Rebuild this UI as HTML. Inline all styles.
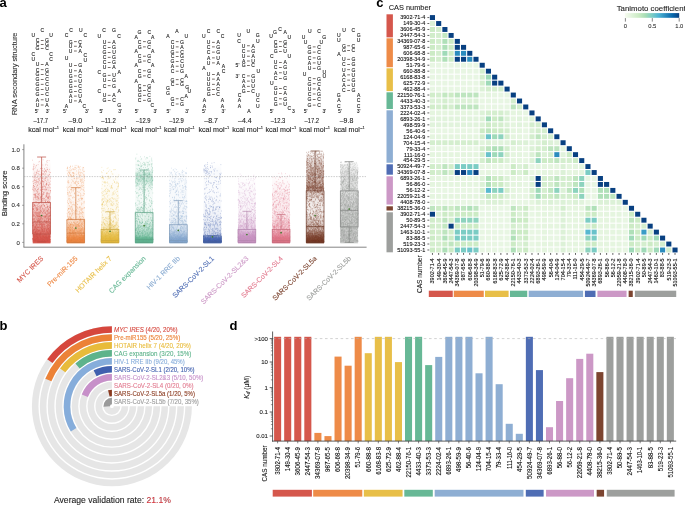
<!DOCTYPE html>
<html><head><meta charset="utf-8"><style>
html,body{margin:0;padding:0;background:#fff;overflow:hidden}
svg{display:block;font-family:"Liberation Sans", sans-serif;will-change:transform}
</style></head><body>
<svg width="685" height="505" viewBox="0 0 685 505">
<defs><linearGradient id="g0" x1="0" y1="0" x2="0" y2="1"><stop offset="0.006" stop-color="#d5574c" stop-opacity="0.000"/><stop offset="0.026" stop-color="#d5574c" stop-opacity="0.001"/><stop offset="0.045" stop-color="#d5574c" stop-opacity="0.004"/><stop offset="0.065" stop-color="#d5574c" stop-opacity="0.011"/><stop offset="0.085" stop-color="#d5574c" stop-opacity="0.023"/><stop offset="0.105" stop-color="#d5574c" stop-opacity="0.034"/><stop offset="0.124" stop-color="#d5574c" stop-opacity="0.043"/><stop offset="0.144" stop-color="#d5574c" stop-opacity="0.053"/><stop offset="0.164" stop-color="#d5574c" stop-opacity="0.063"/><stop offset="0.184" stop-color="#d5574c" stop-opacity="0.074"/><stop offset="0.203" stop-color="#d5574c" stop-opacity="0.083"/><stop offset="0.223" stop-color="#d5574c" stop-opacity="0.093"/><stop offset="0.243" stop-color="#d5574c" stop-opacity="0.102"/><stop offset="0.263" stop-color="#d5574c" stop-opacity="0.111"/><stop offset="0.282" stop-color="#d5574c" stop-opacity="0.120"/><stop offset="0.302" stop-color="#d5574c" stop-opacity="0.128"/><stop offset="0.322" stop-color="#d5574c" stop-opacity="0.135"/><stop offset="0.342" stop-color="#d5574c" stop-opacity="0.142"/><stop offset="0.361" stop-color="#d5574c" stop-opacity="0.149"/><stop offset="0.381" stop-color="#d5574c" stop-opacity="0.154"/><stop offset="0.401" stop-color="#d5574c" stop-opacity="0.159"/><stop offset="0.421" stop-color="#d5574c" stop-opacity="0.163"/><stop offset="0.440" stop-color="#d5574c" stop-opacity="0.167"/><stop offset="0.460" stop-color="#d5574c" stop-opacity="0.170"/><stop offset="0.480" stop-color="#d5574c" stop-opacity="0.172"/><stop offset="0.500" stop-color="#d5574c" stop-opacity="0.174"/><stop offset="0.519" stop-color="#d5574c" stop-opacity="0.174"/><stop offset="0.539" stop-color="#d5574c" stop-opacity="0.191"/><stop offset="0.559" stop-color="#d5574c" stop-opacity="0.225"/><stop offset="0.579" stop-color="#d5574c" stop-opacity="0.257"/><stop offset="0.598" stop-color="#d5574c" stop-opacity="0.288"/><stop offset="0.618" stop-color="#d5574c" stop-opacity="0.317"/><stop offset="0.638" stop-color="#d5574c" stop-opacity="0.345"/><stop offset="0.658" stop-color="#d5574c" stop-opacity="0.371"/><stop offset="0.677" stop-color="#d5574c" stop-opacity="0.395"/><stop offset="0.697" stop-color="#d5574c" stop-opacity="0.417"/><stop offset="0.717" stop-color="#d5574c" stop-opacity="0.437"/><stop offset="0.737" stop-color="#d5574c" stop-opacity="0.456"/><stop offset="0.756" stop-color="#d5574c" stop-opacity="0.477"/><stop offset="0.776" stop-color="#d5574c" stop-opacity="0.525"/><stop offset="0.796" stop-color="#d5574c" stop-opacity="0.572"/><stop offset="0.816" stop-color="#d5574c" stop-opacity="0.620"/><stop offset="0.835" stop-color="#d5574c" stop-opacity="0.665"/><stop offset="0.855" stop-color="#d5574c" stop-opacity="0.710"/><stop offset="0.875" stop-color="#d5574c" stop-opacity="0.751"/><stop offset="0.895" stop-color="#d5574c" stop-opacity="0.797"/><stop offset="0.914" stop-color="#d5574c" stop-opacity="0.870"/><stop offset="0.934" stop-color="#d5574c" stop-opacity="0.913"/><stop offset="0.954" stop-color="#d5574c" stop-opacity="0.938"/><stop offset="0.974" stop-color="#d5574c" stop-opacity="0.952"/><stop offset="1" stop-color="#d5574c" stop-opacity="0.930"/></linearGradient><linearGradient id="g1" x1="0" y1="0" x2="0" y2="1"><stop offset="0.006" stop-color="#ee8b48" stop-opacity="0.000"/><stop offset="0.026" stop-color="#ee8b48" stop-opacity="0.013"/><stop offset="0.046" stop-color="#ee8b48" stop-opacity="0.026"/><stop offset="0.066" stop-color="#ee8b48" stop-opacity="0.040"/><stop offset="0.085" stop-color="#ee8b48" stop-opacity="0.055"/><stop offset="0.105" stop-color="#ee8b48" stop-opacity="0.068"/><stop offset="0.125" stop-color="#ee8b48" stop-opacity="0.069"/><stop offset="0.144" stop-color="#ee8b48" stop-opacity="0.071"/><stop offset="0.164" stop-color="#ee8b48" stop-opacity="0.073"/><stop offset="0.184" stop-color="#ee8b48" stop-opacity="0.074"/><stop offset="0.204" stop-color="#ee8b48" stop-opacity="0.076"/><stop offset="0.223" stop-color="#ee8b48" stop-opacity="0.077"/><stop offset="0.243" stop-color="#ee8b48" stop-opacity="0.079"/><stop offset="0.263" stop-color="#ee8b48" stop-opacity="0.081"/><stop offset="0.282" stop-color="#ee8b48" stop-opacity="0.082"/><stop offset="0.302" stop-color="#ee8b48" stop-opacity="0.080"/><stop offset="0.322" stop-color="#ee8b48" stop-opacity="0.076"/><stop offset="0.342" stop-color="#ee8b48" stop-opacity="0.073"/><stop offset="0.361" stop-color="#ee8b48" stop-opacity="0.072"/><stop offset="0.381" stop-color="#ee8b48" stop-opacity="0.071"/><stop offset="0.401" stop-color="#ee8b48" stop-opacity="0.070"/><stop offset="0.420" stop-color="#ee8b48" stop-opacity="0.071"/><stop offset="0.440" stop-color="#ee8b48" stop-opacity="0.073"/><stop offset="0.460" stop-color="#ee8b48" stop-opacity="0.076"/><stop offset="0.480" stop-color="#ee8b48" stop-opacity="0.080"/><stop offset="0.499" stop-color="#ee8b48" stop-opacity="0.084"/><stop offset="0.519" stop-color="#ee8b48" stop-opacity="0.090"/><stop offset="0.539" stop-color="#ee8b48" stop-opacity="0.097"/><stop offset="0.558" stop-color="#ee8b48" stop-opacity="0.105"/><stop offset="0.578" stop-color="#ee8b48" stop-opacity="0.114"/><stop offset="0.598" stop-color="#ee8b48" stop-opacity="0.125"/><stop offset="0.618" stop-color="#ee8b48" stop-opacity="0.137"/><stop offset="0.637" stop-color="#ee8b48" stop-opacity="0.150"/><stop offset="0.657" stop-color="#ee8b48" stop-opacity="0.165"/><stop offset="0.677" stop-color="#ee8b48" stop-opacity="0.181"/><stop offset="0.696" stop-color="#ee8b48" stop-opacity="0.199"/><stop offset="0.716" stop-color="#ee8b48" stop-opacity="0.254"/><stop offset="0.736" stop-color="#ee8b48" stop-opacity="0.311"/><stop offset="0.756" stop-color="#ee8b48" stop-opacity="0.368"/><stop offset="0.775" stop-color="#ee8b48" stop-opacity="0.423"/><stop offset="0.795" stop-color="#ee8b48" stop-opacity="0.476"/><stop offset="0.815" stop-color="#ee8b48" stop-opacity="0.526"/><stop offset="0.834" stop-color="#ee8b48" stop-opacity="0.572"/><stop offset="0.854" stop-color="#ee8b48" stop-opacity="0.615"/><stop offset="0.874" stop-color="#ee8b48" stop-opacity="0.654"/><stop offset="0.894" stop-color="#ee8b48" stop-opacity="0.728"/><stop offset="0.913" stop-color="#ee8b48" stop-opacity="0.839"/><stop offset="0.933" stop-color="#ee8b48" stop-opacity="0.934"/><stop offset="0.953" stop-color="#ee8b48" stop-opacity="0.983"/><stop offset="0.972" stop-color="#ee8b48" stop-opacity="1.000"/><stop offset="1" stop-color="#ee8b48" stop-opacity="1.000"/></linearGradient><linearGradient id="g2" x1="0" y1="0" x2="0" y2="1"><stop offset="0.006" stop-color="#e8bf48" stop-opacity="0.000"/><stop offset="0.026" stop-color="#e8bf48" stop-opacity="0.001"/><stop offset="0.046" stop-color="#e8bf48" stop-opacity="0.003"/><stop offset="0.066" stop-color="#e8bf48" stop-opacity="0.006"/><stop offset="0.085" stop-color="#e8bf48" stop-opacity="0.011"/><stop offset="0.105" stop-color="#e8bf48" stop-opacity="0.017"/><stop offset="0.125" stop-color="#e8bf48" stop-opacity="0.021"/><stop offset="0.144" stop-color="#e8bf48" stop-opacity="0.025"/><stop offset="0.164" stop-color="#e8bf48" stop-opacity="0.029"/><stop offset="0.184" stop-color="#e8bf48" stop-opacity="0.034"/><stop offset="0.204" stop-color="#e8bf48" stop-opacity="0.038"/><stop offset="0.223" stop-color="#e8bf48" stop-opacity="0.042"/><stop offset="0.243" stop-color="#e8bf48" stop-opacity="0.046"/><stop offset="0.263" stop-color="#e8bf48" stop-opacity="0.050"/><stop offset="0.282" stop-color="#e8bf48" stop-opacity="0.054"/><stop offset="0.302" stop-color="#e8bf48" stop-opacity="0.058"/><stop offset="0.322" stop-color="#e8bf48" stop-opacity="0.061"/><stop offset="0.342" stop-color="#e8bf48" stop-opacity="0.065"/><stop offset="0.361" stop-color="#e8bf48" stop-opacity="0.068"/><stop offset="0.381" stop-color="#e8bf48" stop-opacity="0.071"/><stop offset="0.401" stop-color="#e8bf48" stop-opacity="0.074"/><stop offset="0.420" stop-color="#e8bf48" stop-opacity="0.077"/><stop offset="0.440" stop-color="#e8bf48" stop-opacity="0.079"/><stop offset="0.460" stop-color="#e8bf48" stop-opacity="0.081"/><stop offset="0.480" stop-color="#e8bf48" stop-opacity="0.083"/><stop offset="0.499" stop-color="#e8bf48" stop-opacity="0.084"/><stop offset="0.519" stop-color="#e8bf48" stop-opacity="0.086"/><stop offset="0.539" stop-color="#e8bf48" stop-opacity="0.087"/><stop offset="0.558" stop-color="#e8bf48" stop-opacity="0.088"/><stop offset="0.578" stop-color="#e8bf48" stop-opacity="0.088"/><stop offset="0.598" stop-color="#e8bf48" stop-opacity="0.089"/><stop offset="0.618" stop-color="#e8bf48" stop-opacity="0.092"/><stop offset="0.637" stop-color="#e8bf48" stop-opacity="0.099"/><stop offset="0.657" stop-color="#e8bf48" stop-opacity="0.109"/><stop offset="0.677" stop-color="#e8bf48" stop-opacity="0.122"/><stop offset="0.696" stop-color="#e8bf48" stop-opacity="0.139"/><stop offset="0.716" stop-color="#e8bf48" stop-opacity="0.160"/><stop offset="0.736" stop-color="#e8bf48" stop-opacity="0.185"/><stop offset="0.755" stop-color="#e8bf48" stop-opacity="0.215"/><stop offset="0.775" stop-color="#e8bf48" stop-opacity="0.249"/><stop offset="0.795" stop-color="#e8bf48" stop-opacity="0.287"/><stop offset="0.815" stop-color="#e8bf48" stop-opacity="0.330"/><stop offset="0.834" stop-color="#e8bf48" stop-opacity="0.485"/><stop offset="0.854" stop-color="#e8bf48" stop-opacity="0.647"/><stop offset="0.874" stop-color="#e8bf48" stop-opacity="0.767"/><stop offset="0.893" stop-color="#e8bf48" stop-opacity="0.850"/><stop offset="0.913" stop-color="#e8bf48" stop-opacity="0.904"/><stop offset="0.933" stop-color="#e8bf48" stop-opacity="0.987"/><stop offset="0.953" stop-color="#e8bf48" stop-opacity="0.999"/><stop offset="0.972" stop-color="#e8bf48" stop-opacity="1.000"/><stop offset="1" stop-color="#e8bf48" stop-opacity="1.000"/></linearGradient><linearGradient id="g3" x1="0" y1="0" x2="0" y2="1"><stop offset="0.006" stop-color="#67b896" stop-opacity="0.000"/><stop offset="0.025" stop-color="#67b896" stop-opacity="0.001"/><stop offset="0.045" stop-color="#67b896" stop-opacity="0.007"/><stop offset="0.065" stop-color="#67b896" stop-opacity="0.019"/><stop offset="0.085" stop-color="#67b896" stop-opacity="0.036"/><stop offset="0.104" stop-color="#67b896" stop-opacity="0.048"/><stop offset="0.124" stop-color="#67b896" stop-opacity="0.058"/><stop offset="0.144" stop-color="#67b896" stop-opacity="0.065"/><stop offset="0.164" stop-color="#67b896" stop-opacity="0.071"/><stop offset="0.183" stop-color="#67b896" stop-opacity="0.075"/><stop offset="0.203" stop-color="#67b896" stop-opacity="0.133"/><stop offset="0.223" stop-color="#67b896" stop-opacity="0.210"/><stop offset="0.243" stop-color="#67b896" stop-opacity="0.268"/><stop offset="0.262" stop-color="#67b896" stop-opacity="0.301"/><stop offset="0.282" stop-color="#67b896" stop-opacity="0.309"/><stop offset="0.302" stop-color="#67b896" stop-opacity="0.293"/><stop offset="0.322" stop-color="#67b896" stop-opacity="0.252"/><stop offset="0.342" stop-color="#67b896" stop-opacity="0.188"/><stop offset="0.361" stop-color="#67b896" stop-opacity="0.130"/><stop offset="0.381" stop-color="#67b896" stop-opacity="0.110"/><stop offset="0.401" stop-color="#67b896" stop-opacity="0.094"/><stop offset="0.421" stop-color="#67b896" stop-opacity="0.082"/><stop offset="0.440" stop-color="#67b896" stop-opacity="0.072"/><stop offset="0.460" stop-color="#67b896" stop-opacity="0.065"/><stop offset="0.480" stop-color="#67b896" stop-opacity="0.061"/><stop offset="0.500" stop-color="#67b896" stop-opacity="0.060"/><stop offset="0.519" stop-color="#67b896" stop-opacity="0.060"/><stop offset="0.539" stop-color="#67b896" stop-opacity="0.063"/><stop offset="0.559" stop-color="#67b896" stop-opacity="0.069"/><stop offset="0.579" stop-color="#67b896" stop-opacity="0.077"/><stop offset="0.599" stop-color="#67b896" stop-opacity="0.088"/><stop offset="0.618" stop-color="#67b896" stop-opacity="0.103"/><stop offset="0.638" stop-color="#67b896" stop-opacity="0.121"/><stop offset="0.658" stop-color="#67b896" stop-opacity="0.143"/><stop offset="0.678" stop-color="#67b896" stop-opacity="0.146"/><stop offset="0.697" stop-color="#67b896" stop-opacity="0.152"/><stop offset="0.717" stop-color="#67b896" stop-opacity="0.163"/><stop offset="0.737" stop-color="#67b896" stop-opacity="0.180"/><stop offset="0.757" stop-color="#67b896" stop-opacity="0.203"/><stop offset="0.776" stop-color="#67b896" stop-opacity="0.233"/><stop offset="0.796" stop-color="#67b896" stop-opacity="0.270"/><stop offset="0.816" stop-color="#67b896" stop-opacity="0.314"/><stop offset="0.836" stop-color="#67b896" stop-opacity="0.364"/><stop offset="0.856" stop-color="#67b896" stop-opacity="0.419"/><stop offset="0.875" stop-color="#67b896" stop-opacity="0.479"/><stop offset="0.895" stop-color="#67b896" stop-opacity="0.542"/><stop offset="0.915" stop-color="#67b896" stop-opacity="0.605"/><stop offset="0.935" stop-color="#67b896" stop-opacity="0.883"/><stop offset="0.954" stop-color="#67b896" stop-opacity="0.991"/><stop offset="0.974" stop-color="#67b896" stop-opacity="1.000"/><stop offset="1" stop-color="#67b896" stop-opacity="1.000"/></linearGradient><linearGradient id="g4" x1="0" y1="0" x2="0" y2="1"><stop offset="0.007" stop-color="#8eaed3" stop-opacity="0.000"/><stop offset="0.026" stop-color="#8eaed3" stop-opacity="0.005"/><stop offset="0.046" stop-color="#8eaed3" stop-opacity="0.011"/><stop offset="0.066" stop-color="#8eaed3" stop-opacity="0.018"/><stop offset="0.085" stop-color="#8eaed3" stop-opacity="0.027"/><stop offset="0.105" stop-color="#8eaed3" stop-opacity="0.037"/><stop offset="0.125" stop-color="#8eaed3" stop-opacity="0.040"/><stop offset="0.145" stop-color="#8eaed3" stop-opacity="0.044"/><stop offset="0.164" stop-color="#8eaed3" stop-opacity="0.047"/><stop offset="0.184" stop-color="#8eaed3" stop-opacity="0.050"/><stop offset="0.204" stop-color="#8eaed3" stop-opacity="0.053"/><stop offset="0.223" stop-color="#8eaed3" stop-opacity="0.056"/><stop offset="0.243" stop-color="#8eaed3" stop-opacity="0.059"/><stop offset="0.263" stop-color="#8eaed3" stop-opacity="0.062"/><stop offset="0.282" stop-color="#8eaed3" stop-opacity="0.064"/><stop offset="0.302" stop-color="#8eaed3" stop-opacity="0.067"/><stop offset="0.322" stop-color="#8eaed3" stop-opacity="0.069"/><stop offset="0.342" stop-color="#8eaed3" stop-opacity="0.071"/><stop offset="0.361" stop-color="#8eaed3" stop-opacity="0.073"/><stop offset="0.381" stop-color="#8eaed3" stop-opacity="0.075"/><stop offset="0.401" stop-color="#8eaed3" stop-opacity="0.077"/><stop offset="0.420" stop-color="#8eaed3" stop-opacity="0.078"/><stop offset="0.440" stop-color="#8eaed3" stop-opacity="0.079"/><stop offset="0.460" stop-color="#8eaed3" stop-opacity="0.080"/><stop offset="0.479" stop-color="#8eaed3" stop-opacity="0.082"/><stop offset="0.499" stop-color="#8eaed3" stop-opacity="0.085"/><stop offset="0.519" stop-color="#8eaed3" stop-opacity="0.089"/><stop offset="0.539" stop-color="#8eaed3" stop-opacity="0.094"/><stop offset="0.558" stop-color="#8eaed3" stop-opacity="0.101"/><stop offset="0.578" stop-color="#8eaed3" stop-opacity="0.108"/><stop offset="0.598" stop-color="#8eaed3" stop-opacity="0.117"/><stop offset="0.617" stop-color="#8eaed3" stop-opacity="0.128"/><stop offset="0.637" stop-color="#8eaed3" stop-opacity="0.140"/><stop offset="0.657" stop-color="#8eaed3" stop-opacity="0.153"/><stop offset="0.676" stop-color="#8eaed3" stop-opacity="0.168"/><stop offset="0.696" stop-color="#8eaed3" stop-opacity="0.184"/><stop offset="0.716" stop-color="#8eaed3" stop-opacity="0.203"/><stop offset="0.736" stop-color="#8eaed3" stop-opacity="0.222"/><stop offset="0.755" stop-color="#8eaed3" stop-opacity="0.244"/><stop offset="0.775" stop-color="#8eaed3" stop-opacity="0.275"/><stop offset="0.795" stop-color="#8eaed3" stop-opacity="0.323"/><stop offset="0.814" stop-color="#8eaed3" stop-opacity="0.386"/><stop offset="0.834" stop-color="#8eaed3" stop-opacity="0.463"/><stop offset="0.854" stop-color="#8eaed3" stop-opacity="0.550"/><stop offset="0.874" stop-color="#8eaed3" stop-opacity="0.641"/><stop offset="0.893" stop-color="#8eaed3" stop-opacity="0.729"/><stop offset="0.913" stop-color="#8eaed3" stop-opacity="0.809"/><stop offset="0.933" stop-color="#8eaed3" stop-opacity="0.991"/><stop offset="0.952" stop-color="#8eaed3" stop-opacity="1.000"/><stop offset="0.972" stop-color="#8eaed3" stop-opacity="1.000"/><stop offset="1" stop-color="#8eaed3" stop-opacity="1.000"/></linearGradient><linearGradient id="g5" x1="0" y1="0" x2="0" y2="1"><stop offset="0.006" stop-color="#4f6db4" stop-opacity="0.000"/><stop offset="0.026" stop-color="#4f6db4" stop-opacity="0.005"/><stop offset="0.046" stop-color="#4f6db4" stop-opacity="0.011"/><stop offset="0.065" stop-color="#4f6db4" stop-opacity="0.018"/><stop offset="0.085" stop-color="#4f6db4" stop-opacity="0.027"/><stop offset="0.105" stop-color="#4f6db4" stop-opacity="0.034"/><stop offset="0.125" stop-color="#4f6db4" stop-opacity="0.038"/><stop offset="0.144" stop-color="#4f6db4" stop-opacity="0.037"/><stop offset="0.164" stop-color="#4f6db4" stop-opacity="0.034"/><stop offset="0.184" stop-color="#4f6db4" stop-opacity="0.032"/><stop offset="0.203" stop-color="#4f6db4" stop-opacity="0.030"/><stop offset="0.223" stop-color="#4f6db4" stop-opacity="0.029"/><stop offset="0.243" stop-color="#4f6db4" stop-opacity="0.028"/><stop offset="0.263" stop-color="#4f6db4" stop-opacity="0.027"/><stop offset="0.282" stop-color="#4f6db4" stop-opacity="0.026"/><stop offset="0.302" stop-color="#4f6db4" stop-opacity="0.026"/><stop offset="0.322" stop-color="#4f6db4" stop-opacity="0.026"/><stop offset="0.342" stop-color="#4f6db4" stop-opacity="0.027"/><stop offset="0.361" stop-color="#4f6db4" stop-opacity="0.027"/><stop offset="0.381" stop-color="#4f6db4" stop-opacity="0.028"/><stop offset="0.401" stop-color="#4f6db4" stop-opacity="0.030"/><stop offset="0.420" stop-color="#4f6db4" stop-opacity="0.032"/><stop offset="0.440" stop-color="#4f6db4" stop-opacity="0.034"/><stop offset="0.460" stop-color="#4f6db4" stop-opacity="0.036"/><stop offset="0.480" stop-color="#4f6db4" stop-opacity="0.039"/><stop offset="0.499" stop-color="#4f6db4" stop-opacity="0.043"/><stop offset="0.519" stop-color="#4f6db4" stop-opacity="0.047"/><stop offset="0.539" stop-color="#4f6db4" stop-opacity="0.051"/><stop offset="0.559" stop-color="#4f6db4" stop-opacity="0.056"/><stop offset="0.578" stop-color="#4f6db4" stop-opacity="0.062"/><stop offset="0.598" stop-color="#4f6db4" stop-opacity="0.068"/><stop offset="0.618" stop-color="#4f6db4" stop-opacity="0.075"/><stop offset="0.637" stop-color="#4f6db4" stop-opacity="0.082"/><stop offset="0.657" stop-color="#4f6db4" stop-opacity="0.091"/><stop offset="0.677" stop-color="#4f6db4" stop-opacity="0.099"/><stop offset="0.697" stop-color="#4f6db4" stop-opacity="0.109"/><stop offset="0.716" stop-color="#4f6db4" stop-opacity="0.119"/><stop offset="0.736" stop-color="#4f6db4" stop-opacity="0.130"/><stop offset="0.756" stop-color="#4f6db4" stop-opacity="0.142"/><stop offset="0.776" stop-color="#4f6db4" stop-opacity="0.155"/><stop offset="0.795" stop-color="#4f6db4" stop-opacity="0.168"/><stop offset="0.815" stop-color="#4f6db4" stop-opacity="0.183"/><stop offset="0.835" stop-color="#4f6db4" stop-opacity="0.198"/><stop offset="0.855" stop-color="#4f6db4" stop-opacity="0.214"/><stop offset="0.874" stop-color="#4f6db4" stop-opacity="0.230"/><stop offset="0.894" stop-color="#4f6db4" stop-opacity="0.248"/><stop offset="0.914" stop-color="#4f6db4" stop-opacity="0.526"/><stop offset="0.933" stop-color="#4f6db4" stop-opacity="0.945"/><stop offset="0.953" stop-color="#4f6db4" stop-opacity="0.996"/><stop offset="0.973" stop-color="#4f6db4" stop-opacity="1.000"/><stop offset="1" stop-color="#4f6db4" stop-opacity="1.000"/></linearGradient><linearGradient id="g6" x1="0" y1="0" x2="0" y2="1"><stop offset="0.007" stop-color="#cc98c6" stop-opacity="0.000"/><stop offset="0.027" stop-color="#cc98c6" stop-opacity="0.000"/><stop offset="0.046" stop-color="#cc98c6" stop-opacity="0.002"/><stop offset="0.066" stop-color="#cc98c6" stop-opacity="0.005"/><stop offset="0.086" stop-color="#cc98c6" stop-opacity="0.010"/><stop offset="0.105" stop-color="#cc98c6" stop-opacity="0.017"/><stop offset="0.125" stop-color="#cc98c6" stop-opacity="0.023"/><stop offset="0.145" stop-color="#cc98c6" stop-opacity="0.029"/><stop offset="0.164" stop-color="#cc98c6" stop-opacity="0.034"/><stop offset="0.184" stop-color="#cc98c6" stop-opacity="0.040"/><stop offset="0.204" stop-color="#cc98c6" stop-opacity="0.046"/><stop offset="0.223" stop-color="#cc98c6" stop-opacity="0.052"/><stop offset="0.243" stop-color="#cc98c6" stop-opacity="0.057"/><stop offset="0.263" stop-color="#cc98c6" stop-opacity="0.063"/><stop offset="0.283" stop-color="#cc98c6" stop-opacity="0.068"/><stop offset="0.302" stop-color="#cc98c6" stop-opacity="0.073"/><stop offset="0.322" stop-color="#cc98c6" stop-opacity="0.078"/><stop offset="0.342" stop-color="#cc98c6" stop-opacity="0.083"/><stop offset="0.361" stop-color="#cc98c6" stop-opacity="0.088"/><stop offset="0.381" stop-color="#cc98c6" stop-opacity="0.092"/><stop offset="0.401" stop-color="#cc98c6" stop-opacity="0.096"/><stop offset="0.420" stop-color="#cc98c6" stop-opacity="0.099"/><stop offset="0.440" stop-color="#cc98c6" stop-opacity="0.102"/><stop offset="0.460" stop-color="#cc98c6" stop-opacity="0.105"/><stop offset="0.479" stop-color="#cc98c6" stop-opacity="0.108"/><stop offset="0.499" stop-color="#cc98c6" stop-opacity="0.110"/><stop offset="0.519" stop-color="#cc98c6" stop-opacity="0.112"/><stop offset="0.538" stop-color="#cc98c6" stop-opacity="0.113"/><stop offset="0.558" stop-color="#cc98c6" stop-opacity="0.123"/><stop offset="0.578" stop-color="#cc98c6" stop-opacity="0.143"/><stop offset="0.597" stop-color="#cc98c6" stop-opacity="0.164"/><stop offset="0.617" stop-color="#cc98c6" stop-opacity="0.187"/><stop offset="0.637" stop-color="#cc98c6" stop-opacity="0.211"/><stop offset="0.656" stop-color="#cc98c6" stop-opacity="0.237"/><stop offset="0.676" stop-color="#cc98c6" stop-opacity="0.263"/><stop offset="0.696" stop-color="#cc98c6" stop-opacity="0.290"/><stop offset="0.715" stop-color="#cc98c6" stop-opacity="0.319"/><stop offset="0.735" stop-color="#cc98c6" stop-opacity="0.348"/><stop offset="0.755" stop-color="#cc98c6" stop-opacity="0.377"/><stop offset="0.774" stop-color="#cc98c6" stop-opacity="0.407"/><stop offset="0.794" stop-color="#cc98c6" stop-opacity="0.438"/><stop offset="0.814" stop-color="#cc98c6" stop-opacity="0.491"/><stop offset="0.833" stop-color="#cc98c6" stop-opacity="0.583"/><stop offset="0.853" stop-color="#cc98c6" stop-opacity="0.688"/><stop offset="0.873" stop-color="#cc98c6" stop-opacity="0.793"/><stop offset="0.892" stop-color="#cc98c6" stop-opacity="0.880"/><stop offset="0.912" stop-color="#cc98c6" stop-opacity="0.979"/><stop offset="0.932" stop-color="#cc98c6" stop-opacity="0.999"/><stop offset="0.952" stop-color="#cc98c6" stop-opacity="1.000"/><stop offset="0.971" stop-color="#cc98c6" stop-opacity="1.000"/><stop offset="1" stop-color="#cc98c6" stop-opacity="1.000"/></linearGradient><linearGradient id="g7" x1="0" y1="0" x2="0" y2="1"><stop offset="0.007" stop-color="#e27a8f" stop-opacity="0.000"/><stop offset="0.026" stop-color="#e27a8f" stop-opacity="0.000"/><stop offset="0.046" stop-color="#e27a8f" stop-opacity="0.002"/><stop offset="0.066" stop-color="#e27a8f" stop-opacity="0.006"/><stop offset="0.086" stop-color="#e27a8f" stop-opacity="0.013"/><stop offset="0.105" stop-color="#e27a8f" stop-opacity="0.023"/><stop offset="0.125" stop-color="#e27a8f" stop-opacity="0.030"/><stop offset="0.145" stop-color="#e27a8f" stop-opacity="0.037"/><stop offset="0.164" stop-color="#e27a8f" stop-opacity="0.045"/><stop offset="0.184" stop-color="#e27a8f" stop-opacity="0.052"/><stop offset="0.204" stop-color="#e27a8f" stop-opacity="0.060"/><stop offset="0.223" stop-color="#e27a8f" stop-opacity="0.067"/><stop offset="0.243" stop-color="#e27a8f" stop-opacity="0.075"/><stop offset="0.263" stop-color="#e27a8f" stop-opacity="0.082"/><stop offset="0.282" stop-color="#e27a8f" stop-opacity="0.089"/><stop offset="0.302" stop-color="#e27a8f" stop-opacity="0.096"/><stop offset="0.322" stop-color="#e27a8f" stop-opacity="0.102"/><stop offset="0.342" stop-color="#e27a8f" stop-opacity="0.109"/><stop offset="0.361" stop-color="#e27a8f" stop-opacity="0.115"/><stop offset="0.381" stop-color="#e27a8f" stop-opacity="0.120"/><stop offset="0.401" stop-color="#e27a8f" stop-opacity="0.125"/><stop offset="0.420" stop-color="#e27a8f" stop-opacity="0.130"/><stop offset="0.440" stop-color="#e27a8f" stop-opacity="0.135"/><stop offset="0.460" stop-color="#e27a8f" stop-opacity="0.139"/><stop offset="0.479" stop-color="#e27a8f" stop-opacity="0.143"/><stop offset="0.499" stop-color="#e27a8f" stop-opacity="0.146"/><stop offset="0.519" stop-color="#e27a8f" stop-opacity="0.149"/><stop offset="0.538" stop-color="#e27a8f" stop-opacity="0.151"/><stop offset="0.558" stop-color="#e27a8f" stop-opacity="0.153"/><stop offset="0.578" stop-color="#e27a8f" stop-opacity="0.155"/><stop offset="0.598" stop-color="#e27a8f" stop-opacity="0.156"/><stop offset="0.617" stop-color="#e27a8f" stop-opacity="0.166"/><stop offset="0.637" stop-color="#e27a8f" stop-opacity="0.194"/><stop offset="0.657" stop-color="#e27a8f" stop-opacity="0.223"/><stop offset="0.676" stop-color="#e27a8f" stop-opacity="0.252"/><stop offset="0.696" stop-color="#e27a8f" stop-opacity="0.282"/><stop offset="0.716" stop-color="#e27a8f" stop-opacity="0.312"/><stop offset="0.735" stop-color="#e27a8f" stop-opacity="0.342"/><stop offset="0.755" stop-color="#e27a8f" stop-opacity="0.372"/><stop offset="0.775" stop-color="#e27a8f" stop-opacity="0.402"/><stop offset="0.794" stop-color="#e27a8f" stop-opacity="0.432"/><stop offset="0.814" stop-color="#e27a8f" stop-opacity="0.462"/><stop offset="0.834" stop-color="#e27a8f" stop-opacity="0.512"/><stop offset="0.854" stop-color="#e27a8f" stop-opacity="0.596"/><stop offset="0.873" stop-color="#e27a8f" stop-opacity="0.699"/><stop offset="0.893" stop-color="#e27a8f" stop-opacity="0.804"/><stop offset="0.913" stop-color="#e27a8f" stop-opacity="0.913"/><stop offset="0.932" stop-color="#e27a8f" stop-opacity="0.996"/><stop offset="0.952" stop-color="#e27a8f" stop-opacity="0.999"/><stop offset="0.972" stop-color="#e27a8f" stop-opacity="1.000"/><stop offset="1" stop-color="#e27a8f" stop-opacity="1.000"/></linearGradient><linearGradient id="g8" x1="0" y1="0" x2="0" y2="1"><stop offset="0.005" stop-color="#7c4430" stop-opacity="0.000"/><stop offset="0.025" stop-color="#7c4430" stop-opacity="0.019"/><stop offset="0.045" stop-color="#7c4430" stop-opacity="0.050"/><stop offset="0.065" stop-color="#7c4430" stop-opacity="0.093"/><stop offset="0.084" stop-color="#7c4430" stop-opacity="0.148"/><stop offset="0.104" stop-color="#7c4430" stop-opacity="0.173"/><stop offset="0.124" stop-color="#7c4430" stop-opacity="0.196"/><stop offset="0.144" stop-color="#7c4430" stop-opacity="0.218"/><stop offset="0.164" stop-color="#7c4430" stop-opacity="0.239"/><stop offset="0.183" stop-color="#7c4430" stop-opacity="0.258"/><stop offset="0.203" stop-color="#7c4430" stop-opacity="0.276"/><stop offset="0.223" stop-color="#7c4430" stop-opacity="0.293"/><stop offset="0.243" stop-color="#7c4430" stop-opacity="0.307"/><stop offset="0.262" stop-color="#7c4430" stop-opacity="0.320"/><stop offset="0.282" stop-color="#7c4430" stop-opacity="0.332"/><stop offset="0.302" stop-color="#7c4430" stop-opacity="0.341"/><stop offset="0.322" stop-color="#7c4430" stop-opacity="0.350"/><stop offset="0.342" stop-color="#7c4430" stop-opacity="0.356"/><stop offset="0.361" stop-color="#7c4430" stop-opacity="0.361"/><stop offset="0.381" stop-color="#7c4430" stop-opacity="0.458"/><stop offset="0.401" stop-color="#7c4430" stop-opacity="0.559"/><stop offset="0.421" stop-color="#7c4430" stop-opacity="0.498"/><stop offset="0.440" stop-color="#7c4430" stop-opacity="0.294"/><stop offset="0.460" stop-color="#7c4430" stop-opacity="0.251"/><stop offset="0.480" stop-color="#7c4430" stop-opacity="0.214"/><stop offset="0.500" stop-color="#7c4430" stop-opacity="0.182"/><stop offset="0.520" stop-color="#7c4430" stop-opacity="0.155"/><stop offset="0.539" stop-color="#7c4430" stop-opacity="0.135"/><stop offset="0.559" stop-color="#7c4430" stop-opacity="0.119"/><stop offset="0.579" stop-color="#7c4430" stop-opacity="0.107"/><stop offset="0.599" stop-color="#7c4430" stop-opacity="0.101"/><stop offset="0.618" stop-color="#7c4430" stop-opacity="0.098"/><stop offset="0.638" stop-color="#7c4430" stop-opacity="0.099"/><stop offset="0.658" stop-color="#7c4430" stop-opacity="0.105"/><stop offset="0.678" stop-color="#7c4430" stop-opacity="0.115"/><stop offset="0.698" stop-color="#7c4430" stop-opacity="0.129"/><stop offset="0.717" stop-color="#7c4430" stop-opacity="0.148"/><stop offset="0.737" stop-color="#7c4430" stop-opacity="0.173"/><stop offset="0.757" stop-color="#7c4430" stop-opacity="0.203"/><stop offset="0.777" stop-color="#7c4430" stop-opacity="0.239"/><stop offset="0.796" stop-color="#7c4430" stop-opacity="0.280"/><stop offset="0.816" stop-color="#7c4430" stop-opacity="0.327"/><stop offset="0.836" stop-color="#7c4430" stop-opacity="0.349"/><stop offset="0.856" stop-color="#7c4430" stop-opacity="0.405"/><stop offset="0.876" stop-color="#7c4430" stop-opacity="0.503"/><stop offset="0.895" stop-color="#7c4430" stop-opacity="0.631"/><stop offset="0.915" stop-color="#7c4430" stop-opacity="0.763"/><stop offset="0.935" stop-color="#7c4430" stop-opacity="0.874"/><stop offset="0.955" stop-color="#7c4430" stop-opacity="0.947"/><stop offset="0.974" stop-color="#7c4430" stop-opacity="1.000"/><stop offset="1" stop-color="#7c4430" stop-opacity="1.000"/></linearGradient><linearGradient id="g9" x1="0" y1="0" x2="0" y2="1"><stop offset="0.006" stop-color="#9d9f9d" stop-opacity="0.000"/><stop offset="0.026" stop-color="#9d9f9d" stop-opacity="0.034"/><stop offset="0.046" stop-color="#9d9f9d" stop-opacity="0.073"/><stop offset="0.065" stop-color="#9d9f9d" stop-opacity="0.117"/><stop offset="0.085" stop-color="#9d9f9d" stop-opacity="0.166"/><stop offset="0.105" stop-color="#9d9f9d" stop-opacity="0.202"/><stop offset="0.124" stop-color="#9d9f9d" stop-opacity="0.213"/><stop offset="0.144" stop-color="#9d9f9d" stop-opacity="0.223"/><stop offset="0.164" stop-color="#9d9f9d" stop-opacity="0.233"/><stop offset="0.184" stop-color="#9d9f9d" stop-opacity="0.243"/><stop offset="0.203" stop-color="#9d9f9d" stop-opacity="0.252"/><stop offset="0.223" stop-color="#9d9f9d" stop-opacity="0.261"/><stop offset="0.243" stop-color="#9d9f9d" stop-opacity="0.269"/><stop offset="0.263" stop-color="#9d9f9d" stop-opacity="0.277"/><stop offset="0.282" stop-color="#9d9f9d" stop-opacity="0.284"/><stop offset="0.302" stop-color="#9d9f9d" stop-opacity="0.291"/><stop offset="0.322" stop-color="#9d9f9d" stop-opacity="0.297"/><stop offset="0.342" stop-color="#9d9f9d" stop-opacity="0.303"/><stop offset="0.361" stop-color="#9d9f9d" stop-opacity="0.308"/><stop offset="0.381" stop-color="#9d9f9d" stop-opacity="0.331"/><stop offset="0.401" stop-color="#9d9f9d" stop-opacity="0.353"/><stop offset="0.420" stop-color="#9d9f9d" stop-opacity="0.372"/><stop offset="0.440" stop-color="#9d9f9d" stop-opacity="0.389"/><stop offset="0.460" stop-color="#9d9f9d" stop-opacity="0.403"/><stop offset="0.480" stop-color="#9d9f9d" stop-opacity="0.415"/><stop offset="0.499" stop-color="#9d9f9d" stop-opacity="0.426"/><stop offset="0.519" stop-color="#9d9f9d" stop-opacity="0.433"/><stop offset="0.539" stop-color="#9d9f9d" stop-opacity="0.439"/><stop offset="0.559" stop-color="#9d9f9d" stop-opacity="0.443"/><stop offset="0.578" stop-color="#9d9f9d" stop-opacity="0.445"/><stop offset="0.598" stop-color="#9d9f9d" stop-opacity="0.444"/><stop offset="0.618" stop-color="#9d9f9d" stop-opacity="0.457"/><stop offset="0.638" stop-color="#9d9f9d" stop-opacity="0.469"/><stop offset="0.657" stop-color="#9d9f9d" stop-opacity="0.479"/><stop offset="0.677" stop-color="#9d9f9d" stop-opacity="0.488"/><stop offset="0.697" stop-color="#9d9f9d" stop-opacity="0.495"/><stop offset="0.716" stop-color="#9d9f9d" stop-opacity="0.500"/><stop offset="0.736" stop-color="#9d9f9d" stop-opacity="0.504"/><stop offset="0.756" stop-color="#9d9f9d" stop-opacity="0.507"/><stop offset="0.776" stop-color="#9d9f9d" stop-opacity="0.508"/><stop offset="0.795" stop-color="#9d9f9d" stop-opacity="0.507"/><stop offset="0.815" stop-color="#9d9f9d" stop-opacity="0.510"/><stop offset="0.835" stop-color="#9d9f9d" stop-opacity="0.514"/><stop offset="0.855" stop-color="#9d9f9d" stop-opacity="0.518"/><stop offset="0.874" stop-color="#9d9f9d" stop-opacity="0.521"/><stop offset="0.894" stop-color="#9d9f9d" stop-opacity="0.525"/><stop offset="0.914" stop-color="#9d9f9d" stop-opacity="0.529"/><stop offset="0.934" stop-color="#9d9f9d" stop-opacity="0.532"/><stop offset="0.953" stop-color="#9d9f9d" stop-opacity="0.536"/><stop offset="0.973" stop-color="#9d9f9d" stop-opacity="0.539"/><stop offset="1" stop-color="#9d9f9d" stop-opacity="0.451"/></linearGradient><linearGradient id="gnbu" x1="0" y1="0" x2="1" y2="0"><stop offset="0.000" stop-color="rgb(247, 252, 240)"/><stop offset="0.125" stop-color="rgb(224, 243, 219)"/><stop offset="0.250" stop-color="rgb(204, 235, 197)"/><stop offset="0.375" stop-color="rgb(168, 221, 181)"/><stop offset="0.500" stop-color="rgb(123, 204, 196)"/><stop offset="0.625" stop-color="rgb(78, 179, 211)"/><stop offset="0.750" stop-color="rgb(43, 140, 190)"/><stop offset="0.875" stop-color="rgb(8, 104, 172)"/><stop offset="1.000" stop-color="rgb(8, 64, 129)"/></linearGradient></defs>
<rect width="685" height="505" fill="#fff"/>
<text x="-0.5" y="7.2" font-size="13" font-weight="bold" fill="#000">a</text>
<text transform="translate(17.3,115.1) rotate(-90)" font-size="6.7" fill="#333" textLength="82.6" lengthAdjust="spacingAndGlyphs" stroke="#333" stroke-width="0.1">RNA secondary structure</text>
<text transform="matrix(0.9 0 0 1 42.20 32.05)" font-size="5.6" fill="#1a1a1a" stroke="#1a1a1a" stroke-width="0.12" text-anchor="middle">C</text>
<text transform="matrix(0.9 0 0 1 33.30 37.25)" font-size="5.6" fill="#1a1a1a" stroke="#1a1a1a" stroke-width="0.12" text-anchor="middle">U</text>
<text transform="matrix(0.9 0 0 1 51.00 37.25)" font-size="5.6" fill="#1a1a1a" stroke="#1a1a1a" stroke-width="0.12" text-anchor="middle">U</text>
<text transform="matrix(0.9 0 0 1 37.45 42.45)" font-size="5.6" fill="#1a1a1a" stroke="#1a1a1a" stroke-width="0.12" text-anchor="middle">C</text>
<text transform="matrix(0.9 0 0 1 46.95 42.45)" font-size="5.6" fill="#1a1a1a" stroke="#1a1a1a" stroke-width="0.12" text-anchor="middle">G</text>
<rect x="40.80" y="40.20" width="2.8" height="0.8" fill="#5a4e48"/>
<text transform="matrix(0.9 0 0 1 37.45 46.25)" font-size="5.6" fill="#1a1a1a" stroke="#1a1a1a" stroke-width="0.12" text-anchor="middle">C</text>
<text transform="matrix(0.9 0 0 1 46.95 46.25)" font-size="5.6" fill="#1a1a1a" stroke="#1a1a1a" stroke-width="0.12" text-anchor="middle">G</text>
<rect x="40.80" y="44.00" width="2.8" height="0.8" fill="#5a4e48"/>
<text transform="matrix(0.9 0 0 1 37.45 50.35)" font-size="5.6" fill="#1a1a1a" stroke="#1a1a1a" stroke-width="0.12" text-anchor="middle">G</text>
<text transform="matrix(0.9 0 0 1 46.95 50.35)" font-size="5.6" fill="#1a1a1a" stroke="#1a1a1a" stroke-width="0.12" text-anchor="middle">C</text>
<rect x="40.80" y="48.10" width="2.8" height="0.8" fill="#5a4e48"/>
<text transform="matrix(0.9 0 0 1 33.30 55.95)" font-size="5.6" fill="#1a1a1a" stroke="#1a1a1a" stroke-width="0.12" text-anchor="middle">C</text>
<text transform="matrix(0.9 0 0 1 51.00 55.95)" font-size="5.6" fill="#1a1a1a" stroke="#1a1a1a" stroke-width="0.12" text-anchor="middle">C</text>
<text transform="matrix(0.9 0 0 1 33.30 61.15)" font-size="5.6" fill="#1a1a1a" stroke="#1a1a1a" stroke-width="0.12" text-anchor="middle">U</text>
<text transform="matrix(0.9 0 0 1 51.00 61.15)" font-size="5.6" fill="#1a1a1a" stroke="#1a1a1a" stroke-width="0.12" text-anchor="middle">C</text>
<text transform="matrix(0.9 0 0 1 37.45 66.35)" font-size="5.6" fill="#1a1a1a" stroke="#1a1a1a" stroke-width="0.12" text-anchor="middle">U</text>
<text transform="matrix(0.9 0 0 1 46.95 66.35)" font-size="5.6" fill="#1a1a1a" stroke="#1a1a1a" stroke-width="0.12" text-anchor="middle">A</text>
<rect x="40.80" y="64.10" width="2.8" height="0.8" fill="#5a4e48"/>
<text transform="matrix(0.9 0 0 1 37.45 71.55)" font-size="5.6" fill="#1a1a1a" stroke="#1a1a1a" stroke-width="0.12" text-anchor="middle">C</text>
<text transform="matrix(0.9 0 0 1 46.95 71.55)" font-size="5.6" fill="#1a1a1a" stroke="#1a1a1a" stroke-width="0.12" text-anchor="middle">G</text>
<rect x="40.80" y="69.30" width="2.8" height="0.8" fill="#5a4e48"/>
<text transform="matrix(0.9 0 0 1 37.45 76.35)" font-size="5.6" fill="#1a1a1a" stroke="#1a1a1a" stroke-width="0.12" text-anchor="middle">G</text>
<text transform="matrix(0.9 0 0 1 46.95 76.35)" font-size="5.6" fill="#1a1a1a" stroke="#1a1a1a" stroke-width="0.12" text-anchor="middle">C</text>
<rect x="40.80" y="74.10" width="2.8" height="0.8" fill="#5a4e48"/>
<text transform="matrix(0.9 0 0 1 37.45 81.35)" font-size="5.6" fill="#1a1a1a" stroke="#1a1a1a" stroke-width="0.12" text-anchor="middle">G</text>
<text transform="matrix(0.9 0 0 1 46.95 81.35)" font-size="5.6" fill="#1a1a1a" stroke="#1a1a1a" stroke-width="0.12" text-anchor="middle">C</text>
<rect x="40.80" y="79.10" width="2.8" height="0.8" fill="#5a4e48"/>
<text transform="matrix(0.9 0 0 1 37.45 86.15)" font-size="5.6" fill="#1a1a1a" stroke="#1a1a1a" stroke-width="0.12" text-anchor="middle">G</text>
<text transform="matrix(0.9 0 0 1 46.95 86.15)" font-size="5.6" fill="#1a1a1a" stroke="#1a1a1a" stroke-width="0.12" text-anchor="middle">C</text>
<rect x="40.80" y="83.90" width="2.8" height="0.8" fill="#5a4e48"/>
<text transform="matrix(0.9 0 0 1 37.45 91.25)" font-size="5.6" fill="#1a1a1a" stroke="#1a1a1a" stroke-width="0.12" text-anchor="middle">G</text>
<text transform="matrix(0.9 0 0 1 46.95 91.25)" font-size="5.6" fill="#1a1a1a" stroke="#1a1a1a" stroke-width="0.12" text-anchor="middle">U</text>
<rect x="40.80" y="89.00" width="2.8" height="0.8" fill="#5a4e48"/>
<text transform="matrix(0.9 0 0 1 37.45 96.45)" font-size="5.6" fill="#1a1a1a" stroke="#1a1a1a" stroke-width="0.12" text-anchor="middle">G</text>
<text transform="matrix(0.9 0 0 1 46.95 96.45)" font-size="5.6" fill="#1a1a1a" stroke="#1a1a1a" stroke-width="0.12" text-anchor="middle">C</text>
<rect x="40.80" y="94.20" width="2.8" height="0.8" fill="#5a4e48"/>
<text transform="matrix(0.9 0 0 1 37.45 101.65)" font-size="5.6" fill="#1a1a1a" stroke="#1a1a1a" stroke-width="0.12" text-anchor="middle">A</text>
<text transform="matrix(0.9 0 0 1 46.95 101.65)" font-size="5.6" fill="#1a1a1a" stroke="#1a1a1a" stroke-width="0.12" text-anchor="middle">U</text>
<rect x="40.80" y="99.40" width="2.8" height="0.8" fill="#5a4e48"/>
<text transform="matrix(0.9 0 0 1 37.45 106.85)" font-size="5.6" fill="#1a1a1a" stroke="#1a1a1a" stroke-width="0.12" text-anchor="middle">U</text>
<text transform="matrix(0.9 0 0 1 46.95 106.85)" font-size="5.6" fill="#1a1a1a" stroke="#1a1a1a" stroke-width="0.12" text-anchor="middle">A</text>
<rect x="40.80" y="104.60" width="2.8" height="0.8" fill="#5a4e48"/>
<text transform="matrix(0.9 0 0 1 36.70 113.15)" font-size="5.6" fill="#1a1a1a" stroke="#1a1a1a" stroke-width="0.12" text-anchor="middle">5'</text>
<text transform="matrix(0.9 0 0 1 47.70 113.15)" font-size="5.6" fill="#1a1a1a" stroke="#1a1a1a" stroke-width="0.12" text-anchor="middle">3'</text>
<text transform="matrix(0.9 0 0 1 71.10 32.05)" font-size="5.6" fill="#1a1a1a" stroke="#1a1a1a" stroke-width="0.12" text-anchor="middle">C</text>
<text transform="matrix(0.9 0 0 1 80.70 32.05)" font-size="5.6" fill="#1a1a1a" stroke="#1a1a1a" stroke-width="0.12" text-anchor="middle">U</text>
<text transform="matrix(0.9 0 0 1 66.50 37.25)" font-size="5.6" fill="#1a1a1a" stroke="#1a1a1a" stroke-width="0.12" text-anchor="middle">C</text>
<text transform="matrix(0.9 0 0 1 85.20 37.25)" font-size="5.6" fill="#1a1a1a" stroke="#1a1a1a" stroke-width="0.12" text-anchor="middle">C</text>
<text transform="matrix(0.9 0 0 1 70.65 43.55)" font-size="5.6" fill="#1a1a1a" stroke="#1a1a1a" stroke-width="0.12" text-anchor="middle">G</text>
<text transform="matrix(0.9 0 0 1 80.15 43.55)" font-size="5.6" fill="#1a1a1a" stroke="#1a1a1a" stroke-width="0.12" text-anchor="middle">C</text>
<rect x="74.00" y="41.30" width="2.8" height="0.8" fill="#5a4e48"/>
<text transform="matrix(0.9 0 0 1 70.65 48.05)" font-size="5.6" fill="#1a1a1a" stroke="#1a1a1a" stroke-width="0.12" text-anchor="middle">U</text>
<text transform="matrix(0.9 0 0 1 80.15 48.05)" font-size="5.6" fill="#1a1a1a" stroke="#1a1a1a" stroke-width="0.12" text-anchor="middle">A</text>
<rect x="74.00" y="45.80" width="2.8" height="0.8" fill="#5a4e48"/>
<text transform="matrix(0.9 0 0 1 70.65 52.85)" font-size="5.6" fill="#1a1a1a" stroke="#1a1a1a" stroke-width="0.12" text-anchor="middle">U</text>
<text transform="matrix(0.9 0 0 1 80.15 52.85)" font-size="5.6" fill="#1a1a1a" stroke="#1a1a1a" stroke-width="0.12" text-anchor="middle">A</text>
<rect x="74.00" y="50.60" width="2.8" height="0.8" fill="#5a4e48"/>
<text transform="matrix(0.9 0 0 1 85.20 57.05)" font-size="5.6" fill="#1a1a1a" stroke="#1a1a1a" stroke-width="0.12" text-anchor="middle">C</text>
<text transform="matrix(0.9 0 0 1 66.50 60.15)" font-size="5.6" fill="#1a1a1a" stroke="#1a1a1a" stroke-width="0.12" text-anchor="middle">U</text>
<text transform="matrix(0.9 0 0 1 85.20 62.25)" font-size="5.6" fill="#1a1a1a" stroke="#1a1a1a" stroke-width="0.12" text-anchor="middle">U</text>
<text transform="matrix(0.9 0 0 1 70.65 67.45)" font-size="5.6" fill="#1a1a1a" stroke="#1a1a1a" stroke-width="0.12" text-anchor="middle">U</text>
<text transform="matrix(0.9 0 0 1 80.15 67.45)" font-size="5.6" fill="#1a1a1a" stroke="#1a1a1a" stroke-width="0.12" text-anchor="middle">G</text>
<rect x="74.00" y="65.20" width="2.8" height="0.8" fill="#5a4e48"/>
<text transform="matrix(0.9 0 0 1 70.65 72.65)" font-size="5.6" fill="#1a1a1a" stroke="#1a1a1a" stroke-width="0.12" text-anchor="middle">U</text>
<text transform="matrix(0.9 0 0 1 80.15 72.65)" font-size="5.6" fill="#1a1a1a" stroke="#1a1a1a" stroke-width="0.12" text-anchor="middle">A</text>
<rect x="74.00" y="70.40" width="2.8" height="0.8" fill="#5a4e48"/>
<text transform="matrix(0.9 0 0 1 70.65 77.75)" font-size="5.6" fill="#1a1a1a" stroke="#1a1a1a" stroke-width="0.12" text-anchor="middle">G</text>
<text transform="matrix(0.9 0 0 1 80.15 77.75)" font-size="5.6" fill="#1a1a1a" stroke="#1a1a1a" stroke-width="0.12" text-anchor="middle">C</text>
<rect x="74.00" y="75.50" width="2.8" height="0.8" fill="#5a4e48"/>
<text transform="matrix(0.9 0 0 1 70.65 82.95)" font-size="5.6" fill="#1a1a1a" stroke="#1a1a1a" stroke-width="0.12" text-anchor="middle">G</text>
<text transform="matrix(0.9 0 0 1 80.15 82.95)" font-size="5.6" fill="#1a1a1a" stroke="#1a1a1a" stroke-width="0.12" text-anchor="middle">U</text>
<rect x="74.00" y="80.70" width="2.8" height="0.8" fill="#5a4e48"/>
<text transform="matrix(0.9 0 0 1 70.65 88.15)" font-size="5.6" fill="#1a1a1a" stroke="#1a1a1a" stroke-width="0.12" text-anchor="middle">G</text>
<text transform="matrix(0.9 0 0 1 80.15 88.15)" font-size="5.6" fill="#1a1a1a" stroke="#1a1a1a" stroke-width="0.12" text-anchor="middle">C</text>
<rect x="74.00" y="85.90" width="2.8" height="0.8" fill="#5a4e48"/>
<text transform="matrix(0.9 0 0 1 70.65 93.35)" font-size="5.6" fill="#1a1a1a" stroke="#1a1a1a" stroke-width="0.12" text-anchor="middle">G</text>
<text transform="matrix(0.9 0 0 1 80.15 93.35)" font-size="5.6" fill="#1a1a1a" stroke="#1a1a1a" stroke-width="0.12" text-anchor="middle">C</text>
<rect x="74.00" y="91.10" width="2.8" height="0.8" fill="#5a4e48"/>
<text transform="matrix(0.9 0 0 1 70.65 97.95)" font-size="5.6" fill="#1a1a1a" stroke="#1a1a1a" stroke-width="0.12" text-anchor="middle">A</text>
<text transform="matrix(0.9 0 0 1 80.15 97.95)" font-size="5.6" fill="#1a1a1a" stroke="#1a1a1a" stroke-width="0.12" text-anchor="middle">U</text>
<rect x="74.00" y="95.70" width="2.8" height="0.8" fill="#5a4e48"/>
<text transform="matrix(0.9 0 0 1 70.65 102.75)" font-size="5.6" fill="#1a1a1a" stroke="#1a1a1a" stroke-width="0.12" text-anchor="middle">U</text>
<text transform="matrix(0.9 0 0 1 80.15 102.75)" font-size="5.6" fill="#1a1a1a" stroke="#1a1a1a" stroke-width="0.12" text-anchor="middle">A</text>
<rect x="74.00" y="100.50" width="2.8" height="0.8" fill="#5a4e48"/>
<text transform="matrix(0.9 0 0 1 66.50 107.95)" font-size="5.6" fill="#1a1a1a" stroke="#1a1a1a" stroke-width="0.12" text-anchor="middle">A</text>
<text transform="matrix(0.9 0 0 1 84.20 107.95)" font-size="5.6" fill="#1a1a1a" stroke="#1a1a1a" stroke-width="0.12" text-anchor="middle">C</text>
<text transform="matrix(0.9 0 0 1 64.90 113.15)" font-size="5.6" fill="#1a1a1a" stroke="#1a1a1a" stroke-width="0.12" text-anchor="middle">5'</text>
<text transform="matrix(0.9 0 0 1 86.90 113.15)" font-size="5.6" fill="#1a1a1a" stroke="#1a1a1a" stroke-width="0.12" text-anchor="middle">3'</text>
<text transform="matrix(0.9 0 0 1 99.30 37.75)" font-size="5.6" fill="#1a1a1a" stroke="#1a1a1a" stroke-width="0.12" text-anchor="middle">U</text>
<text transform="matrix(0.9 0 0 1 104.10 32.05)" font-size="5.6" fill="#1a1a1a" stroke="#1a1a1a" stroke-width="0.12" text-anchor="middle">C</text>
<text transform="matrix(0.9 0 0 1 113.90 32.05)" font-size="5.6" fill="#1a1a1a" stroke="#1a1a1a" stroke-width="0.12" text-anchor="middle">G</text>
<text transform="matrix(0.9 0 0 1 119.10 37.75)" font-size="5.6" fill="#1a1a1a" stroke="#1a1a1a" stroke-width="0.12" text-anchor="middle">C</text>
<text transform="matrix(0.9 0 0 1 104.45 44.15)" font-size="5.6" fill="#1a1a1a" stroke="#1a1a1a" stroke-width="0.12" text-anchor="middle">U</text>
<text transform="matrix(0.9 0 0 1 113.95 44.15)" font-size="5.6" fill="#1a1a1a" stroke="#1a1a1a" stroke-width="0.12" text-anchor="middle">A</text>
<rect x="107.80" y="41.90" width="2.8" height="0.8" fill="#5a4e48"/>
<text transform="matrix(0.9 0 0 1 104.45 49.35)" font-size="5.6" fill="#1a1a1a" stroke="#1a1a1a" stroke-width="0.12" text-anchor="middle">C</text>
<text transform="matrix(0.9 0 0 1 113.95 49.35)" font-size="5.6" fill="#1a1a1a" stroke="#1a1a1a" stroke-width="0.12" text-anchor="middle">G</text>
<rect x="107.80" y="47.10" width="2.8" height="0.8" fill="#5a4e48"/>
<text transform="matrix(0.9 0 0 1 104.45 54.35)" font-size="5.6" fill="#1a1a1a" stroke="#1a1a1a" stroke-width="0.12" text-anchor="middle">G</text>
<text transform="matrix(0.9 0 0 1 113.95 54.35)" font-size="5.6" fill="#1a1a1a" stroke="#1a1a1a" stroke-width="0.12" text-anchor="middle">U</text>
<rect x="107.80" y="52.10" width="2.8" height="0.8" fill="#5a4e48"/>
<text transform="matrix(0.9 0 0 1 104.45 59.15)" font-size="5.6" fill="#1a1a1a" stroke="#1a1a1a" stroke-width="0.12" text-anchor="middle">C</text>
<text transform="matrix(0.9 0 0 1 113.95 59.15)" font-size="5.6" fill="#1a1a1a" stroke="#1a1a1a" stroke-width="0.12" text-anchor="middle">G</text>
<rect x="107.80" y="56.90" width="2.8" height="0.8" fill="#5a4e48"/>
<text transform="matrix(0.9 0 0 1 104.45 64.25)" font-size="5.6" fill="#1a1a1a" stroke="#1a1a1a" stroke-width="0.12" text-anchor="middle">C</text>
<text transform="matrix(0.9 0 0 1 113.95 64.25)" font-size="5.6" fill="#1a1a1a" stroke="#1a1a1a" stroke-width="0.12" text-anchor="middle">G</text>
<rect x="107.80" y="62.00" width="2.8" height="0.8" fill="#5a4e48"/>
<text transform="matrix(0.9 0 0 1 104.45 69.45)" font-size="5.6" fill="#1a1a1a" stroke="#1a1a1a" stroke-width="0.12" text-anchor="middle">U</text>
<text transform="matrix(0.9 0 0 1 113.95 69.45)" font-size="5.6" fill="#1a1a1a" stroke="#1a1a1a" stroke-width="0.12" text-anchor="middle">A</text>
<rect x="107.80" y="67.20" width="2.8" height="0.8" fill="#5a4e48"/>
<text transform="matrix(0.9 0 0 1 99.30 73.65)" font-size="5.6" fill="#1a1a1a" stroke="#1a1a1a" stroke-width="0.12" text-anchor="middle">C</text>
<text transform="matrix(0.9 0 0 1 119.10 73.65)" font-size="5.6" fill="#1a1a1a" stroke="#1a1a1a" stroke-width="0.12" text-anchor="middle">A</text>
<text transform="matrix(0.9 0 0 1 104.45 77.15)" font-size="5.6" fill="#1a1a1a" stroke="#1a1a1a" stroke-width="0.12" text-anchor="middle">G</text>
<text transform="matrix(0.9 0 0 1 113.95 77.15)" font-size="5.6" fill="#1a1a1a" stroke="#1a1a1a" stroke-width="0.12" text-anchor="middle">U</text>
<rect x="107.80" y="74.90" width="2.8" height="0.8" fill="#5a4e48"/>
<text transform="matrix(0.9 0 0 1 104.45 82.35)" font-size="5.6" fill="#1a1a1a" stroke="#1a1a1a" stroke-width="0.12" text-anchor="middle">U</text>
<text transform="matrix(0.9 0 0 1 113.95 82.35)" font-size="5.6" fill="#1a1a1a" stroke="#1a1a1a" stroke-width="0.12" text-anchor="middle">G</text>
<rect x="107.80" y="80.10" width="2.8" height="0.8" fill="#5a4e48"/>
<text transform="matrix(0.9 0 0 1 104.45 87.55)" font-size="5.6" fill="#1a1a1a" stroke="#1a1a1a" stroke-width="0.12" text-anchor="middle">C</text>
<text transform="matrix(0.9 0 0 1 113.95 87.55)" font-size="5.6" fill="#1a1a1a" stroke="#1a1a1a" stroke-width="0.12" text-anchor="middle">G</text>
<rect x="107.80" y="85.30" width="2.8" height="0.8" fill="#5a4e48"/>
<text transform="matrix(0.9 0 0 1 99.30 92.95)" font-size="5.6" fill="#1a1a1a" stroke="#1a1a1a" stroke-width="0.12" text-anchor="middle">C</text>
<text transform="matrix(0.9 0 0 1 119.10 93.35)" font-size="5.6" fill="#1a1a1a" stroke="#1a1a1a" stroke-width="0.12" text-anchor="middle">A</text>
<text transform="matrix(0.9 0 0 1 104.45 97.15)" font-size="5.6" fill="#1a1a1a" stroke="#1a1a1a" stroke-width="0.12" text-anchor="middle">U</text>
<text transform="matrix(0.9 0 0 1 113.95 97.15)" font-size="5.6" fill="#1a1a1a" stroke="#1a1a1a" stroke-width="0.12" text-anchor="middle">A</text>
<rect x="107.80" y="94.90" width="2.8" height="0.8" fill="#5a4e48"/>
<text transform="matrix(0.9 0 0 1 104.45 102.35)" font-size="5.6" fill="#1a1a1a" stroke="#1a1a1a" stroke-width="0.12" text-anchor="middle">G</text>
<text transform="matrix(0.9 0 0 1 113.95 102.35)" font-size="5.6" fill="#1a1a1a" stroke="#1a1a1a" stroke-width="0.12" text-anchor="middle">C</text>
<rect x="107.80" y="100.10" width="2.8" height="0.8" fill="#5a4e48"/>
<text transform="matrix(0.9 0 0 1 119.10 106.85)" font-size="5.6" fill="#1a1a1a" stroke="#1a1a1a" stroke-width="0.12" text-anchor="middle">G</text>
<text transform="matrix(0.9 0 0 1 101.40 113.15)" font-size="5.6" fill="#1a1a1a" stroke="#1a1a1a" stroke-width="0.12" text-anchor="middle">5'</text>
<text transform="matrix(0.9 0 0 1 120.10 113.15)" font-size="5.6" fill="#1a1a1a" stroke="#1a1a1a" stroke-width="0.12" text-anchor="middle">3'</text>
<text transform="matrix(0.9 0 0 1 139.40 33.55)" font-size="5.6" fill="#1a1a1a" stroke="#1a1a1a" stroke-width="0.12" text-anchor="middle">G</text>
<text transform="matrix(0.9 0 0 1 149.20 33.55)" font-size="5.6" fill="#1a1a1a" stroke="#1a1a1a" stroke-width="0.12" text-anchor="middle">C</text>
<text transform="matrix(0.9 0 0 1 136.10 39.35)" font-size="5.6" fill="#1a1a1a" stroke="#1a1a1a" stroke-width="0.12" text-anchor="middle">A</text>
<text transform="matrix(0.9 0 0 1 152.70 39.35)" font-size="5.6" fill="#1a1a1a" stroke="#1a1a1a" stroke-width="0.12" text-anchor="middle">A</text>
<text transform="matrix(0.9 0 0 1 139.65 43.55)" font-size="5.6" fill="#1a1a1a" stroke="#1a1a1a" stroke-width="0.12" text-anchor="middle">C</text>
<text transform="matrix(0.9 0 0 1 149.15 43.55)" font-size="5.6" fill="#1a1a1a" stroke="#1a1a1a" stroke-width="0.12" text-anchor="middle">G</text>
<rect x="143.00" y="41.30" width="2.8" height="0.8" fill="#5a4e48"/>
<text transform="matrix(0.9 0 0 1 139.65 48.75)" font-size="5.6" fill="#1a1a1a" stroke="#1a1a1a" stroke-width="0.12" text-anchor="middle">G</text>
<text transform="matrix(0.9 0 0 1 149.15 48.75)" font-size="5.6" fill="#1a1a1a" stroke="#1a1a1a" stroke-width="0.12" text-anchor="middle">C</text>
<rect x="143.00" y="46.50" width="2.8" height="0.8" fill="#5a4e48"/>
<text transform="matrix(0.9 0 0 1 136.10 53.45)" font-size="5.6" fill="#1a1a1a" stroke="#1a1a1a" stroke-width="0.12" text-anchor="middle">A</text>
<text transform="matrix(0.9 0 0 1 152.70 53.45)" font-size="5.6" fill="#1a1a1a" stroke="#1a1a1a" stroke-width="0.12" text-anchor="middle">A</text>
<text transform="matrix(0.9 0 0 1 139.65 58.05)" font-size="5.6" fill="#1a1a1a" stroke="#1a1a1a" stroke-width="0.12" text-anchor="middle">C</text>
<text transform="matrix(0.9 0 0 1 149.15 58.05)" font-size="5.6" fill="#1a1a1a" stroke="#1a1a1a" stroke-width="0.12" text-anchor="middle">G</text>
<rect x="143.00" y="55.80" width="2.8" height="0.8" fill="#5a4e48"/>
<text transform="matrix(0.9 0 0 1 139.65 62.85)" font-size="5.6" fill="#1a1a1a" stroke="#1a1a1a" stroke-width="0.12" text-anchor="middle">G</text>
<text transform="matrix(0.9 0 0 1 149.15 62.85)" font-size="5.6" fill="#1a1a1a" stroke="#1a1a1a" stroke-width="0.12" text-anchor="middle">C</text>
<rect x="143.00" y="60.60" width="2.8" height="0.8" fill="#5a4e48"/>
<text transform="matrix(0.9 0 0 1 136.10 67.45)" font-size="5.6" fill="#1a1a1a" stroke="#1a1a1a" stroke-width="0.12" text-anchor="middle">A</text>
<text transform="matrix(0.9 0 0 1 152.70 67.45)" font-size="5.6" fill="#1a1a1a" stroke="#1a1a1a" stroke-width="0.12" text-anchor="middle">A</text>
<text transform="matrix(0.9 0 0 1 139.65 72.65)" font-size="5.6" fill="#1a1a1a" stroke="#1a1a1a" stroke-width="0.12" text-anchor="middle">C</text>
<text transform="matrix(0.9 0 0 1 149.15 72.65)" font-size="5.6" fill="#1a1a1a" stroke="#1a1a1a" stroke-width="0.12" text-anchor="middle">G</text>
<rect x="143.00" y="70.40" width="2.8" height="0.8" fill="#5a4e48"/>
<text transform="matrix(0.9 0 0 1 139.65 77.75)" font-size="5.6" fill="#1a1a1a" stroke="#1a1a1a" stroke-width="0.12" text-anchor="middle">G</text>
<text transform="matrix(0.9 0 0 1 149.15 77.75)" font-size="5.6" fill="#1a1a1a" stroke="#1a1a1a" stroke-width="0.12" text-anchor="middle">C</text>
<rect x="143.00" y="75.50" width="2.8" height="0.8" fill="#5a4e48"/>
<text transform="matrix(0.9 0 0 1 136.10 82.55)" font-size="5.6" fill="#1a1a1a" stroke="#1a1a1a" stroke-width="0.12" text-anchor="middle">A</text>
<text transform="matrix(0.9 0 0 1 152.70 82.55)" font-size="5.6" fill="#1a1a1a" stroke="#1a1a1a" stroke-width="0.12" text-anchor="middle">A</text>
<text transform="matrix(0.9 0 0 1 139.65 87.55)" font-size="5.6" fill="#1a1a1a" stroke="#1a1a1a" stroke-width="0.12" text-anchor="middle">C</text>
<text transform="matrix(0.9 0 0 1 149.15 87.55)" font-size="5.6" fill="#1a1a1a" stroke="#1a1a1a" stroke-width="0.12" text-anchor="middle">G</text>
<rect x="143.00" y="85.30" width="2.8" height="0.8" fill="#5a4e48"/>
<text transform="matrix(0.9 0 0 1 139.65 92.35)" font-size="5.6" fill="#1a1a1a" stroke="#1a1a1a" stroke-width="0.12" text-anchor="middle">G</text>
<text transform="matrix(0.9 0 0 1 149.15 92.35)" font-size="5.6" fill="#1a1a1a" stroke="#1a1a1a" stroke-width="0.12" text-anchor="middle">C</text>
<rect x="143.00" y="90.10" width="2.8" height="0.8" fill="#5a4e48"/>
<text transform="matrix(0.9 0 0 1 139.65 97.15)" font-size="5.6" fill="#1a1a1a" stroke="#1a1a1a" stroke-width="0.12" text-anchor="middle">G</text>
<text transform="matrix(0.9 0 0 1 149.15 97.15)" font-size="5.6" fill="#1a1a1a" stroke="#1a1a1a" stroke-width="0.12" text-anchor="middle">C</text>
<rect x="143.00" y="94.90" width="2.8" height="0.8" fill="#5a4e48"/>
<text transform="matrix(0.9 0 0 1 139.65 102.15)" font-size="5.6" fill="#1a1a1a" stroke="#1a1a1a" stroke-width="0.12" text-anchor="middle">C</text>
<text transform="matrix(0.9 0 0 1 149.15 102.15)" font-size="5.6" fill="#1a1a1a" stroke="#1a1a1a" stroke-width="0.12" text-anchor="middle">G</text>
<rect x="143.00" y="99.90" width="2.8" height="0.8" fill="#5a4e48"/>
<text transform="matrix(0.9 0 0 1 152.30 106.85)" font-size="5.6" fill="#1a1a1a" stroke="#1a1a1a" stroke-width="0.12" text-anchor="middle">C</text>
<text transform="matrix(0.9 0 0 1 136.70 113.15)" font-size="5.6" fill="#1a1a1a" stroke="#1a1a1a" stroke-width="0.12" text-anchor="middle">5'</text>
<text transform="matrix(0.9 0 0 1 155.40 113.15)" font-size="5.6" fill="#1a1a1a" stroke="#1a1a1a" stroke-width="0.12" text-anchor="middle">3'</text>
<text transform="matrix(0.9 0 0 1 176.80 32.75)" font-size="5.6" fill="#1a1a1a" stroke="#1a1a1a" stroke-width="0.12" text-anchor="middle">A</text>
<text transform="matrix(0.9 0 0 1 167.90 38.35)" font-size="5.6" fill="#1a1a1a" stroke="#1a1a1a" stroke-width="0.12" text-anchor="middle">A</text>
<text transform="matrix(0.9 0 0 1 186.20 38.35)" font-size="5.6" fill="#1a1a1a" stroke="#1a1a1a" stroke-width="0.12" text-anchor="middle">U</text>
<text transform="matrix(0.9 0 0 1 172.45 43.55)" font-size="5.6" fill="#1a1a1a" stroke="#1a1a1a" stroke-width="0.12" text-anchor="middle">C</text>
<text transform="matrix(0.9 0 0 1 181.95 43.55)" font-size="5.6" fill="#1a1a1a" stroke="#1a1a1a" stroke-width="0.12" text-anchor="middle">G</text>
<rect x="175.80" y="41.30" width="2.8" height="0.8" fill="#5a4e48"/>
<text transform="matrix(0.9 0 0 1 172.45 48.75)" font-size="5.6" fill="#1a1a1a" stroke="#1a1a1a" stroke-width="0.12" text-anchor="middle">U</text>
<text transform="matrix(0.9 0 0 1 181.95 48.75)" font-size="5.6" fill="#1a1a1a" stroke="#1a1a1a" stroke-width="0.12" text-anchor="middle">A</text>
<rect x="175.80" y="46.50" width="2.8" height="0.8" fill="#5a4e48"/>
<text transform="matrix(0.9 0 0 1 172.45 53.95)" font-size="5.6" fill="#1a1a1a" stroke="#1a1a1a" stroke-width="0.12" text-anchor="middle">G</text>
<text transform="matrix(0.9 0 0 1 181.95 53.95)" font-size="5.6" fill="#1a1a1a" stroke="#1a1a1a" stroke-width="0.12" text-anchor="middle">C</text>
<rect x="175.80" y="51.70" width="2.8" height="0.8" fill="#5a4e48"/>
<text transform="matrix(0.9 0 0 1 172.45 58.45)" font-size="5.6" fill="#1a1a1a" stroke="#1a1a1a" stroke-width="0.12" text-anchor="middle">C</text>
<text transform="matrix(0.9 0 0 1 181.95 58.45)" font-size="5.6" fill="#1a1a1a" stroke="#1a1a1a" stroke-width="0.12" text-anchor="middle">G</text>
<rect x="175.80" y="56.20" width="2.8" height="0.8" fill="#5a4e48"/>
<text transform="matrix(0.9 0 0 1 172.45 63.25)" font-size="5.6" fill="#1a1a1a" stroke="#1a1a1a" stroke-width="0.12" text-anchor="middle">G</text>
<text transform="matrix(0.9 0 0 1 181.95 63.25)" font-size="5.6" fill="#1a1a1a" stroke="#1a1a1a" stroke-width="0.12" text-anchor="middle">C</text>
<rect x="175.80" y="61.00" width="2.8" height="0.8" fill="#5a4e48"/>
<text transform="matrix(0.9 0 0 1 172.45 68.05)" font-size="5.6" fill="#1a1a1a" stroke="#1a1a1a" stroke-width="0.12" text-anchor="middle">A</text>
<text transform="matrix(0.9 0 0 1 181.95 68.05)" font-size="5.6" fill="#1a1a1a" stroke="#1a1a1a" stroke-width="0.12" text-anchor="middle">U</text>
<rect x="175.80" y="65.80" width="2.8" height="0.8" fill="#5a4e48"/>
<text transform="matrix(0.9 0 0 1 172.45 73.05)" font-size="5.6" fill="#1a1a1a" stroke="#1a1a1a" stroke-width="0.12" text-anchor="middle">C</text>
<text transform="matrix(0.9 0 0 1 181.95 73.05)" font-size="5.6" fill="#1a1a1a" stroke="#1a1a1a" stroke-width="0.12" text-anchor="middle">G</text>
<rect x="175.80" y="70.80" width="2.8" height="0.8" fill="#5a4e48"/>
<text transform="matrix(0.9 0 0 1 186.20 77.75)" font-size="5.6" fill="#1a1a1a" stroke="#1a1a1a" stroke-width="0.12" text-anchor="middle">A</text>
<text transform="matrix(0.9 0 0 1 172.45 81.55)" font-size="5.6" fill="#1a1a1a" stroke="#1a1a1a" stroke-width="0.12" text-anchor="middle">G</text>
<text transform="matrix(0.9 0 0 1 181.95 81.55)" font-size="5.6" fill="#1a1a1a" stroke="#1a1a1a" stroke-width="0.12" text-anchor="middle">C</text>
<rect x="175.80" y="79.30" width="2.8" height="0.8" fill="#5a4e48"/>
<text transform="matrix(0.9 0 0 1 172.45 86.15)" font-size="5.6" fill="#1a1a1a" stroke="#1a1a1a" stroke-width="0.12" text-anchor="middle">C</text>
<text transform="matrix(0.9 0 0 1 181.95 86.15)" font-size="5.6" fill="#1a1a1a" stroke="#1a1a1a" stroke-width="0.12" text-anchor="middle">G</text>
<rect x="175.80" y="83.90" width="2.8" height="0.8" fill="#5a4e48"/>
<text transform="matrix(0.9 0 0 1 187.20 88.85)" font-size="5.6" fill="#1a1a1a" stroke="#1a1a1a" stroke-width="0.12" text-anchor="middle">G</text>
<text transform="matrix(0.9 0 0 1 167.90 90.25)" font-size="5.6" fill="#1a1a1a" stroke="#1a1a1a" stroke-width="0.12" text-anchor="middle">G</text>
<text transform="matrix(0.9 0 0 1 167.90 95.05)" font-size="5.6" fill="#1a1a1a" stroke="#1a1a1a" stroke-width="0.12" text-anchor="middle">G</text>
<text transform="matrix(0.9 0 0 1 189.30 93.35)" font-size="5.6" fill="#1a1a1a" stroke="#1a1a1a" stroke-width="0.12" text-anchor="middle">U</text>
<text transform="matrix(0.9 0 0 1 186.20 97.55)" font-size="5.6" fill="#1a1a1a" stroke="#1a1a1a" stroke-width="0.12" text-anchor="middle">A</text>
<text transform="matrix(0.9 0 0 1 172.45 100.65)" font-size="5.6" fill="#1a1a1a" stroke="#1a1a1a" stroke-width="0.12" text-anchor="middle">G</text>
<text transform="matrix(0.9 0 0 1 181.95 100.65)" font-size="5.6" fill="#1a1a1a" stroke="#1a1a1a" stroke-width="0.12" text-anchor="middle">C</text>
<rect x="175.80" y="98.40" width="2.8" height="0.8" fill="#5a4e48"/>
<text transform="matrix(0.9 0 0 1 172.45 105.85)" font-size="5.6" fill="#1a1a1a" stroke="#1a1a1a" stroke-width="0.12" text-anchor="middle">C</text>
<text transform="matrix(0.9 0 0 1 181.95 105.85)" font-size="5.6" fill="#1a1a1a" stroke="#1a1a1a" stroke-width="0.12" text-anchor="middle">G</text>
<rect x="175.80" y="103.60" width="2.8" height="0.8" fill="#5a4e48"/>
<text transform="matrix(0.9 0 0 1 168.50 113.15)" font-size="5.6" fill="#1a1a1a" stroke="#1a1a1a" stroke-width="0.12" text-anchor="middle">5'</text>
<text transform="matrix(0.9 0 0 1 187.20 113.15)" font-size="5.6" fill="#1a1a1a" stroke="#1a1a1a" stroke-width="0.12" text-anchor="middle">3'</text>
<text transform="matrix(0.9 0 0 1 208.60 32.75)" font-size="5.6" fill="#1a1a1a" stroke="#1a1a1a" stroke-width="0.12" text-anchor="middle">C</text>
<text transform="matrix(0.9 0 0 1 218.40 32.75)" font-size="5.6" fill="#1a1a1a" stroke="#1a1a1a" stroke-width="0.12" text-anchor="middle">C</text>
<text transform="matrix(0.9 0 0 1 203.80 38.35)" font-size="5.6" fill="#1a1a1a" stroke="#1a1a1a" stroke-width="0.12" text-anchor="middle">U</text>
<text transform="matrix(0.9 0 0 1 222.50 38.35)" font-size="5.6" fill="#1a1a1a" stroke="#1a1a1a" stroke-width="0.12" text-anchor="middle">C</text>
<text transform="matrix(0.9 0 0 1 208.65 44.15)" font-size="5.6" fill="#1a1a1a" stroke="#1a1a1a" stroke-width="0.12" text-anchor="middle">U</text>
<text transform="matrix(0.9 0 0 1 218.15 44.15)" font-size="5.6" fill="#1a1a1a" stroke="#1a1a1a" stroke-width="0.12" text-anchor="middle">A</text>
<rect x="212.00" y="41.90" width="2.8" height="0.8" fill="#5a4e48"/>
<text transform="matrix(0.9 0 0 1 208.65 48.75)" font-size="5.6" fill="#1a1a1a" stroke="#1a1a1a" stroke-width="0.12" text-anchor="middle">C</text>
<text transform="matrix(0.9 0 0 1 218.15 48.75)" font-size="5.6" fill="#1a1a1a" stroke="#1a1a1a" stroke-width="0.12" text-anchor="middle">G</text>
<rect x="212.00" y="46.50" width="2.8" height="0.8" fill="#5a4e48"/>
<text transform="matrix(0.9 0 0 1 208.65 53.95)" font-size="5.6" fill="#1a1a1a" stroke="#1a1a1a" stroke-width="0.12" text-anchor="middle">C</text>
<text transform="matrix(0.9 0 0 1 218.15 53.95)" font-size="5.6" fill="#1a1a1a" stroke="#1a1a1a" stroke-width="0.12" text-anchor="middle">G</text>
<rect x="212.00" y="51.70" width="2.8" height="0.8" fill="#5a4e48"/>
<text transform="matrix(0.9 0 0 1 208.65 59.75)" font-size="5.6" fill="#1a1a1a" stroke="#1a1a1a" stroke-width="0.12" text-anchor="middle">A</text>
<text transform="matrix(0.9 0 0 1 218.15 59.75)" font-size="5.6" fill="#1a1a1a" stroke="#1a1a1a" stroke-width="0.12" text-anchor="middle">U</text>
<rect x="212.00" y="57.50" width="2.8" height="0.8" fill="#5a4e48"/>
<text transform="matrix(0.9 0 0 1 208.65 64.75)" font-size="5.6" fill="#1a1a1a" stroke="#1a1a1a" stroke-width="0.12" text-anchor="middle">U</text>
<text transform="matrix(0.9 0 0 1 218.15 64.75)" font-size="5.6" fill="#1a1a1a" stroke="#1a1a1a" stroke-width="0.12" text-anchor="middle">A</text>
<rect x="212.00" y="62.50" width="2.8" height="0.8" fill="#5a4e48"/>
<text transform="matrix(0.9 0 0 1 203.80 70.15)" font-size="5.6" fill="#1a1a1a" stroke="#1a1a1a" stroke-width="0.12" text-anchor="middle">A</text>
<text transform="matrix(0.9 0 0 1 223.50 68.05)" font-size="5.6" fill="#1a1a1a" stroke="#1a1a1a" stroke-width="0.12" text-anchor="middle">A</text>
<text transform="matrix(0.9 0 0 1 223.50 72.65)" font-size="5.6" fill="#1a1a1a" stroke="#1a1a1a" stroke-width="0.12" text-anchor="middle">C</text>
<text transform="matrix(0.9 0 0 1 208.65 76.35)" font-size="5.6" fill="#1a1a1a" stroke="#1a1a1a" stroke-width="0.12" text-anchor="middle">U</text>
<text transform="matrix(0.9 0 0 1 218.15 76.35)" font-size="5.6" fill="#1a1a1a" stroke="#1a1a1a" stroke-width="0.12" text-anchor="middle">A</text>
<rect x="212.00" y="74.10" width="2.8" height="0.8" fill="#5a4e48"/>
<text transform="matrix(0.9 0 0 1 208.65 80.95)" font-size="5.6" fill="#1a1a1a" stroke="#1a1a1a" stroke-width="0.12" text-anchor="middle">U</text>
<text transform="matrix(0.9 0 0 1 218.15 80.95)" font-size="5.6" fill="#1a1a1a" stroke="#1a1a1a" stroke-width="0.12" text-anchor="middle">A</text>
<rect x="212.00" y="78.70" width="2.8" height="0.8" fill="#5a4e48"/>
<text transform="matrix(0.9 0 0 1 208.65 86.15)" font-size="5.6" fill="#1a1a1a" stroke="#1a1a1a" stroke-width="0.12" text-anchor="middle">U</text>
<text transform="matrix(0.9 0 0 1 218.15 86.15)" font-size="5.6" fill="#1a1a1a" stroke="#1a1a1a" stroke-width="0.12" text-anchor="middle">A</text>
<rect x="212.00" y="83.90" width="2.8" height="0.8" fill="#5a4e48"/>
<text transform="matrix(0.9 0 0 1 208.65 91.25)" font-size="5.6" fill="#1a1a1a" stroke="#1a1a1a" stroke-width="0.12" text-anchor="middle">G</text>
<text transform="matrix(0.9 0 0 1 218.15 91.25)" font-size="5.6" fill="#1a1a1a" stroke="#1a1a1a" stroke-width="0.12" text-anchor="middle">C</text>
<rect x="212.00" y="89.00" width="2.8" height="0.8" fill="#5a4e48"/>
<text transform="matrix(0.9 0 0 1 208.65 96.45)" font-size="5.6" fill="#1a1a1a" stroke="#1a1a1a" stroke-width="0.12" text-anchor="middle">G</text>
<text transform="matrix(0.9 0 0 1 218.15 96.45)" font-size="5.6" fill="#1a1a1a" stroke="#1a1a1a" stroke-width="0.12" text-anchor="middle">C</text>
<rect x="212.00" y="94.20" width="2.8" height="0.8" fill="#5a4e48"/>
<text transform="matrix(0.9 0 0 1 204.40 101.65)" font-size="5.6" fill="#1a1a1a" stroke="#1a1a1a" stroke-width="0.12" text-anchor="middle">A</text>
<text transform="matrix(0.9 0 0 1 204.40 107.55)" font-size="5.6" fill="#1a1a1a" stroke="#1a1a1a" stroke-width="0.12" text-anchor="middle">A</text>
<text transform="matrix(0.9 0 0 1 222.50 101.65)" font-size="5.6" fill="#1a1a1a" stroke="#1a1a1a" stroke-width="0.12" text-anchor="middle">A</text>
<text transform="matrix(0.9 0 0 1 222.50 107.55)" font-size="5.6" fill="#1a1a1a" stroke="#1a1a1a" stroke-width="0.12" text-anchor="middle">A</text>
<text transform="matrix(0.9 0 0 1 203.80 113.15)" font-size="5.6" fill="#1a1a1a" stroke="#1a1a1a" stroke-width="0.12" text-anchor="middle">5'</text>
<text transform="matrix(0.9 0 0 1 223.50 113.15)" font-size="5.6" fill="#1a1a1a" stroke="#1a1a1a" stroke-width="0.12" text-anchor="middle">3'</text>
<text transform="matrix(0.9 0 0 1 248.30 32.75)" font-size="5.6" fill="#1a1a1a" stroke="#1a1a1a" stroke-width="0.12" text-anchor="middle">U</text>
<text transform="matrix(0.9 0 0 1 239.10 36.85)" font-size="5.6" fill="#1a1a1a" stroke="#1a1a1a" stroke-width="0.12" text-anchor="middle">U</text>
<text transform="matrix(0.9 0 0 1 257.80 36.85)" font-size="5.6" fill="#1a1a1a" stroke="#1a1a1a" stroke-width="0.12" text-anchor="middle">G</text>
<text transform="matrix(0.9 0 0 1 239.10 43.15)" font-size="5.6" fill="#1a1a1a" stroke="#1a1a1a" stroke-width="0.12" text-anchor="middle">C</text>
<text transform="matrix(0.9 0 0 1 257.80 43.15)" font-size="5.6" fill="#1a1a1a" stroke="#1a1a1a" stroke-width="0.12" text-anchor="middle">U</text>
<text transform="matrix(0.9 0 0 1 243.65 47.65)" font-size="5.6" fill="#1a1a1a" stroke="#1a1a1a" stroke-width="0.12" text-anchor="middle">U</text>
<text transform="matrix(0.9 0 0 1 253.15 47.65)" font-size="5.6" fill="#1a1a1a" stroke="#1a1a1a" stroke-width="0.12" text-anchor="middle">A</text>
<rect x="247.00" y="45.40" width="2.8" height="0.8" fill="#5a4e48"/>
<text transform="matrix(0.9 0 0 1 243.65 52.85)" font-size="5.6" fill="#1a1a1a" stroke="#1a1a1a" stroke-width="0.12" text-anchor="middle">C</text>
<text transform="matrix(0.9 0 0 1 253.15 52.85)" font-size="5.6" fill="#1a1a1a" stroke="#1a1a1a" stroke-width="0.12" text-anchor="middle">G</text>
<rect x="247.00" y="50.60" width="2.8" height="0.8" fill="#5a4e48"/>
<text transform="matrix(0.9 0 0 1 243.65 58.05)" font-size="5.6" fill="#1a1a1a" stroke="#1a1a1a" stroke-width="0.12" text-anchor="middle">U</text>
<text transform="matrix(0.9 0 0 1 253.15 58.05)" font-size="5.6" fill="#1a1a1a" stroke="#1a1a1a" stroke-width="0.12" text-anchor="middle">A</text>
<rect x="247.00" y="55.80" width="2.8" height="0.8" fill="#5a4e48"/>
<text transform="matrix(0.9 0 0 1 243.65 62.85)" font-size="5.6" fill="#1a1a1a" stroke="#1a1a1a" stroke-width="0.12" text-anchor="middle">A</text>
<text transform="matrix(0.9 0 0 1 253.15 62.85)" font-size="5.6" fill="#1a1a1a" stroke="#1a1a1a" stroke-width="0.12" text-anchor="middle">U</text>
<rect x="247.00" y="60.60" width="2.8" height="0.8" fill="#5a4e48"/>
<text transform="matrix(0.9 0 0 1 237.50 67.45)" font-size="5.6" fill="#1a1a1a" stroke="#1a1a1a" stroke-width="0.12" text-anchor="middle">5'</text>
<text transform="matrix(0.9 0 0 1 243.65 67.45)" font-size="5.6" fill="#1a1a1a" stroke="#1a1a1a" stroke-width="0.12" text-anchor="middle">G</text>
<text transform="matrix(0.9 0 0 1 253.15 67.45)" font-size="5.6" fill="#1a1a1a" stroke="#1a1a1a" stroke-width="0.12" text-anchor="middle">C</text>
<rect x="247.00" y="65.20" width="2.8" height="0.8" fill="#5a4e48"/>
<text transform="matrix(0.9 0 0 1 258.20 72.65)" font-size="5.6" fill="#1a1a1a" stroke="#1a1a1a" stroke-width="0.12" text-anchor="middle">U</text>
<text transform="matrix(0.9 0 0 1 237.50 77.75)" font-size="5.6" fill="#1a1a1a" stroke="#1a1a1a" stroke-width="0.12" text-anchor="middle">3'</text>
<text transform="matrix(0.9 0 0 1 243.65 77.75)" font-size="5.6" fill="#1a1a1a" stroke="#1a1a1a" stroke-width="0.12" text-anchor="middle">C</text>
<text transform="matrix(0.9 0 0 1 253.15 77.75)" font-size="5.6" fill="#1a1a1a" stroke="#1a1a1a" stroke-width="0.12" text-anchor="middle">G</text>
<rect x="247.00" y="75.50" width="2.8" height="0.8" fill="#5a4e48"/>
<text transform="matrix(0.9 0 0 1 243.65 82.95)" font-size="5.6" fill="#1a1a1a" stroke="#1a1a1a" stroke-width="0.12" text-anchor="middle">A</text>
<text transform="matrix(0.9 0 0 1 253.15 82.95)" font-size="5.6" fill="#1a1a1a" stroke="#1a1a1a" stroke-width="0.12" text-anchor="middle">U</text>
<rect x="247.00" y="80.70" width="2.8" height="0.8" fill="#5a4e48"/>
<text transform="matrix(0.9 0 0 1 243.65 88.15)" font-size="5.6" fill="#1a1a1a" stroke="#1a1a1a" stroke-width="0.12" text-anchor="middle">A</text>
<text transform="matrix(0.9 0 0 1 253.15 88.15)" font-size="5.6" fill="#1a1a1a" stroke="#1a1a1a" stroke-width="0.12" text-anchor="middle">U</text>
<rect x="247.00" y="85.90" width="2.8" height="0.8" fill="#5a4e48"/>
<text transform="matrix(0.9 0 0 1 243.65 93.35)" font-size="5.6" fill="#1a1a1a" stroke="#1a1a1a" stroke-width="0.12" text-anchor="middle">G</text>
<text transform="matrix(0.9 0 0 1 253.15 93.35)" font-size="5.6" fill="#1a1a1a" stroke="#1a1a1a" stroke-width="0.12" text-anchor="middle">C</text>
<rect x="247.00" y="91.10" width="2.8" height="0.8" fill="#5a4e48"/>
<text transform="matrix(0.9 0 0 1 239.50 97.15)" font-size="5.6" fill="#1a1a1a" stroke="#1a1a1a" stroke-width="0.12" text-anchor="middle">C</text>
<text transform="matrix(0.9 0 0 1 239.50 102.15)" font-size="5.6" fill="#1a1a1a" stroke="#1a1a1a" stroke-width="0.12" text-anchor="middle">A</text>
<text transform="matrix(0.9 0 0 1 239.50 107.55)" font-size="5.6" fill="#1a1a1a" stroke="#1a1a1a" stroke-width="0.12" text-anchor="middle">A</text>
<text transform="matrix(0.9 0 0 1 257.80 97.15)" font-size="5.6" fill="#1a1a1a" stroke="#1a1a1a" stroke-width="0.12" text-anchor="middle">U</text>
<text transform="matrix(0.9 0 0 1 257.80 102.15)" font-size="5.6" fill="#1a1a1a" stroke="#1a1a1a" stroke-width="0.12" text-anchor="middle">C</text>
<text transform="matrix(0.9 0 0 1 257.80 107.55)" font-size="5.6" fill="#1a1a1a" stroke="#1a1a1a" stroke-width="0.12" text-anchor="middle">U</text>
<text transform="matrix(0.9 0 0 1 248.90 113.15)" font-size="5.6" fill="#1a1a1a" stroke="#1a1a1a" stroke-width="0.12" text-anchor="middle">A</text>
<text transform="matrix(0.9 0 0 1 280.00 30.65)" font-size="5.6" fill="#1a1a1a" stroke="#1a1a1a" stroke-width="0.12" text-anchor="middle">C</text>
<text transform="matrix(0.9 0 0 1 274.90 34.15)" font-size="5.6" fill="#1a1a1a" stroke="#1a1a1a" stroke-width="0.12" text-anchor="middle">G</text>
<text transform="matrix(0.9 0 0 1 285.20 34.15)" font-size="5.6" fill="#1a1a1a" stroke="#1a1a1a" stroke-width="0.12" text-anchor="middle">A</text>
<text transform="matrix(0.9 0 0 1 271.10 38.35)" font-size="5.6" fill="#1a1a1a" stroke="#1a1a1a" stroke-width="0.12" text-anchor="middle">U</text>
<text transform="matrix(0.9 0 0 1 289.40 38.95)" font-size="5.6" fill="#1a1a1a" stroke="#1a1a1a" stroke-width="0.12" text-anchor="middle">U</text>
<text transform="matrix(0.9 0 0 1 275.65 43.55)" font-size="5.6" fill="#1a1a1a" stroke="#1a1a1a" stroke-width="0.12" text-anchor="middle">C</text>
<text transform="matrix(0.9 0 0 1 285.15 43.55)" font-size="5.6" fill="#1a1a1a" stroke="#1a1a1a" stroke-width="0.12" text-anchor="middle">G</text>
<rect x="279.00" y="41.30" width="2.8" height="0.8" fill="#5a4e48"/>
<text transform="matrix(0.9 0 0 1 275.65 48.35)" font-size="5.6" fill="#1a1a1a" stroke="#1a1a1a" stroke-width="0.12" text-anchor="middle">G</text>
<text transform="matrix(0.9 0 0 1 285.15 48.35)" font-size="5.6" fill="#1a1a1a" stroke="#1a1a1a" stroke-width="0.12" text-anchor="middle">C</text>
<rect x="279.00" y="46.10" width="2.8" height="0.8" fill="#5a4e48"/>
<text transform="matrix(0.9 0 0 1 275.65 53.25)" font-size="5.6" fill="#1a1a1a" stroke="#1a1a1a" stroke-width="0.12" text-anchor="middle">G</text>
<text transform="matrix(0.9 0 0 1 285.15 53.25)" font-size="5.6" fill="#1a1a1a" stroke="#1a1a1a" stroke-width="0.12" text-anchor="middle">U</text>
<rect x="279.00" y="51.00" width="2.8" height="0.8" fill="#5a4e48"/>
<text transform="matrix(0.9 0 0 1 271.70 58.45)" font-size="5.6" fill="#1a1a1a" stroke="#1a1a1a" stroke-width="0.12" text-anchor="middle">C</text>
<text transform="matrix(0.9 0 0 1 289.40 58.45)" font-size="5.6" fill="#1a1a1a" stroke="#1a1a1a" stroke-width="0.12" text-anchor="middle">U</text>
<text transform="matrix(0.9 0 0 1 275.65 64.25)" font-size="5.6" fill="#1a1a1a" stroke="#1a1a1a" stroke-width="0.12" text-anchor="middle">U</text>
<text transform="matrix(0.9 0 0 1 285.15 64.25)" font-size="5.6" fill="#1a1a1a" stroke="#1a1a1a" stroke-width="0.12" text-anchor="middle">A</text>
<rect x="279.00" y="62.00" width="2.8" height="0.8" fill="#5a4e48"/>
<text transform="matrix(0.9 0 0 1 275.65 69.45)" font-size="5.6" fill="#1a1a1a" stroke="#1a1a1a" stroke-width="0.12" text-anchor="middle">C</text>
<text transform="matrix(0.9 0 0 1 285.15 69.45)" font-size="5.6" fill="#1a1a1a" stroke="#1a1a1a" stroke-width="0.12" text-anchor="middle">G</text>
<rect x="279.00" y="67.20" width="2.8" height="0.8" fill="#5a4e48"/>
<text transform="matrix(0.9 0 0 1 275.65 74.65)" font-size="5.6" fill="#1a1a1a" stroke="#1a1a1a" stroke-width="0.12" text-anchor="middle">A</text>
<text transform="matrix(0.9 0 0 1 285.15 74.65)" font-size="5.6" fill="#1a1a1a" stroke="#1a1a1a" stroke-width="0.12" text-anchor="middle">U</text>
<rect x="279.00" y="72.40" width="2.8" height="0.8" fill="#5a4e48"/>
<text transform="matrix(0.9 0 0 1 275.65 80.25)" font-size="5.6" fill="#1a1a1a" stroke="#1a1a1a" stroke-width="0.12" text-anchor="middle">C</text>
<text transform="matrix(0.9 0 0 1 285.15 80.25)" font-size="5.6" fill="#1a1a1a" stroke="#1a1a1a" stroke-width="0.12" text-anchor="middle">G</text>
<rect x="279.00" y="78.00" width="2.8" height="0.8" fill="#5a4e48"/>
<text transform="matrix(0.9 0 0 1 271.70 84.65)" font-size="5.6" fill="#1a1a1a" stroke="#1a1a1a" stroke-width="0.12" text-anchor="middle">U</text>
<text transform="matrix(0.9 0 0 1 275.65 90.25)" font-size="5.6" fill="#1a1a1a" stroke="#1a1a1a" stroke-width="0.12" text-anchor="middle">G</text>
<text transform="matrix(0.9 0 0 1 285.15 90.25)" font-size="5.6" fill="#1a1a1a" stroke="#1a1a1a" stroke-width="0.12" text-anchor="middle">C</text>
<rect x="279.00" y="88.00" width="2.8" height="0.8" fill="#5a4e48"/>
<text transform="matrix(0.9 0 0 1 275.65 95.45)" font-size="5.6" fill="#1a1a1a" stroke="#1a1a1a" stroke-width="0.12" text-anchor="middle">U</text>
<text transform="matrix(0.9 0 0 1 285.15 95.45)" font-size="5.6" fill="#1a1a1a" stroke="#1a1a1a" stroke-width="0.12" text-anchor="middle">A</text>
<rect x="279.00" y="93.20" width="2.8" height="0.8" fill="#5a4e48"/>
<text transform="matrix(0.9 0 0 1 275.65 100.65)" font-size="5.6" fill="#1a1a1a" stroke="#1a1a1a" stroke-width="0.12" text-anchor="middle">C</text>
<text transform="matrix(0.9 0 0 1 285.15 100.65)" font-size="5.6" fill="#1a1a1a" stroke="#1a1a1a" stroke-width="0.12" text-anchor="middle">G</text>
<rect x="279.00" y="98.40" width="2.8" height="0.8" fill="#5a4e48"/>
<text transform="matrix(0.9 0 0 1 275.65 105.85)" font-size="5.6" fill="#1a1a1a" stroke="#1a1a1a" stroke-width="0.12" text-anchor="middle">G</text>
<text transform="matrix(0.9 0 0 1 285.15 105.85)" font-size="5.6" fill="#1a1a1a" stroke="#1a1a1a" stroke-width="0.12" text-anchor="middle">U</text>
<rect x="279.00" y="103.60" width="2.8" height="0.8" fill="#5a4e48"/>
<text transform="matrix(0.9 0 0 1 289.40 109.55)" font-size="5.6" fill="#1a1a1a" stroke="#1a1a1a" stroke-width="0.12" text-anchor="middle">C</text>
<text transform="matrix(0.9 0 0 1 293.50 113.15)" font-size="5.6" fill="#1a1a1a" stroke="#1a1a1a" stroke-width="0.12" text-anchor="middle">3</text>
<text transform="matrix(0.9 0 0 1 271.70 113.15)" font-size="5.6" fill="#1a1a1a" stroke="#1a1a1a" stroke-width="0.12" text-anchor="middle">5'</text>
<text transform="matrix(0.9 0 0 1 309.70 33.15)" font-size="5.6" fill="#1a1a1a" stroke="#1a1a1a" stroke-width="0.12" text-anchor="middle">U</text>
<text transform="matrix(0.9 0 0 1 319.10 33.15)" font-size="5.6" fill="#1a1a1a" stroke="#1a1a1a" stroke-width="0.12" text-anchor="middle">C</text>
<text transform="matrix(0.9 0 0 1 303.50 38.95)" font-size="5.6" fill="#1a1a1a" stroke="#1a1a1a" stroke-width="0.12" text-anchor="middle">U</text>
<text transform="matrix(0.9 0 0 1 324.30 38.95)" font-size="5.6" fill="#1a1a1a" stroke="#1a1a1a" stroke-width="0.12" text-anchor="middle">G</text>
<text transform="matrix(0.9 0 0 1 305.60 43.95)" font-size="5.6" fill="#1a1a1a" stroke="#1a1a1a" stroke-width="0.12" text-anchor="middle">U</text>
<text transform="matrix(0.9 0 0 1 321.20 43.95)" font-size="5.6" fill="#1a1a1a" stroke="#1a1a1a" stroke-width="0.12" text-anchor="middle">U</text>
<text transform="matrix(0.9 0 0 1 309.45 48.75)" font-size="5.6" fill="#1a1a1a" stroke="#1a1a1a" stroke-width="0.12" text-anchor="middle">G</text>
<text transform="matrix(0.9 0 0 1 318.95 48.75)" font-size="5.6" fill="#1a1a1a" stroke="#1a1a1a" stroke-width="0.12" text-anchor="middle">C</text>
<rect x="312.80" y="46.50" width="2.8" height="0.8" fill="#5a4e48"/>
<text transform="matrix(0.9 0 0 1 309.45 53.95)" font-size="5.6" fill="#1a1a1a" stroke="#1a1a1a" stroke-width="0.12" text-anchor="middle">G</text>
<text transform="matrix(0.9 0 0 1 318.95 53.95)" font-size="5.6" fill="#1a1a1a" stroke="#1a1a1a" stroke-width="0.12" text-anchor="middle">C</text>
<rect x="312.80" y="51.70" width="2.8" height="0.8" fill="#5a4e48"/>
<text transform="matrix(0.9 0 0 1 309.45 59.75)" font-size="5.6" fill="#1a1a1a" stroke="#1a1a1a" stroke-width="0.12" text-anchor="middle">C</text>
<text transform="matrix(0.9 0 0 1 318.95 59.75)" font-size="5.6" fill="#1a1a1a" stroke="#1a1a1a" stroke-width="0.12" text-anchor="middle">G</text>
<rect x="312.80" y="57.50" width="2.8" height="0.8" fill="#5a4e48"/>
<text transform="matrix(0.9 0 0 1 309.45 64.75)" font-size="5.6" fill="#1a1a1a" stroke="#1a1a1a" stroke-width="0.12" text-anchor="middle">A</text>
<text transform="matrix(0.9 0 0 1 318.95 64.75)" font-size="5.6" fill="#1a1a1a" stroke="#1a1a1a" stroke-width="0.12" text-anchor="middle">U</text>
<rect x="312.80" y="62.50" width="2.8" height="0.8" fill="#5a4e48"/>
<text transform="matrix(0.9 0 0 1 309.45 70.15)" font-size="5.6" fill="#1a1a1a" stroke="#1a1a1a" stroke-width="0.12" text-anchor="middle">U</text>
<text transform="matrix(0.9 0 0 1 318.95 70.15)" font-size="5.6" fill="#1a1a1a" stroke="#1a1a1a" stroke-width="0.12" text-anchor="middle">G</text>
<rect x="312.80" y="67.90" width="2.8" height="0.8" fill="#5a4e48"/>
<text transform="matrix(0.9 0 0 1 304.50 75.75)" font-size="5.6" fill="#1a1a1a" stroke="#1a1a1a" stroke-width="0.12" text-anchor="middle">U</text>
<text transform="matrix(0.9 0 0 1 324.30 73.65)" font-size="5.6" fill="#1a1a1a" stroke="#1a1a1a" stroke-width="0.12" text-anchor="middle">U</text>
<text transform="matrix(0.9 0 0 1 324.30 78.45)" font-size="5.6" fill="#1a1a1a" stroke="#1a1a1a" stroke-width="0.12" text-anchor="middle">U</text>
<text transform="matrix(0.9 0 0 1 309.45 80.55)" font-size="5.6" fill="#1a1a1a" stroke="#1a1a1a" stroke-width="0.12" text-anchor="middle">C</text>
<text transform="matrix(0.9 0 0 1 318.95 80.55)" font-size="5.6" fill="#1a1a1a" stroke="#1a1a1a" stroke-width="0.12" text-anchor="middle">G</text>
<rect x="312.80" y="78.30" width="2.8" height="0.8" fill="#5a4e48"/>
<text transform="matrix(0.9 0 0 1 309.45 85.55)" font-size="5.6" fill="#1a1a1a" stroke="#1a1a1a" stroke-width="0.12" text-anchor="middle">G</text>
<text transform="matrix(0.9 0 0 1 318.95 85.55)" font-size="5.6" fill="#1a1a1a" stroke="#1a1a1a" stroke-width="0.12" text-anchor="middle">C</text>
<rect x="312.80" y="83.30" width="2.8" height="0.8" fill="#5a4e48"/>
<text transform="matrix(0.9 0 0 1 309.45 90.75)" font-size="5.6" fill="#1a1a1a" stroke="#1a1a1a" stroke-width="0.12" text-anchor="middle">U</text>
<text transform="matrix(0.9 0 0 1 318.95 90.75)" font-size="5.6" fill="#1a1a1a" stroke="#1a1a1a" stroke-width="0.12" text-anchor="middle">A</text>
<rect x="312.80" y="88.50" width="2.8" height="0.8" fill="#5a4e48"/>
<text transform="matrix(0.9 0 0 1 309.45 95.85)" font-size="5.6" fill="#1a1a1a" stroke="#1a1a1a" stroke-width="0.12" text-anchor="middle">C</text>
<text transform="matrix(0.9 0 0 1 318.95 95.85)" font-size="5.6" fill="#1a1a1a" stroke="#1a1a1a" stroke-width="0.12" text-anchor="middle">G</text>
<rect x="312.80" y="93.60" width="2.8" height="0.8" fill="#5a4e48"/>
<text transform="matrix(0.9 0 0 1 309.45 101.25)" font-size="5.6" fill="#1a1a1a" stroke="#1a1a1a" stroke-width="0.12" text-anchor="middle">G</text>
<text transform="matrix(0.9 0 0 1 318.95 101.25)" font-size="5.6" fill="#1a1a1a" stroke="#1a1a1a" stroke-width="0.12" text-anchor="middle">C</text>
<rect x="312.80" y="99.00" width="2.8" height="0.8" fill="#5a4e48"/>
<text transform="matrix(0.9 0 0 1 309.45 106.95)" font-size="5.6" fill="#1a1a1a" stroke="#1a1a1a" stroke-width="0.12" text-anchor="middle">G</text>
<text transform="matrix(0.9 0 0 1 318.95 106.95)" font-size="5.6" fill="#1a1a1a" stroke="#1a1a1a" stroke-width="0.12" text-anchor="middle">C</text>
<rect x="312.80" y="104.70" width="2.8" height="0.8" fill="#5a4e48"/>
<text transform="matrix(0.9 0 0 1 305.60 113.15)" font-size="5.6" fill="#1a1a1a" stroke="#1a1a1a" stroke-width="0.12" text-anchor="middle">5'</text>
<text transform="matrix(0.9 0 0 1 324.30 113.15)" font-size="5.6" fill="#1a1a1a" stroke="#1a1a1a" stroke-width="0.12" text-anchor="middle">3'</text>
<text transform="matrix(0.9 0 0 1 344.00 32.15)" font-size="5.6" fill="#1a1a1a" stroke="#1a1a1a" stroke-width="0.12" text-anchor="middle">U</text>
<text transform="matrix(0.9 0 0 1 353.40 32.15)" font-size="5.6" fill="#1a1a1a" stroke="#1a1a1a" stroke-width="0.12" text-anchor="middle">C</text>
<text transform="matrix(0.9 0 0 1 338.80 36.85)" font-size="5.6" fill="#1a1a1a" stroke="#1a1a1a" stroke-width="0.12" text-anchor="middle">U</text>
<text transform="matrix(0.9 0 0 1 358.60 36.85)" font-size="5.6" fill="#1a1a1a" stroke="#1a1a1a" stroke-width="0.12" text-anchor="middle">G</text>
<text transform="matrix(0.9 0 0 1 338.80 42.45)" font-size="5.6" fill="#1a1a1a" stroke="#1a1a1a" stroke-width="0.12" text-anchor="middle">U</text>
<text transform="matrix(0.9 0 0 1 358.60 42.45)" font-size="5.6" fill="#1a1a1a" stroke="#1a1a1a" stroke-width="0.12" text-anchor="middle">U</text>
<text transform="matrix(0.9 0 0 1 343.85 47.65)" font-size="5.6" fill="#1a1a1a" stroke="#1a1a1a" stroke-width="0.12" text-anchor="middle">G</text>
<text transform="matrix(0.9 0 0 1 353.35 47.65)" font-size="5.6" fill="#1a1a1a" stroke="#1a1a1a" stroke-width="0.12" text-anchor="middle">C</text>
<rect x="347.20" y="45.40" width="2.8" height="0.8" fill="#5a4e48"/>
<text transform="matrix(0.9 0 0 1 343.85 52.45)" font-size="5.6" fill="#1a1a1a" stroke="#1a1a1a" stroke-width="0.12" text-anchor="middle">G</text>
<text transform="matrix(0.9 0 0 1 353.35 52.45)" font-size="5.6" fill="#1a1a1a" stroke="#1a1a1a" stroke-width="0.12" text-anchor="middle">C</text>
<rect x="347.20" y="50.20" width="2.8" height="0.8" fill="#5a4e48"/>
<text transform="matrix(0.9 0 0 1 338.80 55.95)" font-size="5.6" fill="#1a1a1a" stroke="#1a1a1a" stroke-width="0.12" text-anchor="middle">A</text>
<text transform="matrix(0.9 0 0 1 343.85 61.15)" font-size="5.6" fill="#1a1a1a" stroke="#1a1a1a" stroke-width="0.12" text-anchor="middle">U</text>
<text transform="matrix(0.9 0 0 1 353.35 61.15)" font-size="5.6" fill="#1a1a1a" stroke="#1a1a1a" stroke-width="0.12" text-anchor="middle">G</text>
<rect x="347.20" y="58.90" width="2.8" height="0.8" fill="#5a4e48"/>
<text transform="matrix(0.9 0 0 1 343.85 66.35)" font-size="5.6" fill="#1a1a1a" stroke="#1a1a1a" stroke-width="0.12" text-anchor="middle">C</text>
<text transform="matrix(0.9 0 0 1 353.35 66.35)" font-size="5.6" fill="#1a1a1a" stroke="#1a1a1a" stroke-width="0.12" text-anchor="middle">G</text>
<rect x="347.20" y="64.10" width="2.8" height="0.8" fill="#5a4e48"/>
<text transform="matrix(0.9 0 0 1 343.85 71.55)" font-size="5.6" fill="#1a1a1a" stroke="#1a1a1a" stroke-width="0.12" text-anchor="middle">U</text>
<text transform="matrix(0.9 0 0 1 353.35 71.55)" font-size="5.6" fill="#1a1a1a" stroke="#1a1a1a" stroke-width="0.12" text-anchor="middle">G</text>
<rect x="347.20" y="69.30" width="2.8" height="0.8" fill="#5a4e48"/>
<text transform="matrix(0.9 0 0 1 343.85 76.75)" font-size="5.6" fill="#1a1a1a" stroke="#1a1a1a" stroke-width="0.12" text-anchor="middle">A</text>
<text transform="matrix(0.9 0 0 1 353.35 76.75)" font-size="5.6" fill="#1a1a1a" stroke="#1a1a1a" stroke-width="0.12" text-anchor="middle">U</text>
<rect x="347.20" y="74.50" width="2.8" height="0.8" fill="#5a4e48"/>
<text transform="matrix(0.9 0 0 1 343.85 81.95)" font-size="5.6" fill="#1a1a1a" stroke="#1a1a1a" stroke-width="0.12" text-anchor="middle">C</text>
<text transform="matrix(0.9 0 0 1 353.35 81.95)" font-size="5.6" fill="#1a1a1a" stroke="#1a1a1a" stroke-width="0.12" text-anchor="middle">G</text>
<rect x="347.20" y="79.70" width="2.8" height="0.8" fill="#5a4e48"/>
<text transform="matrix(0.9 0 0 1 343.85 87.15)" font-size="5.6" fill="#1a1a1a" stroke="#1a1a1a" stroke-width="0.12" text-anchor="middle">A</text>
<text transform="matrix(0.9 0 0 1 353.35 87.15)" font-size="5.6" fill="#1a1a1a" stroke="#1a1a1a" stroke-width="0.12" text-anchor="middle">U</text>
<rect x="347.20" y="84.90" width="2.8" height="0.8" fill="#5a4e48"/>
<text transform="matrix(0.9 0 0 1 343.85 92.35)" font-size="5.6" fill="#1a1a1a" stroke="#1a1a1a" stroke-width="0.12" text-anchor="middle">C</text>
<text transform="matrix(0.9 0 0 1 353.35 92.35)" font-size="5.6" fill="#1a1a1a" stroke="#1a1a1a" stroke-width="0.12" text-anchor="middle">G</text>
<rect x="347.20" y="90.10" width="2.8" height="0.8" fill="#5a4e48"/>
<text transform="matrix(0.9 0 0 1 338.80 97.15)" font-size="5.6" fill="#1a1a1a" stroke="#1a1a1a" stroke-width="0.12" text-anchor="middle">G</text>
<text transform="matrix(0.9 0 0 1 338.80 102.15)" font-size="5.6" fill="#1a1a1a" stroke="#1a1a1a" stroke-width="0.12" text-anchor="middle">A</text>
<text transform="matrix(0.9 0 0 1 338.80 107.55)" font-size="5.6" fill="#1a1a1a" stroke="#1a1a1a" stroke-width="0.12" text-anchor="middle">C</text>
<text transform="matrix(0.9 0 0 1 358.60 97.15)" font-size="5.6" fill="#1a1a1a" stroke="#1a1a1a" stroke-width="0.12" text-anchor="middle">A</text>
<text transform="matrix(0.9 0 0 1 358.60 102.15)" font-size="5.6" fill="#1a1a1a" stroke="#1a1a1a" stroke-width="0.12" text-anchor="middle">C</text>
<text transform="matrix(0.9 0 0 1 358.60 107.55)" font-size="5.6" fill="#1a1a1a" stroke="#1a1a1a" stroke-width="0.12" text-anchor="middle">C</text>
<text transform="matrix(0.9 0 0 1 339.90 113.15)" font-size="5.6" fill="#1a1a1a" stroke="#1a1a1a" stroke-width="0.12" text-anchor="middle">5'</text>
<text transform="matrix(0.9 0 0 1 358.60 113.15)" font-size="5.6" fill="#1a1a1a" stroke="#1a1a1a" stroke-width="0.12" text-anchor="middle">3'</text>
<text x="40.75" y="123.3" font-size="6.6" fill="#222" text-anchor="middle" textLength="14.6" lengthAdjust="spacingAndGlyphs" stroke="#222" stroke-width="0.1">–17.7</text>
<text x="28.15" y="132.1" font-size="7.1" fill="#222" stroke="#222" stroke-width="0.1">kcal mol<tspan font-size="4.0" dy="-3.0" dx="0.3">–1</tspan></text>
<text x="75.30" y="123.3" font-size="6.6" fill="#222" text-anchor="middle" textLength="13.6" lengthAdjust="spacingAndGlyphs" stroke="#222" stroke-width="0.1">–9.0</text>
<text x="62.70" y="132.1" font-size="7.1" fill="#222" stroke="#222" stroke-width="0.1">kcal mol<tspan font-size="4.0" dy="-3.0" dx="0.3">–1</tspan></text>
<text x="108.60" y="123.3" font-size="6.6" fill="#222" text-anchor="middle" textLength="14.6" lengthAdjust="spacingAndGlyphs" stroke="#222" stroke-width="0.1">–11.2</text>
<text x="96.00" y="132.1" font-size="7.1" fill="#222" stroke="#222" stroke-width="0.1">kcal mol<tspan font-size="4.0" dy="-3.0" dx="0.3">–1</tspan></text>
<text x="143.30" y="123.3" font-size="6.6" fill="#222" text-anchor="middle" textLength="14.6" lengthAdjust="spacingAndGlyphs" stroke="#222" stroke-width="0.1">–12.9</text>
<text x="130.70" y="132.1" font-size="7.1" fill="#222" stroke="#222" stroke-width="0.1">kcal mol<tspan font-size="4.0" dy="-3.0" dx="0.3">–1</tspan></text>
<text x="176.50" y="123.3" font-size="6.6" fill="#222" text-anchor="middle" textLength="14.6" lengthAdjust="spacingAndGlyphs" stroke="#222" stroke-width="0.1">–12.9</text>
<text x="163.90" y="132.1" font-size="7.1" fill="#222" stroke="#222" stroke-width="0.1">kcal mol<tspan font-size="4.0" dy="-3.0" dx="0.3">–1</tspan></text>
<text x="211.10" y="123.3" font-size="6.6" fill="#222" text-anchor="middle" textLength="13.6" lengthAdjust="spacingAndGlyphs" stroke="#222" stroke-width="0.1">–8.7</text>
<text x="198.50" y="132.1" font-size="7.1" fill="#222" stroke="#222" stroke-width="0.1">kcal mol<tspan font-size="4.0" dy="-3.0" dx="0.3">–1</tspan></text>
<text x="244.80" y="123.3" font-size="6.6" fill="#222" text-anchor="middle" textLength="13.6" lengthAdjust="spacingAndGlyphs" stroke="#222" stroke-width="0.1">–4.4</text>
<text x="232.20" y="132.1" font-size="7.1" fill="#222" stroke="#222" stroke-width="0.1">kcal mol<tspan font-size="4.0" dy="-3.0" dx="0.3">–1</tspan></text>
<text x="278.00" y="123.3" font-size="6.6" fill="#222" text-anchor="middle" textLength="14.6" lengthAdjust="spacingAndGlyphs" stroke="#222" stroke-width="0.1">–12.3</text>
<text x="265.40" y="132.1" font-size="7.1" fill="#222" stroke="#222" stroke-width="0.1">kcal mol<tspan font-size="4.0" dy="-3.0" dx="0.3">–1</tspan></text>
<text x="311.80" y="123.3" font-size="6.6" fill="#222" text-anchor="middle" textLength="14.6" lengthAdjust="spacingAndGlyphs" stroke="#222" stroke-width="0.1">–17.2</text>
<text x="299.20" y="132.1" font-size="7.1" fill="#222" stroke="#222" stroke-width="0.1">kcal mol<tspan font-size="4.0" dy="-3.0" dx="0.3">–1</tspan></text>
<text x="346.50" y="123.3" font-size="6.6" fill="#222" text-anchor="middle" textLength="13.6" lengthAdjust="spacingAndGlyphs" stroke="#222" stroke-width="0.1">–9.8</text>
<text x="333.90" y="132.1" font-size="7.1" fill="#222" stroke="#222" stroke-width="0.1">kcal mol<tspan font-size="4.0" dy="-3.0" dx="0.3">–1</tspan></text>
<line x1="23.9" y1="144.3" x2="23.9" y2="247.2" stroke="#777" stroke-width="0.9"/>
<line x1="23.5" y1="247.2" x2="366.6" y2="247.2" stroke="#777" stroke-width="0.9"/>
<line x1="22.2" y1="242.40" x2="23.9" y2="242.40" stroke="#777" stroke-width="0.7"/>
<text x="19.80" y="244.50" font-size="6.0" fill="#333" text-anchor="end"  stroke="#333" stroke-width="0.1">0</text>
<line x1="22.2" y1="223.84" x2="23.9" y2="223.84" stroke="#777" stroke-width="0.7"/>
<text x="19.80" y="225.94" font-size="6.0" fill="#333" text-anchor="end"  stroke="#333" stroke-width="0.1">0.2</text>
<line x1="22.2" y1="205.28" x2="23.9" y2="205.28" stroke="#777" stroke-width="0.7"/>
<text x="19.80" y="207.38" font-size="6.0" fill="#333" text-anchor="end"  stroke="#333" stroke-width="0.1">0.4</text>
<line x1="22.2" y1="186.72" x2="23.9" y2="186.72" stroke="#777" stroke-width="0.7"/>
<text x="19.80" y="188.82" font-size="6.0" fill="#333" text-anchor="end"  stroke="#333" stroke-width="0.1">0.6</text>
<line x1="22.2" y1="168.16" x2="23.9" y2="168.16" stroke="#777" stroke-width="0.7"/>
<text x="19.80" y="170.26" font-size="6.0" fill="#333" text-anchor="end"  stroke="#333" stroke-width="0.1">0.8</text>
<line x1="22.2" y1="149.60" x2="23.9" y2="149.60" stroke="#777" stroke-width="0.7"/>
<text x="19.80" y="151.70" font-size="6.0" fill="#333" text-anchor="end"  stroke="#333" stroke-width="0.1">1.0</text>
<text transform="translate(6.9,216.0) rotate(-90)" font-size="7.4" fill="#222" textLength="45.5" lengthAdjust="spacingAndGlyphs" stroke="#222" stroke-width="0.1">Binding score</text>
<rect x="32.70" y="156.52" width="17.80" height="86.88" fill="url(#g0)"/>
<path d="M42.8 159.8h.6m-11 .4h.6m14 .4h.6m1.2 0h.6m-3 .6h.6m-8 .2h.6m-1 .6h.6m7.6 .4h.6m-14.4 1.8h.6m12.2 0h.6m-8.6 .4h.6m-4.2 .2h.6m7.8 .2h.6m2 0h.6m1.4 .2h.6m-11.4 .2h.6m-1.2 .4h.6m-3 .4h.6m-.4 .4h.6m.8 .6h.6m11 .4h.6m-14 .2h.6m7.4 .2h.6m-1 .4h.6m-6.8 .2h.6m5 0h.6m1.6 0h.6m1 0h.6m-11.6 .2h.6m-1 .4h.6m10.8 0h.6m2.6 0h.6m1.2 .2h.6m-2.4 .2h.6m-14.6 .2h.6m3.2 0h.6m9 0h.6m-1.8 .4h.6m-3.8 .6h.6m0 0h.6m1.6 0h.6m.2 0h.6m-9.6 .2h.6m.2 .2h.6m1.2 0h.6m5 0h.6m3 0h.6m-5.2 .2h.6m-6.6 .2h.6m5.2 0h.6m1.8 0h.6m-.4 .4h.6m-12.4 .2h.6m1.2 0h.6m12.6 .2h.6m-5.8 .2h.6m5 0h.6m-14.4 .2h.6m-.8 .2h.6m4.4 0h.6m-.2 0h.6m-4.8 .2h.6m.4 .4h.6m4.6 0h.6m-10.2 .2h.6m7.4 0h.6m2.6 0h.6m-3.2 .2h.6m-7 .2h.6m7.2 0h.6m1.2 0h.6m-11.2 .2h.6m3.2 0h.6m4 0h.6m5 0h.6m-.2 .2h.6m-9.6 .2h.6m.4 0h.6m-.4 0h.6m-7.6 .2h.6m3.6 0h.6m1.8 .2h.6m5.8 0h.6m-3.6 .2h.6m3 0h.6m-14 .2h.6m5.6 0h.6m-6.8 .4h.6m2.2 0h.6m-5.6 .4h.6m15.6 0h.6m-9.4 .4h.6m5.4 0h.6m-12.4 .2h.6m-.4 0h.6m8.6 .2h.6m2.2 0h.6m-14.2 .2h.6m2.6 0h.6m.4 .2h.6m12.2 0h.6m-5.2 .2h.6m1.2 0h.6m-12.6 .2h.6m4.2 0h.6m1.2 0h.6m0 0h.6m2.8 0h.6m-7.2 .2h.6m2.2 0h.6m-.6 0h.6m2.2 .2h.6m-6.8 .2h.6m6.4 0h.6m4 0h.6m-7 .2h.6m-5.6 .2h.6m-5 .2h.6m1.8 .4h.6m1 .2h.6m8.8 0h.6m-14.2 .2h.6m4.4 0h.6m4.2 0h.6m.4 0h.6m2.2 .2h.6m-13.6 .2h.6m.4 0h.6m5.6 0h.6m-7.8 .2h.6m4.2 0h.6m5 0h.6m-3.2 .2h.6m-10 .2h.6m2.2 0h.6m-.2 .2h.6m13.4 0h.6m-8.4 .2h.6m-10.4 .2h.6m9.6 0h.6m-.2 0h.6m-6.8 .2h.6m.6 0h.6m3.4 0h.6m1 0h.6m1.8 0h.6m-9.8 .2h.6m1 0h.6m1.2 0h.6m-5 .2h.6m11.2 0h.6m-13 .2h.6m7.6 0h.6m-9.6 .2h.6m14 .2h.6m-9.6 .2h.6m-4.6 .2h.6m1.4 0h.6m7.8 0h.6m-13.6 .2h.6m6.6 0h.6m1.8 .2h.6m2.4 0h.6m-.4 0h.6m-13.8 .2h.6m6.2 0h.6m.6 .2h.6m-2.6 .2h.6m6.6 0h.6m2.2 0h.6m.4 0h.6m-15.4 .2h.6m7.4 0h.6m1.6 0h.6m.2 0h.6m-.2 0h.6m1.2 .2h.6m-11.6 .2h.6m3.2 .2h.6m3.8 0h.6m-9 .2h.6m4.8 0h.6m2.8 0h.6m1.4 .2h.6m-.4 0h.6m-16 .2h.6m-.6 0h.6m3.6 0h.6m-4.4 .2h.6m6.8 0h.6m3.2 .2h.6m-9.2 .2h.6m7.6 0h.6m-1.2 .2h.6m-10.2 .2h.6m-.6 0h.6m10.8 0h.6m-4 .2h.6m-.4 0h.6m6 0h.6m-16.6 .2h.6m6.4 0h.6m3 0h.6m1 .2h.6m-9 .2h.6m4.4 0h.6m0 0h.6m-9.8 .2h.6m7.2 0h.6m5.4 0h.6m-2 .2h.6m1.8 0h.6m1.2 0h.6m-.2 0h.6m-18 .4h.6m5 0h.6m-4.4 .2h.6m.2 .2h.6m2.2 .4h.6m3.4 0h.6m1.2 0h.6m2.2 0h.6m-6.2 .2h.6m3.6 0h.6m-13 .2h.6m1.2 0h.6m-.2 0h.6m1.6 0h.6m4.4 0h.6m-.4 0h.6m.2 0h.6m2.4 0h.6m-14.4 .2h.6m4.8 0h.6m1.8 0h.6m3.6 0h.6m1.4 0h.6m-9.8 .2h.6m7.4 0h.6m-12.6 .4h.6m12.8 0h.6m1 0h.6m-8.4 .2h.6m0 0h.6m8.2 0h.6m-.2 .2h.6m-.6 0h.6m-17.2 .2h.6m1.4 0h.6m0 0h.6m8 0h.6m-11.4 .2h.6m2 0h.6m4.4 0h.6m-4.6 .4h.6m4 0h.6m7.4 .2h.6m-13.8 .2h.6m3.8 .4h.6m1.2 0h.6m.6 .2h.6m1.8 0h.6m-10.2 .2h.6m5.6 0h.6m2.8 0h.6m2.6 .2h.6m-3.8 .2h.6m-8.8 .2h.6m-2.8 .2h.6m2.4 0h.6m6.4 0h.6m1.8 0h.6m-2 .2h.6m-5.2 .2h.6m.2 0h.6m2.2 0h.6m.8 0h.6m-13.2 .2h.6m1.8 0h.6m2.8 0h.6m6 0h.6m.4 0h.6m-14.6 .2h.6m-.4 0h.6m2.2 0h.6m.2 0h.6m.8 0h.6m1.4 0h.6m.2 0h.6m0 0h.6m5.4 0h.6m-15.4 .2h.6m0 0h.6m2.6 0h.6m4 0h.6m-10.2 .2h.6m12.8 0h.6m-12.6 .2h.6m-1.2 .2h.6m4.2 0h.6m6.8 0h.6m-5 .2h.6m4.2 0h.6m-12 .2h.6m-.2 .2h.6m9.4 0h.6m.2 0h.6m-12.4 .2h.6m0 0h.6m3.8 0h.6m1.4 0h.6m6.8 0h.6m-12 .2h.6m4.2 0h.6m5.4 0h.6m-12.8 .2h.6m1.2 0h.6m7.8 0h.6m.6 0h.6m.8 0h.6m-14.4 .2h.6m1.6 .2h.6m2 0h.6m.4 0h.6m4.6 0h.6m-.4 0h.6m-5.4 .2h.6m7.8 0h.6m-15.2 .2h.6m.6 0h.6m-.2 0h.6m3.8 0h.6m3 0h.6m2.2 0h.6m-.2 0h.6m.8 0h.6m-15.6 .2h.6m1.8 0h.6m2.4 0h.6m5 0h.6m.8 0h.6m2 0h.6m-16.4 .2h.6m13.4 0h.6m-13.4 .2h.6m2.2 0h.6m9 0h.6m.2 0h.6m-13.2 .2h.6m.4 0h.6m1.2 0h.6m1 0h.6m-.8 .2h.6m7 0h.6m-14.6 .2h.6m4.4 0h.6m-.4 0h.6m1.4 0h.6m1.6 0h.6m4.4 0h.6m1.6 0h.6m-8 .2h.6m.4 0h.6m3.8 0h.6m-.4 0h.6m-6.8 .2h.6m1.4 0h.6m-7.2 .2h.6m.4 0h.6m-3.8 .2h.6m2.8 0h.6m5.2 0h.6m2.2 0h.6m1.8 0h.6m-9.6 .2h.6m.4 0h.6m6.4 0h.6m-10.4 .2h.6m3.6 0h.6m2 0h.6m-13.2 .2h.6m2.4 0h.6m4 0h.6m0 0h.6m8 .2h.6m-13.2 .2h.6m8 0h.6m-.8 .2h.6m-4 .2h.6m5.2 0h.6m-10 .2h.6m5.4 0h.6m-.4 0h.6m-4.8 .2h.6m2.2 0h.6m-8.8 .6h.6m6 0h.6m4.6 0h.6m-.2 0h.6m-.6 0h.6m1 0h.6m0 0h.6m-13.8 .2h.6m3 0h.6m4.4 0h.6m2 0h.6m-3.2 .2h.6m-.4 .2h.6m2.2 0h.6m-.2 0h.6m.4 0h.6m-16.2 .2h.6m10.6 0h.6m-5.6 .4h.6m8 0h.6m-12.4 .2h.6m2 0h.6m-6.6 .2h.6m4 0h.6m-.2 0h.6m-4.2 .2h.6m3.4 0h.6m0 0h.6m4.8 0h.6m3.2 0h.6m-6.4 .2h.6m6.4 0h.6m-17.2 .2h.6m2.8 0h.6m4.2 0h.6m-3.8 .2h.6m7.4 .2h.6m-13.6 .2h.6m.2 0h.6m8.8 0h.6m3.2 0h.6m-5.2 .2h.6m-.4 0h.6m-9.2 .2h.6m11.4 0h.6m-13.6 .2h.6m3.8 0h.6m11.6 0h.6m-16.2 .2h.6m2.8 0h.6m2.6 0h.6m-8.4 .2h.6m1.4 0h.6m8.2 0h.6m-10.4 .2h.6m-.4 0h.6m-.4 0h.6m.2 0h.6m.2 0h.6m2.6 0h.6m1 0h.6m0 .2h.6m7.2 0h.6m-12.4 .2h.6m4.4 0h.6m.8 0h.6m-.4 0h.6m-.2 0h.6m-3.8 .2h.6m2 0h.6m-.2 0h.6m2.2 0h.6m-14.6 .2h.6m.4 0h.6m5.2 0h.6m.6 0h.6m-6.2 .2h.6m11.2 0h.6m-.4 0h.6m.4 0h.6m-16 .2h.6m1.2 0h.6m2.8 0h.6m1.8 0h.6m-8 .2h.6m4 0h.6m.8 0h.6m7.2 0h.6m1.6 0h.6m-12.8 .2h.6m2.8 0h.6m.4 .2h.6m7.8 0h.6m-15 .2h.6m0 0h.6m9 0h.6m1 0h.6m1 0h.6m-.2 0h.6m-13 .2h.6m-1.6 .2h.6m3.8 0h.6m1.4 0h.6m2.2 0h.6m.6 0h.6m0 0h.6m2.2 0h.6m-11 .2h.6m-.2 0h.6m.2 0h.6m6 0h.6m2.6 0h.6m-16.8 .2h.6m1.4 0h.6m1 0h.6m-2.2 .2h.6m3.4 0h.6m-5.2 .2h.6m1.6 0h.6m4 0h.6m-.4 0h.6m5.4 0h.6m-16.6 .2h.6m.4 0h.6m3.6 0h.6m5.6 0h.6m-11.6 .2h.6m-.2 0h.6m-.4 0h.6m9.6 0h.6m1 0h.6m2.2 0h.6m-15.4 .2h.6m2.6 0h.6m-.2 0h.6m-4.8 .2h.6m2.6 0h.6m.6 0h.6m-.4 0h.6m5.8 0h.6m3.8 0h.6m-10 .2h.6m8.8 0h.6m-11 .2h.6m1.2 0h.6m2.2 0h.6m4.8 0h.6m-14.6 .2h.6m1.8 0h.6m.6 0h.6m2.6 0h.6m0 0h.6m3 0h.6m.8 0h.6m2.6 0h.6m-9.8 .2h.6m-.2 0h.6m-4 .2h.6m6.2 0h.6m0 0h.6m-8.8 .2h.6m6.4 0h.6m3.4 0h.6m-.4 0h.6m-13.8 .2h.6m5.4 0h.6m6 0h.6m-13.8 .2h.6m1.6 0h.6m.4 0h.6m3.8 0h.6m6.2 0h.6m-5.6 .2h.6m2 0h.6m.2 0h.6m.6 0h.6m-10 .2h.6m.6 0h.6m.4 0h.6m2 0h.6m3.8 0h.6m-7.2 .2h.6m0 0h.6m1.6 0h.6m-11.2 .2h.6m13.2 0h.6m2.4 0h.6m-15 .2h.6m4 0h.6m3.4 0h.6m5.2 0h.6m-15.2 .2h.6m3.6 0h.6m5 0h.6m3 0h.6m-15.2 .2h.6m1.4 0h.6m5.8 0h.6m1.8 0h.6m3.6 0h.6m-13.4 .2h.6m2.2 0h.6m-.2 0h.6m0 0h.6m1.6 0h.6m4.2 0h.6m.8 0h.6m-16.4 .2h.6m1.2 0h.6m0 0h.6m0 0h.6m1 0h.6m0 0h.6m-.2 0h.6m-.4 0h.6m1.4 0h.6m-7.6 .2h.6m3 0h.6m0 0h.6m3.6 0h.6m.8 0h.6m5.2 0h.6m.2 0h.6m-6 .2h.6m-.2 0h.6m-.2 0h.6m-8.6 .2h.6m1.6 0h.6m5.6 0h.6m2.2 0h.6m-13 .2h.6m-.4 0h.6m3.8 0h.6m1.4 0h.6m5.2 0h.6m-.2 0h.6m-14.8 .2h.6m3.2 0h.6m.2 0h.6m7.4 0h.6m-.4 0h.6m1.2 0h.6m0 0h.6m-15 .2h.6m2.6 0h.6m6.4 0h.6m-12.6 .2h.6m.8 0h.6m3.2 0h.6m7.4 0h.6m-14.2 .2h.6m12.6 0h.6m-10.2 .2h.6m.4 0h.6m.6 0h.6m6.8 0h.6m-14.2 .2h.6m2.6 0h.6m.2 0h.6m9.2 0h.6m0 0h.6m-14.2 .2h.6m5.4 0h.6m7.8 0h.6m-12.6 .2h.6m1.2 0h.6m3.8 0h.6m3.2 0h.6m3.4 0h.6m-.6 0h.6m-14.4 .2h.6m1 0h.6m1.8 0h.6m8.8 0h.6m-16.4 .2h.6m2.8 0h.6m-.4 0h.6m2.4 0h.6m8 0h.6m-16.4 .2h.6m.2 0h.6m1 0h.6m2.8 0h.6m9 0h.6m.2 0h.6m0 0h.6m-17.4 .2h.6m0 0h.6m4.2 0h.6m-.4 0h.6m4.4 0h.6m.4 0h.6m-.4 0h.6m.6 0h.6m.8 0h.6m-15.6 .2h.6m5.4 0h.6m-.4 0h.6m4.2 0h.6m.6 0h.6m.2 0h.6m.2 0h.6m-.4 0h.6m-.2 0h.6m-10.6 .2h.6m0 0h.6m.8 0h.6m1 0h.6m2 0h.6m1 0h.6m-.2 0h.6m2.8 0h.6m-14.2 .2h.6m0 0h.6m.6 0h.6m1 0h.6m-.2 0h.6m0 0h.6m-.2 0h.6m0 0h.6m1 0h.6m2.4 0h.6m3.4 0h.6m-.4 0h.6m-12 .2h.6m6.2 0h.6m3 0h.6m-8 .2h.6m.2 0h.6m6.2 0h.6m-12.2 .2h.6m.2 0h.6m1.4 0h.6m4.2 0h.6m-5 .2h.6m3 0h.6m.6 0h.6m2.2 0h.6m-13.2 .2h.6m9.6 0h.6m-5 .2h.6m0 0h.6m3 0h.6m1.2 0h.6m-11.2 .2h.6m4.4 0h.6m4.6 0h.6m1.4 0h.6m-.2 0h.6m-11.2 .2h.6m.4 0h.6m.8 0h.6m3.2 0h.6m-10.8 .2h.6m12.2 0h.6m.2 0h.6m1 0h.6m-17.4 .2h.6m.4 0h.6m-.4 0h.6m3.4 0h.6m-.2 0h.6m3.4 0h.6m5.6 0h.6m-13.4 .2h.6m.8 0h.6m1 0h.6m.2 0h.6m.4 0h.6m-.4 0h.6m.8 0h.6m.8 0h.6m5.6 0h.6m-9.6 .2h.6m5.2 0h.6m-.4 0h.6m-7 .2h.6m5 0h.6m1.4 0h.6m.6 0h.6m.6 0h.6m-17.6 .2h.6m0 0h.6m1.6 0h.6m.4 0h.6m-5.2 .2h.6m6.6 0h.6m1.6 0h.6m1.8 0h.6m-10.8 .2h.6m3.4 0h.6m0 0h.6m-.2 0h.6m8.6 0h.6m-.4 0h.6m.4 0h.6m-16.2 .2h.6m2.2 0h.6m3.4 0h.6m7 0h.6m-.6 0h.6m-.4 0h.6m1 0h.6m-17.4 .2h.6m4.4 0h.6m.6 0h.6m1.8 0h.6m-2.6 .2h.6m5.4 0h.6m.8 0h.6m.2 0h.6m-13.8 .2h.6m1.8 0h.6m0 0h.6m1.4 0h.6m3.6 0h.6m0 0h.6m-.4 0h.6m2.8 0h.6m-16.2 .2h.6m3.8 0h.6m0 0h.6m-.4 0h.6m-.4 0h.6m.4 0h.6m4 0h.6m-6 .2h.6m.6 0h.6m1.2 0h.6m-7.4 .2h.6m.2 0h.6m1.2 0h.6m1 0h.6m-.6 0h.6m2.2 0h.6m4 0h.6m-.4 0h.6m-12.6 .2h.6m8.8 0h.6m.2 0h.6m-.2 0h.6m3.8 0h.6m-14.2 .2h.6m1 0h.6m1.6 0h.6m1.2 0h.6m2.4 0h.6m1.6 0h.6m-.2 0h.6m-.4 0h.6m.2 0h.6m-8.2 .2h.6m-.6 0h.6m5.6 0h.6m-.4 0h.6m1.6 0h.6m-14.8 .2h.6m4.4 0h.6m5 0h.6m.2 0h.6m0 0h.6m1 0h.6m-15.2 .2h.6m3.4 0h.6m-5.6 .2h.6m-.4 0h.6m3.4 0h.6m2.4 0h.6m1.8 0h.6m6 0h.6m-4.2 .2h.6m2 0h.6m-15.6 .2h.6m2.8 0h.6m2.2 0h.6m-.6 0h.6m3.2 0h.6m6.8 0h.6m-15.8 .2h.6m3.6 0h.6m-.2 0h.6m6 0h.6m-13.2 .2h.6m2.6 0h.6m.2 0h.6m3.4 0h.6m3.4 0h.6m-.4 0h.6m.6 0h.6m2.6 0h.6m-18.4 .2h.6m2 0h.6m1 0h.6m4 0h.6m1.6 0h.6m5 0h.6m-.2 0h.6m-.2 0h.6m-17.6 .2h.6m8.4 0h.6m.4 0h.6m2.8 0h.6m.2 0h.6m.4 0h.6m.6 0h.6m-17 .2h.6m1.8 0h.6m.8 0h.6m3 0h.6m0 0h.6m3 0h.6m-.4 0h.6m3.6 0h.6m-11.8 .2h.6m1 0h.6m.4 0h.6m-.2 0h.6m.4 0h.6m-7.8 .2h.6m3.4 0h.6m.8 0h.6m0 0h.6m.8 0h.6m-.4 0h.6m.8 0h.6m4.4 0h.6m-15.8 .2h.6m-.4 0h.6m1.8 0h.6m3.4 0h.6m.6 0h.6m-.2 0h.6m.8 0h.6m.4 0h.6m.4 0h.6m1.6 0h.6m-11 .2h.6m.8 0h.6m.4 0h.6m4.2 0h.6m5.4 0h.6m-14.4 .2h.6m-.2 0h.6m-.4 0h.6m0 0h.6m1.4 0h.6m2.2 0h.6m.8 0h.6m-.4 0h.6m3 0h.6m-.2 0h.6m-.2 0h.6m-.4 0h.6m0 0h.6m-15 .2h.6m.6 0h.6m4.2 0h.6m.8 0h.6m2 0h.6m-9.2 .2h.6m0 0h.6m5 0h.6m-.4 0h.6m4.4 0h.6m1.6 0h.6m-.4 0h.6m-17.6 .2h.6m.2 0h.6m5.2 0h.6m1.4 0h.6m-.6 0h.6m-.4 0h.6m4.6 0h.6m1.4 0h.6m.2 0h.6m-17.6 .2h.6m3.6 0h.6m5 0h.6m3.6 0h.6m2.8 0h.6m-17.6 .2h.6m0 0h.6m9.8 0h.6m2.2 0h.6m.6 0h.6m-.2 0h.6m-15.4 .2h.6m1.4 0h.6m3 0h.6m-4.8 .2h.6m2 0h.6m3.2 0h.6m1 0h.6m1.2 0h.6m1.4 0h.6m-.2 0h.6m1.6 0h.6m-15.4 .2h.6m.2 0h.6m5.6 0h.6m2 0h.6m-.4 0h.6m.4 0h.6m1.2 0h.6m.6 0h.6m-10.2 .2h.6m.4 0h.6m2.2 0h.6m4.4 0h.6m2 0h.6m-16 .2h.6m-.2 0h.6m.4 0h.6m1 0h.6m2.8 0h.6m.8 0h.6m-.4 0h.6m-10.6 .2h.6m0 0h.6m1.4 0h.6m4.8 0h.6m0 0h.6m.4 0h.6m6.2 0h.6m-14 .2h.6m.4 0h.6m5 0h.6m1 0h.6m4.8 0h.6m.2 0h.6m-16.6 .2h.6m.2 0h.6m2 0h.6m-.2 0h.6m0 0h.6m1.4 0h.6m1.8 0h.6m1.2 0h.6m1.6 0h.6m1.6 0h.6m-14.8 .2h.6m1.8 0h.6m0 0h.6m0 0h.6m.2 0h.6m.8 0h.6m.6 0h.6m5 0h.6m-13.6 .2h.6m.2 0h.6m4.4 0h.6m.8 0h.6m3.6 0h.6m1.6 0h.6m-13 .2h.6m2.8 0h.6m7.6 0h.6m1.6 0h.6m-.4 0h.6m-16.6 .2h.6m1.4 0h.6m-.4 0h.6m4.8 0h.6m1.6 0h.6m-.4 0h.6m.2 0h.6m.2 0h.6m-.4 0h.6m.2 0h.6m1 0h.6m-.2 0h.6m-13 .2h.6m5 0h.6m2.6 0h.6m2.8 0h.6m1.2 0h.6m-16.2 .2h.6m6.4 0h.6m-.2 0h.6m1.6 0h.6m3.4 0h.6m-.2 0h.6m-15.2 .2h.6m1.6 0h.6m4.2 0h.6m3 0h.6m2.2 0h.6m-.4 0h.6m.8 0h.6m-12.8 .2h.6m0 0h.6m4.6 0h.6m0 0h.6m-.6 0h.6m1.4 0h.6m3.2 0h.6m-.4 0h.6m-7.6 .2h.6m.4 0h.6m2.4 0h.6m3.4 0h.6m-16.2 .2h.6m1.2 0h.6m5.2 0h.6m1.8 0h.6m-.6 0h.6m1.6 0h.6m-.2 0h.6m-.6 0h.6m-13.6 .2h.6m-.4 0h.6m-.6 0h.6m.4 0h.6m1.8 0h.6m4.4 0h.6m1 0h.6m3.6 0h.6m0 0h.6m-.2 0h.6m-16.6 .2h.6m-.2 0h.6m.6 0h.6m1.2 0h.6m0 0h.6m-.4 0h.6m.6 0h.6m2.4 0h.6m.4 0h.6m2.4 0h.6m1.2 0h.6m-.2 0h.6m-12.4 .2h.6m1.4 0h.6m.8 0h.6m.4 0h.6m0 0h.6m.8 0h.6m3.4 0h.6m2.2 0h.6m-17.2 .2h.6m6 0h.6m1.4 0h.6m-.4 0h.6m.2 0h.6m6.4 0h.6m.2 0h.6m-.4 0h.6m-17.8 .2h.6m-.6 0h.6m.4 0h.6m.8 0h.6m.2 0h.6m-.4 0h.6m1.2 0h.6m.8 0h.6m-.4 0h.6m1.8 0h.6m3 0h.6m-.4 0h.6m-.2 0h.6m1 0h.6m.2 0h.6m-12.6 .2h.6m.8 0h.6m-.2 0h.6m0 0h.6m3 0h.6m.8 0h.6m-.4 0h.6m1.4 0h.6m-14.4 .2h.6m-.4 0h.6m1.6 0h.6m7.2 0h.6m.4 0h.6m1.4 0h.6m.8 0h.6m.4 0h.6m.8 0h.6m-13.6 .2h.6m-.2 0h.6m.8 0h.6m.8 0h.6m4.2 0h.6m3.8 0h.6m-.2 0h.6m-16.8 .2h.6m4.6 0h.6m-.6 0h.6m.4 0h.6m1.4 0h.6m.8 0h.6m-.4 0h.6m.6 0h.6m4 0h.6m0 0h.6m-14.6 .2h.6m.8 0h.6m.8 0h.6m2 0h.6m.8 0h.6m-.4 0h.6m-.4 0h.6m4 0h.6m-15.2 .2h.6m1.4 0h.6m.2 0h.6m0 0h.6m-.6 0h.6m.8 0h.6m2 0h.6m.8 0h.6m.4 0h.6m.8 0h.6m-.2 0h.6m1.2 0h.6m-.4 0h.6m.2 0h.6m1.2 0h.6m.4 0h.6m-.4 0h.6m-17.6 .2h.6m-.2 0h.6m1.8 0h.6m3.4 0h.6m2.6 0h.6m2.6 0h.6m.2 0h.6m.6 0h.6m-.4 0h.6m-12.2 .2h.6m-.2 0h.6m1.2 0h.6m1 0h.6m0 0h.6m.4 0h.6m1 0h.6m0 0h.6m.2 0h.6m1.6 0h.6m1.2 0h.6m-.6 0h.6m.2 0h.6m-18.2 .2h.6m-.2 0h.6m.6 0h.6m.2 0h.6m-.2 0h.6m-.6 0h.6m2.4 0h.6m6.2 0h.6m1.6 0h.6m-13.8 .2h.6m.2 0h.6m-.6 0h.6m-.4 0h.6m-.6 0h.6m.2 0h.6m.8 0h.6m1.6 0h.6m6 0h.6m.6 0h.6m.4 0h.6m.4 0h.6m-16.4 .2h.6m2.2 0h.6m.4 0h.6m2 0h.6m-.2 0h.6m2.2 0h.6m2.2 0h.6m1.4 0h.6m.4 0h.6m-16.6 .2h.6m4.6 0h.6m1.8 0h.6m.2 0h.6m-.2 0h.6m.4 0h.6m0 0h.6m2.8 0h.6m-.2 0h.6m-.2 0h.6m1.8 0h.6m-.6 0h.6m-16.8 .2h.6m-.2 0h.6m.2 0h.6m.2 0h.6m-.4 0h.6m0 0h.6m4.6 0h.6m3.6 0h.6m3.4 0h.6m-15.4 .2h.6m1.2 0h.6m2.8 0h.6m-.2 0h.6m-.4 0h.6m2.8 0h.6m.2 0h.6m2.8 0h.6m1 0h.6m-15.4 .2h.6m1.6 0h.6m.8 0h.6m.6 0h.6m-.6 0h.6m6.8 0h.6m0 0h.6m-.2 0h.6m-.6 0h.6m.6 0h.6m-17.8 .2h.6m.4 0h.6m.8 0h.6m.6 0h.6m-.2 0h.6m-.2 0h.6m-.4 0h.6m.2 0h.6m-.6 0h.6m.4 0h.6m3 0h.6m-.2 0h.6m.2 0h.6m1.2 0h.6m-13.2 .2h.6m3.2 0h.6m6.8 0h.6m0 0h.6m.8 0h.6m.4 0h.6m.4 0h.6m.8 0h.6m-12.2 .2h.6m.8 0h.6m.2 0h.6m0 0h.6m-.2 0h.6m1.2 0h.6m4.8 0h.6m-16 .2h.6m.2 0h.6m-.6 0h.6m2 0h.6m-.2 0h.6m2 0h.6m-.2 0h.6m0 0h.6m1.8 0h.6m2.4 0h.6m0 0h.6m2.6 0h.6m0 0h.6m-13.8 .2h.6m1.2 0h.6m1.4 0h.6m3.4 0h.6m-.2 0h.6m-12.4 .2h.6m-.6 0h.6m2.4 0h.6m1.6 0h.6m.6 0h.6m4 0h.6m.4 0h.6m3.2 0h.6m.4 0h.6m-16.6 .2h.6m0 0h.6m0 0h.6m1 0h.6m-.6 0h.6m1.2 0h.6m.6 0h.6m-7.2 .2h.6m-.2 0h.6m.6 0h.6m.2 0h.6m-.2 0h.6m-.4 0h.6m0 0h.6m-.4 0h.6m2 0h.6m1.2 0h.6m4.2 0h.6m-.2 0h.6m.2 0h.6m.2 0h.6m-15.2 .2h.6m-.4 0h.6m.4 0h.6m1.4 0h.6m2.4 0h.6m.4 0h.6m2.4 0h.6m-.4 0h.6m4 0h.6m-12.6 .2h.6m1.6 0h.6m-.4 0h.6m.2 0h.6m-.2 0h.6m1.4 0h.6m-.2 0h.6m1.6 0h.6m-.2 0h.6m.4 0h.6m2.4 0h.6m-.2 0h.6m-17.4 .2h.6m-.4 0h.6m.4 0h.6m0 0h.6m.2 0h.6m0 0h.6m2 0h.6m-.6 0h.6m3.2 0h.6m0 0h.6m-.4 0h.6m2 0h.6m2.2 0h.6m.4 0h.6m-17.6 .2h.6m0 0h.6m-.2 0h.6m.6 0h.6m1.4 0h.6m-.2 0h.6m-.4 0h.6m-.4 0h.6m0 0h.6m-.2 0h.6m.8 0h.6m5 0h.6m.8 0h.6m-.2 0h.6m.4 0h.6m-14 .2h.6m-.2 0h.6m.6 0h.6m1.2 0h.6m.4 0h.6m2.6 0h.6m-.4 0h.6m-.4 0h.6m.4 0h.6m.8 0h.6m2 0h.6m.4 0h.6m0 0h.6m-17.2 .2h.6m-.4 0h.6m1 0h.6m-.4 0h.6m1.2 0h.6m-.6 0h.6m-.4 0h.6m1.4 0h.6m.2 0h.6m.2 0h.6m-.4 0h.6m-.4 0h.6m2 0h.6m2 0h.6m-.4 0h.6m1.6 0h.6m.8 0h.6m-17.6 .2h.6m-.6 0h.6m-.6 0h.6m2.4 0h.6m-.6 0h.6m2.8 0h.6m1.6 0h.6m.4 0h.6m2.6 0h.6m2 0h.6m-.2 0h.6m-16.4 .2h.6m-.2 0h.6m0 0h.6m-.4 0h.6m.2 0h.6m.8 0h.6m-.2 0h.6m2.4 0h.6m1.2 0h.6m0 0h.6m0 0h.6m0 0h.6m1.6 0h.6m-.2 0h.6m1.2 0h.6m-.2 0h.6m.2 0h.6m0 0h.6m-12.4 .2h.6m.6 0h.6m0 0h.6m2.4 0h.6m-.4 0h.6m1 0h.6m1.6 0h.6m-.6 0h.6m1.2 0h.6m.4 0h.6m-.4 0h.6m-.4 0h.6m-15.2 .2h.6m1 0h.6m-.4 0h.6m-.6 0h.6m2.6 0h.6m2 0h.6m0 0h.6m.6 0h.6m2.2 0h.6m.2 0h.6m-.2 0h.6m-.6 0h.6m0 0h.6m-.4 0h.6m-16.6 .2h.6m-.4 0h.6m.4 0h.6m.4 0h.6m.6 0h.6m2.6 0h.6m.8 0h.6m.6 0h.6m0 0h.6m1.2 0h.6m.2 0h.6m2.2 0h.6m-15.2 .2h.6m-.6 0h.6m-.2 0h.6m-.4 0h.6m.8 0h.6m-.2 0h.6m.2 0h.6m.2 0h.6m.2 0h.6m.2 0h.6m.2 0h.6m2.6 0h.6m-.4 0h.6m.4 0h.6m-.6 0h.6m-.4 0h.6m0 0h.6m-.4 0h.6m3.4 0h.6m-14.8 .2h.6m-.4 0h.6m1 0h.6m-.2 0h.6m-.4 0h.6m1.6 0h.6m0 0h.6m.6 0h.6m-.4 0h.6m1 0h.6m2.4 0h.6m-.2 0h.6m.2 0h.6m.4 0h.6m-16.6 .2h.6m.6 0h.6m2.4 0h.6m0 0h.6m2.8 0h.6m1 0h.6m.6 0h.6m0 0h.6m-.4 0h.6m.8 0h.6m-.4 0h.6m-.6 0h.6m0 0h.6m-11 .2h.6m.8 0h.6m2.2 0h.6m5.6 0h.6m0 0h.6m1 0h.6m-17.4 .2h.6m.6 0h.6m.2 0h.6m.2 0h.6m1.4 0h.6m-.6 0h.6m1 0h.6m.8 0h.6m.4 0h.6m.2 0h.6m1 0h.6m0 0h.6m0 0h.6m.2 0h.6m0 0h.6m-.4 0h.6m-.6 0h.6m.8 0h.6m-.2 0h.6m.4 0h.6m-16.8 .2h.6m0 0h.6m.8 0h.6m.4 0h.6m1 0h.6m-.4 0h.6m1.6 0h.6m-.2 0h.6m.6 0h.6m2.4 0h.6m1.2 0h.6m.8 0h.6m.6 0h.6m-17 .2h.6m-.4 0h.6m-.2 0h.6m.2 0h.6m.6 0h.6m-.2 0h.6m.6 0h.6m-.2 0h.6m-.6 0h.6m.6 0h.6m2.2 0h.6m2.6 0h.6m0 0h.6m-.4 0h.6m-.2 0h.6m0 0h.6m.6 0h.6m.2 0h.6m0 0h.6m-16.6 .2h.6m0 0h.6m.4 0h.6m1 0h.6m.4 0h.6m-.2 0h.6m1.4 0h.6m1.8 0h.6m0 0h.6m-.4 0h.6m-.6 0h.6m-.4 0h.6m-.2 0h.6m1.8 0h.6m.4 0h.6m0 0h.6m0 0h.6m.2 0h.6m-16.8 .2h.6m-.4 0h.6m4 0h.6m.6 0h.6m-.4 0h.6m.8 0h.6m-.2 0h.6m.6 0h.6m-.4 0h.6m4.8 0h.6m1.2 0h.6m-17 .2h.6m-.6 0h.6m-.4 0h.6m1 0h.6m0 0h.6m.4 0h.6m-.2 0h.6m-.2 0h.6m-.6 0h.6m0 0h.6m.8 0h.6m.6 0h.6m0 0h.6m1.4 0h.6m1.8 0h.6m-.4 0h.6m.4 0h.6m1.8 0h.6m-14.4 .2h.6m-.2 0h.6m0 0h.6m0 0h.6m-.6 0h.6m-.2 0h.6m1.6 0h.6m.6 0h.6m.2 0h.6m1.4 0h.6m1 0h.6m0 0h.6m1.2 0h.6m1.8 0h.6m-.4 0h.6m-.2 0h.6m-17.8 .2h.6m-.4 0h.6m0 0h.6m1.4 0h.6m.2 0h.6m.6 0h.6m-.4 0h.6m2.4 0h.6m.2 0h.6m-.4 0h.6m4 0h.6m-.4 0h.6m.6 0h.6m.2 0h.6m-.4 0h.6m.4 0h.6m-.6 0h.6m-15.2 .2h.6m-.6 0h.6m.2 0h.6m-.6 0h.6m-.2 0h.6m0 0h.6m-.4 0h.6m.4 0h.6m0 0h.6m-.6 0h.6m1.8 0h.6m-.6 0h.6m.6 0h.6m-.6 0h.6m0 0h.6m0 0h.6m-.6 0h.6m-.4 0h.6m1 0h.6m.4 0h.6m.2 0h.6m1.2 0h.6m.4 0h.6m-16.6 .2h.6m-.6 0h.6m-.4 0h.6m-.6 0h.6m.2 0h.6m-.2 0h.6m-.6 0h.6m1.6 0h.6m.6 0h.6m-.4 0h.6m-.4 0h.6m0 0h.6m.8 0h.6m.4 0h.6m-.2 0h.6m.6 0h.6m-.4 0h.6m2.6 0h.6m-.6 0h.6m.6 0h.6m0 0h.6m0 0h.6m-17 .2h.6m-.4 0h.6m.8 0h.6m1.8 0h.6m-.6 0h.6m1.8 0h.6m0 0h.6m-.2 0h.6m1 0h.6m.6 0h.6m1.2 0h.6m1 0h.6m.4 0h.6m-15 .2h.6m0 0h.6m-.4 0h.6m.8 0h.6m4.2 0h.6m3.2 0h.6m-.6 0h.6m.4 0h.6m.6 0h.6m.4 0h.6m-.4 0h.6m-15.6 .2h.6m.2 0h.6m2.6 0h.6m0 0h.6m.4 0h.6m-.6 0h.6m4.8 0h.6m.2 0h.6m.6 0h.6m.8 0h.6m1 0h.6m0 0h.6m-16.2 .2h.6m-.2 0h.6m-.4 0h.6m1.2 0h.6m2 0h.6m.6 0h.6m.6 0h.6m.6 0h.6m.2 0h.6m.2 0h.6m3.4 0h.6m-.6 0h.6m1.6 0h.6m-18 .2h.6m1.6 0h.6m-.4 0h.6m0 0h.6m-.2 0h.6m.6 0h.6m-.4 0h.6m-.6 0h.6m.4 0h.6m-.2 0h.6m0 0h.6m-.6 0h.6m-.2 0h.6m-.2 0h.6m-.4 0h.6m.4 0h.6m-.6 0h.6m.4 0h.6m-.4 0h.6m1.4 0h.6m-.4 0h.6m-.6 0h.6m-.6 0h.6m-.6 0h.6m.6 0h.6m-.4 0h.6m.4 0h.6m-.6 0h.6m.2 0h.6m-.4 0h.6m-.4 0h.6m.8 0h.6m-14.4 .2h.6m.2 0h.6m.4 0h.6m-.6 0h.6m-.4 0h.6m2.2 0h.6m.2 0h.6m4 0h.6m1.4 0h.6m-16 .2h.6m-.2 0h.6m-.6 0h.6m.2 0h.6m0 0h.6m-.6 0h.6m-.2 0h.6m0 0h.6m1.4 0h.6m-.2 0h.6m2.8 0h.6m-.2 0h.6m-.4 0h.6m-.2 0h.6m.6 0h.6m0 0h.6m.4 0h.6m.4 0h.6m-.4 0h.6m0 0h.6m-.4 0h.6m-.6 0h.6m-.6 0h.6m-.6 0h.6m-14.2 .2h.6m0 0h.6m.2 0h.6m0 0h.6m3.2 0h.6m-.2 0h.6m-.2 0h.6m.8 0h.6m0 0h.6m1.6 0h.6m0 0h.6m.6 0h.6m2.2 0h.6m.4 0h.6m-17.4 .2h.6m1 0h.6m.4 0h.6m1 0h.6m2.6 0h.6m.2 0h.6m1 0h.6m-.4 0h.6m-.4 0h.6m2.2 0h.6m1.2 0h.6m0 0h.6m.2 0h.6m-15.6 .2h.6m-.2 0h.6m1.6 0h.6m.8 0h.6m.2 0h.6m0 0h.6m.2 0h.6m1 0h.6m.2 0h.6m-.6 0h.6m.4 0h.6m3.2 0h.6m.8 0h.6m.2 0h.6m-17.4 .2h.6m2 0h.6m.8 0h.6m.4 0h.6m-.2 0h.6m2 0h.6m-.6 0h.6m-.2 0h.6m0 0h.6m0 0h.6m.4 0h.6m.2 0h.6m2.2 0h.6m-.6 0h.6m0 0h.6m-.2 0h.6m-.4 0h.6m.2 0h.6m0 0h.6m-15.6 .2h.6m.4 0h.6m.4 0h.6m.2 0h.6m.4 0h.6m-.2 0h.6m0 0h.6m.8 0h.6m1.8 0h.6m1 0h.6m-.2 0h.6m-.4 0h.6m-.6 0h.6m.2 0h.6m.4 0h.6" stroke="#d5574c" stroke-width="0.6" stroke-opacity="0.7" fill="none"/>
<rect x="32.70" y="202.50" width="17.80" height="31.55" fill="none" stroke="#bb4c42" stroke-width="0.7"/>
<line x1="32.70" y1="221.98" x2="50.50" y2="221.98" stroke="#bb4c42" stroke-width="0.7"/>
<line x1="41.60" y1="157.02" x2="41.60" y2="202.50" stroke="#bb4c42" stroke-width="0.7"/>
<line x1="37.10" y1="157.02" x2="46.10" y2="157.02" stroke="#bb4c42" stroke-width="0.7"/>
<line x1="37.10" y1="241.94" x2="46.10" y2="241.94" stroke="#bb4c42" stroke-width="0.7"/>
<circle cx="41.60" cy="215.49" r="0.85" fill="#3d7a2a"/>
<rect x="66.90" y="164.88" width="17.80" height="78.52" fill="url(#g1)"/>
<path d="M74.8 165.4h.6m1.2 0h.6m1 .6h.6m-8.6 .2h.6m1.4 0h.6m-2.4 .2h.6m8.8 .2h.6m-2.2 .2h.6m-1.2 .2h.6m-11 .2h.6m7 0h.6m3.2 .2h.6m-12.2 .2h.6m1.6 0h.6m5.4 0h.6m3 0h.6m3.6 0h.6m-9.2 .2h.6m8.4 0h.6m-13.6 .2h.6m11.4 0h.6m-6.8 .2h.6m-10 .4h.6m-.4 0h.6m5.8 .2h.6m-1.6 .2h.6m6.4 0h.6m-4.8 .2h.6m-2.4 .4h.6m0 0h.6m-5 .2h.6m1 0h.6m8.2 0h.6m-2.4 .2h.6m3.6 0h.6m-.2 0h.6m-16.6 .6h.6m3.2 0h.6m-2.4 .2h.6m7 .2h.6m7.4 .4h.6m-6.4 .2h.6m4.2 0h.6m-15.8 .6h.6m-.2 0h.6m.6 0h.6m10 .2h.6m-11.8 .2h.6m3.4 0h.6m5 0h.6m1.8 0h.6m-9.6 .2h.6m-.4 0h.6m5 0h.6m-5.2 .4h.6m-.6 0h.6m8 0h.6m-8.8 .2h.6m-5 .2h.6m-2.8 .2h.6m1.2 0h.6m8.4 0h.6m1.8 0h.6m-11 .6h.6m5.4 0h.6m6.4 0h.6m-13 .4h.6m2.4 0h.6m4.6 0h.6m4.6 .2h.6m-16.2 .2h.6m10 0h.6m1 0h.6m-11 .2h.6m-2.8 .2h.6m2.8 0h.6m1 0h.6m6 .2h.6m3 0h.6m-10.6 .2h.6m6.6 0h.6m-7.8 .2h.6m10.4 0h.6m-14.8 .2h.6m1.8 .2h.6m-.6 0h.6m-2 .2h.6m12 .4h.6m.2 0h.6m-6.2 .2h.6m-2.8 .2h.6m2.6 .4h.6m-6.6 .2h.6m3.4 0h.6m-4 .2h.6m1 0h.6m5.2 .2h.6m2 0h.6m-11.2 .2h.6m2.4 0h.6m-5.8 .8h.6m7.6 0h.6m1 0h.6m.6 0h.6m-2.8 .2h.6m-4.6 .2h.6m4 .6h.6m2.4 0h.6m-16.4 .2h.6m3.8 .2h.6m-.6 0h.6m7 0h.6m1.4 0h.6m-15.2 .2h.6m6.8 .2h.6m4.4 0h.6m-4 .2h.6m.8 0h.6m-10.8 .2h.6m4.8 0h.6m2.8 0h.6m6 .2h.6m-8.6 .2h.6m5.2 0h.6m-14 .2h.6m14.2 0h.6m-14.4 .2h.6m5.6 0h.6m-4 .2h.6m2.4 0h.6m2.4 0h.6m-10 .2h.6m12.4 .2h.6m1.8 0h.6m-10.2 .2h.6m.8 0h.6m2.2 0h.6m-.4 0h.6m-3.8 .4h.6m1 .8h.6m-.6 .2h.6m-6.6 .2h.6m10.4 0h.6m.6 .2h.6m-7 .4h.6m2.2 0h.6m3.6 0h.6m-13.2 .2h.6m9.2 0h.6m.4 0h.6m-4.6 .6h.6m-8.8 .2h.6m12 0h.6m-1.8 .2h.6m-11.6 .2h.6m-3.8 .2h.6m.8 .2h.6m11.4 0h.6m-9.8 .2h.6m4.4 0h.6m7.2 0h.6m-12.8 .2h.6m7.6 0h.6m-7.6 .2h.6m5.2 .2h.6m1.8 0h.6m-6.4 .6h.6m-.6 0h.6m-8.4 .2h.6m3.6 .2h.6m1.2 0h.6m7.6 0h.6m-8.2 .2h.6m8.2 0h.6m0 0h.6m-13.6 .2h.6m0 .2h.6m-.4 0h.6m.2 .2h.6m7.6 .2h.6m-13 .2h.6m5 .2h.6m9.2 0h.6m-10.8 .6h.6m10.8 0h.6m-7.6 .4h.6m-8.4 .2h.6m1.4 .2h.6m-3 .2h.6m8.8 0h.6m0 0h.6m-12.4 .2h.6m-.2 .2h.6m5.8 .2h.6m-6 .4h.6m1 0h.6m12.6 0h.6m-4 .2h.6m-6.6 .2h.6m-.2 .2h.6m9.2 0h.6m-17.4 .2h.6m15.8 0h.6m-16.8 .2h.6m12.4 .2h.6m-13.2 .8h.6m1.8 0h.6m6 0h.6m.4 0h.6m-.6 .2h.6m4.4 0h.6m-6.8 .2h.6m4.4 0h.6m-13.2 .2h.6m.4 0h.6m.4 0h.6m6.8 0h.6m1.4 0h.6m-1 .2h.6m-12.2 .8h.6m4 .2h.6m.6 .4h.6m5.8 0h.6m-9 .2h.6m-.4 .4h.6m7.4 .2h.6m1.2 0h.6m-13.8 .4h.6m9.8 0h.6m2 0h.6m-1.8 .2h.6m-.4 0h.6m.2 0h.6m-14.2 .2h.6m-.4 0h.6m12 0h.6m-3.6 .2h.6m-9 .2h.6m8.2 .4h.6m-4.2 .2h.6m6 0h.6m-2.6 .4h.6m-12.8 .4h.6m1 0h.6m1.2 .2h.6m5.6 .4h.6m1 0h.6m5 0h.6m-14.6 .6h.6m2 0h.6m9.6 0h.6m-14 .2h.6m-3 .2h.6m3.2 .2h.6m3.4 0h.6m8.4 .2h.6m-14 .2h.6m9.8 0h.6m-5.8 .2h.6m-8.4 .4h.6m-.2 0h.6m13.6 0h.6m-12.4 .4h.6m9.6 0h.6m-8.4 .2h.6m3.2 .2h.6m-3.6 .2h.6m2.8 0h.6m-6 .2h.6m.2 0h.6m7.8 0h.6m-7.2 .8h.6m-6.4 .2h.6m0 0h.6m1.2 .4h.6m-1.2 .4h.6m4.8 .2h.6m0 0h.6m1.8 0h.6m-8.6 .2h.6m.2 0h.6m7.8 0h.6m-3.6 .4h.6m1.2 0h.6m-.8 .2h.6m4.6 0h.6m-14 .2h.6m9.4 0h.6m3 0h.6m-15.8 .4h.6m.8 0h.6m12.6 0h.6m-15.6 .2h.6m2.8 0h.6m4.6 0h.6m4.8 0h.6m-15 .2h.6m-.4 0h.6m12.6 .2h.6m-3.6 .2h.6m1.6 0h.6m-10.8 .2h.6m.4 0h.6m7.6 0h.6m.6 0h.6m.6 0h.6m-14.4 .2h.6m.8 0h.6m5.6 0h.6m-4.4 .2h.6m3.8 .4h.6m-10 .2h.6m4.2 0h.6m8 0h.6m-8.2 .2h.6m1.4 .2h.6m1.2 0h.6m3.8 0h.6m-10.6 .2h.6m3 0h.6m.4 0h.6m-5.4 .2h.6m7.8 .2h.6m-1.2 .2h.6m2.6 0h.6m-13.8 .2h.6m2.6 0h.6m3.2 0h.6m-2 .2h.6m2 0h.6m-8.2 .2h.6m-1.6 .2h.6m2.8 0h.6m9.2 0h.6m-13.8 .4h.6m11 0h.6m1.8 0h.6m-.4 0h.6m-3.8 .2h.6m3.2 0h.6m-10.6 .2h.6m1.2 0h.6m-5.2 .2h.6m3.4 0h.6m6.4 0h.6m-15.2 .2h.6m4.8 0h.6m6.4 0h.6m-10.8 .2h.6m7.2 0h.6m-5.4 .2h.6m7.8 0h.6m.4 0h.6m-11.4 .2h.6m-.6 0h.6m3.8 0h.6m.6 0h.6m1.2 .2h.6m-9.4 .2h.6m7.8 .2h.6m.8 0h.6m-7.4 .2h.6m1 0h.6m7.6 0h.6m-15.2 .2h.6m3 .2h.6m-.2 .6h.6m7 .2h.6m-10.4 .2h.6m12 .2h.6m-15.4 .2h.6m12.4 0h.6m1.6 0h.6m-12 .2h.6m5.2 0h.6m-8.8 .2h.6m10.4 0h.6m-.6 0h.6m-11 .2h.6m.6 0h.6m5.4 0h.6m6.2 0h.6m-13.2 .2h.6m2 .4h.6m-4.6 .2h.6m13.8 0h.6m-13.8 .2h.6m-.2 0h.6m8.2 0h.6m.8 0h.6m-13.4 .2h.6m-.4 0h.6m0 0h.6m8.8 0h.6m-8.6 .2h.6m1.8 0h.6m3.6 0h.6m2.8 0h.6m1 0h.6m-14.2 .2h.6m1.8 0h.6m.2 0h.6m8 0h.6m3.2 0h.6m-13.2 .2h.6m-.4 0h.6m4.4 0h.6m2.8 .2h.6m-11.8 .2h.6m1.2 0h.6m.6 .2h.6m7.8 0h.6m-8.6 .2h.6m7 0h.6m-13 .2h.6m.8 0h.6m1.4 0h.6m4.8 0h.6m3.4 0h.6m3 0h.6m-11.4 .2h.6m2 0h.6m4.6 0h.6m3 0h.6m-18.2 .2h.6m12.4 0h.6m.2 0h.6m-13.2 .2h.6m6 0h.6m4.2 0h.6m2.8 0h.6m-5.4 .2h.6m2.8 0h.6m1.4 0h.6m-.6 .2h.6m-14 .2h.6m9.2 0h.6m.6 0h.6m2 0h.6m-.2 0h.6m-8.6 .2h.6m.6 .2h.6m6.2 0h.6m-16.6 .2h.6m6.4 0h.6m3.2 0h.6m1.2 0h.6m-.2 0h.6m1 0h.6m.8 0h.6m-10.8 .2h.6m5.6 0h.6m-9.2 .2h.6m1.6 0h.6m-.2 0h.6m2.6 0h.6m-.4 0h.6m-8.4 .2h.6m1.2 0h.6m1.8 0h.6m-5.6 .2h.6m5.4 0h.6m.8 0h.6m7.2 0h.6m-5.6 .2h.6m-.4 0h.6m1.2 0h.6m2.8 0h.6m-10.2 .2h.6m6.6 0h.6m0 0h.6m0 0h.6m-16.4 .2h.6m14 0h.6m-14.8 .2h.6m6 0h.6m1.6 0h.6m2.2 0h.6m1.4 0h.6m-12.4 .2h.6m5.4 0h.6m2.2 0h.6m-.8 .2h.6m2.2 0h.6m2.4 0h.6m-13.8 .2h.6m.4 0h.6m-.4 0h.6m2 0h.6m.4 0h.6m5.4 0h.6m1.8 0h.6m-14.2 .2h.6m-.2 0h.6m7.6 0h.6m-9.4 .2h.6m-.2 0h.6m4 0h.6m1 0h.6m4.2 0h.6m.2 0h.6m-14.6 .2h.6m1 0h.6m.8 0h.6m4.8 0h.6m1.2 0h.6m1.2 0h.6m1.2 0h.6m-10.6 .2h.6m-.4 0h.6m1 0h.6m2.6 0h.6m-.6 0h.6m-4.2 .2h.6m3 0h.6m.8 0h.6m-10.6 .2h.6m-.4 0h.6m.2 0h.6m.6 0h.6m.4 0h.6m.8 0h.6m0 0h.6m1.6 0h.6m-.6 0h.6m.4 0h.6m1.2 0h.6m-9 .2h.6m3 0h.6m4.4 0h.6m3.6 0h.6m-13.8 .2h.6m5.2 0h.6m2.2 0h.6m1.4 0h.6m-.2 0h.6m0 0h.6m-13 .2h.6m9.2 0h.6m-4.4 .2h.6m2.2 0h.6m.6 0h.6m-7 .2h.6m.2 0h.6m10.4 0h.6m-14.2 .2h.6m3.8 0h.6m.2 0h.6m-.4 0h.6m2.2 0h.6m1.8 0h.6m-12.4 .2h.6m5.8 0h.6m0 0h.6m1 0h.6m2.2 0h.6m-12.8 .2h.6m7.8 0h.6m0 0h.6m-9.6 .2h.6m.6 0h.6m1 0h.6m2.8 0h.6m-.4 0h.6m3.2 0h.6m2.4 0h.6m-14.8 .2h.6m2 0h.6m1 0h.6m-4.2 .2h.6m-.6 0h.6m1 0h.6m1.4 0h.6m7.8 0h.6m-11.4 .2h.6m0 0h.6m1.4 0h.6m3.8 0h.6m5.4 0h.6m-16 .2h.6m.6 0h.6m2.8 0h.6m-5.6 .2h.6m1.2 0h.6m9 0h.6m3.8 0h.6m.8 0h.6m-12.8 .2h.6m3.2 0h.6m6.4 0h.6m-14.8 .2h.6m10 0h.6m2.4 0h.6m-11.4 .2h.6m8.6 0h.6m.2 0h.6m2.2 0h.6m-15.4 .2h.6m3.4 0h.6m2.4 0h.6m1.4 0h.6m-.2 0h.6m-9.8 .2h.6m.2 0h.6m-.2 0h.6m2.8 0h.6m-.4 0h.6m2 0h.6m3.4 0h.6m-.2 0h.6m-.4 0h.6m-13.4 .2h.6m-.2 0h.6m2.4 0h.6m2 0h.6m-.6 0h.6m4.2 0h.6m3.4 0h.6m-17.2 .2h.6m7.2 0h.6m.4 0h.6m7.8 0h.6m-10 .2h.6m1.4 0h.6m5.2 0h.6m-16.2 .2h.6m1 0h.6m-.2 0h.6m.4 0h.6m.2 0h.6m1.2 0h.6m5.2 0h.6m1.6 0h.6m.2 0h.6m1 0h.6m-16.6 .2h.6m3 0h.6m.6 0h.6m.2 0h.6m2.8 0h.6m3.2 0h.6m-.2 0h.6m1.8 0h.6m-12.8 .2h.6m10.2 0h.6m-12.4 .2h.6m-.2 0h.6m-.2 0h.6m.6 0h.6m2.8 0h.6m4 0h.6m-6.8 .2h.6m.2 0h.6m1.8 0h.6m1.6 0h.6m1.2 0h.6m-11.8 .2h.6m.6 0h.6m1.6 0h.6m.8 0h.6m3 0h.6m-.6 0h.6m1.6 0h.6m-.6 0h.6m-.2 0h.6m.4 0h.6m1.4 0h.6m-11.4 .2h.6m.6 0h.6m-.4 0h.6m-.4 0h.6m.4 0h.6m5.6 0h.6m1.8 0h.6m-17.4 .2h.6m6 0h.6m-5.4 .2h.6m1.4 0h.6m.6 0h.6m.4 0h.6m1.2 0h.6m1 0h.6m6.6 0h.6m-6.6 .2h.6m.2 0h.6m.8 0h.6m-10.2 .2h.6m1.2 0h.6m.2 0h.6m4.4 0h.6m.2 0h.6m.2 0h.6m.8 0h.6m2.6 0h.6m-14.8 .2h.6m8.6 0h.6m-.4 0h.6m1.8 0h.6m-13.2 .2h.6m2.8 0h.6m.4 0h.6m.6 0h.6m0 0h.6m1.6 0h.6m-8.6 .2h.6m.2 0h.6m1.4 0h.6m0 0h.6m.4 0h.6m1.2 0h.6m.8 0h.6m-8 .2h.6m-.2 0h.6m-.4 0h.6m2.8 0h.6m.6 0h.6m0 0h.6m-.2 0h.6m-.4 0h.6m-.4 0h.6m3.4 0h.6m2.8 0h.6m-.6 0h.6m-.4 0h.6m-15.2 .2h.6m-.2 0h.6m-.6 0h.6m2 0h.6m-.2 0h.6m7.8 0h.6m-7.2 .2h.6m4.8 0h.6m.2 0h.6m.6 0h.6m.6 0h.6m-13.2 .2h.6m7.8 0h.6m-.6 0h.6m-9 .2h.6m0 0h.6m1.4 0h.6m.4 0h.6m-.4 0h.6m1 0h.6m4 0h.6m2.6 0h.6m.4 0h.6m-17.6 .2h.6m2.2 0h.6m.4 0h.6m-.2 0h.6m1.2 0h.6m7 0h.6m-14.4 .2h.6m1.2 0h.6m1.6 0h.6m1 0h.6m4.4 0h.6m1.4 0h.6m3.2 0h.6m-14.4 .2h.6m1 0h.6m.8 0h.6m.2 0h.6m1.4 0h.6m8.2 0h.6m-18.2 .2h.6m1.6 0h.6m-.2 0h.6m.4 0h.6m1.6 0h.6m.6 0h.6m9.4 0h.6m-16 .2h.6m1.4 0h.6m2.6 0h.6m0 0h.6m.8 0h.6m5 0h.6m-11.4 .2h.6m3 0h.6m.6 0h.6m3.8 0h.6m-.6 0h.6m1.2 0h.6m-13 .2h.6m-.2 0h.6m6.2 0h.6m-.2 0h.6m-.2 0h.6m.8 0h.6m.4 0h.6m1.2 0h.6m-.2 0h.6m0 0h.6m-10.4 .2h.6m2.8 0h.6m1.8 0h.6m-10.6 .2h.6m2.2 0h.6m2.4 0h.6m.4 0h.6m-.4 0h.6m1 0h.6m3.6 0h.6m2.6 0h.6m-5.4 .2h.6m-.2 0h.6m0 0h.6m.6 0h.6m-.6 0h.6m.8 0h.6m.6 0h.6m-.4 0h.6m-18.2 .2h.6m1.4 0h.6m0 0h.6m0 0h.6m-.4 0h.6m0 0h.6m.4 0h.6m1.2 0h.6m-.4 0h.6m-.6 0h.6m-.2 0h.6m4 0h.6m1 0h.6m-.2 0h.6m-.2 0h.6m1.2 0h.6m-.2 0h.6m-15.6 .2h.6m-.2 0h.6m.2 0h.6m-.4 0h.6m.8 0h.6m.4 0h.6m.8 0h.6m2.6 0h.6m2.2 0h.6m2.2 0h.6m-.2 0h.6m-13.2 .2h.6m.2 0h.6m-.4 0h.6m.4 0h.6m0 0h.6m-.4 0h.6m-.2 0h.6m-.6 0h.6m.2 0h.6m2.2 0h.6m0 0h.6m3.4 0h.6m1 0h.6m.4 0h.6m-17.4 .2h.6m-.6 0h.6m8 0h.6m-.4 0h.6m4.6 0h.6m.4 0h.6m-.2 0h.6m-14.4 .2h.6m5.2 0h.6m1 0h.6m-.2 0h.6m.4 0h.6m-.2 0h.6m0 0h.6m.8 0h.6m1.2 0h.6m.8 0h.6m-.4 0h.6m-.4 0h.6m-.4 0h.6m-15.6 .2h.6m0 0h.6m3 0h.6m.4 0h.6m2.8 0h.6m4.4 0h.6m-.2 0h.6m.2 0h.6m-14.8 .2h.6m5.2 0h.6m.6 0h.6m1.6 0h.6m-.4 0h.6m4.2 0h.6m-.6 0h.6m-17.4 .2h.6m4.8 0h.6m1.8 0h.6m.4 0h.6m3.8 0h.6m-12.4 .2h.6m.4 0h.6m1.4 0h.6m-.4 0h.6m.6 0h.6m0 0h.6m2.6 0h.6m.4 0h.6m.8 0h.6m1.4 0h.6m.2 0h.6m-15.6 .2h.6m-.4 0h.6m-.2 0h.6m.8 0h.6m2.2 0h.6m-.2 0h.6m.4 0h.6m.6 0h.6m-.6 0h.6m1 0h.6m.6 0h.6m1.2 0h.6m.4 0h.6m1.2 0h.6m1 0h.6m-14.8 .2h.6m.4 0h.6m1.6 0h.6m.2 0h.6m.2 0h.6m.2 0h.6m-.4 0h.6m0 0h.6m.4 0h.6m2.4 0h.6m.4 0h.6m-.2 0h.6m.8 0h.6m-.4 0h.6m.2 0h.6m.2 0h.6m-17.2 .2h.6m.8 0h.6m-.4 0h.6m-.2 0h.6m2.2 0h.6m0 0h.6m-.2 0h.6m0 0h.6m.4 0h.6m-.2 0h.6m1.8 0h.6m.4 0h.6m0 0h.6m-.2 0h.6m0 0h.6m1.6 0h.6m-.2 0h.6m-.6 0h.6m-.6 0h.6m-.4 0h.6m-.4 0h.6m-.2 0h.6m0 0h.6m-16.4 .2h.6m1.2 0h.6m-.2 0h.6m3 0h.6m1.4 0h.6m1.2 0h.6m.8 0h.6m0 0h.6m-.2 0h.6m.2 0h.6m.6 0h.6m-15.4 .2h.6m2 0h.6m1.8 0h.6m5.6 0h.6m-.2 0h.6m0 0h.6m.4 0h.6m-.2 0h.6m1.4 0h.6m-.4 0h.6m0 0h.6m-.4 0h.6m-17.8 .2h.6m1 0h.6m-.6 0h.6m-.4 0h.6m-.4 0h.6m.2 0h.6m.8 0h.6m-.2 0h.6m.4 0h.6m.6 0h.6m-.6 0h.6m-.2 0h.6m1.2 0h.6m-.2 0h.6m1.8 0h.6m-.4 0h.6m0 0h.6m.2 0h.6m-.2 0h.6m0 0h.6m1.6 0h.6m-17 .2h.6m0 0h.6m.4 0h.6m.2 0h.6m1.6 0h.6m4.8 0h.6m-.4 0h.6m-.4 0h.6m0 0h.6m1 0h.6m.2 0h.6m.6 0h.6m-.4 0h.6m.8 0h.6m-.4 0h.6m-16.8 .2h.6m-.2 0h.6m.6 0h.6m-.2 0h.6m.4 0h.6m.4 0h.6m2 0h.6m-.6 0h.6m-.4 0h.6m.4 0h.6m-.2 0h.6m-.4 0h.6m1.6 0h.6m.4 0h.6m-.6 0h.6m0 0h.6m0 0h.6m3.4 0h.6m-17.8 .2h.6m.4 0h.6m4 0h.6m-.2 0h.6m-.2 0h.6m.2 0h.6m1.4 0h.6m.8 0h.6m-.4 0h.6m-.4 0h.6m1.2 0h.6m2 0h.6m-11.6 .2h.6m-.4 0h.6m1.8 0h.6m.4 0h.6m1 0h.6m0 0h.6m1.8 0h.6m-.6 0h.6m-.4 0h.6m1.6 0h.6m1.4 0h.6m-16.2 .2h.6m2.8 0h.6m-.4 0h.6m1 0h.6m-.2 0h.6m.4 0h.6m7.4 0h.6m-16.2 .2h.6m-.6 0h.6m-.2 0h.6m.4 0h.6m-.6 0h.6m.2 0h.6m1.4 0h.6m.8 0h.6m2.2 0h.6m1.8 0h.6m1.2 0h.6m-.2 0h.6m-.2 0h.6m.4 0h.6m.2 0h.6m0 0h.6m-.6 0h.6m-.6 0h.6m0 0h.6m-.2 0h.6m-15.4 .2h.6m1 0h.6m1.8 0h.6m-.6 0h.6m0 0h.6m.8 0h.6m1.6 0h.6m1.2 0h.6m.6 0h.6m-.4 0h.6m1 0h.6m-.4 0h.6m-16 .2h.6m.6 0h.6m-.4 0h.6m-.6 0h.6m.2 0h.6m1 0h.6m-.6 0h.6m.2 0h.6m-.2 0h.6m.6 0h.6m.2 0h.6m-.4 0h.6m-.2 0h.6m-.2 0h.6m.2 0h.6m-.4 0h.6m-.4 0h.6m.2 0h.6m.8 0h.6m.8 0h.6m-.4 0h.6m.4 0h.6m-.4 0h.6m-.4 0h.6m1 0h.6m-.4 0h.6m.2 0h.6m-17.8 .2h.6m.6 0h.6m.8 0h.6m-.4 0h.6m-.6 0h.6m0 0h.6m.4 0h.6m-.6 0h.6m-.6 0h.6m0 0h.6m-.6 0h.6m-.4 0h.6m.6 0h.6m-.4 0h.6m2.2 0h.6m-.2 0h.6m-.6 0h.6m-.4 0h.6m-.4 0h.6m3 0h.6m-.4 0h.6m.4 0h.6m.6 0h.6m.4 0h.6m-17.8 .2h.6m-.2 0h.6m0 0h.6m-.4 0h.6m-.4 0h.6m.8 0h.6m.2 0h.6m.8 0h.6m.2 0h.6m.4 0h.6m0 0h.6m-.4 0h.6m0 0h.6m-.2 0h.6m1.2 0h.6m0 0h.6m.8 0h.6m-.6 0h.6m0 0h.6m.2 0h.6m-.6 0h.6m-.4 0h.6m.2 0h.6m-.6 0h.6m-.2 0h.6m.2 0h.6m.4 0h.6m-17.8 .2h.6m-.2 0h.6m-.4 0h.6m.6 0h.6m-.4 0h.6m0 0h.6m0 0h.6m.8 0h.6m-.4 0h.6m0 0h.6m-.4 0h.6m-.2 0h.6m1.2 0h.6m-.4 0h.6m1.2 0h.6m0 0h.6m.4 0h.6m-.2 0h.6m1 0h.6m0 0h.6m0 0h.6m.4 0h.6m.6 0h.6m-16.8 .2h.6m.4 0h.6m-.2 0h.6m-.2 0h.6m-.2 0h.6m-.2 0h.6m0 0h.6m4 0h.6m-.4 0h.6m-.2 0h.6m-.4 0h.6m0 0h.6m-.2 0h.6m.4 0h.6m.8 0h.6m-.6 0h.6m-.6 0h.6m-.4 0h.6m0 0h.6m-.4 0h.6m0 0h.6m.4 0h.6m1 0h.6m-.4 0h.6m-.6 0h.6m-17.4 .2h.6m.4 0h.6m-.4 0h.6m-.4 0h.6m-.4 0h.6m0 0h.6m-.2 0h.6m-.6 0h.6m0 0h.6m-.2 0h.6m0 0h.6m-.6 0h.6m-.4 0h.6m1 0h.6m.4 0h.6m-.4 0h.6m-.2 0h.6m1 0h.6m0 0h.6m.2 0h.6m0 0h.6m.2 0h.6m-.4 0h.6m-.2 0h.6m-.4 0h.6m-.4 0h.6m-.2 0h.6m.6 0h.6m-.6 0h.6m-.4 0h.6m1.2 0h.6m-.6 0h.6m-15.6 .2h.6m-.6 0h.6m0 0h.6m-.4 0h.6m0 0h.6m-.4 0h.6m0 0h.6m-.6 0h.6m-.4 0h.6m-.2 0h.6m0 0h.6m.8 0h.6m.4 0h.6m0 0h.6m.2 0h.6m-.4 0h.6m-.4 0h.6m-.4 0h.6m.2 0h.6m-.2 0h.6m-.2 0h.6m.4 0h.6m0 0h.6m.2 0h.6m-.2 0h.6m-.2 0h.6m-.2 0h.6m-.2 0h.6m-.4 0h.6m-.4 0h.6m.8 0h.6m-17.2 .2h.6m.2 0h.6m.6 0h.6m-.4 0h.6m-.2 0h.6m.2 0h.6m-.6 0h.6m-.6 0h.6m-.4 0h.6m-.2 0h.6m-.6 0h.6m-.4 0h.6m-.2 0h.6m-.2 0h.6m-.6 0h.6m-.6 0h.6m.2 0h.6m0 0h.6m.8 0h.6m-.4 0h.6m0 0h.6m-.6 0h.6m1 0h.6m-.6 0h.6m.2 0h.6m-.4 0h.6m.8 0h.6m-.2 0h.6m-.2 0h.6m-.2 0h.6m.2 0h.6m-.4 0h.6m-.6 0h.6m0 0h.6m-.6 0h.6m-.4 0h.6m-.4 0h.6m-.2 0h.6m-.2 0h.6m-.4 0h.6m-.2 0h.6m-17.8 .2h.6m-.2 0h.6m-.4 0h.6m-.4 0h.6m-.6 0h.6m-.2 0h.6m-.2 0h.6m-.2 0h.6m-.2 0h.6m0 0h.6m-.4 0h.6m-.4 0h.6m.6 0h.6m-.6 0h.6m.4 0h.6m-.6 0h.6m-.4 0h.6m-.6 0h.6m.6 0h.6m-.2 0h.6m-.2 0h.6m-.4 0h.6m-.6 0h.6m-.2 0h.6m-.6 0h.6m-.4 0h.6m.8 0h.6m0 0h.6m0 0h.6m-.4 0h.6m-.6 0h.6m.2 0h.6m-.2 0h.6m-.6 0h.6m-.4 0h.6m.6 0h.6m-.4 0h.6m-.2 0h.6m0 0h.6m0 0h.6m-.4 0h.6m-.6 0h.6m-.6 0h.6m-.4 0h.6m-.2 0h.6m-.4 0h.6m-17.8 .2h.6m-.4 0h.6m-.6 0h.6m.4 0h.6m-.6 0h.6m-.6 0h.6m.2 0h.6m.8 0h.6m-.6 0h.6m0 0h.6m-.2 0h.6m-.4 0h.6m-.4 0h.6m.6 0h.6m.2 0h.6m-.4 0h.6m.4 0h.6m.6 0h.6m-.2 0h.6m-.4 0h.6m-.2 0h.6m-.4 0h.6m.4 0h.6m1.2 0h.6m-.4 0h.6m-.6 0h.6m.2 0h.6m-.4 0h.6m.2 0h.6m-.6 0h.6m-.4 0h.6m0 0h.6m0 0h.6m-.4 0h.6m.2 0h.6m-17.2 .2h.6m-.4 0h.6m-.4 0h.6m.2 0h.6m-.6 0h.6m-.4 0h.6m-.2 0h.6m-.6 0h.6m-.4 0h.6m-.2 0h.6m.6 0h.6m-.4 0h.6m-.2 0h.6m1 0h.6m.2 0h.6m-.2 0h.6m0 0h.6m-.2 0h.6m-.2 0h.6m.8 0h.6m-.4 0h.6m.8 0h.6m-.2 0h.6m-.4 0h.6m.8 0h.6m-.2 0h.6m0 0h.6m.2 0h.6m-.2 0h.6m.6 0h.6m-17.4 .2h.6m.6 0h.6m-.4 0h.6m-.4 0h.6m.2 0h.6m-.4 0h.6m-.6 0h.6m-.2 0h.6m-.4 0h.6m-.2 0h.6m-.4 0h.6m.2 0h.6m-.4 0h.6m-.6 0h.6m-.6 0h.6m-.6 0h.6m-.4 0h.6m-.6 0h.6m0 0h.6m-.6 0h.6m-.2 0h.6m.2 0h.6m-.4 0h.6m-.2 0h.6m-.4 0h.6m-.6 0h.6m-.4 0h.6m.2 0h.6m.4 0h.6m.8 0h.6m-.2 0h.6m-.6 0h.6m-.4 0h.6m-.4 0h.6m-.6 0h.6m-.6 0h.6m-.2 0h.6m-.4 0h.6m-.6 0h.6m.8 0h.6m-.2 0h.6m-.4 0h.6m-.2 0h.6m.2 0h.6m-16.4 .2h.6m2 0h.6m0 0h.6m-.4 0h.6m1.2 0h.6m.8 0h.6m.4 0h.6m1.8 0h.6m2.2 0h.6m0 0h.6m-.6 0h.6m-.6 0h.6m.6 0h.6m0 0h.6m.2 0h.6" stroke="#ee8b48" stroke-width="0.6" stroke-opacity="0.7" fill="none"/>
<rect x="66.90" y="219.66" width="17.80" height="22.74" fill="none" stroke="#d17a3f" stroke-width="0.7"/>
<line x1="66.90" y1="233.12" x2="84.70" y2="233.12" stroke="#d17a3f" stroke-width="0.7"/>
<line x1="75.80" y1="187.65" x2="75.80" y2="219.66" stroke="#d17a3f" stroke-width="0.7"/>
<line x1="75.80" y1="242.40" x2="75.80" y2="242.40" stroke="#d17a3f" stroke-width="0.7"/>
<line x1="71.30" y1="187.65" x2="80.30" y2="187.65" stroke="#d17a3f" stroke-width="0.7"/>
<line x1="71.30" y1="242.40" x2="80.30" y2="242.40" stroke="#d17a3f" stroke-width="0.7"/>
<circle cx="75.80" cy="228.02" r="0.85" fill="#3d7a2a"/>
<rect x="101.10" y="165.80" width="17.80" height="77.60" fill="url(#g2)"/>
<path d="M101.6 167.4h.6m5.6 .4h.6m-1.6 .8h.6m6.4 1h.6m.6 0h.6m-2 .2h.6m-4.6 .2h.6m-7 .4h.6m4.2 1h.6m2.8 0h.6m-10.8 .4h.6m9 .2h.6m-9.6 .6h.6m4.8 .4h.6m-1.6 .2h.6m-.6 .2h.6m5 .4h.6m.2 .4h.6m5.4 .8h.6m-17.4 .6h.6m5.4 .6h.6m-.4 .2h.6m-2 .4h.6m8.4 0h.6m-7.6 .2h.6m8 0h.6m-15.8 .2h.6m-1.6 .2h.6m.8 0h.6m-.2 0h.6m-1.4 .2h.6m7.8 0h.6m-10.2 .4h.6m6.8 0h.6m-5.8 .2h.6m5.6 0h.6m-7 .6h.6m0 .2h.6m3.6 0h.6m6.8 0h.6m-2.2 1.2h.6m.2 1.2h.6m-12.2 .2h.6m1 0h.6m.6 .2h.6m10.6 0h.6m-10 .2h.6m6.2 .2h.6m-11 .2h.6m10 0h.6m-10.2 .2h.6m.6 0h.6m-2 .2h.6m12.2 0h.6m-12.4 .2h.6m1.2 0h.6m8.4 0h.6m1 0h.6m-2.8 .2h.6m2 .4h.6m-6.4 .2h.6m-4.4 .2h.6m8.8 .2h.6m-16.4 .4h.6m15.4 .6h.6m-7.2 .2h.6m-5 .2h.6m3.4 .2h.6m6.2 0h.6m-14.2 .2h.6m-.2 0h.6m5.6 0h.6m-2 .2h.6m7.6 .2h.6m-7.2 .4h.6m5.6 0h.6m0 0h.6m-7.2 .6h.6m-.2 0h.6m-1.6 .2h.6m-5.4 .6h.6m3.8 0h.6m1.4 0h.6m4.6 0h.6m-16.6 .4h.6m9.4 0h.6m4.2 .6h.6m-11.6 .2h.6m1.4 0h.6m-.2 0h.6m8.2 0h.6m-11.8 .4h.6m-1.8 .8h.6m4 0h.6m-1.6 .2h.6m.4 0h.6m5.2 0h.6m-11.4 .2h.6m2.4 .2h.6m1.2 0h.6m8 0h.6m-12.6 .2h.6m1.2 .2h.6m1.8 0h.6m3.6 0h.6m2.6 0h.6m-14.8 .2h.6m-.4 .2h.6m9.2 .6h.6m-12.2 .2h.6m13.8 0h.6m-10.2 .2h.6m6.8 0h.6m-6.4 .2h.6m-1.6 .2h.6m5.8 0h.6m-11.4 .2h.6m3.6 .4h.6m7.6 0h.6m-2.6 .2h.6m-8.2 .2h.6m10.8 0h.6m-13.2 .2h.6m9 0h.6m-5.2 .6h.6m2.6 0h.6m-10.4 .4h.6m.4 0h.6m3.8 .2h.6m9.2 0h.6m0 0h.6m-1.6 .4h.6m-13.4 .2h.6m2.8 .6h.6m3.6 .8h.6m-.4 0h.6m-8.4 .2h.6m14 0h.6m-14.2 .2h.6m6.8 0h.6m3.8 .2h.6m-15 .2h.6m9.8 0h.6m-10.2 .2h.6m5 0h.6m1 0h.6m3.4 0h.6m-12.4 .4h.6m3.2 0h.6m8.4 0h.6m-6.4 .2h.6m3 0h.6m-12.2 .2h.6m6.8 .2h.6m-7.4 .2h.6m1.8 0h.6m2 0h.6m9 .2h.6m-10.2 .2h.6m.4 0h.6m7.2 0h.6m-5.8 .2h.6m-9.8 .2h.6m4.6 0h.6m2.8 0h.6m-3.6 .2h.6m7.6 0h.6m1.2 0h.6m-13 .2h.6m11 .2h.6m-14 .2h.6m-.2 0h.6m2.6 0h.6m2.2 0h.6m1 0h.6m1.2 0h.6m-7.6 .2h.6m1.2 0h.6m-1 .2h.6m-4.8 .2h.6m5.2 0h.6m-6 .2h.6m8.4 .2h.6m5.2 0h.6m-16.8 .2h.6m3.6 .2h.6m-.4 .2h.6m9.6 0h.6m-6 .2h.6m1.2 0h.6m-11.6 .2h.6m7.4 .2h.6m-8.6 .2h.6m11.2 0h.6m1.8 0h.6m-15.2 .2h.6m-.4 0h.6m9 0h.6m-7.2 .2h.6m11.6 0h.6m-16 .2h.6m.2 0h.6m-.4 .2h.6m3.4 0h.6m3.6 0h.6m.4 0h.6m.6 0h.6m-11.6 .2h.6m15 0h.6m-16.8 .2h.6m9.8 0h.6m-8.4 .2h.6m2 0h.6m3.6 0h.6m.6 .2h.6m3 0h.6m-14 .8h.6m14 0h.6m-10 .2h.6m9 .4h.6m.6 .2h.6m-2.4 .4h.6m-.6 .2h.6m-15.4 .4h.6m2 0h.6m-1.8 .2h.6m-1.6 .2h.6m5.6 0h.6m-7.4 .2h.6m6 0h.6m1.6 0h.6m0 0h.6m5 .2h.6m-1.6 .2h.6m-3.8 .2h.6m-.8 .2h.6m.8 0h.6m-9.2 .2h.6m-2.6 .2h.6m4.2 0h.6m10.2 0h.6m-.4 .2h.6m-9.4 .2h.6m2.8 .2h.6m-11.2 .2h.6m-.4 .2h.6m.4 0h.6m3.6 .2h.6m2 0h.6m4.4 .2h.6m-8.6 .2h.6m6 0h.6m-1.6 .2h.6m4.6 0h.6m-6.2 .2h.6m-12.2 .2h.6m3.4 .2h.6m11 0h.6m-8.2 .2h.6m1.8 0h.6m-.4 0h.6m-3.2 .2h.6m.6 0h.6m3.8 .4h.6m-3.2 .2h.6m1.6 0h.6m-3.6 .2h.6m.8 0h.6m-.2 0h.6m-7 .4h.6m-5 .2h.6m8.8 .2h.6m-3.6 .2h.6m1.4 .2h.6m3.8 0h.6m1.8 0h.6m-8 .2h.6m-1.6 .4h.6m-7.6 .2h.6m12.8 0h.6m1.8 0h.6m-10 .6h.6m-1.2 .4h.6m.6 0h.6m5.2 0h.6m-1.6 .2h.6m-.4 0h.6m-8 .4h.6m5.4 0h.6m1.6 0h.6m-12.8 .2h.6m-.6 0h.6m2 0h.6m8.8 0h.6m-13.6 .4h.6m3.2 0h.6m3.2 0h.6m.4 0h.6m-8.4 .2h.6m5 0h.6m-2.4 .2h.6m2.6 0h.6m5.6 0h.6m-9.6 .2h.6m7.8 0h.6m2.6 0h.6m-10.2 .2h.6m-.2 0h.6m3.2 0h.6m-8.2 .2h.6m.8 .2h.6m1 0h.6m1.6 .2h.6m5 0h.6m-12.8 .2h.6m-.6 0h.6m6 0h.6m-8.4 .4h.6m-.4 .2h.6m4.2 0h.6m9.6 0h.6m-7.8 .2h.6m6.2 0h.6m-12.4 .2h.6m4 0h.6m.4 .2h.6m-6.8 .2h.6m7.2 0h.6m-.6 .2h.6m-.2 .2h.6m-8 .2h.6m.8 0h.6m1.6 0h.6m3 0h.6m-1.4 .2h.6m-5.2 .2h.6m1.6 0h.6m1.8 0h.6m3.6 0h.6m-15.6 .2h.6m.6 0h.6m0 0h.6m5.4 0h.6m2.8 0h.6m-10.6 .4h.6m-.6 0h.6m6.8 0h.6m5.4 0h.6m.6 0h.6m-5.2 .2h.6m-5.8 .2h.6m1.8 0h.6m4.4 0h.6m-5.2 .2h.6m-7 .2h.6m2.2 0h.6m3.6 0h.6m-2 .2h.6m6.2 0h.6m-12.6 .2h.6m5.2 0h.6m.6 0h.6m-10 .2h.6m1 0h.6m1.6 0h.6m.8 0h.6m1.4 0h.6m.6 0h.6m5.8 0h.6m-13 .2h.6m-.4 0h.6m10.6 0h.6m-7.2 .2h.6m-2 .2h.6m1 0h.6m.2 0h.6m5 0h.6m-14.8 .2h.6m5.6 0h.6m.8 0h.6m1.6 0h.6m.8 0h.6m3 0h.6m-16 .2h.6m-.6 0h.6m3 0h.6m4.6 0h.6m1.8 0h.6m-8 .2h.6m0 0h.6m2.4 0h.6m2.8 0h.6m-10.4 .2h.6m7.2 0h.6m.2 0h.6m3.8 0h.6m-.2 0h.6m-7.6 .2h.6m2.4 0h.6m4.6 0h.6m.4 0h.6m-6.4 .2h.6m-.4 0h.6m1.8 0h.6m-.2 0h.6m-9.8 .2h.6m2.6 0h.6m4.8 0h.6m-8.6 .2h.6m.4 0h.6m6.2 0h.6m-13.4 .2h.6m7.8 0h.6m.8 0h.6m1.4 0h.6m-10 .2h.6m3.4 0h.6m2.8 0h.6m1.6 0h.6m0 0h.6m.6 0h.6m-7.2 .2h.6m3.8 0h.6m-.4 0h.6m4.8 0h.6m-.4 0h.6m-7.4 .2h.6m.4 .2h.6m-8.8 .2h.6m3.6 0h.6m6.2 0h.6m-13 .2h.6m-2.2 .2h.6m.6 0h.6m6.4 0h.6m-.6 0h.6m-.6 0h.6m.6 0h.6m-.4 0h.6m2.2 0h.6m-10 .2h.6m-.6 0h.6m1.4 0h.6m.4 0h.6m8.8 0h.6m-16.2 .2h.6m7.6 0h.6m.2 0h.6m-.4 0h.6m1 0h.6m-.4 0h.6m0 0h.6m-.4 0h.6m.4 0h.6m-11.4 .2h.6m.8 0h.6m1.2 0h.6m1 0h.6m-.2 0h.6m0 0h.6m.8 0h.6m-8 .2h.6m12.6 0h.6m0 0h.6m-11.2 .2h.6m1.8 0h.6m-.4 0h.6m0 0h.6m6 0h.6m-11 .2h.6m-.4 0h.6m3 0h.6m3.6 0h.6m3 0h.6m-17 .2h.6m2.2 0h.6m-.6 0h.6m2.8 0h.6m6 0h.6m1 0h.6m-.4 0h.6m-6.2 .2h.6m1.2 0h.6m2.8 0h.6m.8 0h.6m-10.6 .2h.6m3.6 0h.6m0 0h.6m1.2 0h.6m-11.6 .2h.6m.6 0h.6m3 0h.6m.4 0h.6m-5.8 .2h.6m-.4 0h.6m7 0h.6m-8.4 .2h.6m.2 0h.6m4.4 0h.6m-.2 0h.6m2.2 0h.6m-.4 0h.6m1.2 0h.6m2.6 0h.6m-.2 0h.6m-8.2 .2h.6m-.6 0h.6m-.4 0h.6m1.8 0h.6m1.4 0h.6m-12.6 .2h.6m-.2 0h.6m.4 0h.6m2.2 0h.6m3.2 0h.6m3.6 0h.6m-12.4 .2h.6m.2 0h.6m-.2 0h.6m3.2 0h.6m8.4 0h.6m-.4 0h.6m-13.4 .2h.6m2 0h.6m-.2 0h.6m-.4 0h.6m7.8 0h.6m1.6 0h.6m-13.6 .2h.6m-.6 0h.6m3 0h.6m1.6 0h.6m1.4 0h.6m2.2 0h.6m.4 0h.6m-13.8 .2h.6m2 0h.6m.2 0h.6m0 0h.6m.2 0h.6m.8 0h.6m-7.8 .2h.6m2.4 0h.6m6 0h.6m-5.8 .2h.6m2.2 0h.6m4 0h.6m-13.6 .2h.6m.2 0h.6m-.4 0h.6m5.8 0h.6m.4 0h.6m-.4 0h.6m2 0h.6m2.6 0h.6m2 0h.6m-17.8 .2h.6m.6 0h.6m-.4 0h.6m-.2 0h.6m2.8 0h.6m.2 0h.6m2.2 0h.6m0 0h.6m.6 0h.6m-.4 0h.6m3.8 0h.6m-16 .2h.6m1 0h.6m3.2 0h.6m5.4 0h.6m0 0h.6m2.2 0h.6m-10 .2h.6m.2 0h.6m3.8 0h.6m3.2 0h.6m1.2 0h.6m0 0h.6m.4 0h.6m-16.8 .2h.6m1 0h.6m2.4 0h.6m4.6 0h.6m.4 0h.6m3.4 0h.6m.2 0h.6m-16.8 .2h.6m.4 0h.6m1 0h.6m0 0h.6m.8 0h.6m1.6 0h.6m1.4 0h.6m1 0h.6m1.2 0h.6m2.8 0h.6m-15.8 .2h.6m3.2 0h.6m5.2 0h.6m.4 0h.6m2 0h.6m1.8 0h.6m-.2 0h.6m-11.4 .2h.6m-.2 0h.6m-.2 0h.6m-.2 0h.6m1.2 0h.6m5 0h.6m.4 0h.6m-16.4 .2h.6m1.4 0h.6m.4 0h.6m1.8 0h.6m.8 0h.6m4.2 0h.6m0 0h.6m1.8 0h.6m-15.4 .2h.6m.8 0h.6m5.4 0h.6m1.2 0h.6m5.4 0h.6m-14.6 .2h.6m2.6 0h.6m2.4 0h.6m1.6 0h.6m.6 0h.6m.6 0h.6m2.6 0h.6m-15.8 .2h.6m0 0h.6m4 0h.6m3.4 0h.6m0 0h.6m3.4 0h.6m-13.2 .2h.6m5.2 0h.6m-.2 0h.6m.6 0h.6m-.2 0h.6m-.4 0h.6m7.4 0h.6m-16.2 .2h.6m2.2 0h.6m3 0h.6m.2 0h.6m4.4 0h.6m0 0h.6m2.2 0h.6m-16.6 .2h.6m2.2 0h.6m-.4 0h.6m.8 0h.6m1.8 0h.6m-.6 0h.6m-.2 0h.6m1.4 0h.6m.2 0h.6m.2 0h.6m-.6 0h.6m3.8 0h.6m.4 0h.6m-.6 0h.6m-15.6 .2h.6m0 0h.6m.2 0h.6m6.6 0h.6m0 0h.6m2.4 0h.6m0 0h.6m-.4 0h.6m.2 0h.6m.2 0h.6m-17.4 .2h.6m-.2 0h.6m2.8 0h.6m3 0h.6m.6 0h.6m-.2 0h.6m.8 0h.6m1.4 0h.6m0 0h.6m1.2 0h.6m.4 0h.6m-14.4 .2h.6m3.4 0h.6m.4 0h.6m5.2 0h.6m1.4 0h.6m1 0h.6m-.4 0h.6m-.4 0h.6m-12 .2h.6m3.4 0h.6m.2 0h.6m5.2 0h.6m-.2 0h.6m-.4 0h.6m-16.6 .2h.6m3.2 0h.6m.2 0h.6m0 0h.6m.6 0h.6m2.4 0h.6m0 0h.6m4.4 0h.6m-.4 0h.6m-.2 0h.6m-12.4 .2h.6m1 0h.6m1.2 0h.6m1.6 0h.6m-.6 0h.6m4 0h.6m1.8 0h.6m-17.6 .2h.6m.4 0h.6m1 0h.6m.4 0h.6m0 0h.6m-.4 0h.6m-.4 0h.6m-.2 0h.6m0 0h.6m.4 0h.6m-.6 0h.6m1.2 0h.6m1 0h.6m.8 0h.6m2.6 0h.6m1.4 0h.6m-17.6 .2h.6m-.4 0h.6m-.2 0h.6m.2 0h.6m.6 0h.6m0 0h.6m.2 0h.6m.6 0h.6m1.6 0h.6m2 0h.6m3.4 0h.6m0 0h.6m0 0h.6m-.4 0h.6m-15.2 .2h.6m.4 0h.6m.6 0h.6m.6 0h.6m4 0h.6m.2 0h.6m1.4 0h.6m1.4 0h.6m-.2 0h.6m-.4 0h.6m2.6 0h.6m-17.2 .2h.6m-.4 0h.6m2.2 0h.6m0 0h.6m-.4 0h.6m0 0h.6m2.4 0h.6m-.4 0h.6m.6 0h.6m.2 0h.6m1.2 0h.6m.6 0h.6m.2 0h.6m2.4 0h.6m-17.6 .2h.6m-.2 0h.6m8 0h.6m.2 0h.6m2.4 0h.6m3.2 0h.6m-.4 0h.6m-17.4 .2h.6m-.2 0h.6m-.4 0h.6m0 0h.6m3.2 0h.6m.6 0h.6m-.2 0h.6m.2 0h.6m-.2 0h.6m.2 0h.6m.4 0h.6m3.8 0h.6m2.4 0h.6m-16.6 .2h.6m-.2 0h.6m.2 0h.6m.2 0h.6m-.4 0h.6m-.2 0h.6m7.4 0h.6m1.2 0h.6m-.6 0h.6m-.6 0h.6m.8 0h.6m-.2 0h.6m.2 0h.6m-15 .2h.6m.2 0h.6m.2 0h.6m-.2 0h.6m2.2 0h.6m1.2 0h.6m-.4 0h.6m0 0h.6m.2 0h.6m1.6 0h.6m-.2 0h.6m-13 .2h.6m0 0h.6m0 0h.6m0 0h.6m0 0h.6m1.8 0h.6m-.4 0h.6m.8 0h.6m.2 0h.6m1.2 0h.6m-.4 0h.6m3 0h.6m.4 0h.6m-.6 0h.6m-.2 0h.6m1 0h.6m-15.6 .2h.6m1 0h.6m.4 0h.6m1 0h.6m3 0h.6m.6 0h.6m-.2 0h.6m3.2 0h.6m-.2 0h.6m-.2 0h.6m0 0h.6m.2 0h.6m0 0h.6m-.6 0h.6m-.2 0h.6m-17.4 .2h.6m-.6 0h.6m1.2 0h.6m-.2 0h.6m1.6 0h.6m.2 0h.6m3.2 0h.6m1.2 0h.6m.2 0h.6m3 0h.6m-16.4 .2h.6m1 0h.6m0 0h.6m1.4 0h.6m0 0h.6m.2 0h.6m.2 0h.6m.4 0h.6m0 0h.6m-.2 0h.6m0 0h.6m-.4 0h.6m-.4 0h.6m.6 0h.6m-.4 0h.6m-.6 0h.6m6.2 0h.6m-.6 0h.6m-18 .2h.6m1.2 0h.6m0 0h.6m4.6 0h.6m0 0h.6m.6 0h.6m1.2 0h.6m-.2 0h.6m-.6 0h.6m1 0h.6m.2 0h.6m.4 0h.6m1.6 0h.6m-17.6 .2h.6m0 0h.6m-.4 0h.6m-.2 0h.6m2.2 0h.6m1.2 0h.6m.6 0h.6m.8 0h.6m.6 0h.6m0 0h.6m0 0h.6m1.4 0h.6m-.2 0h.6m.8 0h.6m.2 0h.6m.4 0h.6m0 0h.6m-.2 0h.6m-14.6 .2h.6m.4 0h.6m.8 0h.6m0 0h.6m0 0h.6m.2 0h.6m0 0h.6m-.2 0h.6m-.4 0h.6m1.4 0h.6m-.4 0h.6m2 0h.6m0 0h.6m-.2 0h.6m1.8 0h.6m-17 .2h.6m0 0h.6m.6 0h.6m2.6 0h.6m.4 0h.6m-.2 0h.6m-.2 0h.6m.2 0h.6m0 0h.6m-.2 0h.6m-.4 0h.6m-.6 0h.6m-.4 0h.6m1.2 0h.6m0 0h.6m1.4 0h.6m.8 0h.6m0 0h.6m-.2 0h.6m-.2 0h.6m-18 .2h.6m-.4 0h.6m-.4 0h.6m-.4 0h.6m1.8 0h.6m-.4 0h.6m.2 0h.6m.4 0h.6m.4 0h.6m0 0h.6m.2 0h.6m-.2 0h.6m-.4 0h.6m-.2 0h.6m-.6 0h.6m-.2 0h.6m-.6 0h.6m0 0h.6m.4 0h.6m.4 0h.6m0 0h.6m-.2 0h.6m-.4 0h.6m-.2 0h.6m-.4 0h.6m1.8 0h.6m.6 0h.6m-.4 0h.6m.2 0h.6m-18.4 .2h.6m-.2 0h.6m.4 0h.6m-.6 0h.6m-.2 0h.6m2.2 0h.6m-.2 0h.6m.2 0h.6m.6 0h.6m1.2 0h.6m-.4 0h.6m-.6 0h.6m-.2 0h.6m.2 0h.6m-.2 0h.6m-.4 0h.6m-.4 0h.6m.6 0h.6m1.2 0h.6m-.6 0h.6m1.4 0h.6m.6 0h.6m-.4 0h.6m-15.8 .2h.6m-.2 0h.6m3 0h.6m.2 0h.6m-.2 0h.6m-.2 0h.6m.8 0h.6m0 0h.6m-.6 0h.6m.4 0h.6m.2 0h.6m1 0h.6m0 0h.6m.2 0h.6m-.2 0h.6m.6 0h.6m-.2 0h.6m.4 0h.6m-18.2 .2h.6m-.6 0h.6m-.4 0h.6m-.4 0h.6m-.6 0h.6m.4 0h.6m2 0h.6m0 0h.6m.2 0h.6m0 0h.6m.8 0h.6m.4 0h.6m-.6 0h.6m.2 0h.6m-.4 0h.6m-.4 0h.6m1.4 0h.6m-.4 0h.6m-.2 0h.6m-.4 0h.6m.2 0h.6m-.6 0h.6m-.4 0h.6m.4 0h.6m.2 0h.6m0 0h.6m0 0h.6m.6 0h.6m-.4 0h.6m-16.8 .2h.6m-.4 0h.6m-.2 0h.6m1.6 0h.6m.8 0h.6m0 0h.6m.2 0h.6m-.2 0h.6m.2 0h.6m-.4 0h.6m.2 0h.6m-.4 0h.6m.4 0h.6m-.4 0h.6m.6 0h.6m.4 0h.6m.6 0h.6m0 0h.6m-.6 0h.6m-.4 0h.6m-.6 0h.6m-.4 0h.6m-.4 0h.6m-.2 0h.6m.2 0h.6m-17.2 .2h.6m1.2 0h.6m1 0h.6m-.2 0h.6m.2 0h.6m1 0h.6m-.2 0h.6m.4 0h.6m0 0h.6m-.4 0h.6m.8 0h.6m-.2 0h.6m-.6 0h.6m-.6 0h.6m1.8 0h.6m1.2 0h.6m-.2 0h.6m-.6 0h.6m.2 0h.6m.2 0h.6m-.2 0h.6m-.4 0h.6m-16.8 .2h.6m-.4 0h.6m1.4 0h.6m-.4 0h.6m0 0h.6m0 0h.6m-.6 0h.6m-.4 0h.6m-.2 0h.6m1.2 0h.6m0 0h.6m.6 0h.6m-.6 0h.6m-.2 0h.6m-.4 0h.6m-.4 0h.6m-.6 0h.6m-.6 0h.6m-.2 0h.6m-.4 0h.6m-.4 0h.6m0 0h.6m-.4 0h.6m1.2 0h.6m-.2 0h.6m-.6 0h.6m0 0h.6m-.6 0h.6m-.4 0h.6m.2 0h.6m-.4 0h.6m-.2 0h.6m.2 0h.6m-.4 0h.6m-.6 0h.6m-.4 0h.6m0 0h.6m-17.4 .2h.6m-.4 0h.6m1.4 0h.6m-.6 0h.6m0 0h.6m.2 0h.6m1.4 0h.6m-.2 0h.6m-.2 0h.6m0 0h.6m-.2 0h.6m0 0h.6m-.6 0h.6m0 0h.6m-.6 0h.6m.4 0h.6m-.2 0h.6m-.2 0h.6m.8 0h.6m-.6 0h.6m.4 0h.6m-.2 0h.6m.2 0h.6m-.4 0h.6m-.6 0h.6m1.4 0h.6m-.2 0h.6m-.6 0h.6m-17.4 .2h.6m-.6 0h.6m-.6 0h.6m-.4 0h.6m-.4 0h.6m.2 0h.6m.4 0h.6m0 0h.6m-.2 0h.6m-.2 0h.6m-.2 0h.6m-.4 0h.6m-.4 0h.6m-.2 0h.6m0 0h.6m1 0h.6m-.4 0h.6m-.4 0h.6m-.4 0h.6m.2 0h.6m.8 0h.6m0 0h.6m0 0h.6m0 0h.6m0 0h.6m-.4 0h.6m-.6 0h.6m-.2 0h.6m-.2 0h.6m0 0h.6m1.6 0h.6m1 0h.6m-18.4 .2h.6m-.6 0h.6m0 0h.6m-.6 0h.6m-.4 0h.6m0 0h.6m-.4 0h.6m-.6 0h.6m0 0h.6m-.4 0h.6m-.4 0h.6m-.6 0h.6m0 0h.6m.4 0h.6m-.2 0h.6m.8 0h.6m-.4 0h.6m-.2 0h.6m1.2 0h.6m2 0h.6m-.6 0h.6m-.4 0h.6m-.6 0h.6m-.2 0h.6m.6 0h.6m-.6 0h.6m0 0h.6m0 0h.6m-.4 0h.6m-.2 0h.6m-.2 0h.6m-.4 0h.6m-.4 0h.6m-16 .2h.6m-.6 0h.6m.8 0h.6m1.2 0h.6m-.4 0h.6m.2 0h.6m-.6 0h.6m0 0h.6m-.4 0h.6m-.4 0h.6m-.4 0h.6m-.2 0h.6m-.4 0h.6m-.4 0h.6m-.6 0h.6m.6 0h.6m-.4 0h.6m-.2 0h.6m-.4 0h.6m-.6 0h.6m-.6 0h.6m-.4 0h.6m-.6 0h.6m-.6 0h.6m-.4 0h.6m.4 0h.6m0 0h.6m.6 0h.6m-.6 0h.6m-.2 0h.6m-.2 0h.6m-.2 0h.6m-.2 0h.6m-.2 0h.6m1 0h.6m0 0h.6m.2 0h.6m-.4 0h.6m0 0h.6m-.2 0h.6m-17.6 .2h.6m.2 0h.6m1 0h.6m-.4 0h.6m.8 0h.6m-.2 0h.6m-.2 0h.6m-.4 0h.6m0 0h.6m-.4 0h.6m-.2 0h.6m-.2 0h.6m-.6 0h.6m.8 0h.6m-.6 0h.6m-.4 0h.6m-.4 0h.6m-.4 0h.6m.6 0h.6m-.4 0h.6m.6 0h.6m-.2 0h.6m.2 0h.6m0 0h.6m-.6 0h.6m.2 0h.6m.2 0h.6m-.6 0h.6m-.6 0h.6m-.4 0h.6m-.6 0h.6m-.2 0h.6m-.2 0h.6m.2 0h.6m-.2 0h.6m-17.8 .2h.6m-.4 0h.6m-.6 0h.6m-.2 0h.6m0 0h.6m-.2 0h.6m-.4 0h.6m0 0h.6m.6 0h.6m-.4 0h.6m-.2 0h.6m-.6 0h.6m-.4 0h.6m-.2 0h.6m0 0h.6m-.6 0h.6m-.4 0h.6m-.4 0h.6m-.2 0h.6m.6 0h.6m-.6 0h.6m-.4 0h.6m-.2 0h.6m-.4 0h.6m0 0h.6m-.4 0h.6m-.6 0h.6m.2 0h.6m-.4 0h.6m-.2 0h.6m-.4 0h.6m-.6 0h.6m-.6 0h.6m0 0h.6m-.4 0h.6m-.4 0h.6m-.4 0h.6m-.6 0h.6m.4 0h.6m.4 0h.6m-.4 0h.6m-.2 0h.6m-.2 0h.6m-.6 0h.6m-.4 0h.6m-.4 0h.6m-.2 0h.6m-.4 0h.6m.2 0h.6m0 0h.6m-.2 0h.6m-18.4 .2h.6m-.2 0h.6m-.4 0h.6m-.2 0h.6m.6 0h.6m.6 0h.6m-.2 0h.6m1.8 0h.6m-.4 0h.6m-.4 0h.6m-.2 0h.6m-.2 0h.6m.2 0h.6m-.6 0h.6m-.4 0h.6m-.4 0h.6m.2 0h.6m-.4 0h.6m-.4 0h.6m0 0h.6m-.4 0h.6m0 0h.6m-.2 0h.6m-.6 0h.6m-.6 0h.6m-.2 0h.6m-.4 0h.6m.4 0h.6m-.4 0h.6m-.2 0h.6m-.6 0h.6m-.2 0h.6m-.2 0h.6m-.4 0h.6m-.4 0h.6m-.6 0h.6m-.6 0h.6m.2 0h.6m0 0h.6m0 0h.6m-.2 0h.6m-17.8 .2h.6m-.4 0h.6m0 0h.6m0 0h.6m-.4 0h.6m.8 0h.6m-.2 0h.6m-.6 0h.6m.2 0h.6m-.4 0h.6m-.4 0h.6m.4 0h.6m-.4 0h.6m-.4 0h.6m-.6 0h.6m-.4 0h.6m0 0h.6m-.2 0h.6m-.6 0h.6m.6 0h.6m.4 0h.6m-.6 0h.6m-.6 0h.6m-.2 0h.6m-.4 0h.6m-.4 0h.6m-.2 0h.6m-.2 0h.6m-.6 0h.6m.2 0h.6m-.4 0h.6m-.2 0h.6m-.4 0h.6m-.2 0h.6m-.2 0h.6m.4 0h.6m-.2 0h.6m-.2 0h.6m-.4 0h.6m-.6 0h.6m-.4 0h.6m-.4 0h.6m-.2 0h.6m-.6 0h.6m-.6 0h.6m-.4 0h.6m0 0h.6m-.4 0h.6m-.4 0h.6m-16.8 .2h.6m-.4 0h.6m-.4 0h.6m-.6 0h.6m-.2 0h.6m-.4 0h.6m-.6 0h.6m0 0h.6m-.2 0h.6m0 0h.6m-.4 0h.6m-.4 0h.6m1.2 0h.6m.4 0h.6m-.4 0h.6m-.4 0h.6m-.2 0h.6m-.4 0h.6m-.4 0h.6m0 0h.6m-.2 0h.6m-.4 0h.6m-.4 0h.6m-.6 0h.6m-.6 0h.6m0 0h.6m-.6 0h.6m.4 0h.6m-.6 0h.6m-.4 0h.6m-.6 0h.6m-.4 0h.6m1.8 0h.6m-.4 0h.6m-.6 0h.6m0 0h.6m-.6 0h.6m-.6 0h.6m-.4 0h.6m0 0h.6m.6 0h.6m-.6 0h.6m-.6 0h.6m-.4 0h.6m0 0h.6m-18.2 .2h.6m0 0h.6m-.2 0h.6m-.2 0h.6m-.6 0h.6m.2 0h.6m1.2 0h.6m-.4 0h.6m-.2 0h.6m.8 0h.6m-.6 0h.6m.6 0h.6m-.6 0h.6m-.2 0h.6m-.2 0h.6m.6 0h.6m1.2 0h.6m1 0h.6m1.6 0h.6m1 0h.6m0 0h.6m-.6 0h.6" stroke="#e8bf48" stroke-width="0.6" stroke-opacity="0.7" fill="none"/>
<rect x="101.10" y="229.41" width="17.80" height="12.99" fill="none" stroke="#cca83f" stroke-width="0.7"/>
<line x1="101.10" y1="240.54" x2="118.90" y2="240.54" stroke="#cca83f" stroke-width="0.7"/>
<line x1="110.00" y1="211.78" x2="110.00" y2="229.41" stroke="#cca83f" stroke-width="0.7"/>
<line x1="110.00" y1="242.40" x2="110.00" y2="242.40" stroke="#cca83f" stroke-width="0.7"/>
<line x1="105.50" y1="211.78" x2="114.50" y2="211.78" stroke="#cca83f" stroke-width="0.7"/>
<line x1="105.50" y1="242.40" x2="114.50" y2="242.40" stroke="#cca83f" stroke-width="0.7"/>
<circle cx="110.00" cy="231.26" r="0.85" fill="#3d7a2a"/>
<rect x="135.20" y="152.81" width="17.80" height="90.59" fill="url(#g3)"/>
<path d="M136.6 154.2h.6m12.4 2.2h.6m-10 .4h.6m3.6 0h.6m1.2 .8h.6m.6 .2h.6m-12.4 .2h.6m10.6 .2h.6m3.6 0h.6m-10.6 .4h.6m-6.6 .4h.6m10 0h.6m-5.4 .6h.6m9.6 .2h.6m-14 1.2h.6m-.4 0h.6m0 0h.6m12.6 0h.6m-15.2 .2h.6m11.4 0h.6m-10.6 .4h.6m7 .6h.6m-4.2 .2h.6m4.8 0h.6m-1.6 .2h.6m-7.6 .4h.6m3.4 0h.6m-.4 0h.6m-3.2 .6h.6m9.2 .2h.6m-7.6 .2h.6m2.6 0h.6m2.6 0h.6m-1 .2h.6m-7.2 .2h.6m4.6 0h.6m-7 .2h.6m-7.8 .2h.6m1.8 0h.6m-1.6 .2h.6m2.8 0h.6m3.4 0h.6m-.2 0h.6m1.6 0h.6m0 0h.6m1 0h.6m-11.6 .2h.6m5.6 0h.6m6.2 0h.6m-13.6 .2h.6m2.8 0h.6m-3.6 .2h.6m1.8 .2h.6m-1 .6h.6m0 .2h.6m5.2 0h.6m3.2 0h.6m-11.6 .2h.6m2.8 .8h.6m1.2 0h.6m6.6 0h.6m-1 .6h.6m-13.2 .2h.6m.8 0h.6m-4.8 .2h.6m2.2 0h.6m8 0h.6m-9.8 .2h.6m7.8 .2h.6m.2 0h.6m3.6 .2h.6m-15.4 .2h.6m8 0h.6m4.8 0h.6m-7.6 .2h.6m4 .8h.6m-11 .2h.6m13.4 0h.6m-13 .2h.6m10.2 0h.6m-11.8 .4h.6m2.6 0h.6m4.6 0h.6m3.4 0h.6m-12.6 .2h.6m.4 .2h.6m1.6 0h.6m2.2 .2h.6m3.6 0h.6m-13.4 .2h.6m4.4 0h.6m5.8 0h.6m-11.4 .2h.6m4.4 0h.6m8.6 0h.6m-10.6 .4h.6m1 0h.6m3 0h.6m.6 0h.6m2.8 0h.6m-13.4 .2h.6m-.2 0h.6m5 0h.6m5.2 0h.6m-16 .2h.6m2.8 0h.6m9 0h.6m-2.8 .2h.6m1.6 0h.6m-13.6 .2h.6m1.4 0h.6m6.2 .2h.6m1.6 0h.6m-10 .2h.6m-.4 .2h.6m8.4 0h.6m1.6 0h.6m-.4 0h.6m-.4 0h.6m-12.2 .2h.6m4.4 0h.6m1.8 0h.6m-.6 0h.6m2.2 0h.6m-7.8 .2h.6m2 0h.6m-.2 0h.6m.2 0h.6m-.2 0h.6m2.8 0h.6m0 0h.6m0 0h.6m.2 0h.6m-11.6 .2h.6m-2.4 .2h.6m13 0h.6m-15.2 .2h.6m4.2 0h.6m.8 0h.6m2.6 0h.6m3 0h.6m-14.4 .2h.6m-.2 0h.6m9.4 0h.6m-9.4 .2h.6m1.8 0h.6m-.4 0h.6m4.2 .2h.6m4.6 0h.6m-12.4 .2h.6m1.2 0h.6m.2 0h.6m6 0h.6m-.4 0h.6m.4 0h.6m-8.2 .2h.6m-4.8 .2h.6m.2 0h.6m7.8 0h.6m.8 0h.6m-.4 0h.6m1.8 0h.6m-10.4 .2h.6m0 0h.6m0 0h.6m.6 0h.6m2.8 0h.6m4.8 0h.6m-9.6 .2h.6m3 0h.6m.4 0h.6m0 0h.6m.6 0h.6m1.4 0h.6m-9.4 .2h.6m7 0h.6m1.4 0h.6m-.6 0h.6m-8.8 .2h.6m-.2 0h.6m3.4 0h.6m0 0h.6m2.4 0h.6m-13.2 .2h.6m.8 0h.6m.2 0h.6m10.6 0h.6m-.2 0h.6m-12.6 .2h.6m-4.4 .2h.6m4.4 .2h.6m6.6 0h.6m.2 0h.6m-12.6 .2h.6m4.2 0h.6m.4 0h.6m-.4 0h.6m3 0h.6m.2 0h.6m2.4 0h.6m-15.6 .2h.6m3.4 0h.6m10.4 0h.6m-15.2 .2h.6m.2 0h.6m6.2 0h.6m1.8 0h.6m5.6 0h.6m-11.8 .2h.6m-5.8 .2h.6m14.6 0h.6m-14.4 .2h.6m4 0h.6m-.4 0h.6m.6 0h.6m3.6 .2h.6m2 0h.6m-.2 0h.6m-12.2 .2h.6m0 0h.6m2.2 0h.6m-5 .2h.6m13.8 0h.6m-16.4 .2h.6m.2 0h.6m3.4 0h.6m.8 0h.6m2.6 0h.6m-11.8 .2h.6m3.6 0h.6m12 0h.6m-6 .2h.6m2.4 0h.6m-10.6 .2h.6m12.2 0h.6m-6.8 .2h.6m3.4 0h.6m1.2 0h.6m.2 0h.6m-14.8 .2h.6m1.8 0h.6m-.6 0h.6m4 0h.6m.6 0h.6m-8.8 .2h.6m4 0h.6m3.2 0h.6m5 0h.6m-15.4 .2h.6m10 0h.6m.4 0h.6m1 0h.6m-11 .2h.6m-5.6 .2h.6m2.6 0h.6m7.2 0h.6m.6 0h.6m-8.6 .2h.6m4.4 0h.6m2 0h.6m3.6 0h.6m-9.6 .2h.6m8.6 .2h.6m-2.2 .2h.6m-14.6 .2h.6m-1.6 .2h.6m11.2 0h.6m2.2 0h.6m1 0h.6m-15 .2h.6m4.2 .2h.6m-4.8 .2h.6m4.4 0h.6m3.4 .2h.6m1.4 0h.6m-10 .2h.6m6.2 0h.6m5 0h.6m.2 0h.6m-16.6 .2h.6m.6 0h.6m-.6 0h.6m-.4 0h.6m.4 0h.6m11.2 0h.6m-9.6 .4h.6m3 0h.6m5.2 0h.6m-12.6 .2h.6m6.2 0h.6m-.8 .2h.6m5.8 0h.6m-3 .2h.6m-14 .2h.6m6.4 0h.6m1.4 0h.6m6.4 0h.6m-3.8 .2h.6m-12.2 .2h.6m-1.2 .2h.6m.8 0h.6m3.2 0h.6m6.8 0h.6m1 0h.6m-16.2 .2h.6m6.2 0h.6m-6.4 .2h.6m13.4 0h.6m-2.8 .2h.6m-9.6 .8h.6m3.4 0h.6m-.6 0h.6m1.8 0h.6m-1.4 .2h.6m-4.6 .2h.6m1 0h.6m6 0h.6m1.8 0h.6m.4 0h.6m-10 .4h.6m-3 .2h.6m8.8 0h.6m-.4 0h.6m-14 .2h.6m9.6 .4h.6m-8 .2h.6m.8 0h.6m6 0h.6m-9 .4h.6m1.6 0h.6m.2 .2h.6m8.6 0h.6m-7.4 .2h.6m.2 0h.6m-7.2 .2h.6m4 0h.6m.8 0h.6m.2 .2h.6m-3.8 .8h.6m5.2 0h.6m0 0h.6m-1.4 .2h.6m-13.2 .4h.6m6.8 0h.6m1.6 .4h.6m-1 .2h.6m-4.8 .4h.6m-4.8 .2h.6m.6 0h.6m5.8 0h.6m8.4 .2h.6m-15.4 .2h.6m4 0h.6m6.2 0h.6m-13.6 .2h.6m7 .6h.6m3.6 0h.6m-4.6 .4h.6m-4 .4h.6m.2 .2h.6m4.2 0h.6m-8.2 .2h.6m.2 0h.6m-2 .6h.6m9.8 0h.6m-5.4 .2h.6m4.4 0h.6m-11.2 .2h.6m6 .2h.6m-.2 0h.6m-9 .8h.6m8.4 .2h.6m.2 .2h.6m3.2 0h.6m-4.6 .2h.6m-9.2 .2h.6m7.2 0h.6m-5.4 .2h.6m3.2 0h.6m.6 .2h.6m-5.2 .2h.6m9.4 .2h.6m-4.6 .2h.6m-3.4 .8h.6m1.4 0h.6m2.2 0h.6m-5.6 .2h.6m-7 .2h.6m13 .4h.6m-2.6 .2h.6m-.2 0h.6m-12.4 .2h.6m.6 0h.6m11.6 0h.6m-8.6 .4h.6m8.8 0h.6m-9.4 .4h.6m-5.2 .2h.6m11.4 0h.6m-1.8 .2h.6m-9.4 .2h.6m3.8 0h.6m-10.6 .2h.6m3.8 .4h.6m4 0h.6m6.4 0h.6m-6.8 .2h.6m6.4 0h.6m-14.2 .2h.6m3.8 0h.6m7.6 0h.6m-17 .4h.6m-.4 0h.6m12.8 0h.6m1.8 0h.6m-6.8 .2h.6m-6.6 .4h.6m3.4 .2h.6m2 0h.6m-4.2 .2h.6m4 0h.6m-11 .2h.6m.8 .2h.6m13.2 0h.6m-2.2 .2h.6m-7 .2h.6m.4 0h.6m-9.6 .2h.6m8.6 0h.6m5.2 .4h.6m-6.2 .2h.6m4.6 0h.6m0 .2h.6m-10.2 .4h.6m0 0h.6m1.2 0h.6m-5.2 .2h.6m-2 .2h.6m3.6 0h.6m-.6 0h.6m6.4 0h.6m-6.2 .2h.6m1.6 0h.6m-8.8 .2h.6m.4 0h.6m2 0h.6m.6 0h.6m-2 .4h.6m1.4 .2h.6m0 0h.6m2.8 0h.6m-4 .2h.6m-7.2 .2h.6m15.4 0h.6m-15 .2h.6m.4 0h.6m.2 .2h.6m3 0h.6m2.8 0h.6m-11 .2h.6m4 0h.6m-4.2 .2h.6m14.8 0h.6m-16.2 .2h.6m1.2 0h.6m.2 0h.6m10 0h.6m-13.2 .2h.6m1.8 0h.6m2 0h.6m9 0h.6m-13.4 .2h.6m1.8 .2h.6m-.2 0h.6m-5 .2h.6m9.2 0h.6m1 0h.6m-11.2 .2h.6m1.6 0h.6m1.8 0h.6m-4.6 .4h.6m10.4 0h.6m-15.4 .2h.6m1.6 0h.6m-.2 0h.6m8.4 0h.6m-7.4 .2h.6m9.6 0h.6m1.2 0h.6m-15.4 .2h.6m4.8 0h.6m0 0h.6m-8 .2h.6m10 0h.6m1.6 0h.6m-7.4 .2h.6m-.6 0h.6m-2.4 .2h.6m4.8 .2h.6m6.4 0h.6m-8.8 .2h.6m2.6 0h.6m3 .2h.6m-16.8 .4h.6m14.4 0h.6m-13.4 .2h.6m3.4 0h.6m4.4 0h.6m5 0h.6m-.4 0h.6m-17.6 .2h.6m6.8 0h.6m4 0h.6m2 0h.6m-15 .4h.6m.2 0h.6m10.2 0h.6m-8.2 .2h.6m-3 .2h.6m-.4 0h.6m3.2 0h.6m7.2 0h.6m1.6 0h.6m-5.2 .2h.6m-4.6 .2h.6m-.2 0h.6m-5.8 .2h.6m-2.6 .2h.6m1.2 .4h.6m2.4 0h.6m11 0h.6m-16.6 .2h.6m1 0h.6m6.6 0h.6m2.6 0h.6m.6 0h.6m-11.2 .2h.6m-.4 0h.6m2.8 0h.6m2.2 0h.6m2.8 .2h.6m-12.4 .2h.6m.4 0h.6m0 0h.6m1 0h.6m5.4 .2h.6m-8 .2h.6m9.6 0h.6m-8.8 .4h.6m9.8 0h.6m-.6 0h.6m1 .2h.6m-15.6 .4h.6m-1.4 .2h.6m7.6 0h.6m3.4 0h.6m-13.2 .2h.6m0 0h.6m13.4 0h.6m-16.2 .2h.6m2.8 0h.6m2.2 0h.6m10.6 0h.6m-11.4 .2h.6m4.4 0h.6m3.2 .2h.6m-12.8 .2h.6m-.8 .2h.6m.8 0h.6m8 0h.6m-6.2 .2h.6m5.6 0h.6m2.6 0h.6m-14 .2h.6m-1.6 .2h.6m6.6 0h.6m3.4 0h.6m1.4 0h.6m-14.8 .2h.6m4.8 0h.6m4.8 0h.6m3.6 0h.6m-16 .2h.6m14.4 0h.6m.6 0h.6m-.2 .2h.6m-13.6 .2h.6m6 0h.6m4 0h.6m-14.8 .2h.6m4.4 0h.6m6.4 0h.6m2.2 0h.6m-13 .2h.6m7.4 0h.6m-12 .4h.6m1 0h.6m-.4 0h.6m1.2 0h.6m-.2 0h.6m4.8 0h.6m1.8 0h.6m.6 0h.6m-14.2 .2h.6m10 0h.6m5.6 0h.6m-16 .2h.6m5 0h.6m-.6 0h.6m-.8 .2h.6m-.4 0h.6m2.8 0h.6m-.2 0h.6m5.8 0h.6m-15.4 .2h.6m1.4 0h.6m-.2 .2h.6m0 0h.6m1.4 0h.6m7.2 0h.6m-.4 0h.6m1.6 0h.6m-14 .2h.6m2.4 0h.6m3.8 0h.6m-7.6 .2h.6m5 0h.6m6.4 0h.6m-11.8 .2h.6m-.2 0h.6m7.6 0h.6m-.4 0h.6m-13.6 .2h.6m8 0h.6m0 0h.6m.8 0h.6m-7.4 .2h.6m-.2 0h.6m2.6 0h.6m1.6 0h.6m.6 0h.6m-12.4 .2h.6m10.8 0h.6m1.4 0h.6m-12.4 .2h.6m6 0h.6m.2 0h.6m6.2 0h.6m-1.8 .2h.6m-14 .2h.6m11 0h.6m2.6 0h.6m-3.6 .2h.6m0 0h.6m2.6 0h.6m-14.4 .2h.6m6.2 0h.6m0 0h.6m0 0h.6m-8.4 .2h.6m5.4 0h.6m2.2 0h.6m-10.4 .2h.6m1.8 0h.6m4.2 0h.6m-8 .2h.6m5.2 0h.6m1.4 0h.6m3.8 0h.6m1.8 0h.6m-17.8 .2h.6m1.2 0h.6m1 0h.6m.4 0h.6m1 0h.6m.2 0h.6m1.4 0h.6m0 .2h.6m.2 0h.6m3.4 0h.6m-8.6 .2h.6m8.8 0h.6m-13 .2h.6m5.2 0h.6m.8 0h.6m2.8 0h.6m1 0h.6m1.4 0h.6m-13.4 .2h.6m6 0h.6m3.8 0h.6m-10.2 .2h.6m.6 0h.6m5.6 0h.6m.2 0h.6m-.6 0h.6m-12.8 .2h.6m2.2 0h.6m-.4 0h.6m2.8 0h.6m-6.4 .2h.6m7.8 0h.6m-9.2 .2h.6m-.2 0h.6m-.4 0h.6m.8 0h.6m0 0h.6m3.6 0h.6m.4 0h.6m1.6 0h.6m-.4 .2h.6m3.4 0h.6m-13.2 .2h.6m3.6 0h.6m1.6 0h.6m-9.6 .2h.6m0 0h.6m1.2 0h.6m4.4 0h.6m1.6 0h.6m.4 0h.6m-.2 0h.6m.4 0h.6m-12 .2h.6m4.8 0h.6m2.4 0h.6m2 0h.6m.6 0h.6m1.8 0h.6m-11.4 .2h.6m.4 0h.6m-6.4 .2h.6m1.6 0h.6m2.2 0h.6m2.2 0h.6m3.6 0h.6m2.8 0h.6m-5 .2h.6m1.6 0h.6m-14.2 .2h.6m1.4 0h.6m12.6 0h.6m-.2 0h.6m.2 0h.6m-16.4 .2h.6m5 0h.6m5.6 0h.6m3.8 0h.6m-17.6 .2h.6m1.8 0h.6m-.4 0h.6m.8 0h.6m8 0h.6m1 0h.6m-.6 0h.6m-11.8 .2h.6m4.2 0h.6m-.2 0h.6m2.4 0h.6m3.8 0h.6m.8 0h.6m-18.2 .2h.6m4.4 0h.6m5.6 0h.6m1.2 0h.6m-4.4 .2h.6m2 0h.6m2.6 0h.6m-15.4 .2h.6m.2 0h.6m.8 0h.6m8.6 0h.6m-11.4 .2h.6m5.2 0h.6m5.6 0h.6m-12.6 .2h.6m6.2 0h.6m-.2 0h.6m-.4 0h.6m.8 0h.6m1.4 0h.6m5.2 0h.6m-17.8 .2h.6m2.4 0h.6m2 0h.6m1 0h.6m4.6 0h.6m1.4 0h.6m.8 0h.6m-16.6 .2h.6m2 .2h.6m1.2 0h.6m10.8 0h.6m-12.2 .2h.6m.4 0h.6m5.4 0h.6m3.2 0h.6m-.2 0h.6m-13.8 .2h.6m1.4 0h.6m4.8 0h.6m-.4 0h.6m2.8 0h.6m-9.6 .2h.6m.6 0h.6m1.4 0h.6m1.2 0h.6m0 0h.6m-8.4 .2h.6m4.8 0h.6m0 0h.6m5.8 0h.6m1.6 0h.6m-15 .2h.6m1.8 0h.6m1 0h.6m.2 0h.6m7.4 0h.6m.8 0h.6m-14.6 .2h.6m.6 0h.6m-.4 0h.6m7.8 0h.6m-.4 0h.6m3.8 0h.6m0 0h.6m-15.6 .2h.6m6.6 0h.6m0 0h.6m.2 0h.6m2.2 0h.6m2.8 0h.6m-17.4 .2h.6m1.8 0h.6m3 0h.6m-.4 0h.6m.6 0h.6m6.6 0h.6m-3.4 .2h.6m1.6 0h.6m0 0h.6m0 0h.6m.6 0h.6m0 0h.6m-16.8 .2h.6m-.6 0h.6m4.6 0h.6m.6 0h.6m3.4 0h.6m2.6 0h.6m-12.6 .2h.6m0 0h.6m3.2 0h.6m5.8 0h.6m-11.6 .2h.6m.8 0h.6m5.8 0h.6m1 0h.6m.2 0h.6m3 0h.6m-14.2 .2h.6m-.4 0h.6m1.2 0h.6m.2 0h.6m.4 0h.6m-.2 0h.6m3.8 0h.6m0 0h.6m1.4 0h.6m1.2 0h.6m-14.4 .2h.6m.8 0h.6m3.6 0h.6m1.4 0h.6m-.2 0h.6m6.4 0h.6m-10 .2h.6m-.4 0h.6m6.2 0h.6m-.4 0h.6m2 0h.6m-.4 0h.6m-15.2 .2h.6m.2 0h.6m1.2 0h.6m3.8 0h.6m1 0h.6m-9.6 .2h.6m0 0h.6m6.4 0h.6m3 0h.6m2.8 0h.6m-8.8 .2h.6m3 0h.6m-.2 0h.6m-13 .2h.6m12 0h.6m.4 0h.6m-13.8 .2h.6m5.4 0h.6m1.4 0h.6m1.2 0h.6m1 0h.6m1.8 0h.6m-10.2 .2h.6m1.2 0h.6m.8 0h.6m.4 0h.6m1.8 0h.6m-.2 0h.6m3.4 0h.6m-15.4 .2h.6m.6 0h.6m3.6 0h.6m5.8 0h.6m-.4 0h.6m-13.2 .2h.6m-.2 0h.6m1.8 0h.6m8.8 0h.6m3.4 0h.6m-16.2 .2h.6m2.2 0h.6m-.2 0h.6m-.4 0h.6m1.6 0h.6m-.6 0h.6m.4 0h.6m.4 0h.6m2.2 0h.6m-11.8 .2h.6m.8 0h.6m.8 0h.6m.8 0h.6m-.4 0h.6m2.4 0h.6m4.2 0h.6m.6 0h.6m2.8 0h.6m-15.6 .2h.6m1.8 0h.6m.6 0h.6m.4 0h.6m2.2 0h.6m.6 0h.6m-11.6 .2h.6m-.4 0h.6m3.6 0h.6m-.4 0h.6m2.2 0h.6m1.6 0h.6m-.6 0h.6m-.2 0h.6m-.2 0h.6m.2 0h.6m-7.8 .2h.6m1 0h.6m3.2 0h.6m2 0h.6m.2 0h.6m.6 0h.6m-12.8 .2h.6m1.6 0h.6m-3.4 .2h.6m9.8 0h.6m1.4 0h.6m-13 .2h.6m1.4 0h.6m.2 0h.6m3.6 0h.6m0 0h.6m1 0h.6m-.4 0h.6m.4 0h.6m2.4 0h.6m1.4 0h.6m-.2 0h.6m-17 .2h.6m.2 0h.6m-.6 0h.6m1.4 0h.6m.2 0h.6m2.8 0h.6m3.2 0h.6m-.6 0h.6m-.2 0h.6m.2 0h.6m1 0h.6m1.2 0h.6m-15.8 .2h.6m.6 0h.6m1.8 0h.6m4.8 0h.6m-.2 0h.6m.2 0h.6m-.6 0h.6m-.6 0h.6m-.2 0h.6m2.2 0h.6m-.4 0h.6m1.6 0h.6m-16.6 .2h.6m.6 0h.6m-.6 0h.6m-.2 0h.6m-.2 0h.6m-.2 0h.6m.8 0h.6m1 0h.6m1.8 0h.6m1.2 0h.6m3.6 0h.6m2.2 0h.6m-16.4 .2h.6m.2 0h.6m.2 0h.6m-.4 0h.6m-.4 0h.6m-.4 0h.6m1 0h.6m.4 0h.6m.4 0h.6m1.4 0h.6m-.2 0h.6m1.6 0h.6m2.2 0h.6m2.4 0h.6m-17 .2h.6m0 0h.6m-.6 0h.6m0 0h.6m1.2 0h.6m-.4 0h.6m2 0h.6m.2 0h.6m.4 0h.6m.4 0h.6m-.2 0h.6m5.6 0h.6m-.2 0h.6m-.2 0h.6m-17.8 .2h.6m.2 0h.6m-.6 0h.6m-.6 0h.6m-.6 0h.6m.4 0h.6m3 0h.6m.2 0h.6m-.2 0h.6m-.2 0h.6m-.2 0h.6m-.2 0h.6m.8 0h.6m-.4 0h.6m1.8 0h.6m.6 0h.6m1.4 0h.6m-.4 0h.6m-.2 0h.6m.4 0h.6m-16.8 .2h.6m-.4 0h.6m-.2 0h.6m-.2 0h.6m.4 0h.6m2.4 0h.6m.4 0h.6m-.2 0h.6m-.2 0h.6m-.4 0h.6m-.6 0h.6m0 0h.6m-.6 0h.6m.4 0h.6m-.6 0h.6m.4 0h.6m1.2 0h.6m-.4 0h.6m1.6 0h.6m1.4 0h.6m.4 0h.6m-15.8 .2h.6m.4 0h.6m-.4 0h.6m1.4 0h.6m1.2 0h.6m-.4 0h.6m.8 0h.6m0 0h.6m.2 0h.6m-.4 0h.6m.2 0h.6m.8 0h.6m1.2 0h.6m.6 0h.6m-.2 0h.6m.2 0h.6m.2 0h.6m-.4 0h.6m-15.8 .2h.6m-.4 0h.6m-.4 0h.6m0 0h.6m0 0h.6m-.6 0h.6m-.2 0h.6m3 0h.6m0 0h.6m1.8 0h.6m-.2 0h.6m.4 0h.6m-.4 0h.6m-.2 0h.6m2.2 0h.6m-.6 0h.6m.2 0h.6m.2 0h.6m-16.4 .2h.6m-.2 0h.6m-.4 0h.6m-.4 0h.6m.4 0h.6m1.2 0h.6m.8 0h.6m1.2 0h.6m-.6 0h.6m1.2 0h.6m.4 0h.6m.2 0h.6m.2 0h.6m.6 0h.6m-.4 0h.6m1 0h.6m0 0h.6m.6 0h.6m-17.4 .2h.6m.2 0h.6m2 0h.6m-.2 0h.6m.8 0h.6m-.6 0h.6m.2 0h.6m-.6 0h.6m.8 0h.6m1.8 0h.6m.6 0h.6m.6 0h.6m-.6 0h.6m1.2 0h.6m-.4 0h.6m-.4 0h.6m-.2 0h.6m1 0h.6m-.2 0h.6m-17.8 .2h.6m-.4 0h.6m-.4 0h.6m0 0h.6m-.4 0h.6m0 0h.6m-.2 0h.6m-.6 0h.6m1.2 0h.6m-.4 0h.6m-.4 0h.6m-.2 0h.6m1.4 0h.6m-.4 0h.6m-.2 0h.6m0 0h.6m-.6 0h.6m2 0h.6m.2 0h.6m.8 0h.6m.6 0h.6m.6 0h.6m-.2 0h.6m1 0h.6m-.6 0h.6m-18.2 .2h.6m-.6 0h.6m-.4 0h.6m-.2 0h.6m.2 0h.6m1.6 0h.6m0 0h.6m-.2 0h.6m1.6 0h.6m0 0h.6m-.2 0h.6m-.2 0h.6m0 0h.6m-.2 0h.6m-.4 0h.6m-.2 0h.6m.2 0h.6m-.4 0h.6m-.4 0h.6m1 0h.6m-.2 0h.6m0 0h.6m.6 0h.6m.2 0h.6m-.6 0h.6m-.6 0h.6m.8 0h.6m0 0h.6m-17.4 .2h.6m-.2 0h.6m.4 0h.6m-.4 0h.6m-.2 0h.6m-.2 0h.6m-.2 0h.6m-.6 0h.6m0 0h.6m.8 0h.6m.8 0h.6m.8 0h.6m-.2 0h.6m.4 0h.6m1.8 0h.6m1.2 0h.6m2.2 0h.6m-.4 0h.6m-16.6 .2h.6m-.4 0h.6m-.2 0h.6m1.4 0h.6m-.6 0h.6m-.2 0h.6m-.4 0h.6m-.4 0h.6m1 0h.6m.2 0h.6m-.6 0h.6m-.6 0h.6m-.2 0h.6m0 0h.6m.2 0h.6m-.2 0h.6m-.4 0h.6m-.4 0h.6m.2 0h.6m-.4 0h.6m.4 0h.6m-.4 0h.6m-.6 0h.6m.2 0h.6m2 0h.6m2 0h.6m-11.2 .2h.6m-.2 0h.6m-.6 0h.6m.2 0h.6m-.2 0h.6m1.4 0h.6m-.2 0h.6m0 0h.6m.2 0h.6m.2 0h.6m-.6 0h.6m-.2 0h.6m-.4 0h.6m-.2 0h.6m-.6 0h.6m1 0h.6m-.6 0h.6m-.6 0h.6m-.2 0h.6m-15.6 .2h.6m-.4 0h.6m0 0h.6m.4 0h.6m-.2 0h.6m0 0h.6m0 0h.6m.2 0h.6m.2 0h.6m.8 0h.6m-.6 0h.6m.6 0h.6m-.2 0h.6m1.4 0h.6m1.6 0h.6m2.4 0h.6m-.4 0h.6m-17.2 .2h.6m-.4 0h.6m-.2 0h.6m-.2 0h.6m0 0h.6m.8 0h.6m-.6 0h.6m-.4 0h.6m-.2 0h.6m-.6 0h.6m-.6 0h.6m-.6 0h.6m3 0h.6m3 0h.6m-.4 0h.6m-.2 0h.6m.6 0h.6m-.2 0h.6m.4 0h.6m-.6 0h.6m.4 0h.6m-12.6 .2h.6m.2 0h.6m2 0h.6m-.4 0h.6m2.8 0h.6m0 0h.6m-.2 0h.6m-.2 0h.6m.2 0h.6m-.2 0h.6m.6 0h.6m.4 0h.6m.2 0h.6m-.2 0h.6m0 0h.6m-17.2 .2h.6m.4 0h.6m.6 0h.6m-.4 0h.6m-.6 0h.6m.2 0h.6m-.4 0h.6m.6 0h.6m.8 0h.6m-.4 0h.6m-.4 0h.6m-.2 0h.6m0 0h.6m.4 0h.6m-.6 0h.6m-.2 0h.6m1 0h.6m-.6 0h.6m-.4 0h.6m-.2 0h.6m-.2 0h.6m-.2 0h.6m-.2 0h.6m-.2 0h.6m0 0h.6m-.4 0h.6m-.2 0h.6m0 0h.6m-.4 0h.6m.2 0h.6m0 0h.6m-.2 0h.6m-15.8 .2h.6m.8 0h.6m.6 0h.6m0 0h.6m-.4 0h.6m0 0h.6m.2 0h.6m.2 0h.6m.4 0h.6m.4 0h.6m-.2 0h.6m-.6 0h.6m.2 0h.6m-.6 0h.6m0 0h.6m2.4 0h.6m.6 0h.6m0 0h.6m-.6 0h.6m0 0h.6m-15.8 .2h.6m-.4 0h.6m1.2 0h.6m.6 0h.6m-.2 0h.6m0 0h.6m-.6 0h.6m-.4 0h.6m.6 0h.6m4.6 0h.6m.8 0h.6m1 0h.6m-.4 0h.6m.6 0h.6m.8 0h.6m-18 .2h.6m.2 0h.6m0 0h.6m-.6 0h.6m-.4 0h.6m.4 0h.6m-.6 0h.6m-.4 0h.6m0 0h.6m-.4 0h.6m1.6 0h.6m.2 0h.6m0 0h.6m-.4 0h.6m0 0h.6m0 0h.6m-.4 0h.6m-.6 0h.6m1.2 0h.6m-.4 0h.6m.2 0h.6m-.2 0h.6m-.2 0h.6m-.6 0h.6m.2 0h.6m-.6 0h.6m-.4 0h.6m1 0h.6m-.6 0h.6m-.2 0h.6m-.6 0h.6m1.6 0h.6m-18 .2h.6m-.4 0h.6m-.2 0h.6m.4 0h.6m-.4 0h.6m-.2 0h.6m.2 0h.6m1.6 0h.6m0 0h.6m0 0h.6m0 0h.6m.4 0h.6m-.4 0h.6m1 0h.6m1.8 0h.6m.6 0h.6m-.4 0h.6m-.6 0h.6m-.4 0h.6m-.2 0h.6m-.2 0h.6m0 0h.6m.4 0h.6m-.6 0h.6m-.4 0h.6m-.2 0h.6m-.4 0h.6m-.6 0h.6m-17.6 .2h.6m-.2 0h.6m-.4 0h.6m-.4 0h.6m-.6 0h.6m1 0h.6m-.6 0h.6m-.4 0h.6m-.6 0h.6m0 0h.6m-.4 0h.6m-.6 0h.6m-.4 0h.6m0 0h.6m.4 0h.6m.4 0h.6m.4 0h.6m-.4 0h.6m-.4 0h.6m-.6 0h.6m-.2 0h.6m.2 0h.6m-.2 0h.6m-.4 0h.6m-.4 0h.6m.4 0h.6m-.6 0h.6m.8 0h.6m-.4 0h.6m-.6 0h.6m-.2 0h.6m.2 0h.6m.2 0h.6m.2 0h.6m.2 0h.6m-.2 0h.6m-16.6 .2h.6m.6 0h.6m.2 0h.6m1.4 0h.6m1 0h.6m.2 0h.6m1.4 0h.6m.4 0h.6m-.2 0h.6m1 0h.6m.6 0h.6m.6 0h.6m1.6 0h.6" stroke="#67b896" stroke-width="0.6" stroke-opacity="0.7" fill="none"/>
<rect x="135.20" y="212.70" width="17.80" height="29.70" fill="none" stroke="#5aa184" stroke-width="0.7"/>
<line x1="135.20" y1="239.62" x2="153.00" y2="239.62" stroke="#5aa184" stroke-width="0.7"/>
<line x1="144.10" y1="170.02" x2="144.10" y2="212.70" stroke="#5aa184" stroke-width="0.7"/>
<line x1="144.10" y1="242.40" x2="144.10" y2="242.40" stroke="#5aa184" stroke-width="0.7"/>
<line x1="139.60" y1="170.02" x2="148.60" y2="170.02" stroke="#5aa184" stroke-width="0.7"/>
<line x1="139.60" y1="242.40" x2="148.60" y2="242.40" stroke="#5aa184" stroke-width="0.7"/>
<circle cx="144.10" cy="225.70" r="0.85" fill="#3d7a2a"/>
<rect x="169.40" y="167.66" width="17.80" height="75.74" fill="url(#g4)"/>
<path d="M171.0 168.2h.6m14.6 0h.6m-12 .6h.6m.6 .8h.6m-3.6 .2h.6m-.8 .2h.6m8.8 .4h.6m-.2 .6h.6m-9.2 .4h.6m9 .2h.6m-6.6 .2h.6m3.4 .2h.6m-12.6 .2h.6m4.6 0h.6m-4.2 .2h.6m10.2 0h.6m-6.4 .2h.6m9 0h.6m-1.2 .2h.6m-4 .2h.6m-12.4 .2h.6m.6 0h.6m14.2 .2h.6m-11.6 .2h.6m3.8 0h.6m5.6 0h.6m-7.6 .2h.6m1.4 .6h.6m-9.4 .2h.6m2.6 0h.6m-6 .4h.6m5.8 0h.6m2.8 0h.6m2.4 0h.6m0 0h.6m-11.4 1h.6m7.2 .2h.6m3.4 0h.6m-10 .2h.6m5.6 0h.6m-5.6 .4h.6m6.6 0h.6m-11.2 1h.6m2.4 .4h.6m4.6 .2h.6m.8 .2h.6m-8.2 .2h.6m4.6 0h.6m4.8 .2h.6m-7.2 .2h.6m.8 .8h.6m2.8 0h.6m1 .2h.6m-16 .2h.6m4.6 0h.6m5.8 0h.6m-10.6 .6h.6m10.2 0h.6m3.6 0h.6m-8 .6h.6m-7.2 .2h.6m.4 0h.6m1.2 0h.6m-.6 0h.6m4 0h.6m1 0h.6m3.2 .2h.6m-11 .6h.6m-3 .2h.6m13.6 0h.6m-7.8 .4h.6m-2.4 .2h.6m7 0h.6m-15.8 .2h.6m-.6 0h.6m-.2 0h.6m4.4 .2h.6m2 0h.6m-.4 0h.6m-2.6 .2h.6m.8 .2h.6m6.8 .2h.6m-10.4 .2h.6m-.4 0h.6m-5 .2h.6m0 .2h.6m-.2 0h.6m3.4 .4h.6m6.2 .2h.6m-7.4 .2h.6m3.6 0h.6m1.8 0h.6m-6.8 .2h.6m8.8 0h.6m-16.8 .2h.6m9.2 0h.6m5.4 0h.6m-15.4 .2h.6m2.4 0h.6m.8 .2h.6m-.4 0h.6m9.2 0h.6m-.4 0h.6m-13.2 .2h.6m10.6 .4h.6m2.2 0h.6m-15 .2h.6m2.6 .2h.6m1.6 .4h.6m4.4 0h.6m2.2 0h.6m-.6 0h.6m-2.6 .2h.6m-14 .4h.6m4.4 .2h.6m-5.2 .2h.6m2.2 0h.6m-1.8 .2h.6m1.2 0h.6m6.6 .2h.6m4 0h.6m-12.4 .2h.6m3 .2h.6m8.2 0h.6m-10.2 .4h.6m5.6 .2h.6m.6 0h.6m-14.4 .2h.6m.2 0h.6m5.4 .2h.6m-7.8 .2h.6m11 0h.6m-6.4 .2h.6m.6 .2h.6m1.4 0h.6m-3 .2h.6m5.8 .2h.6m1.8 .2h.6m-15 .2h.6m10.8 0h.6m.8 0h.6m-9 .4h.6m-.4 0h.6m2.8 0h.6m1.6 .2h.6m-11.2 .4h.6m-1.2 .4h.6m15.2 .4h.6m-9.2 .2h.6m1 .2h.6m4 0h.6m-7.2 .2h.6m-1 .2h.6m5.4 0h.6m-4.6 .2h.6m6.4 .4h.6m-16.2 .2h.6m8.4 .2h.6m-9.6 .6h.6m14.4 .2h.6m-2.6 .4h.6m1.6 0h.6m-11 .2h.6m-.2 0h.6m9.8 0h.6m-13 .2h.6m-.8 .2h.6m6.8 0h.6m2.2 0h.6m.2 .2h.6m-9.4 .4h.6m8.8 0h.6m-10.6 1.2h.6m2 0h.6m.8 .2h.6m5 .4h.6m-11 .2h.6m10 .2h.6m-14.2 .2h.6m5.8 0h.6m9.4 0h.6m-13.2 .4h.6m6 0h.6m3.8 0h.6m1 .4h.6m-.4 0h.6m-.6 0h.6m-18 .2h.6m15.4 0h.6m-4 .4h.6m-9.8 .2h.6m1.4 0h.6m8.6 0h.6m-6.6 .2h.6m4 0h.6m-13.2 .4h.6m.2 0h.6m7.6 0h.6m1.2 .2h.6m-2 .2h.6m6.8 0h.6m-9.4 .2h.6m.4 0h.6m-9.2 .2h.6m15 0h.6m-5 .2h.6m.6 0h.6m-.2 0h.6m-13.8 .4h.6m10.8 0h.6m-6.8 .2h.6m-2.6 .2h.6m5.4 .4h.6m0 .2h.6m-.2 0h.6m-5.6 .4h.6m8.8 .2h.6m-13 .2h.6m7.6 .4h.6m4.2 0h.6m-16.2 .2h.6m5.8 0h.6m9.6 0h.6m-12.4 .2h.6m9.4 0h.6m-9 .2h.6m-.6 .2h.6m9.8 0h.6m0 0h.6m-13 .2h.6m0 0h.6m4 0h.6m3.4 0h.6m-7.2 .2h.6m1.4 0h.6m-8.6 .6h.6m1.6 0h.6m5.4 0h.6m2.8 0h.6m1 .4h.6m.8 0h.6m-3 .2h.6m-5.8 .4h.6m-7.6 .2h.6m13.8 .2h.6m-10 .2h.6m2.2 0h.6m-6.4 .2h.6m-2.4 .2h.6m10.8 0h.6m-11.2 .2h.6m-2.6 .6h.6m11.6 0h.6m-9.4 .2h.6m-4.6 .2h.6m1 0h.6m4.4 0h.6m2.2 0h.6m3 0h.6m.4 0h.6m-13.8 .2h.6m3.8 .2h.6m4.8 0h.6m4 0h.6m-11.2 .2h.6m.6 0h.6m3.2 0h.6m1.4 0h.6m1.2 0h.6m-.2 0h.6m-10 .2h.6m4.8 0h.6m-.6 0h.6m6 0h.6m-16.2 .4h.6m5 0h.6m9.4 .2h.6m-15.6 .2h.6m3.8 0h.6m2.6 0h.6m.8 0h.6m-2.8 .2h.6m4.6 .2h.6m-.4 0h.6m-11.2 .2h.6m9 0h.6m.6 0h.6m-9 .2h.6m1.8 .4h.6m-8.2 .6h.6m3.2 .2h.6m-.4 0h.6m.2 0h.6m-2.4 .2h.6m.2 .2h.6m12 0h.6m-9.8 .2h.6m.8 0h.6m1.6 0h.6m-4.8 .2h.6m5 0h.6m-.4 0h.6m-11.6 .2h.6m3.8 0h.6m3.8 0h.6m4.6 0h.6m-16 .2h.6m6.4 0h.6m3.8 0h.6m-.2 0h.6m-.6 0h.6m-11 .2h.6m14.8 0h.6m-.4 0h.6m-11.2 .2h.6m0 0h.6m4.8 0h.6m1.8 0h.6m-12.8 .2h.6m8.6 0h.6m.6 0h.6m2.6 0h.6m-9.6 .2h.6m2 .2h.6m3.8 0h.6m2 .4h.6m-5.8 .2h.6m-1.8 .2h.6m-6.8 .2h.6m6.6 0h.6m-8.2 .2h.6m.4 0h.6m2.4 0h.6m0 0h.6m1.6 0h.6m1.6 0h.6m3.4 0h.6m-6.6 .2h.6m-11.6 .2h.6m1.6 0h.6m6.8 0h.6m-6.4 .2h.6m.2 0h.6m11.8 0h.6m-11.8 .2h.6m3.6 0h.6m-4.8 .4h.6m3.2 0h.6m-10 .2h.6m5.4 0h.6m8 0h.6m-15.6 .2h.6m5.6 0h.6m7.8 0h.6m-9.4 .2h.6m3.8 0h.6m1.4 0h.6m0 0h.6m-2.2 .2h.6m.6 0h.6m3.2 0h.6m-15 .2h.6m.6 0h.6m1.6 0h.6m5 0h.6m1.6 0h.6m1.2 0h.6m0 0h.6m-12.2 .2h.6m3.2 .2h.6m3.8 0h.6m-3 .2h.6m6.8 0h.6m-4.8 .2h.6m2.8 0h.6m-4.8 .2h.6m3.4 0h.6m-12.6 .2h.6m1.2 0h.6m6.8 0h.6m-7.8 .2h.6m0 0h.6m6.8 0h.6m-.2 0h.6m-12.4 .2h.6m-.6 0h.6m4.4 0h.6m2.8 0h.6m2 0h.6m-13.4 .2h.6m.8 0h.6m0 0h.6m-.6 .2h.6m2.2 0h.6m-1.2 .2h.6m2 0h.6m-4.2 .2h.6m5.8 0h.6m1.6 0h.6m0 0h.6m-7.8 .2h.6m6.2 .2h.6m.8 0h.6m-13 .2h.6m4.2 0h.6m9.4 0h.6m-1.8 .2h.6m-.6 0h.6m-11.4 .2h.6m.2 0h.6m3.6 0h.6m.2 0h.6m1.4 0h.6m1 0h.6m1.8 0h.6m-8.8 .4h.6m-8.8 .2h.6m11.6 0h.6m4.6 0h.6m-15.4 .2h.6m5.6 0h.6m.6 0h.6m4 0h.6m-14.6 .2h.6m12.6 0h.6m1.6 0h.6m.2 0h.6m-9.8 .2h.6m1.8 0h.6m-9.2 .2h.6m-.2 0h.6m.8 0h.6m7.2 0h.6m-3.2 .2h.6m-4.2 .2h.6m9.6 0h.6m.8 0h.6m-16.6 .2h.6m.8 0h.6m1.8 .2h.6m1 0h.6m1.6 0h.6m6.2 0h.6m-12.8 .2h.6m8.2 0h.6m.2 0h.6m1.4 0h.6m-12.6 .2h.6m9.4 0h.6m4.6 0h.6m-10.4 .2h.6m3.2 0h.6m.4 0h.6m-11.6 .2h.6m1.4 0h.6m10.4 0h.6m.6 0h.6m-15 .2h.6m1.8 0h.6m2.6 0h.6m.4 0h.6m4.8 0h.6m3.2 0h.6m-15.4 .2h.6m0 0h.6m-.2 0h.6m9.4 0h.6m-10.2 .2h.6m.4 0h.6m11.2 0h.6m-12.8 .2h.6m1.4 0h.6m4 0h.6m-.4 0h.6m3.6 0h.6m-5 .2h.6m.4 0h.6m1 0h.6m-.4 0h.6m.2 0h.6m-15 .2h.6m3 0h.6m-3.8 .2h.6m10.2 0h.6m1.8 0h.6m-10.4 .2h.6m8 0h.6m2.6 0h.6m1 0h.6m-15.6 .2h.6m-.4 0h.6m4 0h.6m-3.4 .2h.6m.4 0h.6m4.8 0h.6m.2 0h.6m.8 0h.6m2.4 0h.6m-12 .2h.6m1.8 0h.6m0 0h.6m-6 .2h.6m7 0h.6m4.2 0h.6m2.6 0h.6m-16 .4h.6m3.2 0h.6m.6 0h.6m2.8 .2h.6m.2 0h.6m1.8 0h.6m-14.4 .2h.6m.2 0h.6m13.8 0h.6m-15 .2h.6m3.8 0h.6m2 0h.6m2.4 0h.6m-.4 0h.6m.6 0h.6m-.6 0h.6m4.8 0h.6m-12 .2h.6m4.4 0h.6m4.4 0h.6m-10.6 .2h.6m1 0h.6m.4 0h.6m-8.2 .2h.6m0 0h.6m2.2 0h.6m1.6 0h.6m1.6 0h.6m2.4 0h.6m-10.4 .2h.6m.8 0h.6m1.2 0h.6m1.8 0h.6m.8 0h.6m4.6 0h.6m0 0h.6m-6.6 .2h.6m3.2 0h.6m.6 0h.6m0 0h.6m-13.6 .2h.6m.8 0h.6m3.6 0h.6m2 0h.6m1.6 0h.6m-12.2 .2h.6m4 0h.6m-.2 0h.6m.4 0h.6m.2 0h.6m2 0h.6m-.4 0h.6m4.6 0h.6m-12 .2h.6m3 0h.6m.2 0h.6m1.6 0h.6m1.2 0h.6m1.6 0h.6m.2 0h.6m-11.8 .2h.6m2.2 0h.6m2 0h.6m4.4 0h.6m-12 .2h.6m1.2 0h.6m-.2 0h.6m.2 0h.6m3 0h.6m-5.2 .2h.6m4.6 0h.6m5.6 0h.6m-16.2 .2h.6m6.8 0h.6m5.2 0h.6m2 0h.6m-15.2 .2h.6m.4 0h.6m0 0h.6m0 0h.6m-.4 0h.6m8.4 0h.6m-10.2 .2h.6m.4 0h.6m4.4 0h.6m.6 0h.6m-9 .2h.6m1 0h.6m2 0h.6m1.4 0h.6m3.8 0h.6m.2 0h.6m-14.4 .2h.6m-.4 0h.6m1 0h.6m4.8 0h.6m7.4 0h.6m-12.6 .2h.6m5 0h.6m-.4 0h.6m3.2 0h.6m-.4 0h.6m3 0h.6m-14.8 .2h.6m2 0h.6m2 0h.6m5.4 0h.6m.8 0h.6m-.4 0h.6m-15.8 .2h.6m-.2 0h.6m-.4 0h.6m1.2 0h.6m0 0h.6m1.6 0h.6m3.8 0h.6m.2 0h.6m1 0h.6m-11.8 .2h.6m2.8 0h.6m.6 0h.6m2.6 0h.6m1.4 0h.6m-10.4 .2h.6m2.6 0h.6m1 0h.6m-.2 0h.6m.8 0h.6m2.2 0h.6m1.8 0h.6m.4 0h.6m.8 0h.6m-11.6 .2h.6m0 0h.6m.2 0h.6m.6 0h.6m-.4 0h.6m1.2 0h.6m0 0h.6m7.6 0h.6m-17.8 .2h.6m.4 0h.6m9.4 0h.6m-.2 0h.6m.2 0h.6m1.6 0h.6m.6 0h.6m.4 0h.6m-14.8 .2h.6m.6 0h.6m7.2 0h.6m1 0h.6m-.4 0h.6m-9.6 .2h.6m-.2 0h.6m2.2 0h.6m3.2 0h.6m-.4 0h.6m0 0h.6m2.8 0h.6m-14.6 .2h.6m1 0h.6m4 0h.6m2.6 0h.6m-11 .2h.6m-.6 0h.6m3 0h.6m-.2 0h.6m2.6 0h.6m.8 0h.6m2.6 0h.6m-11.6 .2h.6m.8 0h.6m.4 0h.6m0 0h.6m.6 0h.6m.4 0h.6m-.2 0h.6m.8 0h.6m-.6 0h.6m1 0h.6m4.2 0h.6m-.6 0h.6m-11.6 .2h.6m.2 0h.6m.8 0h.6m0 0h.6m.4 0h.6m0 0h.6m2.2 0h.6m0 0h.6m3.4 0h.6m-.4 0h.6m1 0h.6m-17.8 .2h.6m.8 0h.6m-.2 0h.6m3.8 0h.6m1 0h.6m1.2 0h.6m-.2 0h.6m0 0h.6m.2 0h.6m-10.8 .2h.6m0 0h.6m4.2 0h.6m.2 0h.6m-.4 0h.6m.8 0h.6m.2 0h.6m-.6 0h.6m.2 0h.6m3.2 0h.6m.4 0h.6m.6 0h.6m-16 .2h.6m-.4 0h.6m3.6 0h.6m4.6 0h.6m3.2 0h.6m.8 0h.6m-17 .2h.6m-.4 0h.6m-.4 0h.6m-.4 0h.6m.2 0h.6m3.2 0h.6m.2 0h.6m.6 0h.6m.4 0h.6m2 0h.6m2.2 0h.6m.8 0h.6m.2 0h.6m-13.2 .2h.6m2.4 0h.6m1.6 0h.6m-.6 0h.6m-.2 0h.6m.6 0h.6m.8 0h.6m.6 0h.6m1.2 0h.6m0 0h.6m-15.2 .2h.6m.4 0h.6m.8 0h.6m0 0h.6m2 0h.6m-.6 0h.6m2.6 0h.6m-.2 0h.6m-.2 0h.6m.2 0h.6m-.6 0h.6m.4 0h.6m4.2 0h.6m-.4 0h.6m-.2 0h.6m-17 .2h.6m1.2 0h.6m.6 0h.6m2 0h.6m1.2 0h.6m.8 0h.6m1 0h.6m-.2 0h.6m.4 0h.6m-.4 0h.6m.4 0h.6m-.4 0h.6m-.4 0h.6m-.2 0h.6m0 0h.6m-.2 0h.6m.2 0h.6m.6 0h.6m-18 .2h.6m-.6 0h.6m1.4 0h.6m-.6 0h.6m.2 0h.6m.2 0h.6m0 0h.6m1.2 0h.6m-.2 0h.6m.4 0h.6m1.4 0h.6m-.6 0h.6m.2 0h.6m1.6 0h.6m.8 0h.6m-.6 0h.6m1.2 0h.6m-16.2 .2h.6m.6 0h.6m.4 0h.6m.2 0h.6m-.4 0h.6m3 0h.6m.4 0h.6m2 0h.6m1.2 0h.6m.4 0h.6m-.2 0h.6m0 0h.6m-.4 0h.6m-14.2 .2h.6m.2 0h.6m.2 0h.6m-.2 0h.6m-.2 0h.6m1 0h.6m1 0h.6m-.4 0h.6m-.2 0h.6m-.4 0h.6m1.6 0h.6m-.6 0h.6m.2 0h.6m-.4 0h.6m0 0h.6m1.2 0h.6m-.6 0h.6m2.6 0h.6m-.4 0h.6m.4 0h.6m-17.8 .2h.6m.8 0h.6m0 0h.6m.2 0h.6m.4 0h.6m.4 0h.6m.2 0h.6m-.4 0h.6m2.2 0h.6m-.4 0h.6m-.2 0h.6m1.6 0h.6m.4 0h.6m2.6 0h.6m-16 .2h.6m-.4 0h.6m-.4 0h.6m0 0h.6m.4 0h.6m0 0h.6m1.6 0h.6m1.4 0h.6m0 0h.6m-.2 0h.6m0 0h.6m-.4 0h.6m-.4 0h.6m-.2 0h.6m-.2 0h.6m-.4 0h.6m-.6 0h.6m.8 0h.6m-.4 0h.6m1.4 0h.6m-.2 0h.6m.4 0h.6m.4 0h.6m.2 0h.6m-.4 0h.6m-17.8 .2h.6m-.6 0h.6m.6 0h.6m.2 0h.6m1 0h.6m-.6 0h.6m.4 0h.6m0 0h.6m-.4 0h.6m-.4 0h.6m.2 0h.6m.2 0h.6m.4 0h.6m1.6 0h.6m2 0h.6m0 0h.6m-.4 0h.6m.6 0h.6m1.2 0h.6m-.6 0h.6m-17.2 .2h.6m2.4 0h.6m-.6 0h.6m1 0h.6m1 0h.6m.6 0h.6m-.6 0h.6m1.6 0h.6m.4 0h.6m.4 0h.6m.2 0h.6m1.8 0h.6m-.2 0h.6m0 0h.6m-.2 0h.6m-.6 0h.6m-15.4 .2h.6m.6 0h.6m-.2 0h.6m1.2 0h.6m0 0h.6m1 0h.6m-.2 0h.6m-.4 0h.6m-.6 0h.6m1 0h.6m.6 0h.6m0 0h.6m-.4 0h.6m1 0h.6m.8 0h.6m0 0h.6m-.4 0h.6m-.2 0h.6m-.4 0h.6m0 0h.6m.2 0h.6m-17.8 .2h.6m.6 0h.6m.2 0h.6m.2 0h.6m.6 0h.6m1 0h.6m0 0h.6m.2 0h.6m1.4 0h.6m-.6 0h.6m.8 0h.6m-.4 0h.6m.8 0h.6m0 0h.6m-.4 0h.6m-.2 0h.6m0 0h.6m-.6 0h.6m.6 0h.6m.6 0h.6m0 0h.6m.2 0h.6m-17.2 .2h.6m.4 0h.6m-.6 0h.6m2 0h.6m-.4 0h.6m-.4 0h.6m-.2 0h.6m-.4 0h.6m-.4 0h.6m-.4 0h.6m-.6 0h.6m.8 0h.6m-.4 0h.6m2 0h.6m-.4 0h.6m3.2 0h.6m-.6 0h.6m-.2 0h.6m-.2 0h.6m-.4 0h.6m1 0h.6m.2 0h.6m-17.6 .2h.6m-.4 0h.6m-.4 0h.6m-.4 0h.6m0 0h.6m-.2 0h.6m-.4 0h.6m-.4 0h.6m-.6 0h.6m1 0h.6m-.6 0h.6m-.2 0h.6m-.4 0h.6m0 0h.6m1 0h.6m1.4 0h.6m0 0h.6m0 0h.6m-.2 0h.6m.2 0h.6m-.6 0h.6m-.4 0h.6m-.6 0h.6m.2 0h.6m-.6 0h.6m.2 0h.6m-.2 0h.6m.2 0h.6m-.2 0h.6m.4 0h.6m-.4 0h.6m-.4 0h.6m-.4 0h.6m-.2 0h.6m-.4 0h.6m-17 .2h.6m-.4 0h.6m-.2 0h.6m.2 0h.6m0 0h.6m.4 0h.6m-.4 0h.6m-.6 0h.6m-.4 0h.6m-.6 0h.6m.6 0h.6m-.2 0h.6m-.4 0h.6m-.4 0h.6m-.6 0h.6m-.4 0h.6m.4 0h.6m-.2 0h.6m.4 0h.6m-.4 0h.6m-.6 0h.6m-.2 0h.6m2.6 0h.6m-.4 0h.6m.8 0h.6m.4 0h.6m-.6 0h.6m1.2 0h.6m-.6 0h.6m-17 .2h.6m0 0h.6m-.2 0h.6m-.6 0h.6m-.6 0h.6m0 0h.6m-.4 0h.6m.6 0h.6m-.6 0h.6m-.6 0h.6m-.4 0h.6m-.4 0h.6m-.4 0h.6m.2 0h.6m-.6 0h.6m.6 0h.6m.4 0h.6m-.4 0h.6m-.4 0h.6m-.2 0h.6m-.6 0h.6m.4 0h.6m-.4 0h.6m-.2 0h.6m-.4 0h.6m-.6 0h.6m-.4 0h.6m0 0h.6m-.6 0h.6m-.4 0h.6m1 0h.6m-.6 0h.6m2.4 0h.6m-.6 0h.6m1.2 0h.6m-17.2 .2h.6m.2 0h.6m-.4 0h.6m.2 0h.6m-.6 0h.6m-.4 0h.6m1 0h.6m-.2 0h.6m1.8 0h.6m-.4 0h.6m-.6 0h.6m-.2 0h.6m0 0h.6m.2 0h.6m0 0h.6m-.4 0h.6m.2 0h.6m-.4 0h.6m.2 0h.6m-.4 0h.6m0 0h.6m.6 0h.6m-.4 0h.6m1.4 0h.6m.4 0h.6m-.4 0h.6m-.6 0h.6m-16 .2h.6m-.4 0h.6m-.2 0h.6m.2 0h.6m0 0h.6m-.6 0h.6m-.4 0h.6m-.2 0h.6m-.4 0h.6m.6 0h.6m.4 0h.6m.6 0h.6m.2 0h.6m-.2 0h.6m-.4 0h.6m1 0h.6m.2 0h.6m0 0h.6m1 0h.6m.2 0h.6m-.2 0h.6m-.6 0h.6m-.4 0h.6m.4 0h.6m-.4 0h.6m-.4 0h.6m-.6 0h.6m-17 .2h.6m-.4 0h.6m-.6 0h.6m-.4 0h.6m-.6 0h.6m0 0h.6m-.2 0h.6m.2 0h.6m-.4 0h.6m-.2 0h.6m-.6 0h.6m-.2 0h.6m.2 0h.6m-.2 0h.6m-.4 0h.6m0 0h.6m0 0h.6m-.4 0h.6m-.6 0h.6m-.2 0h.6m-.6 0h.6m-.4 0h.6m-.4 0h.6m-.2 0h.6m-.6 0h.6m.2 0h.6m-.2 0h.6m-.4 0h.6m-.6 0h.6m.2 0h.6m0 0h.6m-.2 0h.6m-.6 0h.6m0 0h.6m0 0h.6m-.4 0h.6m0 0h.6m-.6 0h.6m0 0h.6m0 0h.6m-.4 0h.6m.2 0h.6m0 0h.6m-.2 0h.6m0 0h.6m-.4 0h.6m.4 0h.6m-.4 0h.6m-17.8 .2h.6m-.4 0h.6m1 0h.6m0 0h.6m-.6 0h.6m-.4 0h.6m-.6 0h.6m-.4 0h.6m-.2 0h.6m1.4 0h.6m.4 0h.6m-.4 0h.6m-.4 0h.6m-.4 0h.6m-.4 0h.6m-.4 0h.6m-.4 0h.6m-.2 0h.6m-.6 0h.6m-.4 0h.6m-.4 0h.6m-.6 0h.6m0 0h.6m-.6 0h.6m-.2 0h.6m0 0h.6m.4 0h.6m-.4 0h.6m-.6 0h.6m.2 0h.6m-.6 0h.6m.6 0h.6m-.4 0h.6m-.4 0h.6m.2 0h.6m-.4 0h.6m-.4 0h.6m-.4 0h.6m-.4 0h.6m-.2 0h.6m0 0h.6m-.2 0h.6m-16.8 .2h.6m.4 0h.6m1.6 0h.6m-.4 0h.6m-.4 0h.6m.4 0h.6m-.4 0h.6m0 0h.6m-.2 0h.6m-.2 0h.6m-.4 0h.6m-.4 0h.6m-.4 0h.6m-.2 0h.6m-.4 0h.6m-.2 0h.6m-.6 0h.6m-.4 0h.6m.6 0h.6m-.4 0h.6m.8 0h.6m-.4 0h.6m0 0h.6m-.4 0h.6m-.6 0h.6m-.2 0h.6m-.2 0h.6m0 0h.6m-.4 0h.6m-.4 0h.6m-.4 0h.6m1.6 0h.6m-.2 0h.6m0 0h.6m-18 .2h.6m-.6 0h.6m-.4 0h.6m-.6 0h.6m-.4 0h.6m-.2 0h.6m-.2 0h.6m.6 0h.6m-.6 0h.6m-.6 0h.6m.2 0h.6m-.4 0h.6m-.4 0h.6m-.6 0h.6m-.2 0h.6m0 0h.6m-.6 0h.6m0 0h.6m-.4 0h.6m-.4 0h.6m-.4 0h.6m.6 0h.6m.2 0h.6m-.2 0h.6m-.6 0h.6m1.8 0h.6m1 0h.6m.6 0h.6m-.6 0h.6m-.4 0h.6m-.4 0h.6m-.6 0h.6m-.2 0h.6m0 0h.6m-.6 0h.6m.2 0h.6m0 0h.6m-.4 0h.6m-.2 0h.6m-.4 0h.6m-.6 0h.6m-.2 0h.6m-.6 0h.6m-18.2 .2h.6m-.6 0h.6m1 0h.6m-.4 0h.6m-.2 0h.6m-.2 0h.6m.2 0h.6m-.6 0h.6m-.6 0h.6m-.4 0h.6m.2 0h.6m-.4 0h.6m-.6 0h.6m-.4 0h.6m-.2 0h.6m-.6 0h.6m-.4 0h.6m-.2 0h.6m0 0h.6m-.6 0h.6m-.4 0h.6m.2 0h.6m-.4 0h.6m-.4 0h.6m-.4 0h.6m-.2 0h.6m-.4 0h.6m-.6 0h.6m-.4 0h.6m.2 0h.6m-.4 0h.6m-.4 0h.6m-.4 0h.6m-.6 0h.6m.4 0h.6m0 0h.6m-.4 0h.6m-.4 0h.6m-.6 0h.6m-.4 0h.6m-.6 0h.6m-.2 0h.6m.4 0h.6m.4 0h.6m0 0h.6m-.2 0h.6m-.6 0h.6m-.2 0h.6m.8 0h.6m-18.2 .2h.6m-.2 0h.6m-.4 0h.6m0 0h.6m-.4 0h.6m-.4 0h.6m.2 0h.6m-.4 0h.6m0 0h.6m-.6 0h.6m-.4 0h.6m-.2 0h.6m-.4 0h.6m-.4 0h.6m-.6 0h.6m-.2 0h.6m-.4 0h.6m0 0h.6m.2 0h.6m-.4 0h.6m-.4 0h.6m-.4 0h.6m-.4 0h.6m0 0h.6m-.6 0h.6m-.6 0h.6m-.2 0h.6m-.4 0h.6m-.6 0h.6m-.6 0h.6m0 0h.6m-.4 0h.6m1.8 0h.6m.4 0h.6m.8 0h.6m-.2 0h.6m-.4 0h.6m-.4 0h.6m0 0h.6m-.6 0h.6m-.2 0h.6m-.6 0h.6m0 0h.6m.6 0h.6m-.4 0h.6m-17.6 .2h.6m-.2 0h.6m-.4 0h.6m.8 0h.6m-.6 0h.6m-.6 0h.6m-.4 0h.6m-.4 0h.6m-.6 0h.6m.8 0h.6m.4 0h.6m1.2 0h.6m-.4 0h.6m.2 0h.6m-.6 0h.6m-.4 0h.6m-.2 0h.6m-.2 0h.6m-.2 0h.6m-.6 0h.6m1.2 0h.6m-.6 0h.6m0 0h.6m0 0h.6m-.6 0h.6m-.4 0h.6m-.6 0h.6m0 0h.6m-.2 0h.6m-.4 0h.6m-.6 0h.6m-.4 0h.6m-.6 0h.6m.2 0h.6m0 0h.6m-.4 0h.6m-.4 0h.6m.8 0h.6m-17 .2h.6m0 0h.6m-.6 0h.6m.2 0h.6m.2 0h.6m-.6 0h.6m-.4 0h.6m-.2 0h.6m-.4 0h.6m-.4 0h.6m0 0h.6m-.6 0h.6m-.2 0h.6m-.2 0h.6m.4 0h.6m-.4 0h.6m-.6 0h.6m0 0h.6m-.4 0h.6m-.4 0h.6m-.4 0h.6m-.4 0h.6m-.2 0h.6m.4 0h.6m-.4 0h.6m-.2 0h.6m-.4 0h.6m-.6 0h.6m0 0h.6m0 0h.6m-.4 0h.6m-.2 0h.6m-.4 0h.6m-.2 0h.6m0 0h.6m-.4 0h.6m-.6 0h.6m-.6 0h.6m0 0h.6m-.4 0h.6m-.2 0h.6m-.4 0h.6m-.4 0h.6m-.2 0h.6m-.4 0h.6m-.2 0h.6m-.6 0h.6m-.2 0h.6m-.2 0h.6m-.4 0h.6m-15.8 .2h.6m.8 0h.6m0 0h.6m.8 0h.6m-.6 0h.6m-.6 0h.6m0 0h.6m-.6 0h.6m-.2 0h.6m-.4 0h.6m-.4 0h.6m.2 0h.6m-.4 0h.6m-.6 0h.6m.6 0h.6m-.4 0h.6m-.4 0h.6m-.4 0h.6m2.4 0h.6m.8 0h.6m.6 0h.6m-.4 0h.6m-.4 0h.6m-.2 0h.6m.2 0h.6m-.4 0h.6" stroke="#8eaed3" stroke-width="0.6" stroke-opacity="0.7" fill="none"/>
<rect x="169.40" y="224.77" width="17.80" height="17.63" fill="none" stroke="#7c99b9" stroke-width="0.7"/>
<line x1="169.40" y1="240.54" x2="187.20" y2="240.54" stroke="#7c99b9" stroke-width="0.7"/>
<line x1="178.30" y1="200.64" x2="178.30" y2="224.77" stroke="#7c99b9" stroke-width="0.7"/>
<line x1="178.30" y1="242.40" x2="178.30" y2="242.40" stroke="#7c99b9" stroke-width="0.7"/>
<line x1="173.80" y1="200.64" x2="182.80" y2="200.64" stroke="#7c99b9" stroke-width="0.7"/>
<line x1="173.80" y1="242.40" x2="182.80" y2="242.40" stroke="#7c99b9" stroke-width="0.7"/>
<circle cx="178.30" cy="230.34" r="0.85" fill="#3d7a2a"/>
<rect x="203.50" y="162.09" width="17.80" height="81.31" fill="url(#g5)"/>
<path d="M207.0 162.6h.6m6.2 0h.6m-2.8 .6h.6m-4.8 1.2h.6m12.6 .2h.6m-15.6 .2h.6m-2 .6h.6m5.6 .4h.6m.8 .2h.6m-8 .2h.6m2.4 .4h.6m-2.8 .4h.6m6.4 .2h.6m-2.8 .4h.6m-.4 0h.6m-4.6 .4h.6m.6 .4h.6m-2.6 .2h.6m8.8 .2h.6m-11.8 .2h.6m3.8 .2h.6m5 .2h.6m-10.4 .4h.6m1.4 0h.6m-2.2 .2h.6m-1.2 .2h.6m1 .4h.6m8 0h.6m-9 .2h.6m1.2 0h.6m9 0h.6m-11.2 .2h.6m-3 .2h.6m2.2 0h.6m7 0h.6m-4.2 .4h.6m-.2 0h.6m-2.4 .2h.6m-4 .2h.6m.4 0h.6m-3.6 .2h.6m3.4 0h.6m-1.6 .4h.6m3.8 .2h.6m9 .4h.6m-15 .2h.6m-2 .2h.6m2.8 0h.6m.4 0h.6m9.6 0h.6m-6.4 .4h.6m-6.8 .6h.6m11.8 0h.6m-.8 .2h.6m-10 .4h.6m-5.4 .2h.6m3 .2h.6m9.8 .6h.6m-5.4 1.2h.6m5 0h.6m-5.2 .2h.6m-.2 0h.6m2.4 .2h.6m-11.4 .2h.6m10 .2h.6m-15 .4h.6m.8 .2h.6m12.6 .4h.6m-5 1.4h.6m5 .2h.6m-13 .2h.6m-.4 .2h.6m-2.4 .2h.6m9.2 0h.6m1.8 0h.6m-1 .6h.6m-10.8 .2h.6m1 .4h.6m3.2 0h.6m.2 0h.6m-9.4 .2h.6m4.2 .4h.6m.6 0h.6m1.6 0h.6m6 0h.6m-2.2 1h.6m-11.4 .2h.6m8.2 0h.6m-3.8 .2h.6m-8.2 .4h.6m-.4 0h.6m5.6 .4h.6m3 1.2h.6m-4.4 .2h.6m3.6 .2h.6m-.8 .2h.6m-10 .2h.6m5.6 .4h.6m-7.8 .4h.6m11.4 .2h.6m-13.8 .4h.6m12.4 0h.6m-13.4 .4h.6m3.8 .4h.6m1.8 .2h.6m.8 .8h.6m-3 .8h.6m1.6 .2h.6m-4 .4h.6m3.8 .2h.6m3.6 0h.6m-9.8 .4h.6m6.8 0h.6m-2.6 .2h.6m-9.8 .4h.6m2 .2h.6m-3.6 .6h.6m15 0h.6m-.8 1.4h.6m-14.6 .4h.6m2.4 .4h.6m6.8 0h.6m3 0h.6m-15.4 .4h.6m5.2 .2h.6m5.4 .2h.6m-10.8 .2h.6m-2.6 .6h.6m5.4 0h.6m-1.8 .2h.6m2 .2h.6m1.6 0h.6m-9.8 .2h.6m4 .8h.6m-.4 0h.6m-4.6 .2h.6m2 0h.6m3.6 0h.6m-3 .2h.6m5.6 .2h.6m-1.2 .2h.6m-10 .2h.6m5.2 .2h.6m6.2 0h.6m-4 .4h.6m-5 .2h.6m9 0h.6m-13.4 .4h.6m4.6 0h.6m-2 .2h.6m-8.4 .4h.6m-.4 0h.6m13 0h.6m-5.6 .2h.6m-8.4 .8h.6m8.4 0h.6m-6 .2h.6m5.4 0h.6m-2.2 .6h.6m-8 .8h.6m6.4 .2h.6m-7 .4h.6m3.2 .6h.6m-5.2 .2h.6m3.4 0h.6m8.6 .4h.6m-13.4 .2h.6m4.6 0h.6m-.2 0h.6m5.4 0h.6m-5 .2h.6m2.8 0h.6m2.6 0h.6m-9.8 .2h.6m1 .2h.6m.4 0h.6m2 0h.6m-9.8 .2h.6m12.4 0h.6m-3.4 .2h.6m2.2 0h.6m-.4 0h.6m-6.8 .2h.6m-6 .6h.6m-.8 .2h.6m.6 0h.6m3.2 0h.6m1.6 .2h.6m-.2 .4h.6m0 0h.6m2 0h.6m-6.4 .4h.6m-4.4 .2h.6m-3.6 .2h.6m8.6 0h.6m-10.2 .2h.6m-.6 0h.6m6.2 0h.6m.6 0h.6m-.6 .4h.6m-8.6 .2h.6m1 0h.6m1.6 .2h.6m2.2 0h.6m8.2 0h.6m-3.8 .2h.6m-12 .2h.6m3.4 .2h.6m-1.6 .2h.6m-4.6 .4h.6m1.4 .2h.6m2.4 .4h.6m-4.2 .2h.6m0 0h.6m4.8 0h.6m1 0h.6m-.4 0h.6m-.2 .2h.6m-6.4 .2h.6m-4.4 .2h.6m14.2 0h.6m-13.2 .4h.6m0 0h.6m-3.8 .2h.6m4 0h.6m4.6 0h.6m-12 .2h.6m4.6 .2h.6m-.2 0h.6m-1 .6h.6m8.4 0h.6m-11.6 .4h.6m-4 .4h.6m1 0h.6m10.8 0h.6m-13 .2h.6m6.6 0h.6m4.6 0h.6m3.4 0h.6m-15.4 .2h.6m7.8 0h.6m-10 .2h.6m2.4 0h.6m2.2 0h.6m5.8 .2h.6m-12.4 .4h.6m2.8 0h.6m4.4 0h.6m-4.8 .2h.6m3.4 0h.6m7.2 0h.6m-14.8 .2h.6m1.8 0h.6m8.8 0h.6m.4 0h.6m.8 .2h.6m-.4 0h.6m-11.2 .2h.6m4.4 .2h.6m.6 0h.6m3.4 0h.6m-1.4 .2h.6m-10.2 .4h.6m-3.6 .2h.6m4 0h.6m3.8 0h.6m1 .4h.6m-15 .2h.6m3.6 0h.6m9.4 0h.6m1.2 0h.6m-7.6 .2h.6m4.8 0h.6m-13.4 .2h.6m6.4 0h.6m-8 .2h.6m2.2 0h.6m7 0h.6m-6.2 .2h.6m7.2 .4h.6m-5 .2h.6m-2 .2h.6m3.4 0h.6m-.2 0h.6m3.6 0h.6m-10.2 .2h.6m1 0h.6m2 0h.6m-3.4 .2h.6m-6.2 .4h.6m12 0h.6m.4 0h.6m.2 0h.6m-8 .2h.6m2.4 .2h.6m2.2 0h.6m1.2 0h.6m-12.6 .2h.6m-4.8 .2h.6m.4 0h.6m9 0h.6m-.4 0h.6m-11.4 .2h.6m1.8 0h.6m1 0h.6m7.4 0h.6m-12.8 .2h.6m11.2 .2h.6m-6.4 .2h.6m1.8 0h.6m1.8 .2h.6m-10.6 .2h.6m11.2 0h.6m2.8 0h.6m-16.8 .2h.6m6 0h.6m4 0h.6m4.4 0h.6m-16.2 .2h.6m-.2 0h.6m4.8 0h.6m8 0h.6m-11 .2h.6m4.4 0h.6m2.8 0h.6m-13 .2h.6m2.4 0h.6m-.2 0h.6m-.4 0h.6m.6 0h.6m2.6 0h.6m3.2 0h.6m3.2 0h.6m-15.4 .2h.6m.4 0h.6m4.8 0h.6m1 0h.6m-4.2 .2h.6m3.2 0h.6m5.2 .2h.6m-12 .2h.6m.6 0h.6m0 0h.6m3.6 .2h.6m2.2 0h.6m.2 .2h.6m-12.6 .2h.6m2.8 .4h.6m4.2 0h.6m-4.2 .2h.6m-6.8 .4h.6m15.2 0h.6m-16.2 .2h.6m1.2 0h.6m2.8 0h.6m-3.8 .2h.6m7.4 .2h.6m-11.6 .4h.6m11.8 0h.6m.4 0h.6m-4.8 .4h.6m3.4 0h.6m.4 0h.6m-8 .2h.6m1.2 0h.6m8.2 0h.6m-13.2 .2h.6m5 0h.6m1 0h.6m-10.2 .2h.6m8.8 0h.6m.6 0h.6m-13.2 .2h.6m.4 0h.6m5.6 .2h.6m-3.6 .2h.6m-5.2 .2h.6m5 0h.6m2.8 0h.6m4.2 0h.6m.6 0h.6m-7 .2h.6m.4 0h.6m6.8 0h.6m-12 .2h.6m7.6 .2h.6m1.8 0h.6m-6.4 .2h.6m5.4 0h.6m-16.4 .2h.6m14.8 0h.6m-11.2 .2h.6m3 0h.6m-7.8 .2h.6m8.4 0h.6m-7.8 .2h.6m1.2 0h.6m4 0h.6m-3.2 .2h.6m2.6 .2h.6m3.4 0h.6m1.8 0h.6m-5.4 .2h.6m.8 0h.6m2.2 0h.6m-16.4 .2h.6m.2 0h.6m3.8 0h.6m5.2 .2h.6m.6 0h.6m1 0h.6m-5.6 .2h.6m-.4 .2h.6m3.4 0h.6m-3.8 .2h.6m6 0h.6m-16.6 .2h.6m5.8 0h.6m.2 0h.6m.2 0h.6m1.8 0h.6m0 0h.6m2.8 .2h.6m.6 0h.6m-13.2 .2h.6m1 0h.6m5.8 0h.6m3.4 0h.6m1 0h.6m-17.8 .2h.6m8.2 0h.6m4.2 0h.6m0 0h.6m-13.6 .2h.6m10.6 0h.6m3.8 0h.6m-8 .2h.6m3.6 0h.6m2 0h.6m-16 .2h.6m0 0h.6m1.6 0h.6m3.2 0h.6m5.2 0h.6m1.4 0h.6m.6 0h.6m-8 .2h.6m2 0h.6m2 0h.6m2 0h.6m-17.8 .2h.6m1 0h.6m4.4 0h.6m7.2 0h.6m1.6 0h.6m-13.2 .2h.6m1.8 0h.6m3.8 0h.6m2.6 0h.6m-4.8 .2h.6m3.6 0h.6m-10.4 .2h.6m6.2 0h.6m1.2 0h.6m-13.2 .2h.6m2 0h.6m10.8 0h.6m-.2 0h.6m-11.4 .2h.6m11.8 0h.6m-16.6 .2h.6m-.2 0h.6m12 0h.6m-14 .2h.6m-.2 0h.6m4.4 0h.6m11.2 0h.6m-17 .2h.6m.2 0h.6m2.2 0h.6m.4 0h.6m2.8 0h.6m5.8 0h.6m-13.8 .2h.6m4.4 0h.6m-.4 0h.6m1.6 0h.6m2 0h.6m2.6 0h.6m-15 .2h.6m2 0h.6m2.8 0h.6m2.6 0h.6m4 0h.6m.4 0h.6m1 0h.6m-.6 0h.6m-.2 0h.6m-16.2 .2h.6m-.4 0h.6m1.6 0h.6m2 0h.6m1 0h.6m1 0h.6m-.2 0h.6m.2 0h.6m1.2 0h.6m2.4 0h.6m-.2 0h.6m-15.6 .2h.6m-.4 0h.6m5.6 0h.6m1.4 0h.6m2.6 0h.6m.8 0h.6m-14.2 .2h.6m.2 0h.6m0 0h.6m1 0h.6m.2 0h.6m.6 0h.6m.2 0h.6m-.4 0h.6m1.4 0h.6m.4 0h.6m.8 0h.6m.2 0h.6m-.2 0h.6m2 0h.6m.2 0h.6m-14.4 .2h.6m1.2 0h.6m-.2 0h.6m-.6 0h.6m.8 0h.6m.6 0h.6m4.2 0h.6m.2 0h.6m-.4 0h.6m1.6 0h.6m.2 0h.6m-16.2 .2h.6m1 0h.6m1 0h.6m-.2 0h.6m-.4 0h.6m8 0h.6m-.4 0h.6m3.4 0h.6m.2 0h.6m-17.2 .2h.6m1.4 0h.6m1 0h.6m1.2 0h.6m-.4 0h.6m-.2 0h.6m.6 0h.6m1.6 0h.6m-.4 0h.6m-.2 0h.6m1.2 0h.6m.6 0h.6m-.2 0h.6m.6 0h.6m-.2 0h.6m1.2 0h.6m-16.4 .2h.6m.8 0h.6m.6 0h.6m-.4 0h.6m1.2 0h.6m-.4 0h.6m1 0h.6m.6 0h.6m.4 0h.6m-.2 0h.6m.6 0h.6m-.4 0h.6m-.4 0h.6m1.6 0h.6m1 0h.6m-.2 0h.6m-12.4 .2h.6m-.4 0h.6m-.2 0h.6m-.4 0h.6m0 0h.6m0 0h.6m1.2 0h.6m-.4 0h.6m4.2 0h.6m1.6 0h.6m-15.4 .2h.6m.2 0h.6m-.4 0h.6m1.4 0h.6m2 0h.6m1.2 0h.6m0 0h.6m-.4 0h.6m-.6 0h.6m.2 0h.6m-.2 0h.6m-.2 0h.6m-.6 0h.6m.2 0h.6m5.2 0h.6m-.6 0h.6m-17.8 .2h.6m-.4 0h.6m-.4 0h.6m1 0h.6m.2 0h.6m0 0h.6m-.6 0h.6m.6 0h.6m-.4 0h.6m-.4 0h.6m.4 0h.6m-.2 0h.6m-.2 0h.6m1.2 0h.6m-.4 0h.6m.2 0h.6m1.2 0h.6m1.4 0h.6m.2 0h.6m1.4 0h.6m-17.2 .2h.6m.6 0h.6m-.4 0h.6m-.2 0h.6m.2 0h.6m.4 0h.6m.4 0h.6m-.4 0h.6m-.4 0h.6m.8 0h.6m1 0h.6m0 0h.6m2.4 0h.6m-.6 0h.6m-.2 0h.6m-.2 0h.6m.2 0h.6m1.2 0h.6m.2 0h.6m.2 0h.6m.6 0h.6m-16.6 .2h.6m-.2 0h.6m-.2 0h.6m2.4 0h.6m.2 0h.6m0 0h.6m2.6 0h.6m3 0h.6m1 0h.6m-.4 0h.6m-.6 0h.6m-15.2 .2h.6m0 0h.6m-.2 0h.6m-.2 0h.6m-.6 0h.6m-.6 0h.6m.2 0h.6m2.8 0h.6m-.4 0h.6m-.4 0h.6m1.8 0h.6m-.2 0h.6m.2 0h.6m1.6 0h.6m1 0h.6m.4 0h.6m.2 0h.6m-.6 0h.6m-.4 0h.6m-14 .2h.6m1 0h.6m0 0h.6m.6 0h.6m0 0h.6m1.6 0h.6m-.6 0h.6m0 0h.6m1.2 0h.6m-.6 0h.6m-.4 0h.6m-.4 0h.6m-.4 0h.6m-.6 0h.6m-.4 0h.6m.6 0h.6m-.4 0h.6m-.4 0h.6m.6 0h.6m-.6 0h.6m.2 0h.6m-.4 0h.6m-.2 0h.6m-.2 0h.6m-.6 0h.6m-16.2 .2h.6m0 0h.6m.4 0h.6m-.4 0h.6m-.6 0h.6m.2 0h.6m-.2 0h.6m-.4 0h.6m0 0h.6m-.4 0h.6m-.2 0h.6m0 0h.6m0 0h.6m-.4 0h.6m-.2 0h.6m1.8 0h.6m-.2 0h.6m-.4 0h.6m-.4 0h.6m-.4 0h.6m-.6 0h.6m0 0h.6m0 0h.6m0 0h.6m-.4 0h.6m2 0h.6m0 0h.6m-.4 0h.6m0 0h.6m-16.8 .2h.6m-.6 0h.6m-.2 0h.6m-.6 0h.6m-.2 0h.6m-.4 0h.6m-.4 0h.6m.4 0h.6m-.4 0h.6m-.2 0h.6m-.4 0h.6m-.6 0h.6m.4 0h.6m0 0h.6m-.4 0h.6m-.6 0h.6m0 0h.6m1.2 0h.6m.2 0h.6m-.6 0h.6m-.2 0h.6m.4 0h.6m0 0h.6m.2 0h.6m-.2 0h.6m1 0h.6m-.4 0h.6m-.2 0h.6m-.6 0h.6m-.4 0h.6m0 0h.6m-.2 0h.6m-.2 0h.6m-.6 0h.6m.4 0h.6m0 0h.6m-.4 0h.6m-17.8 .2h.6m-.2 0h.6m-.2 0h.6m-.4 0h.6m-.4 0h.6m.2 0h.6m-.2 0h.6m0 0h.6m.6 0h.6m.2 0h.6m0 0h.6m-.6 0h.6m-.4 0h.6m-.4 0h.6m1.4 0h.6m-.4 0h.6m.6 0h.6m-.2 0h.6m-.6 0h.6m.6 0h.6m1.2 0h.6m-.2 0h.6m-.4 0h.6m-.4 0h.6m-.4 0h.6m-.4 0h.6m-.6 0h.6m-.2 0h.6m-.4 0h.6m-.6 0h.6m-.4 0h.6m-.6 0h.6m-.2 0h.6m-.4 0h.6m-.4 0h.6m-.2 0h.6m-.4 0h.6m0 0h.6m-17.6 .2h.6m0 0h.6m-.6 0h.6m.2 0h.6m-.6 0h.6m-.4 0h.6m-.4 0h.6m0 0h.6m-.4 0h.6m-.4 0h.6m-.2 0h.6m0 0h.6m-.4 0h.6m.2 0h.6m-.4 0h.6m.4 0h.6m-.4 0h.6m-.2 0h.6m-.2 0h.6m.2 0h.6m-.4 0h.6m-.4 0h.6m-.6 0h.6m-.4 0h.6m-.6 0h.6m-.4 0h.6m-.6 0h.6m-.4 0h.6m-.6 0h.6m-.2 0h.6m.2 0h.6m.2 0h.6m.6 0h.6m-.6 0h.6m-.6 0h.6m-.2 0h.6m0 0h.6m-.6 0h.6m-.2 0h.6m-.6 0h.6m.2 0h.6m-.2 0h.6m0 0h.6m-.4 0h.6m.8 0h.6m-.6 0h.6m-.2 0h.6m-.4 0h.6m-16.8 .2h.6m-.4 0h.6m-.2 0h.6m-.4 0h.6m-.6 0h.6m-.4 0h.6m-.6 0h.6m-.4 0h.6m-.6 0h.6m-.4 0h.6m.6 0h.6m-.4 0h.6m-.2 0h.6m-.2 0h.6m-.6 0h.6m-.2 0h.6m-.6 0h.6m-.6 0h.6m0 0h.6m-.2 0h.6m-.2 0h.6m-.2 0h.6m-.2 0h.6m-.2 0h.6m-.4 0h.6m-.2 0h.6m-.4 0h.6m-.4 0h.6m-.4 0h.6m-.2 0h.6m-.6 0h.6m0 0h.6m-.4 0h.6m-.4 0h.6m.2 0h.6m-.6 0h.6m.2 0h.6m-.4 0h.6m-.4 0h.6m-.4 0h.6m-.4 0h.6m-.4 0h.6m-.4 0h.6m-.4 0h.6m-.2 0h.6m.2 0h.6m-.4 0h.6m-.6 0h.6m-.4 0h.6m-.4 0h.6m-.4 0h.6m-.4 0h.6m-.4 0h.6m-.4 0h.6m-.4 0h.6m-.4 0h.6m-.6 0h.6m-.6 0h.6m0 0h.6m-.4 0h.6m-.6 0h.6m-.2 0h.6m-18.4 .2h.6m-.4 0h.6m-.6 0h.6m-.4 0h.6m.2 0h.6m-.4 0h.6m-.6 0h.6m-.4 0h.6m0 0h.6m-.4 0h.6m0 0h.6m-.4 0h.6m-.6 0h.6m-.6 0h.6m-.6 0h.6m.6 0h.6m-.6 0h.6m-.6 0h.6m.2 0h.6m-.6 0h.6m0 0h.6m.4 0h.6m-.6 0h.6m-.4 0h.6m-.2 0h.6m-.4 0h.6m-.6 0h.6m.4 0h.6m-.4 0h.6m-.4 0h.6m-.4 0h.6m-.4 0h.6m.2 0h.6m-.6 0h.6m-.4 0h.6m-.4 0h.6m-.4 0h.6m-.4 0h.6m-.2 0h.6m-.6 0h.6m-.4 0h.6m-.2 0h.6m-.6 0h.6m-.4 0h.6m-.6 0h.6m-.4 0h.6m-.6 0h.6m-.4 0h.6m-.2 0h.6m0 0h.6m-.2 0h.6m-.6 0h.6m-.6 0h.6m-.4 0h.6m-.4 0h.6m.6 0h.6m-.2 0h.6m-.4 0h.6m.4 0h.6m-.4 0h.6m-.2 0h.6m-18.2 .2h.6m-.6 0h.6m-.2 0h.6m-.4 0h.6m-.4 0h.6m0 0h.6m-.4 0h.6m.4 0h.6m0 0h.6m-.6 0h.6m-.4 0h.6m-.6 0h.6m-.2 0h.6m-.2 0h.6m.6 0h.6m-.6 0h.6m-.6 0h.6m.2 0h.6m-.4 0h.6m-.2 0h.6m-.6 0h.6m-.4 0h.6m0 0h.6m-.6 0h.6m-.4 0h.6m-.2 0h.6m-.2 0h.6m-.4 0h.6m-.6 0h.6m-.6 0h.6m-.4 0h.6m-.6 0h.6m-.6 0h.6m-.2 0h.6m-.2 0h.6m-.4 0h.6m.2 0h.6m0 0h.6m-.6 0h.6m-.4 0h.6m-.2 0h.6m-.4 0h.6m-.4 0h.6m-.4 0h.6m-.6 0h.6m-.4 0h.6m-.4 0h.6m.4 0h.6m-.4 0h.6m-.6 0h.6m-.2 0h.6m-.4 0h.6m-.4 0h.6m-.6 0h.6m-.4 0h.6m0 0h.6m-.6 0h.6m-.4 0h.6m-.6 0h.6m-.2 0h.6m-.4 0h.6m-.2 0h.6m-17.6 .2h.6m0 0h.6m-.4 0h.6m-.2 0h.6m-.4 0h.6m-.2 0h.6m1.2 0h.6m-.6 0h.6m0 0h.6m-.4 0h.6m-.4 0h.6m-.4 0h.6m-.6 0h.6m-.2 0h.6m-.6 0h.6m-.2 0h.6m-.4 0h.6m-.6 0h.6m-.4 0h.6m-.2 0h.6m-.4 0h.6m-.4 0h.6m-.6 0h.6m.4 0h.6m-.6 0h.6m-.4 0h.6m0 0h.6m-.6 0h.6m-.6 0h.6m-.4 0h.6m-.4 0h.6m.8 0h.6m-.4 0h.6m-.6 0h.6m-.4 0h.6m-.6 0h.6m-.2 0h.6m-.4 0h.6m-.4 0h.6m0 0h.6m-.6 0h.6m-.2 0h.6m-.4 0h.6m.2 0h.6m-.6 0h.6m-.6 0h.6m0 0h.6m-.2 0h.6m0 0h.6m.4 0h.6m-.4 0h.6m-.6 0h.6m-.6 0h.6m-.4 0h.6m-.6 0h.6m-.4 0h.6m-.4 0h.6m-.2 0h.6m-.6 0h.6m-.4 0h.6m-17.8 .2h.6m-.6 0h.6m-.2 0h.6m-.2 0h.6m-.6 0h.6m-.2 0h.6m-.4 0h.6m-.4 0h.6m0 0h.6m-.2 0h.6m-.4 0h.6m-.4 0h.6m-.6 0h.6m-.4 0h.6m-.4 0h.6m-.6 0h.6m1 0h.6m-.6 0h.6m0 0h.6m-.6 0h.6m-.4 0h.6m-.4 0h.6m.2 0h.6m-.2 0h.6m-.4 0h.6m-.2 0h.6m-.6 0h.6m-.4 0h.6m-.4 0h.6m-.6 0h.6m-.6 0h.6m-.2 0h.6m0 0h.6m0 0h.6m0 0h.6m-.6 0h.6m0 0h.6m.2 0h.6m-.6 0h.6m-.2 0h.6m-.6 0h.6m.8 0h.6m-.6 0h.6m0 0h.6m-.6 0h.6m-.4 0h.6m-.6 0h.6m-.2 0h.6m-.6 0h.6m-.6 0h.6m-.4 0h.6m-.6 0h.6m-.4 0h.6m.2 0h.6m0 0h.6m-.6 0h.6m-17.6 .2h.6m.6 0h.6m-.4 0h.6m-.4 0h.6m-.4 0h.6m-.6 0h.6m-.4 0h.6m-.4 0h.6m0 0h.6m-.4 0h.6m-.4 0h.6m-.4 0h.6m-.6 0h.6m-.4 0h.6m.2 0h.6m-.4 0h.6m-.4 0h.6m-.4 0h.6m-.6 0h.6m-.4 0h.6m-.6 0h.6m-.6 0h.6m1.2 0h.6m-.2 0h.6m-.6 0h.6m-.2 0h.6m.2 0h.6m-.2 0h.6m-.6 0h.6m-.2 0h.6m-.6 0h.6m-.6 0h.6m.6 0h.6m-.2 0h.6m-.6 0h.6m-.4 0h.6m.2 0h.6m1.6 0h.6m-.6 0h.6m-.4 0h.6m-.4 0h.6m1 0h.6m-.4 0h.6m-.2 0h.6m0 0h.6m-.6 0h.6m-.6 0h.6m-.6 0h.6m-17.6 .2h.6m-.4 0h.6m-.4 0h.6m-.6 0h.6m-.2 0h.6m0 0h.6m-.6 0h.6m-.4 0h.6m.4 0h.6m-.6 0h.6m0 0h.6m-.6 0h.6m-.6 0h.6m-.6 0h.6m-.4 0h.6m-.6 0h.6m.2 0h.6m-.4 0h.6m-.6 0h.6m-.4 0h.6m-.4 0h.6m-.6 0h.6m-.4 0h.6m-.6 0h.6m-.4 0h.6m-.6 0h.6m-.4 0h.6m.4 0h.6m.8 0h.6m-.4 0h.6m-.4 0h.6m.2 0h.6m-.4 0h.6m-.6 0h.6m-.2 0h.6m0 0h.6m0 0h.6m.2 0h.6m-.4 0h.6m-.6 0h.6m-.4 0h.6m-.4 0h.6m-.6 0h.6m-.4 0h.6m0 0h.6m0 0h.6m-.6 0h.6m-.4 0h.6m-.4 0h.6m1 0h.6m-.6 0h.6m-.2 0h.6m-.2 0h.6m-.4 0h.6m-.6 0h.6m-.4 0h.6m-.4 0h.6m-18 .2h.6m-.4 0h.6m-.4 0h.6m-.4 0h.6m.4 0h.6m-.4 0h.6m1.4 0h.6m-.6 0h.6m-.2 0h.6m0 0h.6m-.6 0h.6m-.2 0h.6m0 0h.6m-.6 0h.6m-.6 0h.6m-.4 0h.6m-.4 0h.6m0 0h.6m0 0h.6m-.2 0h.6m.2 0h.6m-.6 0h.6m-.4 0h.6m-.4 0h.6m-.6 0h.6m-.4 0h.6m-.4 0h.6m-.6 0h.6m-.4 0h.6m-.4 0h.6m-.2 0h.6m-.2 0h.6m-.4 0h.6m-.2 0h.6m-.4 0h.6m-.2 0h.6m-.2 0h.6m-.6 0h.6m-.6 0h.6m-.4 0h.6m-.6 0h.6m-.6 0h.6m-.6 0h.6m-.4 0h.6m-.2 0h.6m-.4 0h.6m-.2 0h.6m-.4 0h.6m-.4 0h.6m-.4 0h.6m-.2 0h.6m-.6 0h.6m0 0h.6m-.4 0h.6m-.6 0h.6m-.4 0h.6m-.4 0h.6m0 0h.6m-.4 0h.6m-.4 0h.6m-.4 0h.6m-.4 0h.6m-17.4 .2h.6m.6 0h.6m.2 0h.6m-.6 0h.6m.2 0h.6m1.8 0h.6m.2 0h.6m-.2 0h.6m1.4 0h.6m-.4 0h.6m.2 0h.6m-.2 0h.6m.2 0h.6m.4 0h.6m-.4 0h.6m.6 0h.6m-.6 0h.6m0 0h.6m-.4 0h.6m-.2 0h.6m.8 0h.6m-.2 0h.6m-.6 0h.6m.2 0h.6m-.6 0h.6m-.4 0h.6" stroke="#4f6db4" stroke-width="0.6" stroke-opacity="0.7" fill="none"/>
<rect x="203.50" y="235.90" width="17.80" height="6.50" fill="none" stroke="#455f9e" stroke-width="0.7"/>
<line x1="203.50" y1="241.47" x2="221.30" y2="241.47" stroke="#455f9e" stroke-width="0.7"/>
<line x1="212.40" y1="235.90" x2="212.40" y2="235.90" stroke="#455f9e" stroke-width="0.7"/>
<line x1="212.40" y1="242.40" x2="212.40" y2="242.40" stroke="#455f9e" stroke-width="0.7"/>
<line x1="207.90" y1="235.90" x2="216.90" y2="235.90" stroke="#455f9e" stroke-width="0.7"/>
<line x1="207.90" y1="242.40" x2="216.90" y2="242.40" stroke="#455f9e" stroke-width="0.7"/>
<circle cx="212.40" cy="236.83" r="0.85" fill="#3d7a2a"/>
<rect x="238.00" y="172.30" width="17.80" height="71.10" fill="url(#g6)"/>
<path d="M239.8 174.0h.6m13.2 1.2h.6m-13 .4h.6m6.2 .2h.6m4.4 .4h.6m-9 .4h.6m10.2 1h.6m-1 .2h.6m-2.6 .6h.6m-2.8 .2h.6m-13.2 .2h.6m9.4 .4h.6m5 .2h.6m-8 .4h.6m3.6 .4h.6m1.6 .6h.6m-15.4 .4h.6m10.8 .8h.6m-9.2 .6h.6m1.2 .2h.6m5.8 0h.6m-3.8 .2h.6m7.4 .2h.6m-12.4 .2h.6m.4 0h.6m5 0h.6m-1.4 .2h.6m-9.8 .2h.6m15.2 0h.6m-16.6 .2h.6m5 .2h.6m9.6 0h.6m-15.4 .4h.6m2.2 0h.6m1.6 .4h.6m0 0h.6m2.4 0h.6m3.8 0h.6m-2.2 .2h.6m-8 .4h.6m-4.2 .2h.6m4 0h.6m-3.2 .8h.6m7.8 0h.6m-11.4 .2h.6m12.2 0h.6m-13.2 .4h.6m9 0h.6m-9.2 .4h.6m.2 .2h.6m12 .4h.6m-5 .2h.6m-.6 0h.6m-.4 0h.6m-4.6 .6h.6m-.6 .2h.6m-3.6 .2h.6m10.4 0h.6m-5.6 .4h.6m5.6 .4h.6m-17.6 .4h.6m6 0h.6m3 0h.6m4.8 0h.6m-8.6 .2h.6m.8 0h.6m3.2 0h.6m-.8 .2h.6m-12.6 .2h.6m5 0h.6m6.8 .2h.6m-1.4 .2h.6m-7.4 .2h.6m7.2 .2h.6m-13.6 .4h.6m-1.4 .2h.6m10.2 0h.6m-8.6 .2h.6m-2.4 .2h.6m4 0h.6m5 0h.6m0 0h.6m-8.4 .2h.6m2 .2h.6m9.6 .2h.6m-11 .4h.6m8 0h.6m1.6 0h.6m-16.2 .2h.6m9.4 0h.6m3.4 .2h.6m.6 .2h.6m-16.6 .2h.6m6 0h.6m-.4 .2h.6m3.2 .4h.6m-5.2 .2h.6m9 .2h.6m-11.6 .4h.6m6.2 0h.6m-8.2 .2h.6m7 0h.6m-7 1h.6m3.8 0h.6m-7.8 .2h.6m-1.4 .2h.6m5 0h.6m5 .2h.6m2.2 0h.6m-.2 0h.6m-7.8 .2h.6m-6 .2h.6m10.2 .2h.6m-9.4 .2h.6m.6 .2h.6m1 0h.6m-.2 0h.6m2.4 .2h.6m-.2 0h.6m1.4 0h.6m-15.4 .2h.6m0 .2h.6m12.6 .2h.6m-5.6 .2h.6m3.4 0h.6m-12.6 .2h.6m1.8 0h.6m5.8 0h.6m-10.2 .2h.6m7.4 0h.6m-7 .2h.6m11 .2h.6m.4 0h.6m-4.6 .4h.6m-.4 0h.6m4 0h.6m-14 .2h.6m2.2 .2h.6m-4 .2h.6m-.2 0h.6m3 0h.6m-3.2 .2h.6m3.6 0h.6m.2 0h.6m1.8 0h.6m.6 0h.6m-5 .2h.6m4 .2h.6m-10.8 .2h.6m15.8 .2h.6m-14.6 .2h.6m5.4 0h.6m-1.4 .2h.6m2.4 0h.6m4.4 0h.6m.2 0h.6m-.4 0h.6m-16.6 .2h.6m2 0h.6m2.2 0h.6m5.4 0h.6m-.2 0h.6m.6 0h.6m1.6 0h.6m-11.6 .2h.6m9.6 0h.6m-14.4 .2h.6m11.2 .2h.6m-14 .2h.6m7 0h.6m7.8 0h.6m-.2 0h.6m-11.2 .6h.6m4.4 0h.6m5.2 0h.6m-9.2 .2h.6m0 0h.6m-9.6 .4h.6m1.2 .2h.6m2.4 0h.6m10.4 0h.6m-14.6 .2h.6m4.4 0h.6m5.4 0h.6m-10.4 .2h.6m1.6 0h.6m1.4 0h.6m8.2 0h.6m-14.4 .2h.6m-.2 0h.6m12.8 0h.6m-14.2 .2h.6m11.6 .2h.6m-11.4 .2h.6m-2.2 .2h.6m11.4 0h.6m.6 0h.6m-13.6 .2h.6m1.2 0h.6m2.6 0h.6m1.4 0h.6m2 0h.6m-12.4 .4h.6m16.4 0h.6m-2.2 .2h.6m-12.8 .2h.6m6.4 .4h.6m5.2 0h.6m-13.2 .2h.6m8.8 0h.6m-4.4 .2h.6m-7.6 .2h.6m5.2 0h.6m3 0h.6m-9.6 .6h.6m10.8 0h.6m-.4 0h.6m-.4 0h.6m0 0h.6m1 .2h.6m-15.6 .2h.6m0 0h.6m8.2 0h.6m1.4 0h.6m-.6 0h.6m-5.2 .2h.6m6.8 .2h.6m.8 .2h.6m-1 .4h.6m-1 .2h.6m-15.6 .4h.6m6.6 0h.6m-3 .2h.6m6.6 0h.6m-2.4 .2h.6m-10.4 .4h.6m8.2 0h.6m1 0h.6m-8 .2h.6m8.6 0h.6m2.2 0h.6m-16.2 .2h.6m15.6 0h.6m-14.6 .2h.6m-1.2 .2h.6m6.8 0h.6m-8.4 .2h.6m10.2 0h.6m1.6 .4h.6m.4 0h.6m-12 .2h.6m-5.4 .2h.6m15.4 0h.6m-12.6 .2h.6m2 0h.6m5.2 0h.6m-11.2 .2h.6m1 0h.6m11.6 0h.6m-8.2 .2h.6m.2 0h.6m.6 0h.6m1.6 0h.6m-11.4 .2h.6m13.2 0h.6m-5 .2h.6m-5.2 .2h.6m8.6 0h.6m1.2 0h.6m-16.8 .2h.6m1.4 0h.6m.8 0h.6m1.6 0h.6m-1 .2h.6m6.2 0h.6m1.6 0h.6m-14 .2h.6m.6 0h.6m1.6 0h.6m-5.6 .2h.6m4.2 0h.6m2.6 0h.6m1.4 0h.6m-.4 0h.6m-10.2 .2h.6m3.8 .2h.6m4 0h.6m4.6 0h.6m-10 .2h.6m5.6 0h.6m3.6 0h.6m.4 0h.6m-14.8 .2h.6m2.6 0h.6m-.2 .2h.6m6.4 0h.6m-7.2 .2h.6m1.2 0h.6m-.4 0h.6m3.4 .2h.6m3.2 0h.6m-3.8 .2h.6m-2.4 .2h.6m1.2 0h.6m1.4 .2h.6m-15.2 .2h.6m15.2 0h.6m0 0h.6m-.6 0h.6m-9.8 .2h.6m2.2 .2h.6m5 0h.6m-14.2 .2h.6m5.2 0h.6m3.4 0h.6m-9.2 .2h.6m3.4 0h.6m.2 0h.6m-.2 0h.6m-9.2 .2h.6m-.6 0h.6m2.4 0h.6m8.2 0h.6m-.6 0h.6m-13.2 .2h.6m10.2 0h.6m-.6 0h.6m1.2 0h.6m-.2 0h.6m-10.2 .2h.6m6.4 0h.6m2.2 0h.6m2 0h.6m-10.4 .2h.6m.8 0h.6m1.8 0h.6m2.4 0h.6m-.4 0h.6m-11.2 .2h.6m2.6 0h.6m2 0h.6m-7.4 .2h.6m14 0h.6m.8 0h.6m-8.2 .2h.6m3.6 0h.6m-6.6 .2h.6m-.2 0h.6m2.8 0h.6m1.6 0h.6m.6 0h.6m-13.8 .2h.6m0 0h.6m7 0h.6m2 0h.6m0 0h.6m-.4 0h.6m-5 .2h.6m1.4 0h.6m-10.4 .2h.6m.2 0h.6m2.4 0h.6m9.6 0h.6m.4 0h.6m-1.6 .2h.6m-10.6 .2h.6m5.6 .2h.6m3.2 0h.6m-13.8 .2h.6m.6 0h.6m1 0h.6m3.6 0h.6m2.6 0h.6m-13.2 .2h.6m.6 0h.6m.4 0h.6m8.4 .2h.6m1.4 0h.6m-.4 0h.6m-.2 0h.6m1.2 0h.6m.2 0h.6m-7.8 .2h.6m-8.6 .2h.6m3.2 0h.6m.4 0h.6m8.6 0h.6m-5.4 .2h.6m-.6 0h.6m3.2 0h.6m-13.4 .2h.6m3 0h.6m1.6 0h.6m1.2 0h.6m2.6 .2h.6m1.6 0h.6m-8.8 .2h.6m.4 0h.6m-.4 0h.6m-.2 0h.6m4.4 0h.6m2.8 0h.6m-11.8 .2h.6m1.4 0h.6m2.2 0h.6m2.6 0h.6m-7.4 .2h.6m0 0h.6m2.4 0h.6m-4.4 .4h.6m1.4 0h.6m3 0h.6m4.6 0h.6m-17 .2h.6m4.6 0h.6m4.2 0h.6m-8.2 .2h.6m4.8 0h.6m5.2 0h.6m-13 .2h.6m8.2 0h.6m-10.4 .2h.6m1.2 0h.6m-.6 0h.6m1 0h.6m4 .2h.6m1.2 0h.6m2.8 0h.6m1.8 0h.6m-13.8 .2h.6m.8 0h.6m1 0h.6m-.2 0h.6m6.6 0h.6m-.2 0h.6m2.8 0h.6m-16.6 .2h.6m1.4 0h.6m-.4 0h.6m-.4 0h.6m0 0h.6m1.8 0h.6m.6 0h.6m1.2 0h.6m0 0h.6m-2.6 .2h.6m1.4 0h.6m1.2 0h.6m-10.2 .2h.6m4.2 0h.6m.8 0h.6m3.8 0h.6m3 0h.6m-16.8 .2h.6m.2 0h.6m1.2 0h.6m9.4 0h.6m3.2 0h.6m-14.8 .2h.6m1.4 0h.6m2.8 0h.6m.6 0h.6m-4 .2h.6m-6 .2h.6m11.8 0h.6m-11.6 .2h.6m2.4 0h.6m-.4 0h.6m1.8 0h.6m.8 0h.6m6 0h.6m-15.2 .2h.6m.2 0h.6m6.4 0h.6m1 0h.6m3.4 0h.6m1.6 0h.6m-16.6 .2h.6m1 0h.6m5.2 0h.6m-1.2 .2h.6m5.4 0h.6m-.4 0h.6m-.4 0h.6m-14.4 .2h.6m-.2 0h.6m15.6 0h.6m.4 0h.6m-12.8 .2h.6m8.6 0h.6m1.8 0h.6m-12.6 .2h.6m.4 0h.6m2.2 0h.6m5.6 0h.6m-11.8 .2h.6m1.8 0h.6m6.2 0h.6m-11.6 .2h.6m7 0h.6m-.2 0h.6m4 0h.6m-.2 0h.6m.2 0h.6m-.2 0h.6m-16 .2h.6m15 0h.6m-16.8 .2h.6m5.6 0h.6m-.2 0h.6m2.4 0h.6m.2 0h.6m-9.8 .2h.6m1 0h.6m2.2 0h.6m4.8 0h.6m-.4 0h.6m4.6 0h.6m-14.4 .2h.6m-2.4 .2h.6m3.2 0h.6m1.2 0h.6m.2 0h.6m9.2 0h.6m-14.4 .2h.6m1.4 0h.6m1.4 0h.6m2.2 0h.6m1.2 0h.6m3.4 0h.6m-8.2 .2h.6m5.4 0h.6m1 0h.6m-16.6 .2h.6m.2 0h.6m-.6 0h.6m0 0h.6m0 0h.6m12.8 0h.6m-.2 0h.6m-15.4 .2h.6m-.2 0h.6m6 0h.6m1 0h.6m-9.6 .2h.6m.4 0h.6m1 0h.6m13.8 0h.6m-18.2 .2h.6m-.4 0h.6m.4 0h.6m.8 0h.6m-.2 0h.6m7 0h.6m1.6 0h.6m.8 0h.6m-14 .2h.6m1.6 0h.6m1 0h.6m-.4 0h.6m8.8 0h.6m0 0h.6m.6 0h.6m-.4 0h.6m0 0h.6m-.2 0h.6m-17.2 .2h.6m2.2 0h.6m2 0h.6m-.6 0h.6m.8 0h.6m1.4 0h.6m1.8 0h.6m-.2 0h.6m1.8 0h.6m-.4 0h.6m1.2 0h.6m-16.2 .2h.6m1.4 0h.6m6.2 0h.6m.8 0h.6m3.8 0h.6m-.2 0h.6m-13.2 .2h.6m3.2 0h.6m1.4 0h.6m0 0h.6m3.6 0h.6m-.4 0h.6m-.2 0h.6m-.2 0h.6m-12 .2h.6m0 0h.6m.4 0h.6m-.6 0h.6m1 0h.6m1.2 0h.6m3.4 0h.6m1.2 0h.6m.6 0h.6m-.2 0h.6m.8 0h.6m-17.4 .2h.6m-.4 0h.6m16 0h.6m-18 .2h.6m1.2 0h.6m2 0h.6m.8 0h.6m1.2 0h.6m2.2 0h.6m-.4 0h.6m1.6 0h.6m.8 0h.6m.6 0h.6m-.6 0h.6m.2 0h.6m-.2 0h.6m-16.4 .2h.6m1.4 0h.6m-.6 0h.6m3.2 0h.6m3.4 0h.6m.2 0h.6m2.6 0h.6m.4 0h.6m1.2 0h.6m-.6 0h.6m-18 .2h.6m.8 0h.6m2.6 0h.6m3 0h.6m1 0h.6m0 0h.6m-10.6 .2h.6m.6 0h.6m-.4 0h.6m2.4 0h.6m2.4 0h.6m2 0h.6m.4 0h.6m-.6 0h.6m1.2 0h.6m3.2 0h.6m-11.8 .2h.6m3 0h.6m-.2 0h.6m-.2 0h.6m3.4 0h.6m.2 0h.6m.4 0h.6m-16.4 .2h.6m-.6 0h.6m-.6 0h.6m-.6 0h.6m-.2 0h.6m-.6 0h.6m5.4 0h.6m.2 0h.6m-.6 0h.6m2.8 0h.6m0 0h.6m1.4 0h.6m0 0h.6m-12.2 .2h.6m1.8 0h.6m0 0h.6m-.2 0h.6m10.8 0h.6m-15.6 .2h.6m-.2 0h.6m.8 0h.6m2.2 0h.6m3.6 0h.6m-.4 0h.6m1.6 0h.6m1.4 0h.6m-14.2 .2h.6m2 0h.6m.4 0h.6m-.6 0h.6m2 0h.6m2.6 0h.6m2.2 0h.6m1.8 0h.6m-16 .2h.6m-.4 0h.6m.6 0h.6m.4 0h.6m5.8 0h.6m.2 0h.6m-.4 0h.6m.2 0h.6m2 0h.6m.2 0h.6m-.2 0h.6m0 0h.6m-14.8 .2h.6m0 0h.6m.6 0h.6m1.2 0h.6m0 0h.6m.2 0h.6m-.4 0h.6m-.2 0h.6m4.2 0h.6m1 0h.6m-12.4 .2h.6m0 0h.6m.4 0h.6m3.2 0h.6m.8 0h.6m3.2 0h.6m1 0h.6m2.4 0h.6m-.2 0h.6m-16.8 .2h.6m.2 0h.6m2 0h.6m1.8 0h.6m-.4 0h.6m5.8 0h.6m1 0h.6m-13.8 .2h.6m2.4 0h.6m-.4 0h.6m-.6 0h.6m-.6 0h.6m2.6 0h.6m-.6 0h.6m1.6 0h.6m-.6 0h.6m1.6 0h.6m1.2 0h.6m0 0h.6m0 0h.6m0 0h.6m-16 .2h.6m1.4 0h.6m8 0h.6m.8 0h.6m.2 0h.6m-.4 0h.6m-.4 0h.6m-.4 0h.6m1 0h.6m-.4 0h.6m-.4 0h.6m-15.4 .2h.6m.2 0h.6m-.6 0h.6m1 0h.6m-.2 0h.6m1 0h.6m4 0h.6m0 0h.6m0 0h.6m.6 0h.6m1.2 0h.6m-.2 0h.6m-14 .2h.6m1.4 0h.6m.2 0h.6m.6 0h.6m.6 0h.6m0 0h.6m2.8 0h.6m1.2 0h.6m1.2 0h.6m.4 0h.6m-16.4 .2h.6m1.2 0h.6m1.6 0h.6m-.4 0h.6m-.2 0h.6m0 0h.6m2 0h.6m1.6 0h.6m2.6 0h.6m.2 0h.6m2.2 0h.6m-15.2 .2h.6m.2 0h.6m2.4 0h.6m2.2 0h.6m.2 0h.6m-.6 0h.6m.6 0h.6m.6 0h.6m1.2 0h.6m.2 0h.6m.2 0h.6m.2 0h.6m-15.2 .2h.6m-.4 0h.6m1.4 0h.6m-.4 0h.6m.4 0h.6m.4 0h.6m.6 0h.6m.2 0h.6m.2 0h.6m-.2 0h.6m.8 0h.6m-.6 0h.6m-.2 0h.6m.6 0h.6m2.2 0h.6m0 0h.6m.2 0h.6m-15.6 .2h.6m-.2 0h.6m.2 0h.6m1.2 0h.6m1.8 0h.6m-.4 0h.6m-7.2 .2h.6m-.4 0h.6m0 0h.6m-.2 0h.6m.6 0h.6m-.2 0h.6m.6 0h.6m-.4 0h.6m4 0h.6m1 0h.6m.2 0h.6m.6 0h.6m-.4 0h.6m-.2 0h.6m-.4 0h.6m1.8 0h.6m-.2 0h.6m-17 .2h.6m1.8 0h.6m.2 0h.6m1.6 0h.6m0 0h.6m-.6 0h.6m0 0h.6m1 0h.6m5 0h.6m2.6 0h.6m-17.6 .2h.6m.6 0h.6m.2 0h.6m-.6 0h.6m4 0h.6m-.2 0h.6m2.4 0h.6m-.6 0h.6m.4 0h.6m0 0h.6m-.2 0h.6m1.2 0h.6m.6 0h.6m.6 0h.6m.2 0h.6m-.4 0h.6m-17.6 .2h.6m1.6 0h.6m-.2 0h.6m.6 0h.6m.6 0h.6m-.2 0h.6m-.6 0h.6m.4 0h.6m2.6 0h.6m-.2 0h.6m.6 0h.6m-.2 0h.6m-.2 0h.6m1.4 0h.6m.4 0h.6m-.2 0h.6m-.6 0h.6m-.4 0h.6m-.2 0h.6m-.6 0h.6m-16.8 .2h.6m-.6 0h.6m-.4 0h.6m-.4 0h.6m-.2 0h.6m.2 0h.6m-.2 0h.6m.2 0h.6m.6 0h.6m-.6 0h.6m-.2 0h.6m1.2 0h.6m-.2 0h.6m.2 0h.6m1 0h.6m0 0h.6m.6 0h.6m-.2 0h.6m-.4 0h.6m0 0h.6m.4 0h.6m1.4 0h.6m-.4 0h.6m-.4 0h.6m-.4 0h.6m1.4 0h.6m-18 .2h.6m-.4 0h.6m.6 0h.6m.4 0h.6m-.6 0h.6m.4 0h.6m1.6 0h.6m.6 0h.6m-.2 0h.6m-.6 0h.6m0 0h.6m-.4 0h.6m-.2 0h.6m-.4 0h.6m-.4 0h.6m1.2 0h.6m.8 0h.6m4.8 0h.6m-17.6 .2h.6m-.4 0h.6m-.6 0h.6m0 0h.6m-.2 0h.6m1.8 0h.6m.8 0h.6m-.6 0h.6m2.4 0h.6m-.6 0h.6m-.6 0h.6m0 0h.6m1 0h.6m.6 0h.6m-.2 0h.6m2.4 0h.6m.4 0h.6m-.4 0h.6m-.4 0h.6m-.4 0h.6m-.2 0h.6m-.6 0h.6m-.6 0h.6m-17.8 .2h.6m.6 0h.6m.4 0h.6m0 0h.6m4.6 0h.6m-.4 0h.6m0 0h.6m-.4 0h.6m1.2 0h.6m.2 0h.6m1 0h.6m.6 0h.6m.2 0h.6m.4 0h.6m0 0h.6m-17.2 .2h.6m1 0h.6m-.4 0h.6m0 0h.6m0 0h.6m.6 0h.6m-.2 0h.6m.6 0h.6m.6 0h.6m-.6 0h.6m1.4 0h.6m0 0h.6m1 0h.6m0 0h.6m0 0h.6m.8 0h.6m0 0h.6m.6 0h.6m-.4 0h.6m0 0h.6m-.4 0h.6m-17.4 .2h.6m-.2 0h.6m-.2 0h.6m-.4 0h.6m.2 0h.6m.8 0h.6m1.6 0h.6m.4 0h.6m-.6 0h.6m-.4 0h.6m-.4 0h.6m-.4 0h.6m.2 0h.6m-.4 0h.6m-.4 0h.6m-.2 0h.6m-.4 0h.6m0 0h.6m.2 0h.6m-.2 0h.6m-.6 0h.6m-.4 0h.6m-.6 0h.6m.4 0h.6m-.4 0h.6m-.4 0h.6m.2 0h.6m0 0h.6m-.4 0h.6m0 0h.6m1 0h.6m-.2 0h.6m0 0h.6m-17.4 .2h.6m-.2 0h.6m.2 0h.6m.2 0h.6m-.4 0h.6m-.2 0h.6m-.4 0h.6m1 0h.6m-.6 0h.6m-.4 0h.6m0 0h.6m-.4 0h.6m0 0h.6m-.4 0h.6m-.4 0h.6m-.6 0h.6m-.4 0h.6m.6 0h.6m-.2 0h.6m0 0h.6m-.2 0h.6m-.6 0h.6m.2 0h.6m-.6 0h.6m-.2 0h.6m-.6 0h.6m1 0h.6m-.4 0h.6m-.4 0h.6m-.6 0h.6m0 0h.6m-.4 0h.6m-.4 0h.6m1.6 0h.6m.2 0h.6m-15.8 .2h.6m-.4 0h.6m-.4 0h.6m.6 0h.6m-.4 0h.6m2.6 0h.6m-.4 0h.6m-.4 0h.6m-.4 0h.6m.6 0h.6m0 0h.6m-.4 0h.6m.2 0h.6m.4 0h.6m-.4 0h.6m3.2 0h.6m.4 0h.6m.4 0h.6m-.6 0h.6m-17.4 .2h.6m-.2 0h.6m-.2 0h.6m0 0h.6m-.2 0h.6m0 0h.6m1.2 0h.6m.2 0h.6m1.4 0h.6m0 0h.6m.6 0h.6m-.6 0h.6m-.4 0h.6m-.4 0h.6m-.6 0h.6m0 0h.6m1 0h.6m-.6 0h.6m.2 0h.6m-.6 0h.6m-.2 0h.6m0 0h.6m-.6 0h.6m.2 0h.6m.2 0h.6m0 0h.6m.8 0h.6m-.4 0h.6m-.6 0h.6m-17.2 .2h.6m-.6 0h.6m-.4 0h.6m-.2 0h.6m.6 0h.6m-.2 0h.6m.4 0h.6m.6 0h.6m.4 0h.6m0 0h.6m2 0h.6m.4 0h.6m-.4 0h.6m.2 0h.6m-.4 0h.6m-.6 0h.6m1.2 0h.6m.2 0h.6m0 0h.6m1.4 0h.6m-17.2 .2h.6m1 0h.6m-.4 0h.6m-.4 0h.6m-.4 0h.6m.8 0h.6m.2 0h.6m1.6 0h.6m.2 0h.6m.4 0h.6m-.6 0h.6m.6 0h.6m-.6 0h.6m.4 0h.6m1.2 0h.6m-.2 0h.6m.2 0h.6m.8 0h.6m-.2 0h.6m.2 0h.6m-.6 0h.6m.8 0h.6m-15.6 .2h.6m-.4 0h.6m-.6 0h.6m.2 0h.6m.8 0h.6m.4 0h.6m-.4 0h.6m.2 0h.6m-.4 0h.6m-.4 0h.6m.2 0h.6m0 0h.6m0 0h.6m-.4 0h.6m.6 0h.6m-.2 0h.6m-.6 0h.6m.8 0h.6m-.4 0h.6m-.4 0h.6m1.8 0h.6m-.2 0h.6m.2 0h.6m-16.6 .2h.6m-.6 0h.6m.2 0h.6m3 0h.6m.6 0h.6m1 0h.6m-.6 0h.6m-.4 0h.6m.8 0h.6m-.4 0h.6m.2 0h.6m.4 0h.6m-.2 0h.6m-.4 0h.6m-.2 0h.6m-.4 0h.6m-.6 0h.6m-.4 0h.6m-.2 0h.6m-.4 0h.6m-.4 0h.6m-.4 0h.6m.2 0h.6m-.6 0h.6m.8 0h.6m-.6 0h.6m.4 0h.6m-.2 0h.6m-.4 0h.6m-.6 0h.6m-.6 0h.6m-16.4 .2h.6m-.6 0h.6m.6 0h.6m0 0h.6m-.4 0h.6m-.4 0h.6m0 0h.6m.2 0h.6m-.2 0h.6m-.4 0h.6m1.8 0h.6m-.2 0h.6m-.2 0h.6m-.4 0h.6m-.4 0h.6m-.2 0h.6m2 0h.6m-.6 0h.6m3.2 0h.6m-.4 0h.6m-.2 0h.6m-14.8 .2h.6m-.4 0h.6m1.6 0h.6m-.6 0h.6m-.4 0h.6m1.2 0h.6m.4 0h.6m2.8 0h.6m-.4 0h.6m1 0h.6m-.2 0h.6m0 0h.6m-.2 0h.6m.2 0h.6m.2 0h.6m-.6 0h.6m-17 .2h.6m0 0h.6m1 0h.6m.6 0h.6m0 0h.6m0 0h.6m.2 0h.6m.8 0h.6m.2 0h.6m.6 0h.6m-.4 0h.6m0 0h.6m0 0h.6m-.6 0h.6m.2 0h.6m0 0h.6m-.6 0h.6m-.4 0h.6m-.2 0h.6m.8 0h.6m.4 0h.6m0 0h.6m.6 0h.6m-.4 0h.6m-.4 0h.6m-17.4 .2h.6m.8 0h.6m.4 0h.6m.2 0h.6m1.4 0h.6m-.6 0h.6m-.2 0h.6m-.4 0h.6m-.6 0h.6m-.4 0h.6m2.6 0h.6m-.4 0h.6m-.2 0h.6m.4 0h.6m0 0h.6m-.4 0h.6m.8 0h.6m-.2 0h.6m-.4 0h.6m-.2 0h.6m.6 0h.6m.2 0h.6m-.4 0h.6m.6 0h.6m-17.6 .2h.6m-.4 0h.6m1 0h.6m-.6 0h.6m-.2 0h.6m-.6 0h.6m.6 0h.6m-.2 0h.6m0 0h.6m.8 0h.6m1 0h.6m0 0h.6m-.2 0h.6m-.6 0h.6m-.4 0h.6m-.2 0h.6m0 0h.6m.2 0h.6m.4 0h.6m.2 0h.6m.6 0h.6m1.2 0h.6m1 0h.6m-17.8 .2h.6m-.4 0h.6m1.8 0h.6m-.2 0h.6m-.2 0h.6m.6 0h.6m1.6 0h.6m1 0h.6m.4 0h.6m.2 0h.6m-.6 0h.6m-.4 0h.6m-.4 0h.6m0 0h.6m-.2 0h.6m-.6 0h.6m-.4 0h.6m.6 0h.6m0 0h.6m.4 0h.6m-.2 0h.6m.4 0h.6m.2 0h.6m0 0h.6m-17.4 .2h.6m-.6 0h.6m1 0h.6m-.4 0h.6m.2 0h.6m-.4 0h.6m0 0h.6m.4 0h.6m0 0h.6m-.2 0h.6m-.4 0h.6m-.4 0h.6m0 0h.6m-.2 0h.6m-.4 0h.6m-.2 0h.6m.2 0h.6m-.4 0h.6m-.6 0h.6m-.4 0h.6m.2 0h.6m-.2 0h.6m-.6 0h.6m1.8 0h.6m0 0h.6m-.4 0h.6m2.2 0h.6m0 0h.6m-17.6 .2h.6m-.2 0h.6m0 0h.6m.2 0h.6m0 0h.6m.4 0h.6m.8 0h.6m.2 0h.6m.4 0h.6m0 0h.6m-.2 0h.6m-.4 0h.6m-.6 0h.6m-.4 0h.6m-.4 0h.6m.2 0h.6m-.6 0h.6m-.4 0h.6m0 0h.6m-.2 0h.6m-.6 0h.6m0 0h.6m-.6 0h.6m-.2 0h.6m-.6 0h.6m0 0h.6m-.4 0h.6m-.2 0h.6m1 0h.6m.8 0h.6m.2 0h.6m-.4 0h.6m0 0h.6m-.4 0h.6m-17.4 .2h.6m.4 0h.6m.2 0h.6m-.2 0h.6m.4 0h.6m.4 0h.6m0 0h.6m0 0h.6m-.2 0h.6m-.6 0h.6m-.4 0h.6m-.4 0h.6m-.2 0h.6m1 0h.6m-.4 0h.6m1 0h.6m.4 0h.6m-.4 0h.6m-.4 0h.6m-.4 0h.6m-.4 0h.6m1 0h.6m-.4 0h.6m-.4 0h.6m-.2 0h.6m-.6 0h.6m-.4 0h.6m-.4 0h.6m.2 0h.6m-.6 0h.6m.8 0h.6m-.2 0h.6m-18.2 .2h.6m-.4 0h.6m-.4 0h.6m.6 0h.6m-.2 0h.6m-.4 0h.6m.2 0h.6m-.4 0h.6m-.2 0h.6m-.2 0h.6m-.4 0h.6m.8 0h.6m0 0h.6m-.6 0h.6m.6 0h.6m-.4 0h.6m.2 0h.6m.6 0h.6m-.2 0h.6m-.6 0h.6m-.4 0h.6m1.2 0h.6m.6 0h.6m-.2 0h.6m-.2 0h.6m-.2 0h.6m.2 0h.6m-.2 0h.6m.4 0h.6m-.4 0h.6m-.6 0h.6m-.4 0h.6m-15.6 .2h.6m1 0h.6m.6 0h.6m-.4 0h.6m.2 0h.6m-.4 0h.6m0 0h.6m.2 0h.6m-.4 0h.6m.2 0h.6m-.6 0h.6m0 0h.6m-.4 0h.6m-.6 0h.6m.8 0h.6m.6 0h.6m-.4 0h.6m0 0h.6m-.6 0h.6m-.4 0h.6m-.4 0h.6m-.2 0h.6m-.2 0h.6m-.2 0h.6m-.4 0h.6m-.6 0h.6m-.2 0h.6m-.4 0h.6m.2 0h.6m-14 .2h.6m.2 0h.6m-.4 0h.6m-.2 0h.6m-.4 0h.6m.2 0h.6m1.2 0h.6m-.4 0h.6m-.2 0h.6m-.2 0h.6m1.2 0h.6m-.4 0h.6m-.6 0h.6m2.2 0h.6m3.6 0h.6m-.6 0h.6m-.2 0h.6m-.4 0h.6" stroke="#cc98c6" stroke-width="0.6" stroke-opacity="0.7" fill="none"/>
<rect x="238.00" y="229.41" width="17.80" height="12.99" fill="none" stroke="#b385ae" stroke-width="0.7"/>
<line x1="238.00" y1="240.54" x2="255.80" y2="240.54" stroke="#b385ae" stroke-width="0.7"/>
<line x1="246.90" y1="211.31" x2="246.90" y2="229.41" stroke="#b385ae" stroke-width="0.7"/>
<line x1="246.90" y1="242.40" x2="246.90" y2="242.40" stroke="#b385ae" stroke-width="0.7"/>
<line x1="242.40" y1="211.31" x2="251.40" y2="211.31" stroke="#b385ae" stroke-width="0.7"/>
<line x1="242.40" y1="242.40" x2="251.40" y2="242.40" stroke="#b385ae" stroke-width="0.7"/>
<circle cx="246.90" cy="234.51" r="0.85" fill="#3d7a2a"/>
<rect x="272.20" y="169.52" width="17.80" height="73.88" fill="url(#g7)"/>
<path d="M281.0 173.0h.6m-3 .4h.6m6.2 .2h.6m-4.4 .4h.6m6.8 1.4h.6m-2.6 .8h.6m-5.4 .6h.6m-10.2 .6h.6m6.2 0h.6m.2 0h.6m-.6 .2h.6m-5.6 .4h.6m10 .2h.6m-8.4 1.2h.6m4 1h.6m-.8 .6h.6m-6.4 .4h.6m-1.4 .6h.6m10.6 0h.6m-4.8 .2h.6m-3 .4h.6m-2 .4h.6m2.8 0h.6m-5.2 .2h.6m-4.2 .6h.6m8.6 0h.6m.4 0h.6m3.4 .2h.6m-13.4 .2h.6m4.8 0h.6m-2 .2h.6m-3.8 .2h.6m12.4 0h.6m-14.2 .4h.6m-4 .4h.6m13 0h.6m-6 .2h.6m-3.8 .2h.6m.4 0h.6m-1.4 .2h.6m3.2 0h.6m-.4 0h.6m6.8 .2h.6m-3.8 .2h.6m-8 .8h.6m9 0h.6m-8.6 .2h.6m-3.2 .2h.6m7 0h.6m0 0h.6m-6.6 .4h.6m-1.4 .4h.6m-6 .4h.6m5.4 0h.6m0 0h.6m2.6 0h.6m-6.6 .4h.6m1.6 0h.6m2.6 .2h.6m.6 0h.6m-.4 0h.6m4 0h.6m0 0h.6m-2.8 .4h.6m-.2 0h.6m-6.8 .2h.6m2.6 .2h.6m.6 0h.6m0 .2h.6m.2 0h.6m-2.6 .2h.6m-.4 0h.6m-9.8 .2h.6m-1.2 .2h.6m.8 0h.6m-2.6 .2h.6m.2 .2h.6m3.6 0h.6m3.6 .2h.6m.6 .2h.6m-10.2 .2h.6m-.6 0h.6m-.2 0h.6m.2 0h.6m6.4 0h.6m2.4 0h.6m-13 .2h.6m6.8 0h.6m7 0h.6m-.8 .2h.6m-16 .2h.6m13 0h.6m.2 0h.6m-10 .2h.6m1.2 .2h.6m-8.8 .4h.6m2.6 0h.6m2.2 0h.6m6.6 0h.6m-.2 0h.6m-4.2 .2h.6m-.4 0h.6m3.6 0h.6m-10.4 .4h.6m9.4 0h.6m-8.4 .2h.6m.2 0h.6m3.8 0h.6m-13 .2h.6m4.6 0h.6m11.6 0h.6m-17.6 .4h.6m1.4 0h.6m13.2 0h.6m-6.8 .2h.6m-10.2 .2h.6m6.2 0h.6m1.4 0h.6m.8 0h.6m1.4 .4h.6m-10.6 .2h.6m13 0h.6m-16.8 .2h.6m11.8 0h.6m-12.2 .2h.6m5.2 .2h.6m6.8 0h.6m-8.6 .2h.6m-5.2 .2h.6m10.6 0h.6m-7.8 .2h.6m6.4 0h.6m3.6 .2h.6m-8 .2h.6m1.4 0h.6m-3.4 .4h.6m4.2 0h.6m-13.4 .2h.6m1 0h.6m1.8 0h.6m1.2 0h.6m3.4 .2h.6m.2 0h.6m-8.2 .2h.6m2.8 0h.6m1.8 0h.6m-8.2 .2h.6m9.2 0h.6m-.6 0h.6m0 .2h.6m.4 0h.6m1.2 0h.6m1 0h.6m-.4 .2h.6m-8.8 .2h.6m2.6 0h.6m-11.6 .2h.6m10.2 0h.6m-11.2 .2h.6m13.6 0h.6m-8.6 .2h.6m4.6 0h.6m-1.6 .2h.6m-7.2 .2h.6m4.6 0h.6m-6.6 .2h.6m-.2 0h.6m.2 0h.6m11.8 0h.6m-4.2 .4h.6m-7.4 .2h.6m3.2 0h.6m-3.4 .4h.6m-5.4 .2h.6m3.2 0h.6m-5.2 .2h.6m-1 .2h.6m0 0h.6m6.6 0h.6m1.2 0h.6m2.8 .2h.6m-8.8 .2h.6m0 0h.6m5.8 0h.6m-1.6 .2h.6m-12.6 .2h.6m12.8 0h.6m-8.2 .2h.6m7.4 .2h.6m-4 .2h.6m.2 0h.6m-11.4 .2h.6m6.4 0h.6m7.8 0h.6m-10.6 .2h.6m-5.8 .2h.6m3 0h.6m1 .2h.6m9.4 0h.6m-8.8 .2h.6m-7.8 .2h.6m-.6 0h.6m3.8 0h.6m0 0h.6m-3.2 .2h.6m-.2 0h.6m-4.4 .2h.6m.4 0h.6m15.6 0h.6m-18 .2h.6m5.8 .2h.6m3.6 0h.6m4.4 0h.6m-8.2 .4h.6m4.4 0h.6m.4 0h.6m-11 .2h.6m.2 0h.6m5 0h.6m.6 0h.6m4.6 0h.6m-16.2 .2h.6m1.6 .2h.6m.6 .2h.6m-3.2 .4h.6m12.8 0h.6m-11.4 .2h.6m2.8 0h.6m3.8 0h.6m1.4 0h.6m-10.8 .2h.6m7.8 0h.6m-10 .2h.6m11.4 0h.6m-13.4 .2h.6m1.2 0h.6m6.4 .2h.6m-8 .2h.6m8 0h.6m-.6 .2h.6m1.4 0h.6m-13.4 .2h.6m12.4 0h.6m1.6 0h.6m-3 .2h.6m-14.6 .2h.6m.2 0h.6m8 .4h.6m-5.6 .2h.6m1.6 0h.6m7.2 0h.6m-4.2 .4h.6m-11 .2h.6m11.4 0h.6m-11 .2h.6m7.8 .2h.6m1.6 .2h.6m-11.6 .2h.6m11.4 0h.6m-8.4 .2h.6m8.8 0h.6m-13.4 .2h.6m-.8 .2h.6m1 0h.6m3.2 0h.6m2.6 0h.6m-8.2 .2h.6m4.2 0h.6m2.2 0h.6m4.8 0h.6m-14 .2h.6m4.4 0h.6m1 0h.6m0 0h.6m3.4 0h.6m1.6 0h.6m-13.2 .2h.6m.4 0h.6m12 0h.6m-8 .2h.6m.4 0h.6m-.2 0h.6m-6.2 .2h.6m-5.8 .2h.6m4 0h.6m3.6 0h.6m7.4 0h.6m-15.8 .2h.6m-.6 0h.6m.6 0h.6m1.2 0h.6m1.8 0h.6m3 0h.6m-2 .2h.6m-8.8 .2h.6m8.4 0h.6m-8.4 .2h.6m7.2 0h.6m1.2 0h.6m-6.4 .2h.6m0 0h.6m-5.2 .2h.6m5.6 0h.6m5.8 .2h.6m-7.2 .2h.6m-6.2 .4h.6m14.2 0h.6m-15.4 .2h.6m7.2 0h.6m-4.2 .2h.6m1.2 0h.6m2.4 0h.6m-12.4 .2h.6m12.6 0h.6m-10.2 .2h.6m1 .2h.6m2.2 0h.6m6 0h.6m-10.6 .2h.6m9.4 0h.6m.4 0h.6m-15.4 .2h.6m4.6 0h.6m2.2 0h.6m.6 .2h.6m.6 0h.6m-7.6 .2h.6m1.6 0h.6m-.4 0h.6m3.2 0h.6m-.2 0h.6m3.4 0h.6m-10.8 .2h.6m.8 0h.6m1.6 0h.6m.8 0h.6m-4.8 .2h.6m-6 .2h.6m4.4 0h.6m4.6 .2h.6m1 0h.6m4.8 0h.6m-11.8 .2h.6m-.2 0h.6m5 0h.6m-12.4 .2h.6m0 0h.6m2.4 .2h.6m10 0h.6m.6 .2h.6m-10.4 .2h.6m-.4 0h.6m.4 0h.6m.8 0h.6m.6 0h.6m-.4 0h.6m.2 0h.6m1.4 0h.6m-8.2 .2h.6m1.6 0h.6m4.6 0h.6m-.4 0h.6m-.2 0h.6m-8.2 .2h.6m-2.4 .2h.6m2 0h.6m-.4 0h.6m2.4 0h.6m1.8 0h.6m1.4 0h.6m-2 .2h.6m3.4 0h.6m-8.8 .2h.6m7.6 0h.6m-9.8 .2h.6m.2 0h.6m7.6 0h.6m-2.6 .2h.6m2.4 .2h.6m-13.8 .2h.6m0 0h.6m3.4 0h.6m-.6 0h.6m-8.8 .2h.6m.6 0h.6m1.2 0h.6m.2 0h.6m.4 0h.6m2 0h.6m.2 0h.6m6.2 0h.6m.8 0h.6m-11.8 .2h.6m3.8 0h.6m-3.2 .2h.6m3.2 0h.6m1.2 0h.6m.4 0h.6m-7.8 .2h.6m3.6 0h.6m.2 0h.6m.2 0h.6m3.4 0h.6m-15.8 .2h.6m1.2 0h.6m2 0h.6m1.8 0h.6m3.4 0h.6m-10.6 .2h.6m14 0h.6m-14.6 .2h.6m.2 0h.6m5.8 0h.6m0 0h.6m4.6 0h.6m-11.8 .2h.6m2 .2h.6m2.2 0h.6m4 0h.6m.2 0h.6m.2 0h.6m-.4 0h.6m-9.6 .2h.6m8 0h.6m-6.4 .2h.6m0 0h.6m-.2 0h.6m-8.8 .2h.6m2.2 0h.6m5.4 0h.6m2 0h.6m1.4 0h.6m0 0h.6m-.4 0h.6m-1.8 .2h.6m-16.2 .2h.6m4.2 0h.6m0 0h.6m2 0h.6m2.2 0h.6m.4 0h.6m-11.8 .2h.6m5.6 0h.6m1 0h.6m.2 0h.6m.2 0h.6m3.8 0h.6m.8 0h.6m0 0h.6m-12.4 .2h.6m.4 0h.6m11 0h.6m-17.4 .2h.6m1.2 0h.6m9.6 0h.6m-11.2 .2h.6m13 0h.6m-11.6 .2h.6m5.2 0h.6m-5.6 .2h.6m-.2 0h.6m0 0h.6m3.8 0h.6m1.8 0h.6m-.2 0h.6m.8 0h.6m-11.8 .2h.6m2.4 0h.6m3 0h.6m.2 0h.6m2.6 0h.6m-9.8 .2h.6m4 0h.6m1.6 0h.6m-12.6 .2h.6m2.8 0h.6m-4.2 .2h.6m3.4 0h.6m12.8 0h.6m-13.4 .2h.6m-.6 0h.6m-.2 0h.6m8.6 0h.6m1.4 0h.6m-16.4 .2h.6m4 0h.6m.2 0h.6m3.4 0h.6m6.4 0h.6m-4.2 .2h.6m3.6 0h.6m-.4 0h.6m-15.6 .2h.6m3 0h.6m3 0h.6m0 0h.6m1.6 0h.6m2.8 0h.6m.2 0h.6m-16 .2h.6m.2 0h.6m-.6 0h.6m1.6 0h.6m1.4 0h.6m2.4 0h.6m-.2 0h.6m6.6 0h.6m-13.2 .2h.6m0 0h.6m2.4 0h.6m.8 0h.6m-.6 0h.6m6.2 0h.6m-14.4 .2h.6m1.6 0h.6m2.2 0h.6m0 0h.6m4.2 0h.6m-12.8 .2h.6m-.2 0h.6m-.4 0h.6m1.8 0h.6m3.6 0h.6m1.4 0h.6m2.6 0h.6m2.2 0h.6m-15.6 .2h.6m.8 0h.6m-.2 0h.6m-.6 0h.6m1.4 0h.6m.6 0h.6m4.4 0h.6m1 .2h.6m1.8 0h.6m-13.2 .2h.6m-.6 0h.6m3.2 0h.6m1.4 0h.6m.2 0h.6m2.4 0h.6m-11.2 .2h.6m0 0h.6m.4 0h.6m12.2 0h.6m-13.8 .2h.6m-.2 0h.6m5 0h.6m7.2 0h.6m.8 0h.6m-11.8 .2h.6m1.8 0h.6m-5 .2h.6m6.4 0h.6m-11 .2h.6m.2 0h.6m2.2 0h.6m3.2 0h.6m1.2 0h.6m1.2 0h.6m0 0h.6m-3.8 .2h.6m7.2 0h.6m-13.4 .2h.6m6.2 0h.6m2.2 0h.6m0 0h.6m-11.4 .2h.6m12.8 0h.6m-.2 0h.6m-16.4 .2h.6m4.2 0h.6m1.2 0h.6m1.6 0h.6m-.2 0h.6m1.2 0h.6m-11.6 .2h.6m-.4 0h.6m7.4 0h.6m3.6 0h.6m0 0h.6m-5.4 .2h.6m-9.8 .2h.6m7 0h.6m4.2 0h.6m.8 0h.6m-.4 0h.6m.4 0h.6m-4.6 .2h.6m.2 0h.6m1.4 0h.6m-15.2 .2h.6m1.8 0h.6m2.8 0h.6m-.6 0h.6m3.8 0h.6m1.2 0h.6m2.2 0h.6m-13.2 .2h.6m0 0h.6m.8 0h.6m0 0h.6m-.2 0h.6m.6 0h.6m.2 0h.6m-.2 0h.6m0 0h.6m2 0h.6m-6.8 .2h.6m1.2 0h.6m-.4 0h.6m0 0h.6m.2 0h.6m2.6 0h.6m3.8 0h.6m0 0h.6m.6 0h.6m-17.6 .2h.6m6.8 0h.6m4.2 0h.6m1.8 0h.6m-.4 0h.6m-15.8 .2h.6m1 0h.6m2.4 0h.6m.2 0h.6m-.4 0h.6m1.8 0h.6m4 0h.6m-11 .2h.6m1.2 0h.6m2.6 0h.6m2.6 0h.6m-.2 0h.6m3.6 0h.6m-13.8 .2h.6m.6 0h.6m2.4 0h.6m-.4 0h.6m0 0h.6m8.2 0h.6m-16.2 .2h.6m-.4 0h.6m.8 0h.6m-.4 0h.6m-.6 0h.6m1.4 0h.6m.8 0h.6m1 0h.6m6.6 0h.6m-14 .2h.6m0 0h.6m-.4 0h.6m2 0h.6m1 0h.6m1 0h.6m2 0h.6m4 0h.6m2.4 0h.6m-.4 0h.6m-9.8 .2h.6m.2 0h.6m2.4 0h.6m4.2 0h.6m-17.2 .2h.6m.6 0h.6m.2 0h.6m2.8 0h.6m6.6 0h.6m3.4 0h.6m-12.2 .2h.6m4.4 0h.6m-.4 0h.6m-.6 0h.6m.4 0h.6m.2 0h.6m.4 0h.6m1.6 0h.6m-16.2 .2h.6m-.4 0h.6m2.4 0h.6m2.2 0h.6m.6 0h.6m-.2 0h.6m-.4 0h.6m-.4 0h.6m4.8 0h.6m2.2 0h.6m0 0h.6m-15 .2h.6m2 0h.6m.2 0h.6m-.4 0h.6m0 0h.6m9 0h.6m-16.4 .2h.6m1.8 0h.6m3.8 0h.6m.6 0h.6m-.2 0h.6m1 0h.6m2.6 0h.6m.8 0h.6m-13.8 .2h.6m1 0h.6m.8 0h.6m1.8 0h.6m.6 0h.6m3 0h.6m-.6 0h.6m1.4 0h.6m.6 0h.6m-15.8 .2h.6m2.2 0h.6m2.4 0h.6m.4 0h.6m.6 0h.6m3.4 0h.6m.8 0h.6m.2 0h.6m.4 0h.6m-15 .2h.6m-.4 0h.6m3.8 0h.6m5.8 0h.6m-10.8 .2h.6m1.8 0h.6m0 0h.6m2.6 0h.6m3 0h.6m-.2 0h.6m-.4 0h.6m3 0h.6m.2 0h.6m-.6 0h.6m-16 .2h.6m2.2 0h.6m1.4 0h.6m-.2 0h.6m.4 0h.6m-.2 0h.6m.4 0h.6m1.2 0h.6m3.2 0h.6m.2 0h.6m.2 0h.6m1 0h.6m-18 .2h.6m1.8 0h.6m1.2 0h.6m2.4 0h.6m0 0h.6m5 0h.6m.6 0h.6m-.2 0h.6m-14.2 .2h.6m4.2 0h.6m-.2 0h.6m2.6 0h.6m2 0h.6m-12 .2h.6m2 0h.6m0 0h.6m.4 0h.6m.4 0h.6m-6.6 .2h.6m5.2 0h.6m1.8 0h.6m-.6 0h.6m.4 0h.6m7.4 0h.6m-17.6 .2h.6m3.6 0h.6m1 0h.6m3.6 0h.6m1.4 0h.6m2 0h.6m-.4 0h.6m1.6 0h.6m-11.2 .2h.6m.2 0h.6m-.2 0h.6m1.2 0h.6m.8 0h.6m.4 0h.6m.6 0h.6m.4 0h.6m0 0h.6m.2 0h.6m-15 .2h.6m-.2 0h.6m0 0h.6m-.4 0h.6m5 0h.6m.4 0h.6m-.6 0h.6m-.4 0h.6m2 0h.6m.6 0h.6m-.2 0h.6m.8 0h.6m.6 0h.6m-14.6 .2h.6m.4 0h.6m1.2 0h.6m1 0h.6m1.4 0h.6m1.2 0h.6m3.8 0h.6m-12.8 .2h.6m0 0h.6m2 0h.6m-.4 0h.6m7.6 0h.6m1 0h.6m-16.2 .2h.6m1 0h.6m1.6 0h.6m1.2 0h.6m.6 0h.6m.4 0h.6m1.2 0h.6m-.4 0h.6m2.2 0h.6m3.2 0h.6m-16.6 .2h.6m-.2 0h.6m1.8 0h.6m.4 0h.6m1 0h.6m4.2 0h.6m3 0h.6m.6 0h.6m1 0h.6m-17.8 .2h.6m3 0h.6m3.6 0h.6m0 0h.6m3.6 0h.6m.8 0h.6m.8 0h.6m-.2 0h.6m-13.8 .2h.6m-.4 0h.6m0 0h.6m.4 0h.6m-.2 0h.6m1.8 0h.6m.2 0h.6m.2 0h.6m0 0h.6m.4 0h.6m1.6 0h.6m-.4 0h.6m.2 0h.6m3.4 0h.6m-17.6 .2h.6m2 0h.6m3.2 0h.6m-.4 0h.6m-.4 0h.6m2.6 0h.6m0 0h.6m1.4 0h.6m-11.4 .2h.6m7 0h.6m0 0h.6m-.2 0h.6m1.8 0h.6m.8 0h.6m2.2 0h.6m-16.2 .2h.6m-.6 0h.6m.4 0h.6m.6 0h.6m-.2 0h.6m-.4 0h.6m-.4 0h.6m-.2 0h.6m1 0h.6m.6 0h.6m-.2 0h.6m3.8 0h.6m-.2 0h.6m1.4 0h.6m-16 .2h.6m-.2 0h.6m0 0h.6m1.8 0h.6m-.2 0h.6m.2 0h.6m1.4 0h.6m2.8 0h.6m0 0h.6m-.6 0h.6m.4 0h.6m1.2 0h.6m-.2 0h.6m.2 0h.6m-.6 0h.6m0 0h.6m-12 .2h.6m1 0h.6m.2 0h.6m-.2 0h.6m1.4 0h.6m2.6 0h.6m1.8 0h.6m.8 0h.6m-15.2 .2h.6m0 0h.6m3.4 0h.6m0 0h.6m-.6 0h.6m1.4 0h.6m.4 0h.6m-.2 0h.6m.6 0h.6m-.2 0h.6m.2 0h.6m0 0h.6m1.4 0h.6m-.4 0h.6m.8 0h.6m0 0h.6m.2 0h.6m-17.8 .2h.6m-.6 0h.6m.8 0h.6m1 0h.6m1.2 0h.6m-.4 0h.6m.6 0h.6m-.6 0h.6m.4 0h.6m0 0h.6m.4 0h.6m.8 0h.6m-.6 0h.6m-.4 0h.6m.6 0h.6m-.2 0h.6m-.2 0h.6m-.4 0h.6m-.4 0h.6m0 0h.6m-.4 0h.6m.4 0h.6m1.4 0h.6m-.6 0h.6m-17.6 .2h.6m3 0h.6m-.2 0h.6m.4 0h.6m0 0h.6m-.4 0h.6m-.4 0h.6m.2 0h.6m0 0h.6m-.4 0h.6m0 0h.6m.8 0h.6m-.4 0h.6m-.4 0h.6m.6 0h.6m.4 0h.6m3.8 0h.6m-.4 0h.6m.2 0h.6m-17.6 .2h.6m.2 0h.6m-.6 0h.6m0 0h.6m.6 0h.6m-.6 0h.6m-.2 0h.6m-.6 0h.6m0 0h.6m.2 0h.6m0 0h.6m.2 0h.6m1.8 0h.6m-.6 0h.6m-.2 0h.6m.2 0h.6m.4 0h.6m1.6 0h.6m3 0h.6m-.6 0h.6m-17 .2h.6m.4 0h.6m-.4 0h.6m.2 0h.6m-.6 0h.6m0 0h.6m-.4 0h.6m.2 0h.6m-.2 0h.6m-.6 0h.6m1.2 0h.6m-.4 0h.6m.8 0h.6m-.4 0h.6m.6 0h.6m1 0h.6m0 0h.6m.6 0h.6m1.2 0h.6m.2 0h.6m.6 0h.6m-16 .2h.6m2 0h.6m-.6 0h.6m1 0h.6m-.4 0h.6m-.6 0h.6m.6 0h.6m-.2 0h.6m1.4 0h.6m-.4 0h.6m-.6 0h.6m2.6 0h.6m.2 0h.6m.4 0h.6m0 0h.6m.8 0h.6m-15.2 .2h.6m1 0h.6m-.4 0h.6m.6 0h.6m1 0h.6m-.4 0h.6m-.2 0h.6m.6 0h.6m-.4 0h.6m3 0h.6m1.8 0h.6m-.4 0h.6m.2 0h.6m-.4 0h.6m-14.2 .2h.6m.4 0h.6m0 0h.6m-.6 0h.6m-.2 0h.6m-.2 0h.6m1 0h.6m0 0h.6m1.4 0h.6m-.2 0h.6m-.2 0h.6m.2 0h.6m-.4 0h.6m.6 0h.6m1.6 0h.6m.6 0h.6m1.2 0h.6m-.4 0h.6m-.4 0h.6m-17.4 .2h.6m1.6 0h.6m.6 0h.6m.4 0h.6m-.4 0h.6m1 0h.6m-.4 0h.6m-.4 0h.6m.2 0h.6m-.6 0h.6m-.4 0h.6m2 0h.6m.8 0h.6m-.2 0h.6m-.6 0h.6m-.6 0h.6m0 0h.6m.4 0h.6m-.4 0h.6m.4 0h.6m-.6 0h.6m.6 0h.6m-.4 0h.6m-.4 0h.6m.4 0h.6m-15.4 .2h.6m-.4 0h.6m-.6 0h.6m-.2 0h.6m.4 0h.6m.2 0h.6m-.2 0h.6m.4 0h.6m0 0h.6m-.6 0h.6m0 0h.6m.4 0h.6m-.6 0h.6m.2 0h.6m1.4 0h.6m.4 0h.6m.4 0h.6m.6 0h.6m0 0h.6m.6 0h.6m.2 0h.6m-14.4 .2h.6m-.4 0h.6m.8 0h.6m-.2 0h.6m0 0h.6m.2 0h.6m1 0h.6m-.4 0h.6m.2 0h.6m-.4 0h.6m.2 0h.6m.6 0h.6m.4 0h.6m-.4 0h.6m.4 0h.6m.2 0h.6m-.4 0h.6m-.4 0h.6m0 0h.6m0 0h.6m0 0h.6m-.4 0h.6m-17.2 .2h.6m.4 0h.6m-.2 0h.6m-.2 0h.6m0 0h.6m.2 0h.6m-.4 0h.6m-.2 0h.6m.4 0h.6m0 0h.6m.4 0h.6m-.6 0h.6m1.2 0h.6m.6 0h.6m0 0h.6m.6 0h.6m2 0h.6m-.4 0h.6m.6 0h.6m-.4 0h.6m-.4 0h.6m-.2 0h.6m-.6 0h.6m-.4 0h.6m-16.6 .2h.6m.8 0h.6m.2 0h.6m-.2 0h.6m-.2 0h.6m-.4 0h.6m-.4 0h.6m0 0h.6m1.4 0h.6m-.2 0h.6m-.6 0h.6m-.4 0h.6m.8 0h.6m-.6 0h.6m1 0h.6m-.2 0h.6m-.2 0h.6m-.4 0h.6m1.6 0h.6m0 0h.6m-.6 0h.6m1.4 0h.6m.2 0h.6m-.2 0h.6m-17.8 .2h.6m.8 0h.6m3.8 0h.6m-.4 0h.6m2.8 0h.6m-.4 0h.6m.2 0h.6m-.2 0h.6m0 0h.6m.2 0h.6m1 0h.6m-.4 0h.6m-.6 0h.6m.4 0h.6m0 0h.6m.2 0h.6m.4 0h.6m-17.8 .2h.6m1.2 0h.6m.6 0h.6m-.4 0h.6m.2 0h.6m-.4 0h.6m2.4 0h.6m-.4 0h.6m-.6 0h.6m-.4 0h.6m0 0h.6m.4 0h.6m-.2 0h.6m.8 0h.6m-.4 0h.6m-.6 0h.6m-.4 0h.6m.4 0h.6m-.2 0h.6m.6 0h.6m2 0h.6m-17.2 .2h.6m-.6 0h.6m.2 0h.6m0 0h.6m.6 0h.6m.4 0h.6m-.6 0h.6m-.2 0h.6m1 0h.6m.6 0h.6m0 0h.6m1 0h.6m.8 0h.6m2 0h.6m-.2 0h.6m.2 0h.6m.2 0h.6m-.6 0h.6m-.4 0h.6m-.6 0h.6m1.2 0h.6m-.6 0h.6m-.4 0h.6m-.6 0h.6m-17.6 .2h.6m.4 0h.6m-.4 0h.6m-.6 0h.6m-.2 0h.6m-.2 0h.6m-.4 0h.6m.2 0h.6m.4 0h.6m-.4 0h.6m.8 0h.6m-.4 0h.6m-.4 0h.6m.2 0h.6m-.2 0h.6m.2 0h.6m-.2 0h.6m-.2 0h.6m-.6 0h.6m0 0h.6m3.4 0h.6m-.4 0h.6m-.6 0h.6m-.4 0h.6m-.2 0h.6m1.8 0h.6m-.2 0h.6m-17.6 .2h.6m-.2 0h.6m0 0h.6m-.2 0h.6m.4 0h.6m.8 0h.6m.4 0h.6m-.6 0h.6m.6 0h.6m-.6 0h.6m.8 0h.6m0 0h.6m0 0h.6m-.6 0h.6m.4 0h.6m.4 0h.6m-.2 0h.6m1 0h.6m.2 0h.6m1.2 0h.6m-.6 0h.6m-15.6 .2h.6m.4 0h.6m0 0h.6m-.4 0h.6m.2 0h.6m.4 0h.6m-.6 0h.6m-.4 0h.6m1.4 0h.6m.2 0h.6m-.2 0h.6m-.2 0h.6m0 0h.6m.2 0h.6m0 0h.6m-.6 0h.6m-.4 0h.6m.2 0h.6m-.2 0h.6m-.4 0h.6m.8 0h.6m-.2 0h.6m-.4 0h.6m0 0h.6m.2 0h.6m-.6 0h.6m-.4 0h.6m-.2 0h.6m-.2 0h.6m-.4 0h.6m-17 .2h.6m-.2 0h.6m0 0h.6m.2 0h.6m.6 0h.6m-.4 0h.6m-.6 0h.6m0 0h.6m-.6 0h.6m.6 0h.6m-.4 0h.6m.2 0h.6m-.2 0h.6m0 0h.6m0 0h.6m.6 0h.6m-.4 0h.6m-.2 0h.6m.2 0h.6m-.4 0h.6m0 0h.6m2.4 0h.6m-.4 0h.6m1.6 0h.6m-.4 0h.6m-.2 0h.6m-.6 0h.6m-17.4 .2h.6m-.2 0h.6m-.4 0h.6m.6 0h.6m-.6 0h.6m-.2 0h.6m-.2 0h.6m.2 0h.6m-.4 0h.6m.2 0h.6m-.6 0h.6m-.2 0h.6m0 0h.6m0 0h.6m1.2 0h.6m-.4 0h.6m-.2 0h.6m-.4 0h.6m-.4 0h.6m-.6 0h.6m.8 0h.6m-.4 0h.6m-.2 0h.6m-.4 0h.6m-.4 0h.6m0 0h.6m-.2 0h.6m1 0h.6m-.2 0h.6m-.4 0h.6m-.6 0h.6m-.2 0h.6m-.4 0h.6m1.2 0h.6m-.6 0h.6m-.2 0h.6m-.4 0h.6m-18 .2h.6m.4 0h.6m-.2 0h.6m-.6 0h.6m1.4 0h.6m-.4 0h.6m0 0h.6m-.2 0h.6m-.2 0h.6m.2 0h.6m-.4 0h.6m-.6 0h.6m-.4 0h.6m.6 0h.6m-.2 0h.6m-.4 0h.6m-.4 0h.6m-.4 0h.6m-.4 0h.6m0 0h.6m-.6 0h.6m.4 0h.6m-.4 0h.6m-.4 0h.6m-.4 0h.6m-.4 0h.6m0 0h.6m.2 0h.6m-.6 0h.6m1.8 0h.6m-.2 0h.6m-.6 0h.6m-.2 0h.6m-.6 0h.6m.8 0h.6m-17.6 .2h.6m0 0h.6m-.6 0h.6m-.4 0h.6m-.4 0h.6m.2 0h.6m0 0h.6m2.2 0h.6m-.4 0h.6m1.6 0h.6m-.6 0h.6m.2 0h.6m-.2 0h.6m-.4 0h.6m-.4 0h.6m-.2 0h.6m-.4 0h.6m0 0h.6m1 0h.6m-.6 0h.6m-.6 0h.6m2.6 0h.6m0 0h.6m-.4 0h.6m-.2 0h.6m-.6 0h.6m-.2 0h.6m-.4 0h.6m-17.6 .2h.6m-.4 0h.6m-.4 0h.6m-.4 0h.6m-.4 0h.6m.8 0h.6m-.2 0h.6m0 0h.6m-.2 0h.6m-.2 0h.6m-.4 0h.6m-.4 0h.6m-.2 0h.6m.6 0h.6m-.6 0h.6m2 0h.6m-.4 0h.6m0 0h.6m.4 0h.6m-.2 0h.6m-.4 0h.6m-.2 0h.6m.6 0h.6m-.2 0h.6m-.2 0h.6m-.2 0h.6m0 0h.6m-.6 0h.6m-.4 0h.6m.4 0h.6m-.4 0h.6m-.2 0h.6m-.2 0h.6m-17.4 .2h.6m-.4 0h.6m-.4 0h.6m-.2 0h.6m.6 0h.6m-.6 0h.6m1 0h.6m0 0h.6m-.4 0h.6m0 0h.6m-.4 0h.6m-.4 0h.6m1.2 0h.6m0 0h.6m-.4 0h.6m-.4 0h.6m.2 0h.6m.8 0h.6m0 0h.6m-.4 0h.6m-.6 0h.6m1.6 0h.6m1.8 0h.6m-.4 0h.6m-.6 0h.6" stroke="#e27a8f" stroke-width="0.6" stroke-opacity="0.7" fill="none"/>
<rect x="272.20" y="229.41" width="17.80" height="12.99" fill="none" stroke="#c66b7d" stroke-width="0.7"/>
<line x1="272.20" y1="240.54" x2="290.00" y2="240.54" stroke="#c66b7d" stroke-width="0.7"/>
<line x1="281.10" y1="214.56" x2="281.10" y2="229.41" stroke="#c66b7d" stroke-width="0.7"/>
<line x1="281.10" y1="242.40" x2="281.10" y2="242.40" stroke="#c66b7d" stroke-width="0.7"/>
<line x1="276.60" y1="214.56" x2="285.60" y2="214.56" stroke="#c66b7d" stroke-width="0.7"/>
<line x1="276.60" y1="242.40" x2="285.60" y2="242.40" stroke="#c66b7d" stroke-width="0.7"/>
<circle cx="281.10" cy="232.66" r="0.85" fill="#3d7a2a"/>
<rect x="306.20" y="150.03" width="17.80" height="93.37" fill="url(#g8)"/>
<path d="M320.8 151.0h.6m-6.4 .2h.6m5 0h.6m.8 0h.6m-6.2 .2h.6m4.6 0h.6m-13.6 .4h.6m.8 0h.6m2.2 0h.6m5.8 0h.6m-7.6 .2h.6m2.6 0h.6m-4.8 .2h.6m-5.8 .2h.6m1.8 0h.6m10.4 .2h.6m-4.8 .2h.6m-1.4 .2h.6m1 0h.6m-4 .2h.6m6 0h.6m3.4 0h.6m-13.8 .2h.6m3 .2h.6m6.6 0h.6m-14.2 .4h.6m6.4 .2h.6m3 0h.6m0 0h.6m-.2 0h.6m-.4 0h.6m1.4 0h.6m-4.6 .2h.6m2.6 0h.6m-12.4 .2h.6m7.6 .2h.6m6.2 0h.6m-.4 0h.6m-15.6 .2h.6m12 0h.6m-8 .2h.6m1.4 0h.6m-8.2 .2h.6m1.8 0h.6m5.6 0h.6m-4.4 .2h.6m-7 .2h.6m1.6 0h.6m13.2 0h.6m-15.6 .2h.6m1.4 .2h.6m.6 0h.6m5.6 0h.6m3 0h.6m-14 .2h.6m3 0h.6m1 0h.6m4 0h.6m4 0h.6m-11.2 .2h.6m3.8 0h.6m4.2 .2h.6m2.4 0h.6m-6 .2h.6m4.8 0h.6m-4.4 .2h.6m-1.6 .2h.6m4 0h.6m-4.4 .2h.6m-9.6 .2h.6m7.8 0h.6m-5.8 .2h.6m2.6 0h.6m-8 .2h.6m3.4 0h.6m6.2 0h.6m-13.8 .2h.6m-.2 0h.6m-.4 0h.6m15.4 0h.6m-14.4 .2h.6m.8 .2h.6m2 0h.6m2.2 0h.6m.4 0h.6m-6.8 .2h.6m.4 0h.6m5.2 0h.6m2 0h.6m-.4 0h.6m-13.6 .4h.6m2.6 0h.6m6 0h.6m-11.6 .4h.6m9.2 0h.6m-10 .2h.6m13.8 0h.6m-14.6 .2h.6m.6 0h.6m9.2 .2h.6m.6 0h.6m1.2 0h.6m-4.2 .2h.6m.6 0h.6m-13 .2h.6m2 0h.6m1.2 0h.6m7.6 0h.6m-7.8 .2h.6m1.8 0h.6m-.4 0h.6m3.4 0h.6m-13.2 .6h.6m8.2 0h.6m1.4 0h.6m4.2 0h.6m-13 .2h.6m2.6 0h.6m6.8 0h.6m1.4 0h.6m-16.2 .2h.6m-.2 0h.6m4.4 0h.6m6.6 0h.6m3.6 0h.6m-13 .2h.6m7.6 0h.6m-12 .2h.6m8.2 0h.6m4.4 0h.6m-14.6 .2h.6m-.2 0h.6m-.2 0h.6m11 0h.6m-9 .2h.6m2.4 0h.6m-8.2 .2h.6m12.2 0h.6m.2 0h.6m-13.2 .2h.6m8.2 0h.6m-7.6 .2h.6m.6 0h.6m3 0h.6m-.2 0h.6m5.2 0h.6m.2 0h.6m-14.8 .2h.6m1.6 0h.6m4.8 0h.6m-.2 0h.6m3.8 0h.6m1.2 0h.6m1.2 0h.6m-17.4 .2h.6m3.2 0h.6m4.6 0h.6m2.2 0h.6m-7 .2h.6m1.8 0h.6m3 0h.6m1.4 0h.6m1.2 0h.6m-6.6 .2h.6m-5.8 .2h.6m5.4 0h.6m4.2 0h.6m-14.6 .2h.6m.4 0h.6m-2.4 .2h.6m.2 0h.6m2.6 0h.6m9.6 0h.6m-12.8 .2h.6m11.6 0h.6m.4 0h.6m-6.2 .2h.6m6.2 0h.6m-17.2 .2h.6m3.8 0h.6m-.4 0h.6m0 .2h.6m6.8 0h.6m4 0h.6m-16.2 .2h.6m3 0h.6m2.2 0h.6m1.8 0h.6m-.4 0h.6m5.8 0h.6m-14.4 .2h.6m10.8 0h.6m1.6 0h.6m-.2 0h.6m-16.4 .2h.6m.8 0h.6m7.6 0h.6m0 0h.6m-4.2 .2h.6m2.6 0h.6m.2 0h.6m-9.6 .2h.6m.8 0h.6m-.4 0h.6m10.2 0h.6m-.4 0h.6m-11.6 .2h.6m5.2 0h.6m4.8 0h.6m-12.6 .2h.6m5 0h.6m0 0h.6m2 0h.6m4.2 0h.6m-16.8 .2h.6m11.2 0h.6m-11.2 .2h.6m4.6 0h.6m2.4 0h.6m.4 0h.6m-11.8 .2h.6m3.2 0h.6m.6 0h.6m-.2 0h.6m.4 0h.6m-.4 0h.6m2 0h.6m5.6 0h.6m.4 0h.6m-16.4 .2h.6m3 0h.6m1 0h.6m8.6 0h.6m.2 .2h.6m-4.8 .2h.6m0 0h.6m.6 0h.6m-13.8 .2h.6m4.4 0h.6m2.8 0h.6m4 0h.6m-8.6 .2h.6m3.8 0h.6m.8 0h.6m1 0h.6m3 0h.6m-12.8 .2h.6m.8 0h.6m-.4 0h.6m3.6 0h.6m1.6 0h.6m2.4 0h.6m-12.4 .2h.6m2.4 0h.6m-.2 0h.6m-.4 0h.6m1.8 0h.6m-.2 0h.6m2.4 0h.6m-9 .2h.6m7 0h.6m-10.6 .2h.6m8.4 0h.6m-.6 0h.6m-.4 0h.6m.8 0h.6m1.4 0h.6m1 0h.6m-14.8 .2h.6m2.2 .2h.6m2.8 0h.6m.4 0h.6m1.6 0h.6m-9.8 .2h.6m.4 0h.6m.4 0h.6m1.2 0h.6m-5.8 .2h.6m3.6 0h.6m5.4 0h.6m1.8 0h.6m-10.2 .2h.6m.2 0h.6m12.2 0h.6m-18 .2h.6m0 0h.6m5.4 0h.6m0 0h.6m4.4 0h.6m1.6 0h.6m1.4 0h.6m-11.6 .2h.6m6.6 0h.6m.6 0h.6m-.2 0h.6m-.4 0h.6m.2 0h.6m1 0h.6m-17.2 .2h.6m.2 0h.6m6 0h.6m3 0h.6m1.6 0h.6m.4 0h.6m.8 0h.6m-6.4 .2h.6m.6 0h.6m.8 0h.6m2.4 0h.6m-15.6 .2h.6m2.4 0h.6m.4 0h.6m6 0h.6m-.2 0h.6m1.2 0h.6m-8.8 .2h.6m1.8 0h.6m8.4 0h.6m-.2 0h.6m-.2 0h.6m-11 .2h.6m1.8 0h.6m6.8 0h.6m-17.4 .2h.6m0 0h.6m1 0h.6m3.6 0h.6m3.8 0h.6m-9 .2h.6m8.4 0h.6m2.8 0h.6m-.2 0h.6m-11.4 .2h.6m2.4 0h.6m-8.2 .2h.6m14.6 0h.6m-13.2 .2h.6m-.4 0h.6m-.6 0h.6m-.4 0h.6m.2 0h.6m.6 0h.6m-.6 0h.6m.8 0h.6m1.8 0h.6m1.6 0h.6m-.2 0h.6m0 0h.6m.8 0h.6m2.4 0h.6m-15.2 .2h.6m1.6 0h.6m.6 0h.6m.6 0h.6m-.6 0h.6m1.2 0h.6m4.8 0h.6m3.2 0h.6m-14.6 .2h.6m3 0h.6m6.6 0h.6m-.2 0h.6m1 0h.6m.8 0h.6m-9.8 .2h.6m0 0h.6m3.4 0h.6m.8 0h.6m-8.6 .2h.6m.8 0h.6m5.4 0h.6m.2 0h.6m2.2 0h.6m-16.6 .2h.6m2.8 0h.6m-.6 0h.6m3 0h.6m-1.8 .2h.6m1.8 0h.6m0 0h.6m-4.6 .2h.6m6 0h.6m-11.8 .2h.6m2.2 0h.6m-.6 0h.6m2 0h.6m.2 0h.6m.6 0h.6m3.2 0h.6m1.2 0h.6m-.4 0h.6m1.2 0h.6m.4 0h.6m-13.2 .2h.6m1.2 0h.6m1.4 0h.6m.8 0h.6m1.2 0h.6m-12.6 .2h.6m2 0h.6m1 0h.6m3 0h.6m.8 0h.6m1.4 0h.6m-.2 0h.6m2.6 0h.6m2 0h.6m-16.8 .2h.6m4.4 0h.6m-.6 0h.6m8 0h.6m-10.6 .2h.6m0 0h.6m2.2 0h.6m3.8 0h.6m2.6 0h.6m1 0h.6m-14.4 .2h.6m1.6 0h.6m-.4 0h.6m.4 0h.6m1.4 0h.6m3.6 0h.6m-12 .2h.6m4.2 0h.6m-6 .2h.6m.4 0h.6m-.6 0h.6m6.6 0h.6m2.6 0h.6m-.6 0h.6m1.4 0h.6m1 0h.6m-15.2 .2h.6m0 0h.6m.8 0h.6m4 0h.6m5 0h.6m0 0h.6m-.4 0h.6m2 0h.6m-15.2 .2h.6m3.4 0h.6m.8 0h.6m3.8 0h.6m.8 0h.6m1.4 0h.6m.8 0h.6m-17.6 .2h.6m.4 0h.6m1.6 0h.6m.8 0h.6m-.2 0h.6m6 0h.6m.2 0h.6m-.2 0h.6m-11.6 .2h.6m1.6 0h.6m.6 0h.6m6.6 0h.6m-.4 0h.6m-.4 0h.6m3.6 0h.6m-15.6 .2h.6m.8 0h.6m2 0h.6m3.6 0h.6m.2 0h.6m.8 0h.6m-4.6 .2h.6m3.2 0h.6m1 0h.6m3 0h.6m-9.6 .2h.6m3 0h.6m-.6 0h.6m-.6 0h.6m-8.8 .2h.6m2.4 0h.6m5 0h.6m0 0h.6m.6 0h.6m1.2 0h.6m-.6 0h.6m-.6 0h.6m-15.2 .2h.6m-.2 0h.6m5.2 0h.6m.6 0h.6m-.6 0h.6m6 0h.6m1 0h.6m-.4 0h.6m-16.4 .2h.6m0 0h.6m-.4 0h.6m0 0h.6m-.2 0h.6m.4 0h.6m5 0h.6m.2 0h.6m1.6 0h.6m.6 0h.6m-8.4 .2h.6m.6 0h.6m.8 0h.6m1.2 0h.6m-.6 0h.6m.8 0h.6m.6 0h.6m1.8 0h.6m-.4 0h.6m-16.6 .2h.6m6.2 0h.6m-4.4 .2h.6m.4 0h.6m-.2 0h.6m.6 0h.6m9.4 0h.6m-9.4 .2h.6m3.6 0h.6m5 0h.6m-15.6 .2h.6m-.4 0h.6m-.4 0h.6m4.6 0h.6m-.4 0h.6m5.2 0h.6m1.8 0h.6m-12 .2h.6m6 0h.6m3.4 0h.6m-12.4 .2h.6m1 0h.6m1.4 0h.6m-5.2 .2h.6m-.6 0h.6m.6 0h.6m.4 0h.6m2.8 0h.6m.2 0h.6m-4.8 .2h.6m.2 0h.6m2 0h.6m.6 0h.6m6 0h.6m0 0h.6m-16.4 .2h.6m15.2 0h.6m-13.2 .2h.6m1.4 0h.6m4.4 0h.6m-.4 0h.6m-7.4 .2h.6m2.2 0h.6m1.8 0h.6m0 0h.6m-9.8 .2h.6m.4 0h.6m3.6 0h.6m0 0h.6m-.6 0h.6m8.2 0h.6m-14.6 .2h.6m4.8 0h.6m5.8 0h.6m-11.8 .2h.6m3 0h.6m8.2 0h.6m1.4 0h.6m-12.2 .2h.6m1 0h.6m-.4 0h.6m1.2 0h.6m-.2 0h.6m4.2 0h.6m.2 0h.6m2.2 0h.6m-.6 0h.6m-10.4 .2h.6m4.6 0h.6m3.2 0h.6m-8.4 .2h.6m2.8 0h.6m1 0h.6m1 0h.6m.4 0h.6m-14.4 .2h.6m5.2 0h.6m.6 0h.6m-.6 0h.6m-7.2 .2h.6m-.4 0h.6m0 0h.6m.6 0h.6m2.4 0h.6m.2 0h.6m0 0h.6m-7.6 .2h.6m-.2 0h.6m6.4 0h.6m.8 0h.6m5 0h.6m-16.8 .2h.6m.2 0h.6m.8 0h.6m.2 0h.6m4.2 0h.6m-.6 0h.6m4.6 0h.6m.8 0h.6m-14.4 .2h.6m1.8 0h.6m2.6 0h.6m0 0h.6m.8 0h.6m.2 0h.6m.6 0h.6m.6 0h.6m1.2 0h.6m0 0h.6m-12.4 .2h.6m.6 0h.6m2 0h.6m.6 0h.6m.6 0h.6m.4 0h.6m3.2 0h.6m.6 0h.6m2.6 0h.6m-15.6 .2h.6m0 0h.6m5.4 0h.6m2.8 0h.6m.2 0h.6m2.2 0h.6m-13.6 .2h.6m1.2 0h.6m.2 0h.6m-.4 0h.6m3.6 0h.6m5.4 0h.6m-16.6 .2h.6m.4 0h.6m3 0h.6m7.2 0h.6m-12.4 .2h.6m1.8 0h.6m2.4 0h.6m.2 0h.6m2.2 0h.6m1.4 0h.6m-.4 0h.6m1 0h.6m-.4 0h.6m3 0h.6m-16.4 .2h.6m1.8 0h.6m.8 0h.6m4 0h.6m-.6 0h.6m.4 0h.6m.6 0h.6m3.4 0h.6m-.4 0h.6m-14.8 .2h.6m4 0h.6m6 0h.6m2.4 0h.6m.6 0h.6m-11.6 .2h.6m-4.4 .2h.6m0 0h.6m.2 0h.6m4.2 0h.6m4.6 0h.6m-3.2 .2h.6m.2 0h.6m2 0h.6m-.2 0h.6m1 0h.6m-16.4 .2h.6m3.4 0h.6m11.4 0h.6m-17.2 .2h.6m4.8 0h.6m2 0h.6m1.4 0h.6m.2 0h.6m3 0h.6m-13.2 .2h.6m.8 0h.6m-.6 0h.6m2 0h.6m2.8 0h.6m.6 0h.6m3 0h.6m-.4 0h.6m2 0h.6m-17.4 .2h.6m1.6 0h.6m2.2 0h.6m.2 0h.6m4.2 0h.6m2.2 0h.6m-14.2 .2h.6m2 0h.6m3.4 0h.6m3.4 0h.6m1 0h.6m-11.8 .2h.6m5.4 0h.6m1.2 0h.6m.8 0h.6m-10.4 .2h.6m3.6 0h.6m1.2 0h.6m-.2 0h.6m3 0h.6m4.6 0h.6m-.4 0h.6m-13.6 .2h.6m1.8 0h.6m2 0h.6m8.2 0h.6m-16.4 .2h.6m-.2 0h.6m-.4 0h.6m3.6 0h.6m-.2 0h.6m.4 0h.6m-.6 0h.6m-.4 0h.6m6.4 0h.6m.4 0h.6m.2 0h.6m-15.8 .2h.6m2.2 0h.6m-.6 0h.6m3.8 0h.6m-8.6 .2h.6m2.8 0h.6m2.2 0h.6m4 0h.6m1.6 0h.6m.2 0h.6m-.6 0h.6m2.2 0h.6m-15.6 .2h.6m-.4 0h.6m.8 0h.6m1.8 0h.6m-.6 0h.6m9.2 0h.6m-.4 0h.6m-15.6 .2h.6m.6 0h.6m.8 0h.6m.6 0h.6m.6 0h.6m3 0h.6m1.6 0h.6m.8 0h.6m0 0h.6m1.8 0h.6m-15.2 .2h.6m-.2 0h.6m.6 0h.6m.4 0h.6m.8 0h.6m.6 0h.6m2 0h.6m-.4 0h.6m1 0h.6m3.8 0h.6m-8.2 .2h.6m6 0h.6m-.4 0h.6m.2 0h.6m-13.6 .2h.6m1 0h.6m-.2 0h.6m-.6 0h.6m0 0h.6m-.2 0h.6m1.4 0h.6m4.8 0h.6m-.6 0h.6m2.2 0h.6m-14.8 .2h.6m-.4 0h.6m-.2 0h.6m-.2 0h.6m3.8 0h.6m0 0h.6m4.2 0h.6m1.2 0h.6m-.4 0h.6m1 0h.6m1.2 0h.6m-14.6 .2h.6m2.2 0h.6m.2 0h.6m2.2 0h.6m-.6 0h.6m0 0h.6m-.2 0h.6m-.4 0h.6m.2 0h.6m.6 0h.6m1 0h.6m1 0h.6m-16.8 .2h.6m-.2 0h.6m-.6 0h.6m-.2 0h.6m5.2 0h.6m3 0h.6m-.2 0h.6m-.2 0h.6m1.6 0h.6m0 0h.6m.6 0h.6m-.4 0h.6m-13.6 .2h.6m-.6 0h.6m3.6 0h.6m2.8 0h.6m2.8 0h.6m3.2 0h.6m-12 .2h.6m1.4 0h.6m2 0h.6m5.2 0h.6m.8 0h.6m-16.8 .2h.6m-.2 0h.6m.8 0h.6m0 0h.6m1.8 0h.6m.2 0h.6m2.4 0h.6m3.4 0h.6m.2 0h.6m2 0h.6m-17.8 .2h.6m2.4 0h.6m12 0h.6m-13.2 .2h.6m2.6 0h.6m.6 0h.6m4.2 0h.6m-.4 0h.6m.4 0h.6m2.8 0h.6m-17.2 .2h.6m1 0h.6m13.8 0h.6m-14.8 .2h.6m3.4 0h.6m1.8 0h.6m1.8 0h.6m3 0h.6m.2 0h.6m-14.8 .2h.6m0 0h.6m-.4 0h.6m3.2 0h.6m9 0h.6m1 0h.6m-.6 0h.6m-9.8 .2h.6m3.2 0h.6m2.4 0h.6m-.2 0h.6m-.4 0h.6m1.6 0h.6m-17 .2h.6m2.6 0h.6m4 0h.6m1.8 0h.6m1 0h.6m-13 .2h.6m.2 0h.6m.6 0h.6m1.2 0h.6m2.2 0h.6m-.4 0h.6m0 0h.6m5.6 0h.6m-14.6 .2h.6m7.8 0h.6m2.2 0h.6m2 0h.6m2.8 0h.6m-17.4 .2h.6m2.8 0h.6m5.4 0h.6m4.6 0h.6m-7 .2h.6m3.6 0h.6m.6 0h.6m.2 0h.6m-14.2 .2h.6m6.4 0h.6m-.4 0h.6m2 0h.6m2 0h.6m-9.2 .2h.6m5.4 0h.6m3 0h.6m-9.2 .2h.6m4.6 0h.6m-7.2 .2h.6m4 0h.6m.6 0h.6m0 0h.6m.4 0h.6m-.2 0h.6m.4 0h.6m0 0h.6m2 0h.6m-5.8 .2h.6m-.2 0h.6m-8.6 .2h.6m-.4 0h.6m7.8 0h.6m-7.8 .2h.6m3.8 0h.6m.8 0h.6m.6 0h.6m0 0h.6m.8 0h.6m-14.8 .2h.6m0 0h.6m1.4 0h.6m.8 0h.6m4.8 0h.6m-2.6 .2h.6m.6 0h.6m1.2 0h.6m.8 0h.6m-7.4 .2h.6m.6 0h.6m.6 0h.6m.4 0h.6m6.6 0h.6m1.4 0h.6m-17 .2h.6m3.4 0h.6m-.6 0h.6m2.2 0h.6m4.8 0h.6m-.2 0h.6m1.6 0h.6m-.6 0h.6m-9.4 .2h.6m8.6 0h.6m-16 .4h.6m13.8 0h.6m-8.8 .2h.6m2.4 0h.6m-8 .2h.6m11.8 0h.6m.4 0h.6m-16.2 .2h.6m8 0h.6m4 0h.6m.4 0h.6m.4 0h.6m-9 .2h.6m8.4 0h.6m-.6 0h.6m-.2 0h.6m-.2 0h.6m-17 .2h.6m-.2 0h.6m4 0h.6m-.4 0h.6m10.2 0h.6m-12.4 .2h.6m-.4 0h.6m4.2 0h.6m2 0h.6m-4.4 .2h.6m7.4 0h.6m-13 .2h.6m.8 .2h.6m2 0h.6m1.6 0h.6m1.8 0h.6m-10.2 .2h.6m7 0h.6m-10.4 .2h.6m1.4 0h.6m8.6 0h.6m-9 .2h.6m-2.6 .2h.6m6.2 0h.6m2.4 0h.6m4.4 0h.6m-16.8 .2h.6m2.2 0h.6m.8 0h.6m5.2 0h.6m.4 0h.6m-12 .2h.6m.4 0h.6m-.6 0h.6m4.2 0h.6m.2 0h.6m1 0h.6m1.2 0h.6m-.4 0h.6m-6.4 .2h.6m6.2 0h.6m5 0h.6m-17.4 .2h.6m4.2 0h.6m1.2 0h.6m8 0h.6m-8.6 .2h.6m9 0h.6m-17.4 .2h.6m4.4 0h.6m.6 0h.6m.8 0h.6m2.4 0h.6m.4 0h.6m-.2 0h.6m2.6 .2h.6m-.4 0h.6m-5.4 .2h.6m2.6 0h.6m-2.8 .2h.6m-12.4 .2h.6m15.8 0h.6m-16 .2h.6m-.4 0h.6m-1.4 .2h.6m-.2 0h.6m4.2 0h.6m-3.2 .2h.6m13.8 0h.6m-16.4 .2h.6m6.8 0h.6m-.2 0h.6m2.6 0h.6m2.4 0h.6m-12.2 .2h.6m.4 0h.6m-.4 0h.6m6.2 0h.6m-12.6 .2h.6m4.6 0h.6m8.2 0h.6m-11.8 .2h.6m.4 0h.6m-.6 0h.6m.8 0h.6m11 0h.6m-3.6 .2h.6m-.6 0h.6m.6 0h.6m-.4 0h.6m-.2 0h.6m-11.4 .2h.6m3.8 0h.6m3 0h.6m-9.6 .2h.6m9.6 0h.6m2 0h.6m-15.8 .2h.6m1.8 0h.6m9 0h.6m-10.6 .2h.6m9.6 0h.6m1.8 0h.6m-11.8 .2h.6m2.4 .2h.6m6.4 0h.6m-.4 0h.6m-13 .2h.6m2.6 0h.6m6.8 0h.6m-.6 0h.6m-6.8 .2h.6m.2 0h.6m-6.8 .2h.6m-.4 0h.6m0 0h.6m11 0h.6m.2 0h.6m.6 0h.6m-9.8 .4h.6m4.2 .2h.6m5.2 0h.6m-9.8 .4h.6m3.4 0h.6m-12.6 .4h.6m6 0h.6m9.2 0h.6m.2 .2h.6m-16.8 .2h.6m1.6 0h.6m-.4 0h.6m-1 .2h.6m-.4 0h.6m8.8 0h.6m.8 0h.6m-7 .2h.6m5.8 0h.6m-5.6 .2h.6m1.2 .2h.6m-.4 0h.6m-9.4 .2h.6m5.2 0h.6m2.4 0h.6m4.4 0h.6m-13.6 .2h.6m-.4 0h.6m6.6 0h.6m-8.4 .2h.6m7.2 0h.6m-4.8 .2h.6m6.2 0h.6m2.6 0h.6m-14.8 .2h.6m5.6 0h.6m2.4 0h.6m2 0h.6m2.2 0h.6m-9.6 .2h.6m4.6 0h.6m.4 0h.6m-6 .2h.6m3.2 0h.6m3.2 0h.6m-13.8 .2h.6m-2.8 .2h.6m9 .2h.6m-.4 0h.6m-8 .2h.6m-.4 0h.6m3 .2h.6m-6.4 .2h.6m2.6 0h.6m4.2 0h.6m-5.4 .2h.6m3 0h.6m2.2 0h.6m0 0h.6m2.6 0h.6m-15.2 .2h.6m9 0h.6m-.8 .2h.6m2.2 0h.6m-12 .2h.6m8.2 0h.6m.6 0h.6m-3 .2h.6m4.2 0h.6m-.2 0h.6m-9.2 .2h.6m1 .4h.6m-1 .2h.6m4.4 0h.6m-7.6 .4h.6m9 .2h.6m-.2 0h.6m-13.8 .2h.6m-.2 0h.6m3.6 0h.6m5.8 0h.6m1.2 0h.6m-12.4 .4h.6m0 0h.6m6.2 0h.6m.2 0h.6m1 0h.6m1.2 0h.6m-2.6 .2h.6m-2.2 .2h.6m-6.4 .2h.6m1.8 0h.6m6.6 .2h.6m-4 .2h.6m5.8 0h.6m-10.4 .2h.6m2.8 0h.6m6.2 0h.6m-8.8 .2h.6m2 0h.6m.8 0h.6m.4 0h.6m.8 0h.6m1.6 0h.6m-18.2 .2h.6m6.2 0h.6m6.8 0h.6m-7.4 .2h.6m1.8 0h.6m3.2 0h.6m1 0h.6m-11.4 .2h.6m11.2 0h.6m.8 0h.6m-17.6 .2h.6m7.2 0h.6m.2 0h.6m5.2 0h.6m.2 0h.6m-9.4 .2h.6m3.2 0h.6m.6 .2h.6m4.4 0h.6m-16.4 .2h.6m2.4 0h.6m6 0h.6m1.8 0h.6m-13.2 .2h.6m3 .2h.6m-1 .2h.6m0 .2h.6m1 0h.6m0 0h.6m-.4 0h.6m2 0h.6m.6 0h.6m.2 0h.6m3.4 .2h.6m-15.4 .2h.6m1.6 0h.6m5.8 0h.6m.4 0h.6m-7.8 .2h.6m2.2 0h.6m1.6 0h.6m3.2 0h.6m-12 .2h.6m-.4 0h.6m.4 0h.6m4.4 0h.6m7.2 0h.6m-14.4 .2h.6m2.2 0h.6m8 0h.6m-2.6 .6h.6m-6.4 .2h.6m2 0h.6m1 0h.6m1.6 0h.6m2.6 0h.6m3 0h.6m-17 .2h.6m1.6 0h.6m7 0h.6m2.4 0h.6m-7.2 .2h.6m7.2 0h.6m-15 .2h.6m8.8 0h.6m.8 0h.6m-8.6 .2h.6m4.8 0h.6m4.8 0h.6m-.4 0h.6m-5.6 .2h.6m2.2 0h.6m-.2 0h.6m-13 .2h.6m.4 0h.6m.8 0h.6m1.2 0h.6m3.6 0h.6m7.6 0h.6m-.6 0h.6m-.4 0h.6m-12.6 .2h.6m4.8 0h.6m6.2 0h.6m-13.6 .2h.6m-.4 0h.6m3.8 0h.6m2 0h.6m.4 0h.6m2.4 0h.6m-11 .2h.6m3.8 0h.6m-9.4 .2h.6m6 0h.6m1.4 0h.6m4.4 0h.6m-.4 0h.6m1.8 0h.6m-12.8 .2h.6m0 0h.6m-4.2 .2h.6m7.4 0h.6m-5.6 .2h.6m5 0h.6m0 0h.6m-.2 0h.6m.2 0h.6m2.4 0h.6m-12 .2h.6m-.2 0h.6m-3.8 .2h.6m2.8 0h.6m.4 0h.6m2.4 0h.6m4 0h.6m.8 0h.6m-7.4 .2h.6m-5 .2h.6m1.8 0h.6m1.2 0h.6m-.2 .2h.6m1.8 0h.6m-.2 0h.6m-.2 0h.6m4.8 0h.6m-14.4 .2h.6m1.2 0h.6m-3.2 .2h.6m1.8 0h.6m1.2 0h.6m1 0h.6m-6 .2h.6m2.4 0h.6m3.8 0h.6m-9.4 .2h.6m-.6 0h.6m3.4 0h.6m2.6 0h.6m5 0h.6m-11.2 .2h.6m2 0h.6m2 0h.6m2 0h.6m1.4 0h.6m-6.8 .2h.6m.8 0h.6m-.6 .2h.6m2.2 0h.6m.2 0h.6m.8 0h.6m-3.8 .2h.6m1.8 0h.6m3.8 0h.6m-14.8 .2h.6m4.4 0h.6m.8 0h.6m-.2 0h.6m2.2 0h.6m2.2 0h.6m1 0h.6m0 0h.6m-16.4 .2h.6m5 0h.6m1 0h.6m1 0h.6m4.2 0h.6m-14.6 .2h.6m12.2 0h.6m-9.6 .2h.6m.6 0h.6m3.2 0h.6m2 0h.6m-.4 0h.6m3.8 0h.6m-5.2 .2h.6m1.8 0h.6m-11.4 .2h.6m2.8 0h.6m9.2 0h.6m-16.4 .2h.6m4.6 0h.6m-1.4 .2h.6m-.2 0h.6m3.8 0h.6m3.4 0h.6m-14.2 .2h.6m5.2 0h.6m2 0h.6m-7.8 .2h.6m1.4 0h.6m4.8 0h.6m0 0h.6m2.4 0h.6m-8.4 .2h.6m6.8 0h.6m1.4 0h.6m-10.2 .2h.6m.2 0h.6m.6 0h.6m-.2 0h.6m2.4 0h.6m0 0h.6m-4.2 .2h.6m3.6 0h.6m-12 .2h.6m9.8 0h.6m1.2 0h.6m1.4 0h.6m-14.4 .2h.6m7.2 0h.6m0 0h.6m5.2 0h.6m-3.6 .2h.6m-10.4 .2h.6m1.4 0h.6m6.4 0h.6m1.2 0h.6m-12.2 .2h.6m1.8 0h.6m.6 0h.6m5.2 0h.6m-.2 0h.6m-.2 0h.6m-.4 0h.6m-8 .2h.6m1.2 0h.6m1.2 0h.6m-.6 0h.6m-.2 0h.6m1.2 0h.6m-4 .2h.6m0 0h.6m4.2 0h.6m3.6 0h.6m-14.8 .2h.6m.6 0h.6m4 0h.6m.8 0h.6m1.4 0h.6m1.4 0h.6m-1.8 .2h.6m2 0h.6m-10.6 .2h.6m2.2 0h.6m2.2 0h.6m4.4 0h.6m-15.2 .2h.6m4.2 0h.6m1.2 0h.6m4.2 0h.6m-10.6 .2h.6m-.6 0h.6m1 0h.6m5.2 0h.6m2.2 0h.6m1.4 0h.6m-12.6 .2h.6m-.6 0h.6m2.2 0h.6m7 0h.6m-.4 0h.6m-.2 0h.6m3.8 0h.6m-17.6 .2h.6m-.2 0h.6m.4 0h.6m5.6 0h.6m0 0h.6m3.4 0h.6m1.6 0h.6m-11.8 .2h.6m5.4 0h.6m.4 0h.6m1.8 0h.6m.6 0h.6m-14 .2h.6m2 0h.6m1 0h.6m3.4 0h.6m-.2 0h.6m1.6 0h.6m4 0h.6m-.6 0h.6m0 0h.6m-16.4 .2h.6m2.2 0h.6m8 0h.6m.2 0h.6m-8.2 .2h.6m2.8 0h.6m0 0h.6m3.4 0h.6m2.4 0h.6m.4 0h.6m-12.2 .2h.6m.2 0h.6m5.2 0h.6m-9.8 .2h.6m7.4 0h.6m.4 0h.6m3.2 0h.6m.6 0h.6m-16.8 .2h.6m3.8 0h.6m2.2 0h.6m1.8 0h.6m3.8 0h.6m-.2 0h.6m.4 0h.6m-16.8 .2h.6m10.4 0h.6m-.2 0h.6m-12.2 .2h.6m1.6 0h.6m1.6 0h.6m2.2 0h.6m2.2 0h.6m-.4 0h.6m3.6 0h.6m-14.4 .2h.6m-.6 0h.6m2.8 0h.6m6.2 0h.6m1.8 0h.6m3.2 0h.6m-15.6 .2h.6m2 0h.6m2 0h.6m3.4 0h.6m.6 0h.6m-7.8 .2h.6m3.4 0h.6m-.6 0h.6m7 0h.6m-.2 0h.6m-16.8 .2h.6m9.2 0h.6m.6 0h.6m2.2 0h.6m.8 0h.6m-10.2 .2h.6m1 0h.6m6.6 0h.6m-15.6 .2h.6m.4 0h.6m5.6 0h.6m4.2 0h.6m4 0h.6m-15.6 .2h.6m6 0h.6m8 0h.6m-15.6 .2h.6m3.2 0h.6m2.6 0h.6m3.4 0h.6m1.6 0h.6m-6.4 .2h.6m0 0h.6m1.2 0h.6m-12.8 .2h.6m3.4 0h.6m1.4 0h.6m.6 0h.6m.8 0h.6m3 0h.6m-6.6 .2h.6m1 0h.6m.4 0h.6m3.2 0h.6m1.8 0h.6m-13 .2h.6m7.4 0h.6m-8.2 .2h.6m-.4 0h.6m0 0h.6m7.4 0h.6m.2 0h.6m.4 0h.6m-7.6 .2h.6m.8 0h.6m0 0h.6m6.8 0h.6m-16.4 .2h.6m3 0h.6m2.2 0h.6m-.2 0h.6m.8 0h.6m1.2 0h.6m3.4 0h.6m-.6 0h.6m1.2 0h.6m-13.8 .2h.6m-.2 0h.6m1 0h.6m-.2 0h.6m1 0h.6m3 0h.6m0 0h.6m2.8 0h.6m.8 0h.6m-11.8 .2h.6m6.8 0h.6m-10.2 .2h.6m2.4 0h.6m0 0h.6m1.8 0h.6m0 0h.6m3.4 0h.6m-6 .2h.6m0 0h.6m1.4 0h.6m1.2 0h.6m.6 0h.6m2.6 0h.6m-13.8 .2h.6m2.2 0h.6m3.4 0h.6m3.2 0h.6m-.2 0h.6m-14.4 .2h.6m-.6 0h.6m2.6 0h.6m0 0h.6m-.6 0h.6m.6 0h.6m3.4 0h.6m-.4 0h.6m2.4 0h.6m.4 0h.6m-.4 0h.6m1 0h.6m1.4 0h.6m-16.2 .2h.6m.4 0h.6m3 0h.6m3.8 0h.6m0 0h.6m.8 0h.6m2 0h.6m.2 0h.6m-14.4 .2h.6m5.8 0h.6m7.8 0h.6m-15.8 .2h.6m-.2 0h.6m2.2 0h.6m2.8 0h.6m1 0h.6m-.4 0h.6m0 0h.6m-.2 0h.6m.4 0h.6m1.4 0h.6m-.4 0h.6m0 0h.6m.4 0h.6m-15.8 .2h.6m-.6 0h.6m7 0h.6m1.8 0h.6m0 0h.6m3 0h.6m.6 0h.6m0 0h.6m-17.2 .2h.6m.4 0h.6m-.6 0h.6m1.6 0h.6m-.4 0h.6m2 0h.6m6.6 0h.6m-.4 0h.6m1.6 0h.6m-12.2 .2h.6m-.2 0h.6m2.4 0h.6m0 0h.6m3.2 0h.6m.8 0h.6m.4 0h.6m1.2 0h.6m-15.4 .2h.6m3 0h.6m3 0h.6m-.2 0h.6m.2 0h.6m.2 0h.6m-.6 0h.6m1.6 0h.6m1.6 0h.6m.6 0h.6m-16.6 .2h.6m.2 0h.6m.8 0h.6m0 0h.6m0 0h.6m-.4 0h.6m.2 0h.6m-.2 0h.6m.2 0h.6m-.6 0h.6m-.2 0h.6m7.8 0h.6m-13.4 .2h.6m1 0h.6m4.4 0h.6m0 0h.6m.6 0h.6m5.6 0h.6m-17 .2h.6m.6 0h.6m1 0h.6m2.4 0h.6m2 0h.6m-.6 0h.6m3 0h.6m2.8 0h.6m-13.8 .2h.6m1.4 0h.6m1.4 0h.6m1.8 0h.6m2 0h.6m.8 0h.6m3.6 0h.6m-.4 0h.6m-15.6 .2h.6m.6 0h.6m2.4 0h.6m.8 0h.6m2.2 0h.6m1.2 0h.6m.8 0h.6m1 0h.6m-.2 0h.6m-.4 0h.6m0 0h.6m-.4 0h.6m-5.8 .2h.6m.2 0h.6m-.6 0h.6m-.2 0h.6m-12.6 .2h.6m2.8 0h.6m1 0h.6m6.6 0h.6m0 0h.6m0 0h.6m.2 0h.6m1.6 0h.6m-16 .2h.6m-.4 0h.6m-.2 0h.6m.8 0h.6m.8 0h.6m-.2 0h.6m.2 0h.6m4.6 0h.6m.6 0h.6m.2 0h.6m.4 0h.6m.2 0h.6m-15.4 .2h.6m1.4 0h.6m1.4 0h.6m4.4 0h.6m2 0h.6m2.4 0h.6m-.2 0h.6m1.2 0h.6m-17.6 .2h.6m1.6 0h.6m3 0h.6m.4 0h.6m.6 0h.6m-.2 0h.6m.4 0h.6m3.4 0h.6m1.2 0h.6m.8 0h.6m-.2 0h.6m-18 .2h.6m-.2 0h.6m.2 0h.6m1 0h.6m-.4 0h.6m-.6 0h.6m2 0h.6m1 0h.6m-.6 0h.6m-.4 0h.6m0 0h.6m1.2 0h.6m-.6 0h.6m-.4 0h.6m-.2 0h.6m-.2 0h.6m1.4 0h.6m.6 0h.6m-.6 0h.6m1.2 0h.6m-16.2 .2h.6m.8 0h.6m-.6 0h.6m2.4 0h.6m1.2 0h.6m2.2 0h.6m-.6 0h.6m1.6 0h.6m1.8 0h.6m-.2 0h.6m2 0h.6m-16 .2h.6m.4 0h.6m5.8 0h.6m0 0h.6m1.8 0h.6m1.4 0h.6m1 0h.6m-14.2 .2h.6m-.4 0h.6m-.4 0h.6m1.6 0h.6m-.2 0h.6m.4 0h.6m-.6 0h.6m.6 0h.6m1.2 0h.6m.2 0h.6m.2 0h.6m.2 0h.6m2.2 0h.6m1.4 0h.6m.6 0h.6m-.2 0h.6m-17.8 .2h.6m1 0h.6m1.2 0h.6m2 0h.6m-.2 0h.6m2.4 0h.6m1 0h.6m3 0h.6m-.2 0h.6m-.2 0h.6m.2 0h.6m-17.2 .2h.6m2.2 0h.6m-.4 0h.6m1.2 0h.6m-.4 0h.6m0 0h.6m-.6 0h.6m1 0h.6m2 0h.6m.2 0h.6m.8 0h.6m2.6 0h.6m-14.8 .2h.6m1.2 0h.6m3.8 0h.6m-.2 0h.6m2.6 0h.6m0 0h.6m-.2 0h.6m1.6 0h.6m.4 0h.6m1.8 0h.6m-17.8 .2h.6m2 0h.6m-.2 0h.6m-.4 0h.6m3.2 0h.6m.2 0h.6m.2 0h.6m1 0h.6m.8 0h.6m-.2 0h.6m-.4 0h.6m-.4 0h.6m.4 0h.6m1.4 0h.6m1.4 0h.6m-17 .2h.6m1.2 0h.6m-.6 0h.6m2.2 0h.6m.2 0h.6m1 0h.6m.2 0h.6m-.4 0h.6m-.6 0h.6m-.2 0h.6m-.4 0h.6m-.6 0h.6m.8 0h.6m.2 0h.6m1 0h.6m-.2 0h.6m-.4 0h.6m0 0h.6m.4 0h.6m.8 0h.6m-14.2 .2h.6m2.2 0h.6m-.4 0h.6m.4 0h.6m0 0h.6m-.6 0h.6m0 0h.6m-.4 0h.6m-.4 0h.6m.4 0h.6m0 0h.6m-.2 0h.6m2.2 0h.6m1.6 0h.6m-.2 0h.6m-15.8 .2h.6m1.8 0h.6m.8 0h.6m0 0h.6m2 0h.6m1.8 0h.6m.6 0h.6m0 0h.6m0 0h.6m2.2 0h.6m-.6 0h.6m-.4 0h.6m-.4 0h.6m-16.4 .2h.6m.6 0h.6m-.2 0h.6m.4 0h.6m.4 0h.6m-.6 0h.6m.8 0h.6m-.2 0h.6m2.2 0h.6m0 0h.6m.2 0h.6m.8 0h.6m0 0h.6m-.2 0h.6m-.4 0h.6m.8 0h.6m-.6 0h.6m0 0h.6m-14.8 .2h.6m.4 0h.6m-.2 0h.6m-.4 0h.6m.6 0h.6m.4 0h.6m-.2 0h.6m.6 0h.6m3 0h.6m.6 0h.6m1 0h.6m-.2 0h.6m.4 0h.6m-.6 0h.6m.4 0h.6m-.4 0h.6m-15.6 .2h.6m.4 0h.6m-.4 0h.6m-.2 0h.6m.6 0h.6m.8 0h.6m.6 0h.6m-.4 0h.6m1.4 0h.6m0 0h.6m1 0h.6m.4 0h.6m1.8 0h.6m-.2 0h.6m-.4 0h.6m.8 0h.6m.4 0h.6m-.4 0h.6m-13 .2h.6m1.6 0h.6m-.2 0h.6m.4 0h.6m-.4 0h.6m3.8 0h.6m.2 0h.6m.8 0h.6m.2 0h.6m-15 .2h.6m.8 0h.6m.2 0h.6m-.4 0h.6m.6 0h.6m1.4 0h.6m0 0h.6m1 0h.6m1 0h.6m-.2 0h.6m.4 0h.6m-.6 0h.6m-.2 0h.6m.6 0h.6m-.2 0h.6m0 0h.6m.2 0h.6m0 0h.6m-.6 0h.6m.4 0h.6m-15.8 .2h.6m-.2 0h.6m0 0h.6m-.4 0h.6m-.4 0h.6m1.8 0h.6m1 0h.6m.8 0h.6m1.8 0h.6m-.6 0h.6m-.4 0h.6m-.4 0h.6m.2 0h.6m-.4 0h.6m1.4 0h.6m1 0h.6m-15 .2h.6m-.4 0h.6m-.2 0h.6m1.4 0h.6m.4 0h.6m.8 0h.6m.4 0h.6m-.6 0h.6m-.4 0h.6m.2 0h.6m-.4 0h.6m2.6 0h.6m-.6 0h.6m-.4 0h.6m0 0h.6m1.2 0h.6m-.4 0h.6m.2 0h.6m-.2 0h.6m-.4 0h.6m0 0h.6m.4 0h.6m-18 .2h.6m-.4 0h.6m.4 0h.6m.6 0h.6m0 0h.6m-.2 0h.6m-.6 0h.6m.4 0h.6m1.4 0h.6m.8 0h.6m-.2 0h.6m.4 0h.6m1.4 0h.6m-.2 0h.6m1.2 0h.6m.8 0h.6m1 0h.6m-17 .2h.6m-.2 0h.6m.4 0h.6m1.4 0h.6m-.4 0h.6m-.4 0h.6m1.6 0h.6m1.2 0h.6m.6 0h.6m2 0h.6m0 0h.6m.4 0h.6m-.4 0h.6m.2 0h.6m-.6 0h.6m.2 0h.6m-.2 0h.6m-15 .2h.6m-.2 0h.6m.2 0h.6m-.4 0h.6m-.4 0h.6m-.4 0h.6m.8 0h.6m-.2 0h.6m.6 0h.6m.6 0h.6m0 0h.6m-.2 0h.6m0 0h.6m0 0h.6m.8 0h.6m2.6 0h.6m1.2 0h.6m-.4 0h.6m-.2 0h.6m0 0h.6m-.6 0h.6m-16.4 .2h.6m-.2 0h.6m1.4 0h.6m-.4 0h.6m2.4 0h.6m1.8 0h.6m1 0h.6m-.6 0h.6m.6 0h.6m.8 0h.6m.4 0h.6m-.4 0h.6m-.4 0h.6m1.4 0h.6m-.4 0h.6m-.4 0h.6m-.2 0h.6m-17 .2h.6m.2 0h.6m-.6 0h.6m0 0h.6m1.2 0h.6m.8 0h.6m-.6 0h.6m-.2 0h.6m.2 0h.6m.8 0h.6m-.6 0h.6m-.2 0h.6m.6 0h.6m1.2 0h.6m.4 0h.6m1.4 0h.6m.2 0h.6m-.4 0h.6m.2 0h.6m-.6 0h.6m-.6 0h.6m-16.6 .2h.6m.2 0h.6m.8 0h.6m-.2 0h.6m1.8 0h.6m.8 0h.6m.6 0h.6m-.4 0h.6m-.2 0h.6m.8 0h.6m-.4 0h.6m-.4 0h.6m0 0h.6m1.6 0h.6m.4 0h.6m-.4 0h.6m-.6 0h.6m.8 0h.6m.4 0h.6m-16.8 .2h.6m0 0h.6m0 0h.6m.2 0h.6m-.2 0h.6m1.6 0h.6m-.2 0h.6m-.2 0h.6m1 0h.6m0 0h.6m.2 0h.6m.6 0h.6m-.4 0h.6m0 0h.6m-.6 0h.6m-.6 0h.6m-.4 0h.6m-.2 0h.6m.8 0h.6m-.2 0h.6m-.6 0h.6m0 0h.6m.2 0h.6m-.4 0h.6m-.6 0h.6m-.4 0h.6m.6 0h.6m-.6 0h.6m-.6 0h.6m-.2 0h.6m-15 .2h.6m2 0h.6m0 0h.6m.6 0h.6m-.2 0h.6m0 0h.6m-.6 0h.6m0 0h.6m-.2 0h.6m-.2 0h.6m-.6 0h.6m0 0h.6m.2 0h.6m-.4 0h.6m-.2 0h.6m-.2 0h.6m-.2 0h.6m0 0h.6m2.2 0h.6m0 0h.6m-.6 0h.6m-.4 0h.6m-.4 0h.6m-.6 0h.6m-.2 0h.6m-.6 0h.6m-.4 0h.6m-17.6 .2h.6m2.6 0h.6m-.4 0h.6m-.6 0h.6m-.6 0h.6m-.6 0h.6m.2 0h.6m0 0h.6m-.4 0h.6m-.2 0h.6m-.6 0h.6m2.2 0h.6m0 0h.6m-.4 0h.6m-.4 0h.6m.2 0h.6m-.6 0h.6m-.2 0h.6m0 0h.6m-.6 0h.6m-.4 0h.6m-.4 0h.6m-.4 0h.6m-.6 0h.6m.2 0h.6m-.2 0h.6m0 0h.6m-.4 0h.6m-.4 0h.6m-.2 0h.6m-.6 0h.6m-.2 0h.6m-.4 0h.6m-.6 0h.6m-.2 0h.6m-.6 0h.6m.6 0h.6m-.2 0h.6m-.2 0h.6m-.4 0h.6m-18 .2h.6m-.4 0h.6m-.6 0h.6m-.4 0h.6m-.6 0h.6m-.2 0h.6m-.6 0h.6m1 0h.6m0 0h.6m.4 0h.6m-.2 0h.6m-.4 0h.6m-.4 0h.6m-.2 0h.6m-.2 0h.6m-.4 0h.6m.4 0h.6m-.6 0h.6m.2 0h.6m-.4 0h.6m-.6 0h.6m.4 0h.6m-.2 0h.6m.2 0h.6m-.4 0h.6m-.2 0h.6m-.4 0h.6m-.4 0h.6m-.2 0h.6m-.4 0h.6m-.4 0h.6m.2 0h.6m0 0h.6m.8 0h.6m-.6 0h.6m.4 0h.6m0 0h.6m0 0h.6m-.2 0h.6m-.4 0h.6m-17.8 .2h.6m-.4 0h.6m-.4 0h.6m-.2 0h.6m.8 0h.6m-.6 0h.6m-.2 0h.6m-.4 0h.6m0 0h.6m-.2 0h.6m.4 0h.6m.2 0h.6m-.6 0h.6m-.2 0h.6m-.2 0h.6m-.4 0h.6m.6 0h.6m-.2 0h.6m-.4 0h.6m-.6 0h.6m-.4 0h.6m-.4 0h.6m0 0h.6m0 0h.6m-.2 0h.6m.8 0h.6m.6 0h.6m-.6 0h.6m0 0h.6m-.4 0h.6m-.6 0h.6m0 0h.6m-.2 0h.6m-.2 0h.6m-.4 0h.6m-.6 0h.6m-.4 0h.6m-.6 0h.6m-.2 0h.6m-.4 0h.6m-.4 0h.6m-.4 0h.6m0 0h.6m-.4 0h.6m-18 .2h.6m-.6 0h.6m-.4 0h.6m-.6 0h.6m-.4 0h.6m-.4 0h.6m-.2 0h.6m-.4 0h.6m-.4 0h.6m-.6 0h.6m-.2 0h.6m-.2 0h.6m-.6 0h.6m.4 0h.6m-.2 0h.6m-.2 0h.6m-.2 0h.6m-.2 0h.6m-.4 0h.6m-.4 0h.6m.4 0h.6m-.6 0h.6m-.4 0h.6m-.6 0h.6m-.4 0h.6m-.4 0h.6m-.6 0h.6m-.4 0h.6m-.6 0h.6m-.6 0h.6m-.2 0h.6m.2 0h.6m-.2 0h.6m-.6 0h.6m-.4 0h.6m-.6 0h.6m-.2 0h.6m-.4 0h.6m-.4 0h.6m-.6 0h.6m-.6 0h.6m-.4 0h.6m-.6 0h.6m-.6 0h.6m.2 0h.6m-.4 0h.6m0 0h.6m-.6 0h.6m-.6 0h.6m-.2 0h.6m-.6 0h.6m-.4 0h.6m-.6 0h.6m-.6 0h.6m-.4 0h.6m0 0h.6m-.4 0h.6m-.2 0h.6m.4 0h.6m-.4 0h.6m-.4 0h.6m-.6 0h.6m-.2 0h.6m-.6 0h.6m-.6 0h.6m-.2 0h.6m-.6 0h.6m-.4 0h.6m-.2 0h.6m-.2 0h.6m-.4 0h.6m-.2 0h.6m-17.8 .2h.6m-.4 0h.6m-.6 0h.6m-.2 0h.6m0 0h.6m-.2 0h.6m-.4 0h.6m-.6 0h.6m-.2 0h.6m-.2 0h.6m-.2 0h.6m-.6 0h.6m-.6 0h.6m.4 0h.6m-.2 0h.6m.8 0h.6m-.4 0h.6m-.2 0h.6m-.2 0h.6m-.6 0h.6m-.4 0h.6m0 0h.6m0 0h.6m-.2 0h.6m-.6 0h.6m-.6 0h.6m-.6 0h.6m.4 0h.6m-.2 0h.6m-.4 0h.6m0 0h.6m-.6 0h.6m-.6 0h.6m-.2 0h.6m-.4 0h.6m0 0h.6m-.4 0h.6m-.4 0h.6m-.2 0h.6m-.4 0h.6m-.4 0h.6m-.4 0h.6m0 0h.6m-.6 0h.6m-.2 0h.6m-.4 0h.6m-.2 0h.6m-.4 0h.6m-.2 0h.6m-.4 0h.6m-.4 0h.6m-.2 0h.6m0 0h.6m-.4 0h.6m-.6 0h.6m-.4 0h.6m-18.2 .2h.6m-.2 0h.6m-.4 0h.6m-.4 0h.6m-.2 0h.6m-.4 0h.6m-.4 0h.6m-.2 0h.6m.2 0h.6m-.6 0h.6m-.2 0h.6m-.6 0h.6m-.4 0h.6m-.4 0h.6m-.6 0h.6m-.6 0h.6m-.4 0h.6m-.4 0h.6m-.2 0h.6m0 0h.6m-.6 0h.6m-.6 0h.6m-.4 0h.6m-.6 0h.6m-.4 0h.6m-.4 0h.6m-.4 0h.6m-.4 0h.6m-.2 0h.6m.4 0h.6m-.4 0h.6m-.6 0h.6m-.4 0h.6m-.4 0h.6m-.4 0h.6m-.6 0h.6m-.4 0h.6m-.4 0h.6m-.4 0h.6m-.6 0h.6m-.4 0h.6m-.2 0h.6m-.6 0h.6m-.6 0h.6m.2 0h.6m-.4 0h.6m-.6 0h.6m-.4 0h.6m-.6 0h.6m-.4 0h.6m-.4 0h.6m-.4 0h.6m-.4 0h.6m-.2 0h.6m-.4 0h.6m-.4 0h.6m-.6 0h.6m-.6 0h.6m0 0h.6m0 0h.6m-.4 0h.6m-.4 0h.6m-.6 0h.6m-.6 0h.6m0 0h.6m-.6 0h.6m-.4 0h.6m.2 0h.6m-.6 0h.6m-.4 0h.6m-.6 0h.6m-.4 0h.6m-.4 0h.6m-.4 0h.6m-.6 0h.6m-.2 0h.6m-.4 0h.6m-.4 0h.6m-.6 0h.6m0 0h.6m-18.2 .2h.6m-.4 0h.6m-.4 0h.6m-.6 0h.6m-.6 0h.6m.8 0h.6m-.2 0h.6m-.4 0h.6m-.4 0h.6m-.6 0h.6m-.2 0h.6m-.6 0h.6m-.4 0h.6m0 0h.6m-.4 0h.6m-.6 0h.6m-.2 0h.6m-.6 0h.6m-.4 0h.6m-.2 0h.6m-.6 0h.6m-.2 0h.6m0 0h.6m-.4 0h.6m-.6 0h.6m-.4 0h.6m-.6 0h.6m-.4 0h.6m-.4 0h.6m.2 0h.6m-.2 0h.6m-.6 0h.6m-.6 0h.6m0 0h.6m-.6 0h.6m-.6 0h.6m.2 0h.6m-.2 0h.6m-.4 0h.6m-.4 0h.6m.4 0h.6m-.2 0h.6m-.6 0h.6m-.2 0h.6m-.6 0h.6m-.4 0h.6m-.4 0h.6m-.4 0h.6m-.6 0h.6m0 0h.6m-.6 0h.6m-.6 0h.6m-.6 0h.6m-.4 0h.6m-.4 0h.6m-.6 0h.6m-.4 0h.6m1.2 0h.6m-.4 0h.6m-.2 0h.6m-.6 0h.6m-.4 0h.6m-.6 0h.6m-.2 0h.6m-.6 0h.6m-.4 0h.6m-.6 0h.6m-17.6 .2h.6m-.4 0h.6m-.4 0h.6m-.2 0h.6m-.4 0h.6m-.4 0h.6m-.6 0h.6m-.2 0h.6m-.4 0h.6m-.2 0h.6m-.6 0h.6m-.4 0h.6m-.2 0h.6m-.2 0h.6m-.4 0h.6m-.2 0h.6m-.6 0h.6m1 0h.6m-.6 0h.6m0 0h.6m-.4 0h.6m-.4 0h.6m.4 0h.6m0 0h.6m-.4 0h.6m-.4 0h.6m-.4 0h.6m0 0h.6m-.6 0h.6m-.2 0h.6m-.4 0h.6m-.6 0h.6m-.4 0h.6m-.6 0h.6m-.4 0h.6m-.2 0h.6m0 0h.6m-.6 0h.6m.2 0h.6m-.6 0h.6m-.2 0h.6m-.4 0h.6m0 0h.6m-.4 0h.6m-.2 0h.6m-.6 0h.6m-.2 0h.6m-.4 0h.6m-.4 0h.6m-.6 0h.6m.4 0h.6m.4 0h.6m-.6 0h.6m-.4 0h.6m-.6 0h.6m-.6 0h.6m-.4 0h.6m-.2 0h.6m-.6 0h.6m-17.2 .2h.6m0 0h.6m-.6 0h.6m0 0h.6m0 0h.6m.2 0h.6m1.8 0h.6m-.2 0h.6m-.6 0h.6m-.4 0h.6m1 0h.6m-.2 0h.6m.2 0h.6m0 0h.6m.2 0h.6m.4 0h.6m-.6 0h.6m0 0h.6m-.6 0h.6m-.4 0h.6m-.4 0h.6m-.4 0h.6m-.4 0h.6m1 0h.6m-.2 0h.6m1.4 0h.6m-.2 0h.6" stroke="#7c4430" stroke-width="0.6" stroke-opacity="0.7" fill="none"/>
<rect x="306.20" y="190.90" width="17.80" height="51.50" fill="none" stroke="#6d3b2a" stroke-width="0.7"/>
<line x1="306.20" y1="226.62" x2="324.00" y2="226.62" stroke="#6d3b2a" stroke-width="0.7"/>
<line x1="315.10" y1="150.99" x2="315.10" y2="190.90" stroke="#6d3b2a" stroke-width="0.7"/>
<line x1="315.10" y1="242.40" x2="315.10" y2="242.40" stroke="#6d3b2a" stroke-width="0.7"/>
<line x1="310.60" y1="150.99" x2="319.60" y2="150.99" stroke="#6d3b2a" stroke-width="0.7"/>
<line x1="310.60" y1="242.40" x2="319.60" y2="242.40" stroke="#6d3b2a" stroke-width="0.7"/>
<circle cx="315.10" cy="215.49" r="0.85" fill="#3d7a2a"/>
<rect x="340.30" y="161.16" width="17.80" height="82.24" fill="url(#g9)"/>
<path d="M352.4 161.8h.6m-12 .2h.6m7 0h.6m1.2 0h.6m0 0h.6m-.2 0h.6m-11.4 .2h.6m3.4 0h.6m0 0h.6m.2 0h.6m-6.2 .2h.6m14.8 0h.6m-15.6 .2h.6m13 .4h.6m-4.8 .2h.6m5.2 0h.6m-2 .4h.6m-3.4 .2h.6m.8 0h.6m-6.6 .2h.6m4.6 0h.6m-3.8 .2h.6m.6 0h.6m-3.8 .2h.6m2 0h.6m.2 0h.6m4.2 0h.6m-16 .2h.6m4.2 0h.6m1.2 0h.6m-6.8 .2h.6m.6 0h.6m-.2 0h.6m1.2 0h.6m2.4 0h.6m4.2 0h.6m-11 .2h.6m3 0h.6m2 .2h.6m6 0h.6m0 0h.6m1.6 0h.6m-13.6 .2h.6m3.2 0h.6m2 0h.6m-4 .2h.6m-6.8 .2h.6m.8 0h.6m1.6 0h.6m.8 0h.6m-4.8 .2h.6m7 0h.6m3.8 0h.6m-13.8 .2h.6m1.8 0h.6m0 .2h.6m5 0h.6m3.2 .2h.6m-13 .2h.6m2.6 0h.6m2.8 .2h.6m1.2 0h.6m1.2 0h.6m-.4 0h.6m2.6 0h.6m1.2 0h.6m-9.4 .2h.6m.4 0h.6m-8 .2h.6m.8 0h.6m3.4 0h.6m-4.4 .2h.6m.2 0h.6m6.8 0h.6m3.8 0h.6m2.4 0h.6m-12.8 .2h.6m.8 0h.6m4.8 0h.6m-11 .2h.6m11 .2h.6m1.2 0h.6m-7.6 .2h.6m.6 0h.6m-6.6 .2h.6m3 0h.6m1.2 0h.6m-4.2 .2h.6m2 0h.6m3.8 0h.6m-11.2 .2h.6m-.4 0h.6m2 0h.6m3.4 0h.6m2.4 0h.6m5.8 0h.6m-11.2 .2h.6m.2 0h.6m-7.8 .4h.6m5.2 0h.6m5.8 0h.6m.8 0h.6m-.4 0h.6m1.4 0h.6m-16.6 .2h.6m9.4 0h.6m1.8 0h.6m-.4 0h.6m-10.2 .2h.6m3.8 0h.6m2.6 .2h.6m.2 0h.6m2.2 0h.6m1 0h.6m-.2 .2h.6m-12.4 .2h.6m1.2 0h.6m4.4 0h.6m-10 .2h.6m6.8 0h.6m6.6 0h.6m-17.6 .2h.6m4.2 0h.6m3 0h.6m2.8 0h.6m-6 .2h.6m-.4 0h.6m-.4 0h.6m10.2 0h.6m-17.8 .2h.6m1.2 0h.6m5.6 0h.6m5.8 0h.6m-.2 0h.6m-10.6 .2h.6m1.2 0h.6m.2 0h.6m.2 0h.6m7.4 0h.6m-13.4 .2h.6m-.2 0h.6m13 0h.6m-15.8 .2h.6m6.2 0h.6m-5.4 .2h.6m-5 .2h.6m0 0h.6m-.6 0h.6m4.4 0h.6m1 0h.6m1.6 0h.6m6.6 0h.6m-.4 0h.6m-15.2 .2h.6m8.2 0h.6m3.6 0h.6m.8 0h.6m-12.8 .2h.6m5.6 0h.6m5.6 0h.6m-17 .2h.6m5.2 0h.6m.8 0h.6m5.2 0h.6m2.6 0h.6m-11.6 .2h.6m2.4 0h.6m1 0h.6m4 0h.6m1.6 0h.6m-15.4 .2h.6m1 0h.6m4.2 0h.6m-9.2 .2h.6m2.2 0h.6m5.6 0h.6m-8.2 .2h.6m5 0h.6m0 0h.6m5.2 0h.6m-.6 0h.6m3.2 0h.6m-15 .2h.6m3.8 0h.6m0 0h.6m-7 .2h.6m9.8 0h.6m-11.4 .2h.6m9.6 0h.6m1.8 0h.6m2.4 0h.6m-13.4 .2h.6m1.4 0h.6m3.2 0h.6m6.6 0h.6m-12.6 .2h.6m5.4 0h.6m-5.4 .2h.6m7 0h.6m-13.8 .2h.6m5.8 0h.6m-3 .2h.6m8.6 0h.6m.2 0h.6m-13.4 .2h.6m3.6 0h.6m2.2 0h.6m6.4 0h.6m-6 .2h.6m1.2 0h.6m4 0h.6m-14.2 .2h.6m0 0h.6m9 0h.6m-8.8 .2h.6m5.2 0h.6m2.2 0h.6m.6 0h.6m-15 .2h.6m-.2 0h.6m.6 0h.6m1.2 0h.6m4.6 0h.6m1.8 0h.6m-9.8 .2h.6m2 0h.6m2.2 0h.6m.6 0h.6m-.4 0h.6m1 0h.6m5.8 0h.6m-9.2 .2h.6m-.4 0h.6m4.8 0h.6m-14.8 .2h.6m2.6 0h.6m.6 0h.6m9 0h.6m-13.6 .2h.6m-.6 0h.6m1.6 0h.6m6.6 0h.6m0 0h.6m-11.6 .2h.6m2.6 0h.6m1.6 0h.6m6.4 0h.6m1 0h.6m2.8 0h.6m-15.2 .2h.6m3.4 0h.6m1 0h.6m.6 0h.6m4.6 0h.6m-14 .2h.6m8 0h.6m1.6 0h.6m3.8 0h.6m.6 0h.6m-15.4 .2h.6m9.4 0h.6m.2 0h.6m1.6 0h.6m-.6 0h.6m-11.2 .2h.6m2.4 0h.6m2.4 0h.6m1.4 0h.6m3.6 0h.6m-18.2 .2h.6m.6 0h.6m5.8 0h.6m7.8 0h.6m1.2 0h.6m-14.4 .2h.6m2 0h.6m4.6 0h.6m1.8 0h.6m-10.8 .2h.6m-.4 0h.6m4.2 0h.6m.8 0h.6m1.4 0h.6m1.8 0h.6m-7.2 .2h.6m1.4 0h.6m1.6 0h.6m3.6 0h.6m-14.2 .2h.6m2.2 0h.6m7.2 0h.6m.8 0h.6m-14.6 .2h.6m6 0h.6m4 0h.6m-8.4 .2h.6m-.6 0h.6m.6 0h.6m2.8 0h.6m2.6 0h.6m3.6 0h.6m-.2 0h.6m-14.6 .2h.6m9.4 0h.6m1.2 0h.6m-14 .2h.6m1 0h.6m.6 0h.6m.2 0h.6m-.2 0h.6m1.6 0h.6m2.2 0h.6m.8 0h.6m-6.4 .2h.6m2.6 0h.6m2.4 0h.6m.6 0h.6m-10.6 .2h.6m9.2 0h.6m0 0h.6m.6 0h.6m.8 0h.6m-13.6 .4h.6m-.2 0h.6m6.2 0h.6m1.2 0h.6m3 0h.6m.2 0h.6m-16.6 .2h.6m0 0h.6m12.6 0h.6m0 0h.6m-13.8 .2h.6m2.6 0h.6m0 0h.6m-4.2 .2h.6m0 0h.6m-.4 0h.6m0 0h.6m2.4 0h.6m1.8 0h.6m2 0h.6m.2 0h.6m.6 0h.6m-13 .2h.6m1.8 0h.6m.4 0h.6m4.4 0h.6m7.6 0h.6m-17.8 .2h.6m2 0h.6m4 0h.6m2.4 0h.6m.4 0h.6m-3.2 .2h.6m-7.6 .2h.6m.2 0h.6m14 0h.6m-16.2 .2h.6m.2 0h.6m3.8 0h.6m0 0h.6m-6.8 .2h.6m6.6 0h.6m4.6 0h.6m1 0h.6m-.4 0h.6m-.2 0h.6m-14.2 .2h.6m.6 0h.6m1 0h.6m11.4 0h.6m-16.2 .2h.6m6.4 0h.6m0 0h.6m4.6 0h.6m-13.4 .2h.6m-.2 0h.6m7.6 0h.6m1 0h.6m-9.6 .2h.6m6.6 0h.6m.6 0h.6m-9.2 .2h.6m2.2 0h.6m9.2 0h.6m1.2 0h.6m-12.8 .2h.6m1.4 0h.6m4 0h.6m3.2 0h.6m-15.2 .2h.6m-.4 0h.6m2.6 0h.6m7.8 0h.6m1.6 0h.6m-8 .2h.6m4 0h.6m.6 0h.6m-13.2 .2h.6m-.4 0h.6m5.8 0h.6m1.2 0h.6m-8 .2h.6m1.4 0h.6m5.4 0h.6m-8.8 .2h.6m1.6 0h.6m1.8 0h.6m1.6 0h.6m.8 0h.6m.2 0h.6m.2 0h.6m4.6 0h.6m-16 .2h.6m1.4 0h.6m3.2 0h.6m2.2 .2h.6m-8.8 .2h.6m4.4 0h.6m-.2 0h.6m5.4 0h.6m-8 .2h.6m6.4 0h.6m3.6 0h.6m-15 .2h.6m3.6 0h.6m1.6 0h.6m-.4 0h.6m-.2 0h.6m3.2 0h.6m-6.6 .2h.6m.4 0h.6m.2 0h.6m.2 0h.6m-.4 0h.6m5.2 0h.6m.8 0h.6m-13.4 .2h.6m8.6 0h.6m-7.6 .2h.6m0 0h.6m5.2 0h.6m-11.8 .2h.6m3 0h.6m2.8 0h.6m.8 0h.6m3.2 0h.6m-10.4 .2h.6m.8 0h.6m1.8 0h.6m0 0h.6m-.2 0h.6m-.2 0h.6m1.6 0h.6m-9.4 .2h.6m-.4 0h.6m6 0h.6m4.2 0h.6m-12.6 .4h.6m.6 0h.6m5.2 0h.6m5.6 0h.6m-10.6 .4h.6m7.6 0h.6m.2 0h.6m0 0h.6m-11.8 .2h.6m1.6 0h.6m-.2 0h.6m-.2 0h.6m.2 0h.6m-.6 0h.6m2.6 0h.6m-10.4 .2h.6m.8 0h.6m3.6 0h.6m-.2 0h.6m2.6 0h.6m.6 0h.6m2.8 0h.6m-8 .2h.6m.4 0h.6m0 0h.6m1.6 0h.6m1 0h.6m2.2 0h.6m1 0h.6m-13.8 .2h.6m2.4 0h.6m.2 0h.6m3.8 0h.6m1.6 0h.6m-14.4 .2h.6m1.2 0h.6m10 0h.6m-11.6 .2h.6m1.6 0h.6m2 0h.6m2.4 0h.6m.4 0h.6m-.6 0h.6m1 0h.6m3.6 0h.6m.2 0h.6m-15.4 .2h.6m.2 0h.6m6.8 0h.6m2 0h.6m-.2 0h.6m.2 0h.6m1 0h.6m-14.2 .2h.6m-.8 .2h.6m.8 0h.6m1.2 0h.6m4.8 0h.6m-.4 0h.6m.2 0h.6m.6 0h.6m1.6 0h.6m-11.8 .2h.6m-.4 0h.6m3.4 0h.6m5 0h.6m.2 0h.6m-13.2 .2h.6m3.2 0h.6m5.4 0h.6m-6 .2h.6m.8 0h.6m-.4 0h.6m9 0h.6m-16.8 .2h.6m3 0h.6m1.6 0h.6m1.6 0h.6m0 0h.6m1.8 0h.6m.4 0h.6m1.6 0h.6m-10.4 .2h.6m2.6 0h.6m1.2 0h.6m.4 0h.6m.8 0h.6m-.2 0h.6m3.4 0h.6m-11.2 .2h.6m2.4 0h.6m-.2 0h.6m-10.8 .2h.6m1 .2h.6m.4 0h.6m-.2 0h.6m2.2 0h.6m1.6 .2h.6m.2 0h.6m4.6 0h.6m1.6 0h.6m-15.4 .2h.6m3 0h.6m.2 0h.6m1.4 0h.6m3.8 0h.6m-11.2 .2h.6m2.8 0h.6m-.2 0h.6m-.6 0h.6m1.2 0h.6m3.2 0h.6m5.8 0h.6m-.4 .2h.6m-3 .2h.6m-.2 0h.6m0 0h.6m.6 0h.6m-15 .2h.6m1.2 0h.6m12.2 0h.6m-15.2 .2h.6m3.4 0h.6m1.4 0h.6m1 0h.6m6.4 0h.6m-14.2 .2h.6m8.4 0h.6m-11.8 .2h.6m2.8 0h.6m1 0h.6m6.8 0h.6m-14.8 .2h.6m11.6 0h.6m0 0h.6m1.2 0h.6m.4 0h.6m-14.2 .2h.6m-.4 0h.6m8.4 0h.6m3.8 0h.6m-15.4 .2h.6m.8 0h.6m5.4 0h.6m1.6 0h.6m5 0h.6m-14.2 .2h.6m.8 0h.6m-.6 0h.6m4.4 0h.6m-.2 0h.6m-.4 0h.6m3.6 0h.6m-11.4 .2h.6m1.6 0h.6m2.4 0h.6m4.2 0h.6m1.8 0h.6m1 0h.6m0 0h.6m-16 .2h.6m5.8 0h.6m1 0h.6m4.2 0h.6m1.4 0h.6m-17 .2h.6m2.2 0h.6m2.2 0h.6m2 0h.6m3.6 0h.6m-9.6 .2h.6m11 0h.6m-.4 0h.6m-16 .2h.6m1.8 0h.6m13.4 0h.6m-10.8 .2h.6m.2 0h.6m4.8 0h.6m.4 0h.6m2.6 0h.6m-.6 0h.6m-13.6 .2h.6m-.2 0h.6m3.8 0h.6m3.6 0h.6m-12.8 .2h.6m0 0h.6m-.2 0h.6m0 0h.6m.2 0h.6m2.4 0h.6m-.6 0h.6m9.2 0h.6m-.6 0h.6m-14.8 .2h.6m4.8 0h.6m3.6 0h.6m.2 0h.6m5 0h.6m-13.6 .2h.6m3.6 0h.6m7 0h.6m-10.8 .2h.6m2.4 0h.6m3.4 0h.6m-12.4 .2h.6m3.6 0h.6m.8 0h.6m3.8 0h.6m.8 0h.6m4 0h.6m-17.4 .2h.6m1.6 0h.6m0 0h.6m1.8 0h.6m5.8 0h.6m-11.4 .2h.6m6.2 0h.6m6.8 0h.6m1.4 0h.6m-15 .2h.6m1.2 0h.6m.2 0h.6m.8 0h.6m3.2 0h.6m1.2 0h.6m1.8 0h.6m-15 .2h.6m.2 0h.6m1.2 0h.6m4.2 0h.6m-.4 0h.6m-.2 0h.6m.8 0h.6m2.6 0h.6m.6 0h.6m-10.6 .2h.6m2 0h.6m-.2 0h.6m-5 .2h.6m4.6 0h.6m1.4 0h.6m-.2 0h.6m-11.6 .2h.6m1.6 0h.6m10.4 0h.6m2.4 0h.6m-16 .2h.6m2.4 0h.6m4.4 0h.6m-.6 0h.6m2 0h.6m1.2 0h.6m-7.6 .2h.6m.4 0h.6m7.6 0h.6m-13.8 .2h.6m0 0h.6m4 0h.6m.4 0h.6m-.4 0h.6m0 0h.6m4.8 0h.6m.2 0h.6m-8.2 .2h.6m.8 0h.6m2.4 0h.6m-8.8 .2h.6m6.4 0h.6m4 0h.6m0 0h.6m-14.4 .2h.6m0 0h.6m1 0h.6m2.8 0h.6m-.2 0h.6m-.2 0h.6m5 0h.6m1.4 0h.6m-.2 0h.6m-17.2 .2h.6m3.8 0h.6m-.4 0h.6m0 0h.6m-.2 0h.6m7.2 0h.6m-13.8 .2h.6m.8 0h.6m1.2 0h.6m6.4 0h.6m-.4 0h.6m1.2 0h.6m1.6 0h.6m2 0h.6m-11 .2h.6m0 0h.6m0 0h.6m1.4 0h.6m5.4 0h.6m-.4 0h.6m-16.4 .2h.6m.4 0h.6m8.8 0h.6m.6 0h.6m2.2 0h.6m2 0h.6m-16.6 .2h.6m2.2 0h.6m.4 0h.6m3.4 0h.6m-.4 0h.6m4.4 0h.6m-12.2 .2h.6m.6 0h.6m1.2 .2h.6m2.8 0h.6m.8 0h.6m.4 0h.6m1.6 0h.6m3 0h.6m-17.6 .2h.6m2.8 0h.6m3.2 0h.6m-.4 0h.6m-.6 0h.6m7.6 0h.6m-14 .2h.6m2.6 0h.6m-.2 0h.6m8.6 0h.6m-15.4 .2h.6m1.8 0h.6m-.2 0h.6m.4 0h.6m0 0h.6m7.6 0h.6m1.4 .2h.6m.2 0h.6m0 0h.6m-15.8 .2h.6m4.4 0h.6m1.8 0h.6m6.4 0h.6m.4 0h.6m-14 .2h.6m4.8 0h.6m-3.8 .2h.6m3.6 0h.6m2.4 0h.6m-.2 0h.6m1 0h.6m-12.2 .2h.6m2.8 0h.6m-.6 0h.6m0 0h.6m2 0h.6m5.2 0h.6m-14.2 .2h.6m1.2 0h.6m8.8 0h.6m1.8 0h.6m-6.8 .2h.6m3 0h.6m3.4 0h.6m-14.8 .2h.6m2.4 0h.6m-.2 0h.6m-.2 0h.6m4.2 0h.6m2 0h.6m.4 0h.6m0 0h.6m-13.6 .2h.6m10.4 0h.6m2.2 0h.6m-11.6 .2h.6m2.4 0h.6m1.4 0h.6m0 0h.6m1.6 0h.6m-13.4 .2h.6m-.2 0h.6m-.4 0h.6m0 0h.6m-.4 0h.6m.4 0h.6m5.8 0h.6m-.4 0h.6m.2 0h.6m0 0h.6m1.4 0h.6m0 0h.6m1.6 0h.6m-.4 0h.6m.8 0h.6m-14.6 .2h.6m7.8 0h.6m-8.6 .2h.6m-3.8 .2h.6m-.2 0h.6m4.4 0h.6m.6 0h.6m8.4 0h.6m1 0h.6m-18 .2h.6m4 0h.6m0 0h.6m5.8 0h.6m1 0h.6m1.4 0h.6m0 0h.6m-10.8 .2h.6m2.2 0h.6m.6 0h.6m1.2 0h.6m0 0h.6m.6 0h.6m.4 0h.6m-11 .2h.6m.6 0h.6m3.8 0h.6m2 0h.6m4.6 0h.6m-16.2 .2h.6m1.6 0h.6m0 0h.6m2.6 0h.6m1.8 0h.6m2 0h.6m-.2 0h.6m-12 .2h.6m1.8 0h.6m3.4 0h.6m1.4 0h.6m1.2 0h.6m-8.8 .2h.6m2.6 0h.6m0 0h.6m8.2 0h.6m.4 0h.6m-16.6 .2h.6m.4 0h.6m.4 0h.6m.6 0h.6m.8 0h.6m5.4 0h.6m1.8 0h.6m-10.4 .2h.6m0 0h.6m.2 0h.6m1.2 0h.6m0 0h.6m-.4 0h.6m-8.8 .2h.6m.6 0h.6m2.6 0h.6m.2 0h.6m1.8 0h.6m4.8 0h.6m-14 .2h.6m0 0h.6m-.2 0h.6m3 0h.6m-.4 0h.6m2 0h.6m2.6 0h.6m.4 0h.6m.2 0h.6m-12.2 .2h.6m2.6 0h.6m2.6 0h.6m.2 0h.6m-.2 0h.6m1 0h.6m-.4 0h.6m.8 0h.6m4 0h.6m0 0h.6m-16.8 .2h.6m14 0h.6m1.2 0h.6m-16 .2h.6m1 0h.6m3.4 0h.6m.6 0h.6m1.2 0h.6m5.4 0h.6m-.4 0h.6m.2 0h.6m-14.2 .2h.6m1.2 0h.6m0 0h.6m1 0h.6m2.4 0h.6m1 0h.6m0 0h.6m2 0h.6m.2 0h.6m-11.8 .2h.6m1.8 0h.6m-.2 0h.6m.2 0h.6m-.4 0h.6m5.8 0h.6m1.4 0h.6m-17.6 .2h.6m-.4 0h.6m5.6 0h.6m1.6 0h.6m.2 0h.6m1.4 0h.6m-.4 0h.6m2.8 0h.6m-11 .2h.6m4 0h.6m1.8 0h.6m-6 .2h.6m-.2 0h.6m-.2 0h.6m1.4 0h.6m.4 0h.6m.6 0h.6m1.6 0h.6m1.6 0h.6m-13.2 .2h.6m.2 0h.6m5.8 0h.6m.6 0h.6m1.6 0h.6m3 0h.6m-12.4 .2h.6m.8 0h.6m.2 0h.6m5.6 0h.6m.6 0h.6m-10.4 .2h.6m3.2 0h.6m3.2 0h.6m2.4 0h.6m-12.8 .2h.6m8.8 0h.6m1 0h.6m-11.8 .2h.6m-.4 0h.6m1.4 0h.6m9.6 0h.6m-.2 0h.6m0 0h.6m-.4 0h.6m-16.6 .2h.6m7.6 0h.6m-.2 0h.6m4.6 0h.6m1 0h.6m-10.2 .2h.6m0 0h.6m1.2 0h.6m3.4 0h.6m3 0h.6m-14 .2h.6m.2 0h.6m3.6 0h.6m0 0h.6m-.6 0h.6m1.6 0h.6m2 0h.6m2.6 0h.6m-18 .2h.6m-.4 0h.6m3.4 0h.6m1 0h.6m3.6 0h.6m-8.6 .2h.6m-.6 0h.6m.8 0h.6m3.4 0h.6m1.2 0h.6m.2 0h.6m.6 0h.6m1 0h.6m2.4 0h.6m-14.8 .2h.6m.8 0h.6m.2 0h.6m4.4 0h.6m-.4 0h.6m7 0h.6m-15 .2h.6m4.2 0h.6m0 0h.6m.2 0h.6m1.4 0h.6m-.2 0h.6m3.6 0h.6m-.4 0h.6m1.2 0h.6m-17.2 .2h.6m3 0h.6m.2 0h.6m-.6 0h.6m3.2 0h.6m3.8 0h.6m1.6 0h.6m1.2 0h.6m-14.6 .2h.6m1.4 0h.6m1.2 0h.6m.6 0h.6m-1.4 .2h.6m-.4 0h.6m2.6 0h.6m.6 0h.6m2.2 0h.6m2 0h.6m-17.6 .2h.6m5.4 0h.6m3.6 0h.6m.4 0h.6m2 0h.6m.6 0h.6m-14.8 .2h.6m1.2 0h.6m5.8 0h.6m1.6 0h.6m1.6 0h.6m3 0h.6m-16.8 .4h.6m.6 0h.6m2.4 0h.6m1.6 0h.6m-.6 0h.6m-.4 0h.6m-.6 0h.6m-.4 0h.6m5.2 0h.6m-14.2 .2h.6m3.4 0h.6m.2 0h.6m-.6 0h.6m1.2 0h.6m.4 0h.6m3 0h.6m3.4 0h.6m1.6 0h.6m-16.6 .2h.6m3.6 0h.6m.4 0h.6m2.6 0h.6m2.2 0h.6m4.4 0h.6m-17.4 .2h.6m.6 0h.6m-.4 0h.6m2 0h.6m0 0h.6m2 0h.6m2.8 0h.6m3.8 0h.6m-14.8 .2h.6m.6 0h.6m9 0h.6m.8 0h.6m-12.4 .2h.6m3.4 0h.6m4.6 0h.6m1 0h.6m0 0h.6m-11.4 .2h.6m0 0h.6m0 0h.6m-.4 0h.6m.8 .2h.6m1 0h.6m2.8 0h.6m.4 0h.6m.4 0h.6m2.6 0h.6m-12.8 .2h.6m1.2 0h.6m2.4 .2h.6m7 0h.6m-.6 0h.6m-16 .2h.6m1.2 0h.6m.2 0h.6m1.2 0h.6m2 0h.6m.8 0h.6m4 0h.6m.6 0h.6m1.8 0h.6m-.2 0h.6m-.4 0h.6m-13.4 .2h.6m3 0h.6m0 0h.6m3 0h.6m1.4 0h.6m-.4 0h.6m.2 0h.6m-.6 0h.6m-.2 0h.6m1.2 0h.6m-16.2 .2h.6m1.4 0h.6m1.2 0h.6m.2 0h.6m1.8 0h.6m.2 0h.6m-1.2 .2h.6m5.8 0h.6m1.4 0h.6m-12.8 .2h.6m0 0h.6m.4 0h.6m0 0h.6m-.2 0h.6m3 0h.6m0 0h.6m-.2 0h.6m-11.8 .2h.6m3.2 0h.6m2.6 0h.6m2.8 0h.6m-.4 0h.6m-.4 0h.6m1 0h.6m1.4 0h.6m.4 0h.6m-14.6 .2h.6m.4 0h.6m4.4 0h.6m.2 0h.6m2.4 0h.6m-11.8 .2h.6m3.4 0h.6m1.2 0h.6m.4 0h.6m-.4 0h.6m4 0h.6m1.4 0h.6m1.6 0h.6m-8.4 .2h.6m1 0h.6m0 0h.6m2.8 0h.6m-.2 0h.6m1.4 0h.6m-8.2 .2h.6m.2 0h.6m5.6 0h.6m-17 .2h.6m.6 0h.6m2.2 0h.6m5.2 0h.6m-.4 0h.6m1.2 0h.6m-.2 0h.6m1.6 0h.6m1.4 0h.6m-6.6 .2h.6m1 0h.6m-.2 0h.6m-4.4 .2h.6m5.4 0h.6m.6 0h.6m0 0h.6m-17 .2h.6m1.2 0h.6m.4 0h.6m-.2 0h.6m2.4 0h.6m.6 0h.6m-7.8 .2h.6m-.4 0h.6m.8 0h.6m-.4 0h.6m-2.2 .2h.6m1.8 0h.6m-.6 0h.6m3.8 0h.6m.8 0h.6m2.8 0h.6m3.6 0h.6m-12.4 .2h.6m.8 0h.6m5.4 0h.6m1.4 0h.6m1.4 0h.6m-15.6 .2h.6m3.6 0h.6m.2 0h.6m.4 0h.6m-.4 0h.6m-.4 0h.6m3.2 0h.6m4.4 0h.6m-5.4 .2h.6m.2 0h.6m1.6 0h.6m.2 0h.6m-10.2 .2h.6m2.4 0h.6m-.2 0h.6m1.6 0h.6m.6 0h.6m-.4 0h.6m1 0h.6m.6 0h.6m-13.2 .2h.6m0 0h.6m5 0h.6m.6 0h.6m2.2 0h.6m-11.8 .2h.6m1.4 0h.6m.6 0h.6m2.6 0h.6m2 0h.6m3.4 0h.6m-11.6 .2h.6m.6 0h.6m1 0h.6m3 0h.6m1.8 0h.6m.8 0h.6m-14.8 .2h.6m1.6 0h.6m-.2 0h.6m1.8 0h.6m-.2 0h.6m.2 0h.6m2.4 0h.6m3.6 0h.6m.6 0h.6m2.2 0h.6m-18.2 .2h.6m.6 0h.6m.8 0h.6m2.4 0h.6m0 0h.6m3.8 0h.6m3.4 0h.6m2.4 0h.6m-14.8 .2h.6m2.8 0h.6m4 0h.6m3.8 0h.6m1 0h.6m-10.8 .2h.6m-.4 0h.6m.2 0h.6m0 0h.6m5.8 0h.6m.4 0h.6m-.6 0h.6m-12.8 .2h.6m6.2 0h.6m1 0h.6m-12.6 .2h.6m-.2 0h.6m1 0h.6m.6 0h.6m2.4 0h.6m.2 0h.6m9.4 0h.6m-5.6 .2h.6m1.2 0h.6m.8 0h.6m-.6 0h.6m1 0h.6m-15.4 .2h.6m-.4 0h.6m1 0h.6m1.2 0h.6m9.2 0h.6m-13 .2h.6m1.4 0h.6m2.2 0h.6m-.4 0h.6m.6 0h.6m1 0h.6m-.4 0h.6m2.2 0h.6m0 0h.6m.8 0h.6m.4 0h.6m-13.4 .2h.6m-.4 0h.6m.2 0h.6m2.6 0h.6m3.4 0h.6m2.8 0h.6m-.6 0h.6m-.2 0h.6m-15.6 .2h.6m.4 0h.6m-.4 0h.6m2.8 0h.6m6.2 0h.6m4.2 0h.6m-16.4 .2h.6m2.6 0h.6m.6 0h.6m.2 0h.6m-.4 0h.6m1.2 0h.6m1.4 0h.6m-.2 0h.6m5.6 0h.6m-14.8 .2h.6m.2 0h.6m.6 0h.6m5.6 0h.6m1.4 0h.6m-14.2 .2h.6m4.8 0h.6m3.2 0h.6m1.6 0h.6m4.4 0h.6m-.2 0h.6m0 0h.6m-15.6 .2h.6m.2 0h.6m1.4 0h.6m0 0h.6m1.8 0h.6m2.2 0h.6m2 0h.6m1.2 0h.6m-7 .2h.6m-.2 0h.6m-.4 0h.6m2 0h.6m2 0h.6m-14.8 .2h.6m.2 0h.6m.6 0h.6m1.8 0h.6m5.6 0h.6m4.6 0h.6m-16.6 .2h.6m-.4 0h.6m.2 0h.6m12.4 0h.6m-.4 0h.6m2.4 0h.6m-13.6 .2h.6m3.8 0h.6m-.4 0h.6m4 0h.6m-14 .2h.6m3.4 0h.6m5.2 0h.6m1.8 0h.6m1 0h.6m1.2 0h.6m-12.6 .2h.6m-.6 0h.6m-.6 0h.6m5.4 0h.6m-.2 0h.6m6 0h.6m-10.2 .2h.6m3.4 0h.6m2 0h.6m-.4 0h.6m-14 .2h.6m2.2 0h.6m2.4 0h.6m2.6 0h.6m.4 0h.6m5.2 0h.6m-16.8 .2h.6m4.8 0h.6m.4 0h.6m1.8 0h.6m2.4 0h.6m3.2 0h.6m.4 0h.6m-15.8 .2h.6m-.2 0h.6m2.2 0h.6m.4 0h.6m4.2 0h.6m-.4 0h.6m1.6 0h.6m3.4 0h.6m-17.6 .2h.6m1.2 0h.6m.6 0h.6m7.2 0h.6m.4 0h.6m2.6 0h.6m-.2 0h.6m.4 0h.6m-16.8 .2h.6m2 0h.6m5.2 0h.6m5.4 0h.6m.6 0h.6m-.2 0h.6m0 0h.6m-16.6 .2h.6m-.6 0h.6m-.2 0h.6m0 0h.6m.8 0h.6m6.4 0h.6m1 0h.6m.4 0h.6m1.8 0h.6m.8 0h.6m-16 .2h.6m1.4 0h.6m1 0h.6m1.6 0h.6m2.2 0h.6m.6 0h.6m-.2 0h.6m-.2 0h.6m2.6 0h.6m-13.6 .2h.6m4.4 0h.6m.6 0h.6m-.4 0h.6m.2 0h.6m.8 0h.6m.2 0h.6m-11.8 .2h.6m.2 0h.6m1.4 0h.6m1.4 0h.6m1.8 0h.6m.2 0h.6m7.4 0h.6m-13.2 .2h.6m2.6 0h.6m-.6 0h.6m2 0h.6m-.4 0h.6m.4 0h.6m3 0h.6m0 0h.6m2 0h.6m-13.8 .2h.6m0 0h.6m-.6 0h.6m3 0h.6m-.4 0h.6m1 0h.6m.8 0h.6m-.4 0h.6m-12.4 .2h.6m.2 0h.6m-.2 0h.6m.8 .2h.6m-.6 0h.6m2 0h.6m0 0h.6m-.4 0h.6m.2 0h.6m9.6 0h.6m-16.2 .2h.6m2.4 0h.6m4 0h.6m3.2 0h.6m1 0h.6m.4 0h.6m-13.2 .2h.6m-.4 0h.6m1.4 0h.6m-.4 0h.6m1 0h.6m3.4 0h.6m1.6 0h.6m0 0h.6m.4 0h.6m-15.2 .2h.6m.6 0h.6m1.2 0h.6m12.8 0h.6m-15.6 .2h.6m4.8 0h.6m6.6 0h.6m2.4 0h.6m-15.4 .2h.6m3.8 0h.6m1.6 0h.6m0 0h.6m.6 0h.6m5.6 0h.6m-17.2 .2h.6m-.2 0h.6m5.6 0h.6m.4 0h.6m0 0h.6m3.2 0h.6m0 0h.6m-4.4 .2h.6m6.4 0h.6m-13.4 .2h.6m.2 0h.6m1.6 0h.6m.4 0h.6m-.4 0h.6m.4 0h.6m-.2 0h.6m.8 0h.6m3 0h.6m-11.2 .2h.6m4.8 0h.6m1.8 0h.6m.8 0h.6m-12.2 .2h.6m1.2 0h.6m-.4 0h.6m1.6 0h.6m.8 0h.6m8.2 0h.6m.4 0h.6m-13.4 .2h.6m.2 0h.6m0 0h.6m.4 0h.6m.8 0h.6m-.6 0h.6m-.4 0h.6m.4 0h.6m.4 0h.6m-8 .2h.6m.4 0h.6m4 0h.6m2 0h.6m3.6 0h.6m1.6 0h.6m-15.2 .2h.6m1.4 0h.6m0 0h.6m1.2 0h.6m4.2 0h.6m1 0h.6m-9 .2h.6m4.8 0h.6m.2 0h.6m5.2 0h.6m-16.6 .2h.6m.2 0h.6m.2 0h.6m8.6 0h.6m-11 .2h.6m1.8 0h.6m.4 0h.6m1 0h.6m.2 0h.6m.8 0h.6m5.2 0h.6m2.8 0h.6m-17.6 .2h.6m-.2 0h.6m.8 0h.6m7.6 0h.6m-.6 0h.6m2 0h.6m1.4 0h.6m2.2 0h.6m-16.2 .2h.6m0 0h.6m3.8 0h.6m.8 0h.6m.6 0h.6m4.8 0h.6m-10.4 .2h.6m0 0h.6m3.4 0h.6m.8 0h.6m0 0h.6m.2 0h.6m3.6 0h.6m-17.2 .2h.6m5.2 0h.6m4.2 0h.6m1.2 0h.6m3.4 0h.6m-.6 0h.6m-8.6 .2h.6m.8 0h.6m-.6 0h.6m2.4 0h.6m.2 0h.6m.4 0h.6m-15.2 .2h.6m.6 0h.6m1 0h.6m-.2 0h.6m2 0h.6m.4 0h.6m3.2 0h.6m-.2 0h.6m2.6 0h.6m-.6 0h.6m-8.8 .4h.6m2.2 0h.6m.4 0h.6m.8 0h.6m2.2 0h.6m1.2 0h.6m-12.2 .2h.6m10.4 0h.6m0 0h.6m-16.2 .2h.6m-.4 0h.6m.8 0h.6m2.8 0h.6m-4 .2h.6m-.2 0h.6m4.2 0h.6m3 0h.6m.8 0h.6m.2 0h.6m2.6 0h.6m-16.2 .2h.6m1.4 0h.6m1 0h.6m-3.8 .2h.6m.2 0h.6m1.2 0h.6m4.4 0h.6m-.4 0h.6m2 0h.6m-11.4 .2h.6m-.2 0h.6m8.8 0h.6m-.2 0h.6m6 0h.6m-16.8 .2h.6m0 0h.6m1.2 0h.6m0 0h.6m6.4 0h.6m-.4 0h.6m-11.2 .2h.6m6.8 0h.6m2.6 0h.6m4.8 0h.6m-17.2 .2h.6m.8 0h.6m.8 0h.6m-.4 0h.6m.8 0h.6m5 0h.6m.2 0h.6m-.4 0h.6m-.2 0h.6m.4 0h.6m-8.4 .2h.6m1.2 0h.6m.2 0h.6m1.4 0h.6m-.2 0h.6m-.4 0h.6m-.6 0h.6m1.8 0h.6m.8 0h.6m.4 0h.6m-15.6 .2h.6m1 0h.6m-.6 0h.6m.8 0h.6m.8 0h.6m3 0h.6m-.2 0h.6m0 0h.6m-3 .2h.6m-.4 0h.6m3.2 0h.6m-.6 0h.6m-.4 0h.6m3.2 0h.6m-11.8 .2h.6m.4 0h.6m-.6 0h.6m5 0h.6m4.6 0h.6m-13.2 .2h.6m.8 0h.6m1.2 0h.6m.2 0h.6m.6 0h.6m-.2 0h.6m3.2 0h.6m4 0h.6m-.2 0h.6m-17 .2h.6m1 0h.6m11 0h.6m2 0h.6m-16.2 .2h.6m-.2 0h.6m-.2 0h.6m.8 0h.6m8.4 0h.6m-6.4 .2h.6m4.2 0h.6m2 0h.6m1 0h.6m1.4 0h.6m-17.4 .2h.6m1.4 0h.6m.4 0h.6m-.4 0h.6m9 0h.6m2.6 0h.6m-15.4 .2h.6m1.8 0h.6m5.8 0h.6m.2 0h.6m3.8 0h.6m-13.8 .2h.6m1 0h.6m.2 0h.6m1 0h.6m2.4 0h.6m1.2 0h.6m2.4 0h.6m1 0h.6m-8.4 .2h.6m2 0h.6m1.8 0h.6m.4 0h.6m-.4 0h.6m2.2 0h.6m-17 .2h.6m-.2 0h.6m1 0h.6m-.2 0h.6m6.6 0h.6m1.8 0h.6m-.6 0h.6m2.4 0h.6m.6 0h.6m-17 .2h.6m.2 0h.6m1.2 0h.6m3.2 0h.6m.6 0h.6m.8 0h.6m-.4 0h.6m-.2 0h.6m2.8 0h.6m-7 .2h.6m3.4 0h.6m2 0h.6m-13.4 .2h.6m4.2 0h.6m4.4 0h.6m1.8 0h.6m.4 0h.6m.4 0h.6m-.4 0h.6m.8 0h.6m-16 .2h.6m2.4 0h.6m3.4 0h.6m-7.4 .2h.6m1.6 0h.6m-.2 0h.6m1.4 0h.6m1.6 0h.6m.2 0h.6m-.4 0h.6m-.6 0h.6m.2 0h.6m1.2 0h.6m.2 0h.6m0 0h.6m1.6 0h.6m-13.6 .2h.6m1.2 0h.6m0 0h.6m-.2 0h.6m-.6 0h.6m3.6 0h.6m3.2 0h.6m-13 .2h.6m1.4 0h.6m-.6 0h.6m-.4 0h.6m-.4 0h.6m-.2 0h.6m3.6 0h.6m-.2 0h.6m-.4 0h.6m-.2 0h.6m2.4 0h.6m-4.6 .2h.6m8.6 0h.6m-.6 0h.6m-17.4 .2h.6m1 0h.6m.6 0h.6m.8 0h.6m1.4 0h.6m1.6 0h.6m0 0h.6m1 0h.6m1.6 0h.6m-.2 0h.6m1 0h.6m1.6 0h.6m-14.4 .2h.6m-.4 0h.6m4.8 0h.6m.6 0h.6m3.6 0h.6m-14.4 .2h.6m-.6 0h.6m2 0h.6m1 0h.6m.6 0h.6m.2 0h.6m5.6 0h.6m3.4 0h.6m-14 .2h.6m.6 0h.6m4 0h.6m0 0h.6m.2 0h.6m-.4 0h.6m.4 0h.6m2.6 0h.6m-14.6 .2h.6m-.4 0h.6m2 0h.6m-.2 0h.6m1.4 0h.6m-1.2 .2h.6m2 0h.6m-.4 0h.6m6.2 0h.6m.2 0h.6m.6 0h.6m-15.8 .2h.6m-.2 0h.6m5.6 0h.6m3.8 0h.6m-12 .2h.6m1 0h.6m3.8 0h.6m3.4 0h.6m2.2 0h.6m-.2 0h.6m-10.8 .2h.6m1.6 0h.6m-.4 0h.6m6.2 0h.6m.4 0h.6m0 0h.6m0 0h.6m-13.2 .2h.6m1.8 0h.6m.6 0h.6m4.8 0h.6m-11.8 .2h.6m2.6 0h.6m1.2 0h.6m7.6 0h.6m-13 .2h.6m5.4 0h.6m5.4 0h.6m-11 .2h.6m.4 0h.6m1 0h.6m.4 0h.6m-.2 0h.6m-.6 0h.6m.2 0h.6m2.8 0h.6m-.4 0h.6m-11 .2h.6m.2 0h.6m3.4 0h.6m4.4 0h.6m-.4 0h.6m1.2 0h.6m-.4 0h.6m.8 0h.6m.6 0h.6m-14.6 .2h.6m.4 0h.6m.8 0h.6m5 0h.6m.8 0h.6m-12 .2h.6m-.4 0h.6m3.2 0h.6m1.4 0h.6m-.4 0h.6m2.8 0h.6m-.6 0h.6m3.2 0h.6m1.8 0h.6m-16 .2h.6m4.6 0h.6m2 0h.6m0 0h.6m4.8 0h.6m-15 .2h.6m-.2 0h.6m4.6 0h.6m1.4 0h.6m-.2 0h.6m-.6 0h.6m.6 0h.6m.2 0h.6m-.4 0h.6m.4 0h.6m2.2 0h.6m.6 0h.6m-15.2 .2h.6m.8 0h.6m2.4 0h.6m2 0h.6m1.8 0h.6m-.2 0h.6m2.8 0h.6m0 0h.6m2.2 0h.6m-14.6 .2h.6m0 0h.6m.6 0h.6m1.6 0h.6m-7.8 .2h.6m.8 0h.6m1.4 0h.6m2.8 0h.6m0 0h.6m1 0h.6m-.2 0h.6m1.6 0h.6m.6 0h.6m2.6 0h.6m-14 .2h.6m0 0h.6m7 0h.6m2.6 0h.6m.6 .2h.6m-.6 0h.6m-11.6 .2h.6m.4 0h.6m4 0h.6m-.4 0h.6m3 0h.6m-14.2 .2h.6m-.4 0h.6m2.6 0h.6m6.2 0h.6m1.6 0h.6m3.4 0h.6m-13.8 .2h.6m-.2 0h.6m-.2 0h.6m.8 0h.6m.2 0h.6m-.2 0h.6m2 0h.6m-.2 0h.6m1.2 0h.6m.8 0h.6m2 0h.6m-.2 0h.6m1 0h.6m-17.6 .2h.6m.4 0h.6m0 0h.6m-.2 0h.6m1.8 0h.6m8 0h.6m-.4 0h.6m1.8 0h.6m0 0h.6m-16.6 .2h.6m1.4 0h.6m3.2 0h.6m-.2 0h.6m9 0h.6m-.2 0h.6m-16 .2h.6m.8 0h.6m1.4 0h.6m3.4 0h.6m1.6 0h.6m-.2 0h.6m-.2 0h.6m1.2 0h.6m.6 0h.6m1.4 0h.6m-16.4 .2h.6m4.4 0h.6m1 0h.6m1.8 0h.6m2 0h.6m4.2 0h.6m-12.8 .2h.6m.4 0h.6m10.8 0h.6m-18 .2h.6m-.4 0h.6m1.8 0h.6m1 0h.6m0 0h.6m3.4 0h.6m-.2 0h.6m.8 0h.6m-9.6 .2h.6m3 0h.6m1.4 0h.6m.4 0h.6m6.2 0h.6m.4 0h.6m-.4 0h.6m-.4 0h.6m-17.4 .2h.6m.4 0h.6m1 0h.6m3.8 0h.6m1.4 0h.6m2.6 0h.6m1.2 0h.6m-5.2 .2h.6m0 0h.6m2.6 0h.6m-.2 0h.6m1.2 0h.6m-15.4 .2h.6m1.8 0h.6m.4 0h.6m3.6 0h.6m-.6 0h.6m.6 0h.6" stroke="#9d9f9d" stroke-width="0.6" stroke-opacity="0.7" fill="none"/>
<rect x="340.30" y="190.90" width="17.80" height="36.01" fill="none" stroke="#808280" stroke-width="0.7"/>
<line x1="340.30" y1="210.38" x2="358.10" y2="210.38" stroke="#808280" stroke-width="0.7"/>
<line x1="349.20" y1="161.66" x2="349.20" y2="190.90" stroke="#808280" stroke-width="0.7"/>
<line x1="349.20" y1="226.90" x2="349.20" y2="242.40" stroke="#808280" stroke-width="0.7"/>
<line x1="344.70" y1="161.66" x2="353.70" y2="161.66" stroke="#808280" stroke-width="0.7"/>
<line x1="344.70" y1="242.40" x2="353.70" y2="242.40" stroke="#808280" stroke-width="0.7"/>
<circle cx="349.20" cy="208.99" r="0.85" fill="#3d7a2a"/>
<line x1="24" y1="176.6" x2="366" y2="176.6" stroke="#9a9a9a" stroke-width="0.5" stroke-dasharray="1.5,1.1"/>
<text transform="translate(43.80,259.0) rotate(-45)" font-size="7.0" fill="#d5574c" text-anchor="end" stroke="#d5574c" stroke-width="0.1">MYC IRES</text>
<text transform="translate(78.00,259.0) rotate(-45)" font-size="7.0" fill="#ee8b48" text-anchor="end" stroke="#ee8b48" stroke-width="0.1">Pre-miR-155</text>
<text transform="translate(112.20,259.0) rotate(-45)" font-size="7.0" fill="#e8bf48" text-anchor="end" stroke="#e8bf48" stroke-width="0.1">HOTAIR helix 7</text>
<text transform="translate(146.30,259.0) rotate(-45)" font-size="7.0" fill="#67b896" text-anchor="end" stroke="#67b896" stroke-width="0.1">CAG expansion</text>
<text transform="translate(180.50,259.0) rotate(-45)" font-size="7.0" fill="#8eaed3" text-anchor="end" stroke="#8eaed3" stroke-width="0.1">HIV-1 RRE IIb</text>
<text transform="translate(214.60,259.0) rotate(-45)" font-size="7.0" fill="#4f6db4" text-anchor="end" stroke="#4f6db4" stroke-width="0.1">SARS-CoV-2-SL1</text>
<text transform="translate(249.10,259.0) rotate(-45)" font-size="7.0" fill="#cc98c6" text-anchor="end" stroke="#cc98c6" stroke-width="0.1">SARS-CoV-2-SL2&amp;3</text>
<text transform="translate(283.30,259.0) rotate(-45)" font-size="7.0" fill="#e27a8f" text-anchor="end" stroke="#e27a8f" stroke-width="0.1">SARS-CoV-2-SL4</text>
<text transform="translate(317.30,259.0) rotate(-45)" font-size="7.0" fill="#7c4430" text-anchor="end" stroke="#7c4430" stroke-width="0.1">SARS-CoV-2-SL5a</text>
<text transform="translate(351.40,259.0) rotate(-45)" font-size="7.0" fill="#9d9f9d" text-anchor="end" stroke="#9d9f9d" stroke-width="0.1">SARS-CoV-2-SL5b</text>
<text x="-0.5" y="330" font-size="13" font-weight="bold" fill="#000">b</text>
<path d="M111.90 326.20A80.00 80.00 0 1 0 191.90 406.20L185.35 406.20A73.45 73.45 0 1 1 111.90 332.75Z" fill="#e6e6e6"/>
<path d="M111.90 326.20A80.00 80.00 0 0 0 47.18 359.18L52.48 363.03A73.45 73.45 0 0 1 111.90 332.75Z" fill="#d6473d"/>
<path d="M111.90 334.15A72.05 72.05 0 1 0 183.95 406.20L177.40 406.20A65.50 65.50 0 1 1 111.90 340.70Z" fill="#e6e6e6"/>
<path d="M111.90 334.15A72.05 72.05 0 0 0 45.33 378.63L51.39 381.13A65.50 65.50 0 0 1 111.90 340.70Z" fill="#ec8237"/>
<path d="M111.90 342.10A64.10 64.10 0 1 0 176.00 406.20L169.45 406.20A57.55 57.55 0 1 1 111.90 348.65Z" fill="#e6e6e6"/>
<path d="M111.90 342.10A64.10 64.10 0 0 0 60.04 368.52L65.34 372.37A57.55 57.55 0 0 1 111.90 348.65Z" fill="#e8bb3a"/>
<path d="M111.90 350.05A56.15 56.15 0 1 0 168.05 406.20L161.50 406.20A49.60 49.60 0 1 1 111.90 356.60Z" fill="#e6e6e6"/>
<path d="M111.90 350.05A56.15 56.15 0 0 0 75.43 363.50L79.69 368.48A49.60 49.60 0 0 1 111.90 356.60Z" fill="#5db38b"/>
<path d="M111.90 358.00A48.20 48.20 0 1 0 160.10 406.20L153.55 406.20A41.65 41.65 0 1 1 111.90 364.55Z" fill="#e6e6e6"/>
<path d="M111.90 358.00A48.20 48.20 0 0 0 70.80 431.38L76.39 427.96A41.65 41.65 0 0 1 111.90 364.55Z" fill="#86addb"/>
<path d="M111.90 365.95A40.25 40.25 0 1 0 152.15 406.20L145.60 406.20A33.70 33.70 0 1 1 111.90 372.50Z" fill="#e6e6e6"/>
<path d="M111.90 365.95A40.25 40.25 0 0 0 93.63 370.34L96.60 376.17A33.70 33.70 0 0 1 111.90 372.50Z" fill="#3f5fae"/>
<path d="M111.90 373.90A32.30 32.30 0 1 0 144.20 406.20L137.65 406.20A25.75 25.75 0 1 1 111.90 380.45Z" fill="#e6e6e6"/>
<path d="M111.90 373.90A32.30 32.30 0 0 0 81.78 394.55L87.88 396.91A25.75 25.75 0 0 1 111.90 380.45Z" fill="#c790c9"/>
<path d="M111.90 381.85A24.35 24.35 0 1 0 136.25 406.20L129.70 406.20A17.80 17.80 0 1 1 111.90 388.40Z" fill="#e6e6e6"/>
<path d="M111.90 389.80A16.40 16.40 0 1 0 128.30 406.20L121.75 406.20A9.85 9.85 0 1 1 111.90 396.35Z" fill="#e6e6e6"/>
<path d="M111.90 389.80A16.40 16.40 0 0 0 108.07 390.25L109.60 396.62A9.85 9.85 0 0 1 111.90 396.35Z" fill="#8a3a1f"/>
<path d="M111.90 397.75A8.45 8.45 0 1 0 120.35 406.20L113.80 406.20A1.90 1.90 0 1 1 111.90 404.30Z" fill="#e6e6e6"/>
<path d="M111.90 397.75A8.45 8.45 0 0 0 103.48 406.86L110.01 406.35A1.90 1.90 0 0 1 111.90 404.30Z" fill="#9a9a9a"/>
<text x="114.0" y="332.30" font-size="6.3" fill="#d6473d" textLength="63.5" lengthAdjust="spacingAndGlyphs" stroke="#d6473d" stroke-width="0.1"><tspan font-style="italic">MYC IRES</tspan> (4/20, 20%)</text>
<text x="114.0" y="340.32" font-size="6.3" fill="#ec8237" textLength="66.2" lengthAdjust="spacingAndGlyphs" stroke="#ec8237" stroke-width="0.1">Pre-miR155 (5/20, 25%)</text>
<text x="114.0" y="348.34" font-size="6.3" fill="#e8bb3a" textLength="76.9" lengthAdjust="spacingAndGlyphs" stroke="#e8bb3a" stroke-width="0.1">HOTAIR helix 7 (4/20, 20%)</text>
<text x="114.0" y="356.36" font-size="6.3" fill="#5db38b" textLength="77.4" lengthAdjust="spacingAndGlyphs" stroke="#5db38b" stroke-width="0.1">CAG expansion (3/20, 15%)</text>
<text x="114.0" y="364.38" font-size="6.3" fill="#86addb" textLength="70.7" lengthAdjust="spacingAndGlyphs" stroke="#86addb" stroke-width="0.1">HIV-1 RRE IIb (9/20, 45%)</text>
<text x="114.0" y="372.40" font-size="6.3" fill="#3f5fae" textLength="80.5" lengthAdjust="spacingAndGlyphs" stroke="#3f5fae" stroke-width="0.1">SARS-CoV-2-SL1 (2/20, 10%)</text>
<text x="114.0" y="380.42" font-size="6.3" fill="#c790c9" textLength="89.4" lengthAdjust="spacingAndGlyphs" stroke="#c790c9" stroke-width="0.1">SARS-CoV-2-SL2&amp;3 (5/10, 50%)</text>
<text x="114.0" y="388.44" font-size="6.3" fill="#e27a8f" textLength="79.6" lengthAdjust="spacingAndGlyphs" stroke="#e27a8f" stroke-width="0.1">SARS-CoV-2-SL4 (0/20, 0%)</text>
<text x="114.0" y="396.46" font-size="6.3" fill="#8a3a1f" textLength="81.0" lengthAdjust="spacingAndGlyphs" stroke="#8a3a1f" stroke-width="0.1">SARS-CoV-2-SL5a (1/20, 5%)</text>
<text x="114.0" y="404.48" font-size="6.3" fill="#9a9a9a" textLength="84.9" lengthAdjust="spacingAndGlyphs" stroke="#9a9a9a" stroke-width="0.1">SARS-CoV-2-SL5b (7/20, 35%)</text>
<text x="54" y="502.9" font-size="8.6" fill="#222" stroke="#222" stroke-width="0.1">Average validation rate: <tspan fill="#e0323c">21.1%</tspan></text>
<text x="376.3" y="7.0" font-size="13" font-weight="bold" fill="#000">c</text>
<text x="388.70" y="10.20" font-size="7.4" fill="#222" text-anchor="start"  stroke="#222" stroke-width="0.1">CAS number</text>
<rect x="429.90" y="15.10" width="5.1" height="4.9" fill="#084081"/>
<rect x="429.90" y="21.06" width="5.1" height="4.9" fill="#dcf1d7"/>
<rect x="436.12" y="21.06" width="5.1" height="4.9" fill="#084081"/>
<rect x="429.90" y="27.02" width="5.1" height="4.9" fill="#ccebc5"/>
<rect x="436.12" y="27.02" width="5.1" height="4.9" fill="#d4eece"/>
<rect x="442.34" y="27.02" width="5.1" height="4.9" fill="#084081"/>
<rect x="429.90" y="32.98" width="5.1" height="4.9" fill="#d1edca"/>
<rect x="436.12" y="32.98" width="5.1" height="4.9" fill="#d4eece"/>
<rect x="442.34" y="32.98" width="5.1" height="4.9" fill="#c3e8c1"/>
<rect x="448.56" y="32.98" width="5.1" height="4.9" fill="#084081"/>
<rect x="429.90" y="38.94" width="5.1" height="4.9" fill="#ccebc5"/>
<rect x="436.12" y="38.94" width="5.1" height="4.9" fill="#d4eece"/>
<rect x="442.34" y="38.94" width="5.1" height="4.9" fill="#afe0b8"/>
<rect x="448.56" y="38.94" width="5.1" height="4.9" fill="#ccebc5"/>
<rect x="454.78" y="38.94" width="5.1" height="4.9" fill="#084081"/>
<rect x="429.90" y="44.90" width="5.1" height="4.9" fill="#ccebc5"/>
<rect x="436.12" y="44.90" width="5.1" height="4.9" fill="#d4eece"/>
<rect x="442.34" y="44.90" width="5.1" height="4.9" fill="#afe0b8"/>
<rect x="448.56" y="44.90" width="5.1" height="4.9" fill="#ccebc5"/>
<rect x="454.78" y="44.90" width="5.1" height="4.9" fill="#084081"/>
<rect x="461.00" y="44.90" width="5.1" height="4.9" fill="#084081"/>
<rect x="429.90" y="50.86" width="5.1" height="4.9" fill="#ccebc5"/>
<rect x="436.12" y="50.86" width="5.1" height="4.9" fill="#d4eece"/>
<rect x="442.34" y="50.86" width="5.1" height="4.9" fill="#9fdab8"/>
<rect x="448.56" y="50.86" width="5.1" height="4.9" fill="#ccebc5"/>
<rect x="454.78" y="50.86" width="5.1" height="4.9" fill="#2b8cbe"/>
<rect x="461.00" y="50.86" width="5.1" height="4.9" fill="#2b8cbe"/>
<rect x="467.22" y="50.86" width="5.1" height="4.9" fill="#084081"/>
<rect x="429.90" y="56.82" width="5.1" height="4.9" fill="#ccebc5"/>
<rect x="436.12" y="56.82" width="5.1" height="4.9" fill="#d4eece"/>
<rect x="442.34" y="56.82" width="5.1" height="4.9" fill="#afe0b8"/>
<rect x="448.56" y="56.82" width="5.1" height="4.9" fill="#ccebc5"/>
<rect x="454.78" y="56.82" width="5.1" height="4.9" fill="#084081"/>
<rect x="461.00" y="56.82" width="5.1" height="4.9" fill="#084081"/>
<rect x="467.22" y="56.82" width="5.1" height="4.9" fill="#2b8cbe"/>
<rect x="473.44" y="56.82" width="5.1" height="4.9" fill="#084081"/>
<rect x="429.90" y="62.78" width="5.1" height="4.9" fill="#e8f6e3"/>
<rect x="436.12" y="62.78" width="5.1" height="4.9" fill="#e8f6e3"/>
<rect x="442.34" y="62.78" width="5.1" height="4.9" fill="#e8f6e3"/>
<rect x="448.56" y="62.78" width="5.1" height="4.9" fill="#e8f6e3"/>
<rect x="454.78" y="62.78" width="5.1" height="4.9" fill="#e8f6e3"/>
<rect x="461.00" y="62.78" width="5.1" height="4.9" fill="#e8f6e3"/>
<rect x="467.22" y="62.78" width="5.1" height="4.9" fill="#e8f6e3"/>
<rect x="473.44" y="62.78" width="5.1" height="4.9" fill="#e8f6e3"/>
<rect x="479.66" y="62.78" width="5.1" height="4.9" fill="#084081"/>
<rect x="429.90" y="68.74" width="5.1" height="4.9" fill="#e8f6e3"/>
<rect x="436.12" y="68.74" width="5.1" height="4.9" fill="#e8f6e3"/>
<rect x="442.34" y="68.74" width="5.1" height="4.9" fill="#e8f6e3"/>
<rect x="448.56" y="68.74" width="5.1" height="4.9" fill="#e8f6e3"/>
<rect x="454.78" y="68.74" width="5.1" height="4.9" fill="#e8f6e3"/>
<rect x="461.00" y="68.74" width="5.1" height="4.9" fill="#e8f6e3"/>
<rect x="467.22" y="68.74" width="5.1" height="4.9" fill="#e8f6e3"/>
<rect x="473.44" y="68.74" width="5.1" height="4.9" fill="#e8f6e3"/>
<rect x="479.66" y="68.74" width="5.1" height="4.9" fill="#d4eece"/>
<rect x="485.88" y="68.74" width="5.1" height="4.9" fill="#084081"/>
<rect x="429.90" y="74.70" width="5.1" height="4.9" fill="#e8f6e3"/>
<rect x="436.12" y="74.70" width="5.1" height="4.9" fill="#e8f6e3"/>
<rect x="442.34" y="74.70" width="5.1" height="4.9" fill="#e8f6e3"/>
<rect x="448.56" y="74.70" width="5.1" height="4.9" fill="#e8f6e3"/>
<rect x="454.78" y="74.70" width="5.1" height="4.9" fill="#e8f6e3"/>
<rect x="461.00" y="74.70" width="5.1" height="4.9" fill="#e8f6e3"/>
<rect x="467.22" y="74.70" width="5.1" height="4.9" fill="#e8f6e3"/>
<rect x="473.44" y="74.70" width="5.1" height="4.9" fill="#e8f6e3"/>
<rect x="479.66" y="74.70" width="5.1" height="4.9" fill="#d4eece"/>
<rect x="485.88" y="74.70" width="5.1" height="4.9" fill="#9fdab8"/>
<rect x="492.10" y="74.70" width="5.1" height="4.9" fill="#084081"/>
<rect x="429.90" y="80.66" width="5.1" height="4.9" fill="#e8f6e3"/>
<rect x="436.12" y="80.66" width="5.1" height="4.9" fill="#e8f6e3"/>
<rect x="442.34" y="80.66" width="5.1" height="4.9" fill="#e8f6e3"/>
<rect x="448.56" y="80.66" width="5.1" height="4.9" fill="#e8f6e3"/>
<rect x="454.78" y="80.66" width="5.1" height="4.9" fill="#e8f6e3"/>
<rect x="461.00" y="80.66" width="5.1" height="4.9" fill="#e8f6e3"/>
<rect x="467.22" y="80.66" width="5.1" height="4.9" fill="#e8f6e3"/>
<rect x="473.44" y="80.66" width="5.1" height="4.9" fill="#e8f6e3"/>
<rect x="479.66" y="80.66" width="5.1" height="4.9" fill="#d4eece"/>
<rect x="485.88" y="80.66" width="5.1" height="4.9" fill="#9fdab8"/>
<rect x="492.10" y="80.66" width="5.1" height="4.9" fill="#084081"/>
<rect x="498.32" y="80.66" width="5.1" height="4.9" fill="#084081"/>
<rect x="429.90" y="86.62" width="5.1" height="4.9" fill="#e8f6e3"/>
<rect x="436.12" y="86.62" width="5.1" height="4.9" fill="#e8f6e3"/>
<rect x="442.34" y="86.62" width="5.1" height="4.9" fill="#e8f6e3"/>
<rect x="448.56" y="86.62" width="5.1" height="4.9" fill="#e8f6e3"/>
<rect x="454.78" y="86.62" width="5.1" height="4.9" fill="#e8f6e3"/>
<rect x="461.00" y="86.62" width="5.1" height="4.9" fill="#e8f6e3"/>
<rect x="467.22" y="86.62" width="5.1" height="4.9" fill="#e8f6e3"/>
<rect x="473.44" y="86.62" width="5.1" height="4.9" fill="#e8f6e3"/>
<rect x="479.66" y="86.62" width="5.1" height="4.9" fill="#dcf1d7"/>
<rect x="485.88" y="86.62" width="5.1" height="4.9" fill="#d4eece"/>
<rect x="492.10" y="86.62" width="5.1" height="4.9" fill="#d4eece"/>
<rect x="498.32" y="86.62" width="5.1" height="4.9" fill="#d4eece"/>
<rect x="504.54" y="86.62" width="5.1" height="4.9" fill="#084081"/>
<rect x="429.90" y="92.58" width="5.1" height="4.9" fill="#d1edca"/>
<rect x="436.12" y="92.58" width="5.1" height="4.9" fill="#d4eece"/>
<rect x="442.34" y="92.58" width="5.1" height="4.9" fill="#c3e8c1"/>
<rect x="448.56" y="92.58" width="5.1" height="4.9" fill="#ccebc5"/>
<rect x="454.78" y="92.58" width="5.1" height="4.9" fill="#bee5bf"/>
<rect x="461.00" y="92.58" width="5.1" height="4.9" fill="#bee5bf"/>
<rect x="467.22" y="92.58" width="5.1" height="4.9" fill="#bee5bf"/>
<rect x="473.44" y="92.58" width="5.1" height="4.9" fill="#bee5bf"/>
<rect x="479.66" y="92.58" width="5.1" height="4.9" fill="#e8f6e3"/>
<rect x="485.88" y="92.58" width="5.1" height="4.9" fill="#e5f5df"/>
<rect x="492.10" y="92.58" width="5.1" height="4.9" fill="#e8f6e3"/>
<rect x="498.32" y="92.58" width="5.1" height="4.9" fill="#e8f6e3"/>
<rect x="504.54" y="92.58" width="5.1" height="4.9" fill="#e8f6e3"/>
<rect x="510.76" y="92.58" width="5.1" height="4.9" fill="#084081"/>
<rect x="429.90" y="98.54" width="5.1" height="4.9" fill="#dcf1d7"/>
<rect x="436.12" y="98.54" width="5.1" height="4.9" fill="#dcf1d7"/>
<rect x="442.34" y="98.54" width="5.1" height="4.9" fill="#d4eece"/>
<rect x="448.56" y="98.54" width="5.1" height="4.9" fill="#dcf1d7"/>
<rect x="454.78" y="98.54" width="5.1" height="4.9" fill="#dcf1d7"/>
<rect x="461.00" y="98.54" width="5.1" height="4.9" fill="#dcf1d7"/>
<rect x="467.22" y="98.54" width="5.1" height="4.9" fill="#dcf1d7"/>
<rect x="473.44" y="98.54" width="5.1" height="4.9" fill="#dcf1d7"/>
<rect x="479.66" y="98.54" width="5.1" height="4.9" fill="#e8f6e3"/>
<rect x="485.88" y="98.54" width="5.1" height="4.9" fill="#e8f6e3"/>
<rect x="492.10" y="98.54" width="5.1" height="4.9" fill="#e8f6e3"/>
<rect x="498.32" y="98.54" width="5.1" height="4.9" fill="#e8f6e3"/>
<rect x="504.54" y="98.54" width="5.1" height="4.9" fill="#e8f6e3"/>
<rect x="510.76" y="98.54" width="5.1" height="4.9" fill="#d4eece"/>
<rect x="516.98" y="98.54" width="5.1" height="4.9" fill="#084081"/>
<rect x="429.90" y="104.50" width="5.1" height="4.9" fill="#d1edca"/>
<rect x="436.12" y="104.50" width="5.1" height="4.9" fill="#d4eece"/>
<rect x="442.34" y="104.50" width="5.1" height="4.9" fill="#ccebc5"/>
<rect x="448.56" y="104.50" width="5.1" height="4.9" fill="#d4eece"/>
<rect x="454.78" y="104.50" width="5.1" height="4.9" fill="#bee5bf"/>
<rect x="461.00" y="104.50" width="5.1" height="4.9" fill="#bee5bf"/>
<rect x="467.22" y="104.50" width="5.1" height="4.9" fill="#bee5bf"/>
<rect x="473.44" y="104.50" width="5.1" height="4.9" fill="#bee5bf"/>
<rect x="479.66" y="104.50" width="5.1" height="4.9" fill="#e8f6e3"/>
<rect x="485.88" y="104.50" width="5.1" height="4.9" fill="#e8f6e3"/>
<rect x="492.10" y="104.50" width="5.1" height="4.9" fill="#e8f6e3"/>
<rect x="498.32" y="104.50" width="5.1" height="4.9" fill="#e8f6e3"/>
<rect x="504.54" y="104.50" width="5.1" height="4.9" fill="#e8f6e3"/>
<rect x="510.76" y="104.50" width="5.1" height="4.9" fill="#bee5bf"/>
<rect x="516.98" y="104.50" width="5.1" height="4.9" fill="#d4eece"/>
<rect x="523.20" y="104.50" width="5.1" height="4.9" fill="#084081"/>
<rect x="429.90" y="110.46" width="5.1" height="4.9" fill="#e5f5df"/>
<rect x="436.12" y="110.46" width="5.1" height="4.9" fill="#e5f5df"/>
<rect x="442.34" y="110.46" width="5.1" height="4.9" fill="#e5f5df"/>
<rect x="448.56" y="110.46" width="5.1" height="4.9" fill="#e5f5df"/>
<rect x="454.78" y="110.46" width="5.1" height="4.9" fill="#e5f5df"/>
<rect x="461.00" y="110.46" width="5.1" height="4.9" fill="#e5f5df"/>
<rect x="467.22" y="110.46" width="5.1" height="4.9" fill="#e5f5df"/>
<rect x="473.44" y="110.46" width="5.1" height="4.9" fill="#e5f5df"/>
<rect x="479.66" y="110.46" width="5.1" height="4.9" fill="#dcf1d7"/>
<rect x="485.88" y="110.46" width="5.1" height="4.9" fill="#d4eece"/>
<rect x="492.10" y="110.46" width="5.1" height="4.9" fill="#d4eece"/>
<rect x="498.32" y="110.46" width="5.1" height="4.9" fill="#d4eece"/>
<rect x="504.54" y="110.46" width="5.1" height="4.9" fill="#dcf1d7"/>
<rect x="510.76" y="110.46" width="5.1" height="4.9" fill="#e5f5df"/>
<rect x="516.98" y="110.46" width="5.1" height="4.9" fill="#e5f5df"/>
<rect x="523.20" y="110.46" width="5.1" height="4.9" fill="#e8f6e3"/>
<rect x="529.42" y="110.46" width="5.1" height="4.9" fill="#084081"/>
<rect x="429.90" y="116.42" width="5.1" height="4.9" fill="#e1f3dc"/>
<rect x="436.12" y="116.42" width="5.1" height="4.9" fill="#e1f3dc"/>
<rect x="442.34" y="116.42" width="5.1" height="4.9" fill="#e1f3dc"/>
<rect x="448.56" y="116.42" width="5.1" height="4.9" fill="#e1f3dc"/>
<rect x="454.78" y="116.42" width="5.1" height="4.9" fill="#e1f3dc"/>
<rect x="461.00" y="116.42" width="5.1" height="4.9" fill="#e1f3dc"/>
<rect x="467.22" y="116.42" width="5.1" height="4.9" fill="#e1f3dc"/>
<rect x="473.44" y="116.42" width="5.1" height="4.9" fill="#e1f3dc"/>
<rect x="479.66" y="116.42" width="5.1" height="4.9" fill="#dcf1d7"/>
<rect x="485.88" y="116.42" width="5.1" height="4.9" fill="#9fdab8"/>
<rect x="492.10" y="116.42" width="5.1" height="4.9" fill="#ccebc5"/>
<rect x="498.32" y="116.42" width="5.1" height="4.9" fill="#bee5bf"/>
<rect x="504.54" y="116.42" width="5.1" height="4.9" fill="#dcf1d7"/>
<rect x="510.76" y="116.42" width="5.1" height="4.9" fill="#e5f5df"/>
<rect x="516.98" y="116.42" width="5.1" height="4.9" fill="#e1f3dc"/>
<rect x="523.20" y="116.42" width="5.1" height="4.9" fill="#e5f5df"/>
<rect x="529.42" y="116.42" width="5.1" height="4.9" fill="#dcf1d7"/>
<rect x="535.64" y="116.42" width="5.1" height="4.9" fill="#084081"/>
<rect x="429.90" y="122.38" width="5.1" height="4.9" fill="#e1f3dc"/>
<rect x="436.12" y="122.38" width="5.1" height="4.9" fill="#e1f3dc"/>
<rect x="442.34" y="122.38" width="5.1" height="4.9" fill="#e1f3dc"/>
<rect x="448.56" y="122.38" width="5.1" height="4.9" fill="#e1f3dc"/>
<rect x="454.78" y="122.38" width="5.1" height="4.9" fill="#e1f3dc"/>
<rect x="461.00" y="122.38" width="5.1" height="4.9" fill="#e1f3dc"/>
<rect x="467.22" y="122.38" width="5.1" height="4.9" fill="#e1f3dc"/>
<rect x="473.44" y="122.38" width="5.1" height="4.9" fill="#e1f3dc"/>
<rect x="479.66" y="122.38" width="5.1" height="4.9" fill="#dcf1d7"/>
<rect x="485.88" y="122.38" width="5.1" height="4.9" fill="#ccebc5"/>
<rect x="492.10" y="122.38" width="5.1" height="4.9" fill="#d4eece"/>
<rect x="498.32" y="122.38" width="5.1" height="4.9" fill="#d4eece"/>
<rect x="504.54" y="122.38" width="5.1" height="4.9" fill="#dcf1d7"/>
<rect x="510.76" y="122.38" width="5.1" height="4.9" fill="#e5f5df"/>
<rect x="516.98" y="122.38" width="5.1" height="4.9" fill="#e1f3dc"/>
<rect x="523.20" y="122.38" width="5.1" height="4.9" fill="#e5f5df"/>
<rect x="529.42" y="122.38" width="5.1" height="4.9" fill="#d4eece"/>
<rect x="535.64" y="122.38" width="5.1" height="4.9" fill="#d4eece"/>
<rect x="541.86" y="122.38" width="5.1" height="4.9" fill="#084081"/>
<rect x="429.90" y="128.34" width="5.1" height="4.9" fill="#e8f6e3"/>
<rect x="436.12" y="128.34" width="5.1" height="4.9" fill="#e8f6e3"/>
<rect x="442.34" y="128.34" width="5.1" height="4.9" fill="#e8f6e3"/>
<rect x="448.56" y="128.34" width="5.1" height="4.9" fill="#e8f6e3"/>
<rect x="454.78" y="128.34" width="5.1" height="4.9" fill="#e8f6e3"/>
<rect x="461.00" y="128.34" width="5.1" height="4.9" fill="#e8f6e3"/>
<rect x="467.22" y="128.34" width="5.1" height="4.9" fill="#e8f6e3"/>
<rect x="473.44" y="128.34" width="5.1" height="4.9" fill="#e8f6e3"/>
<rect x="479.66" y="128.34" width="5.1" height="4.9" fill="#ccebc5"/>
<rect x="485.88" y="128.34" width="5.1" height="4.9" fill="#bee5bf"/>
<rect x="492.10" y="128.34" width="5.1" height="4.9" fill="#ccebc5"/>
<rect x="498.32" y="128.34" width="5.1" height="4.9" fill="#ccebc5"/>
<rect x="504.54" y="128.34" width="5.1" height="4.9" fill="#d4eece"/>
<rect x="510.76" y="128.34" width="5.1" height="4.9" fill="#e5f5df"/>
<rect x="516.98" y="128.34" width="5.1" height="4.9" fill="#e5f5df"/>
<rect x="523.20" y="128.34" width="5.1" height="4.9" fill="#e8f6e3"/>
<rect x="529.42" y="128.34" width="5.1" height="4.9" fill="#dcf1d7"/>
<rect x="535.64" y="128.34" width="5.1" height="4.9" fill="#d4eece"/>
<rect x="541.86" y="128.34" width="5.1" height="4.9" fill="#d4eece"/>
<rect x="548.08" y="128.34" width="5.1" height="4.9" fill="#084081"/>
<rect x="429.90" y="134.30" width="5.1" height="4.9" fill="#e5f5df"/>
<rect x="436.12" y="134.30" width="5.1" height="4.9" fill="#e5f5df"/>
<rect x="442.34" y="134.30" width="5.1" height="4.9" fill="#e5f5df"/>
<rect x="448.56" y="134.30" width="5.1" height="4.9" fill="#e5f5df"/>
<rect x="454.78" y="134.30" width="5.1" height="4.9" fill="#e5f5df"/>
<rect x="461.00" y="134.30" width="5.1" height="4.9" fill="#e5f5df"/>
<rect x="467.22" y="134.30" width="5.1" height="4.9" fill="#e5f5df"/>
<rect x="473.44" y="134.30" width="5.1" height="4.9" fill="#e5f5df"/>
<rect x="479.66" y="134.30" width="5.1" height="4.9" fill="#d4eece"/>
<rect x="485.88" y="134.30" width="5.1" height="4.9" fill="#69c2ca"/>
<rect x="492.10" y="134.30" width="5.1" height="4.9" fill="#9fdab8"/>
<rect x="498.32" y="134.30" width="5.1" height="4.9" fill="#8dd3be"/>
<rect x="504.54" y="134.30" width="5.1" height="4.9" fill="#d4eece"/>
<rect x="510.76" y="134.30" width="5.1" height="4.9" fill="#e5f5df"/>
<rect x="516.98" y="134.30" width="5.1" height="4.9" fill="#e5f5df"/>
<rect x="523.20" y="134.30" width="5.1" height="4.9" fill="#e8f6e3"/>
<rect x="529.42" y="134.30" width="5.1" height="4.9" fill="#d4eece"/>
<rect x="535.64" y="134.30" width="5.1" height="4.9" fill="#bee5bf"/>
<rect x="541.86" y="134.30" width="5.1" height="4.9" fill="#d4eece"/>
<rect x="548.08" y="134.30" width="5.1" height="4.9" fill="#d4eece"/>
<rect x="554.30" y="134.30" width="5.1" height="4.9" fill="#084081"/>
<rect x="429.90" y="140.26" width="5.1" height="4.9" fill="#d4eece"/>
<rect x="436.12" y="140.26" width="5.1" height="4.9" fill="#d4eece"/>
<rect x="442.34" y="140.26" width="5.1" height="4.9" fill="#d4eece"/>
<rect x="448.56" y="140.26" width="5.1" height="4.9" fill="#d4eece"/>
<rect x="454.78" y="140.26" width="5.1" height="4.9" fill="#d4eece"/>
<rect x="461.00" y="140.26" width="5.1" height="4.9" fill="#d4eece"/>
<rect x="467.22" y="140.26" width="5.1" height="4.9" fill="#d4eece"/>
<rect x="473.44" y="140.26" width="5.1" height="4.9" fill="#d4eece"/>
<rect x="479.66" y="140.26" width="5.1" height="4.9" fill="#e1f3dc"/>
<rect x="485.88" y="140.26" width="5.1" height="4.9" fill="#dcf1d7"/>
<rect x="492.10" y="140.26" width="5.1" height="4.9" fill="#e1f3dc"/>
<rect x="498.32" y="140.26" width="5.1" height="4.9" fill="#e1f3dc"/>
<rect x="504.54" y="140.26" width="5.1" height="4.9" fill="#e1f3dc"/>
<rect x="510.76" y="140.26" width="5.1" height="4.9" fill="#d4eece"/>
<rect x="516.98" y="140.26" width="5.1" height="4.9" fill="#dcf1d7"/>
<rect x="523.20" y="140.26" width="5.1" height="4.9" fill="#dcf1d7"/>
<rect x="529.42" y="140.26" width="5.1" height="4.9" fill="#e1f3dc"/>
<rect x="535.64" y="140.26" width="5.1" height="4.9" fill="#dcf1d7"/>
<rect x="541.86" y="140.26" width="5.1" height="4.9" fill="#d4eece"/>
<rect x="548.08" y="140.26" width="5.1" height="4.9" fill="#dcf1d7"/>
<rect x="554.30" y="140.26" width="5.1" height="4.9" fill="#e1f3dc"/>
<rect x="560.52" y="140.26" width="5.1" height="4.9" fill="#084081"/>
<rect x="429.90" y="146.22" width="5.1" height="4.9" fill="#e8f6e3"/>
<rect x="436.12" y="146.22" width="5.1" height="4.9" fill="#e8f6e3"/>
<rect x="442.34" y="146.22" width="5.1" height="4.9" fill="#e8f6e3"/>
<rect x="448.56" y="146.22" width="5.1" height="4.9" fill="#e8f6e3"/>
<rect x="454.78" y="146.22" width="5.1" height="4.9" fill="#e8f6e3"/>
<rect x="461.00" y="146.22" width="5.1" height="4.9" fill="#e8f6e3"/>
<rect x="467.22" y="146.22" width="5.1" height="4.9" fill="#e8f6e3"/>
<rect x="473.44" y="146.22" width="5.1" height="4.9" fill="#e8f6e3"/>
<rect x="479.66" y="146.22" width="5.1" height="4.9" fill="#d4eece"/>
<rect x="485.88" y="146.22" width="5.1" height="4.9" fill="#bee5bf"/>
<rect x="492.10" y="146.22" width="5.1" height="4.9" fill="#afe0b8"/>
<rect x="498.32" y="146.22" width="5.1" height="4.9" fill="#afe0b8"/>
<rect x="504.54" y="146.22" width="5.1" height="4.9" fill="#d4eece"/>
<rect x="510.76" y="146.22" width="5.1" height="4.9" fill="#e5f5df"/>
<rect x="516.98" y="146.22" width="5.1" height="4.9" fill="#e5f5df"/>
<rect x="523.20" y="146.22" width="5.1" height="4.9" fill="#e8f6e3"/>
<rect x="529.42" y="146.22" width="5.1" height="4.9" fill="#dcf1d7"/>
<rect x="535.64" y="146.22" width="5.1" height="4.9" fill="#d4eece"/>
<rect x="541.86" y="146.22" width="5.1" height="4.9" fill="#d4eece"/>
<rect x="548.08" y="146.22" width="5.1" height="4.9" fill="#bee5bf"/>
<rect x="554.30" y="146.22" width="5.1" height="4.9" fill="#bee5bf"/>
<rect x="560.52" y="146.22" width="5.1" height="4.9" fill="#e5f5df"/>
<rect x="566.74" y="146.22" width="5.1" height="4.9" fill="#084081"/>
<rect x="429.90" y="152.18" width="5.1" height="4.9" fill="#e5f5df"/>
<rect x="436.12" y="152.18" width="5.1" height="4.9" fill="#e5f5df"/>
<rect x="442.34" y="152.18" width="5.1" height="4.9" fill="#e5f5df"/>
<rect x="448.56" y="152.18" width="5.1" height="4.9" fill="#e5f5df"/>
<rect x="454.78" y="152.18" width="5.1" height="4.9" fill="#e5f5df"/>
<rect x="461.00" y="152.18" width="5.1" height="4.9" fill="#e5f5df"/>
<rect x="467.22" y="152.18" width="5.1" height="4.9" fill="#e5f5df"/>
<rect x="473.44" y="152.18" width="5.1" height="4.9" fill="#e5f5df"/>
<rect x="479.66" y="152.18" width="5.1" height="4.9" fill="#d4eece"/>
<rect x="485.88" y="152.18" width="5.1" height="4.9" fill="#69c2ca"/>
<rect x="492.10" y="152.18" width="5.1" height="4.9" fill="#9fdab8"/>
<rect x="498.32" y="152.18" width="5.1" height="4.9" fill="#8dd3be"/>
<rect x="504.54" y="152.18" width="5.1" height="4.9" fill="#d4eece"/>
<rect x="510.76" y="152.18" width="5.1" height="4.9" fill="#e5f5df"/>
<rect x="516.98" y="152.18" width="5.1" height="4.9" fill="#e5f5df"/>
<rect x="523.20" y="152.18" width="5.1" height="4.9" fill="#e8f6e3"/>
<rect x="529.42" y="152.18" width="5.1" height="4.9" fill="#dcf1d7"/>
<rect x="535.64" y="152.18" width="5.1" height="4.9" fill="#bee5bf"/>
<rect x="541.86" y="152.18" width="5.1" height="4.9" fill="#dcf1d7"/>
<rect x="548.08" y="152.18" width="5.1" height="4.9" fill="#d4eece"/>
<rect x="554.30" y="152.18" width="5.1" height="4.9" fill="#2b8cbe"/>
<rect x="560.52" y="152.18" width="5.1" height="4.9" fill="#e1f3dc"/>
<rect x="566.74" y="152.18" width="5.1" height="4.9" fill="#ccebc5"/>
<rect x="572.96" y="152.18" width="5.1" height="4.9" fill="#084081"/>
<rect x="429.90" y="158.14" width="5.1" height="4.9" fill="#e8f6e3"/>
<rect x="436.12" y="158.14" width="5.1" height="4.9" fill="#e8f6e3"/>
<rect x="442.34" y="158.14" width="5.1" height="4.9" fill="#e8f6e3"/>
<rect x="448.56" y="158.14" width="5.1" height="4.9" fill="#e8f6e3"/>
<rect x="454.78" y="158.14" width="5.1" height="4.9" fill="#e8f6e3"/>
<rect x="461.00" y="158.14" width="5.1" height="4.9" fill="#e8f6e3"/>
<rect x="467.22" y="158.14" width="5.1" height="4.9" fill="#e8f6e3"/>
<rect x="473.44" y="158.14" width="5.1" height="4.9" fill="#e8f6e3"/>
<rect x="479.66" y="158.14" width="5.1" height="4.9" fill="#d4eece"/>
<rect x="485.88" y="158.14" width="5.1" height="4.9" fill="#bee5bf"/>
<rect x="492.10" y="158.14" width="5.1" height="4.9" fill="#ccebc5"/>
<rect x="498.32" y="158.14" width="5.1" height="4.9" fill="#ccebc5"/>
<rect x="504.54" y="158.14" width="5.1" height="4.9" fill="#dcf1d7"/>
<rect x="510.76" y="158.14" width="5.1" height="4.9" fill="#e5f5df"/>
<rect x="516.98" y="158.14" width="5.1" height="4.9" fill="#e5f5df"/>
<rect x="523.20" y="158.14" width="5.1" height="4.9" fill="#e8f6e3"/>
<rect x="529.42" y="158.14" width="5.1" height="4.9" fill="#dcf1d7"/>
<rect x="535.64" y="158.14" width="5.1" height="4.9" fill="#8dd3be"/>
<rect x="541.86" y="158.14" width="5.1" height="4.9" fill="#ccebc5"/>
<rect x="548.08" y="158.14" width="5.1" height="4.9" fill="#ccebc5"/>
<rect x="554.30" y="158.14" width="5.1" height="4.9" fill="#bee5bf"/>
<rect x="560.52" y="158.14" width="5.1" height="4.9" fill="#d4eece"/>
<rect x="566.74" y="158.14" width="5.1" height="4.9" fill="#d4eece"/>
<rect x="572.96" y="158.14" width="5.1" height="4.9" fill="#ccebc5"/>
<rect x="579.18" y="158.14" width="5.1" height="4.9" fill="#084081"/>
<rect x="429.90" y="164.10" width="5.1" height="4.9" fill="#d1edca"/>
<rect x="436.12" y="164.10" width="5.1" height="4.9" fill="#d4eece"/>
<rect x="442.34" y="164.10" width="5.1" height="4.9" fill="#bee5bf"/>
<rect x="448.56" y="164.10" width="5.1" height="4.9" fill="#d1edca"/>
<rect x="454.78" y="164.10" width="5.1" height="4.9" fill="#7bccc4"/>
<rect x="461.00" y="164.10" width="5.1" height="4.9" fill="#7bccc4"/>
<rect x="467.22" y="164.10" width="5.1" height="4.9" fill="#7bccc4"/>
<rect x="473.44" y="164.10" width="5.1" height="4.9" fill="#7bccc4"/>
<rect x="479.66" y="164.10" width="5.1" height="4.9" fill="#e8f6e3"/>
<rect x="485.88" y="164.10" width="5.1" height="4.9" fill="#e8f6e3"/>
<rect x="492.10" y="164.10" width="5.1" height="4.9" fill="#e8f6e3"/>
<rect x="498.32" y="164.10" width="5.1" height="4.9" fill="#e8f6e3"/>
<rect x="504.54" y="164.10" width="5.1" height="4.9" fill="#e8f6e3"/>
<rect x="510.76" y="164.10" width="5.1" height="4.9" fill="#ccebc5"/>
<rect x="516.98" y="164.10" width="5.1" height="4.9" fill="#dcf1d7"/>
<rect x="523.20" y="164.10" width="5.1" height="4.9" fill="#d4eece"/>
<rect x="529.42" y="164.10" width="5.1" height="4.9" fill="#e8f6e3"/>
<rect x="535.64" y="164.10" width="5.1" height="4.9" fill="#e5f5df"/>
<rect x="541.86" y="164.10" width="5.1" height="4.9" fill="#e5f5df"/>
<rect x="548.08" y="164.10" width="5.1" height="4.9" fill="#e5f5df"/>
<rect x="554.30" y="164.10" width="5.1" height="4.9" fill="#e5f5df"/>
<rect x="560.52" y="164.10" width="5.1" height="4.9" fill="#dcf1d7"/>
<rect x="566.74" y="164.10" width="5.1" height="4.9" fill="#e5f5df"/>
<rect x="572.96" y="164.10" width="5.1" height="4.9" fill="#e5f5df"/>
<rect x="579.18" y="164.10" width="5.1" height="4.9" fill="#e5f5df"/>
<rect x="585.40" y="164.10" width="5.1" height="4.9" fill="#084081"/>
<rect x="429.90" y="170.06" width="5.1" height="4.9" fill="#d1edca"/>
<rect x="436.12" y="170.06" width="5.1" height="4.9" fill="#d4eece"/>
<rect x="442.34" y="170.06" width="5.1" height="4.9" fill="#bee5bf"/>
<rect x="448.56" y="170.06" width="5.1" height="4.9" fill="#d1edca"/>
<rect x="454.78" y="170.06" width="5.1" height="4.9" fill="#084081"/>
<rect x="461.00" y="170.06" width="5.1" height="4.9" fill="#084081"/>
<rect x="467.22" y="170.06" width="5.1" height="4.9" fill="#2b8cbe"/>
<rect x="473.44" y="170.06" width="5.1" height="4.9" fill="#084081"/>
<rect x="479.66" y="170.06" width="5.1" height="4.9" fill="#e8f6e3"/>
<rect x="485.88" y="170.06" width="5.1" height="4.9" fill="#e5f5df"/>
<rect x="492.10" y="170.06" width="5.1" height="4.9" fill="#e8f6e3"/>
<rect x="498.32" y="170.06" width="5.1" height="4.9" fill="#e8f6e3"/>
<rect x="504.54" y="170.06" width="5.1" height="4.9" fill="#e8f6e3"/>
<rect x="510.76" y="170.06" width="5.1" height="4.9" fill="#ccebc5"/>
<rect x="516.98" y="170.06" width="5.1" height="4.9" fill="#dcf1d7"/>
<rect x="523.20" y="170.06" width="5.1" height="4.9" fill="#ccebc5"/>
<rect x="529.42" y="170.06" width="5.1" height="4.9" fill="#e8f6e3"/>
<rect x="535.64" y="170.06" width="5.1" height="4.9" fill="#e5f5df"/>
<rect x="541.86" y="170.06" width="5.1" height="4.9" fill="#e5f5df"/>
<rect x="548.08" y="170.06" width="5.1" height="4.9" fill="#e5f5df"/>
<rect x="554.30" y="170.06" width="5.1" height="4.9" fill="#e5f5df"/>
<rect x="560.52" y="170.06" width="5.1" height="4.9" fill="#dcf1d7"/>
<rect x="566.74" y="170.06" width="5.1" height="4.9" fill="#e5f5df"/>
<rect x="572.96" y="170.06" width="5.1" height="4.9" fill="#e5f5df"/>
<rect x="579.18" y="170.06" width="5.1" height="4.9" fill="#e5f5df"/>
<rect x="585.40" y="170.06" width="5.1" height="4.9" fill="#7bccc4"/>
<rect x="591.62" y="170.06" width="5.1" height="4.9" fill="#084081"/>
<rect x="429.90" y="176.02" width="5.1" height="4.9" fill="#e5f5df"/>
<rect x="436.12" y="176.02" width="5.1" height="4.9" fill="#e5f5df"/>
<rect x="442.34" y="176.02" width="5.1" height="4.9" fill="#e5f5df"/>
<rect x="448.56" y="176.02" width="5.1" height="4.9" fill="#e5f5df"/>
<rect x="454.78" y="176.02" width="5.1" height="4.9" fill="#e5f5df"/>
<rect x="461.00" y="176.02" width="5.1" height="4.9" fill="#e5f5df"/>
<rect x="467.22" y="176.02" width="5.1" height="4.9" fill="#e5f5df"/>
<rect x="473.44" y="176.02" width="5.1" height="4.9" fill="#e5f5df"/>
<rect x="479.66" y="176.02" width="5.1" height="4.9" fill="#dcf1d7"/>
<rect x="485.88" y="176.02" width="5.1" height="4.9" fill="#afe0b8"/>
<rect x="492.10" y="176.02" width="5.1" height="4.9" fill="#ccebc5"/>
<rect x="498.32" y="176.02" width="5.1" height="4.9" fill="#ccebc5"/>
<rect x="504.54" y="176.02" width="5.1" height="4.9" fill="#dcf1d7"/>
<rect x="510.76" y="176.02" width="5.1" height="4.9" fill="#e5f5df"/>
<rect x="516.98" y="176.02" width="5.1" height="4.9" fill="#e5f5df"/>
<rect x="523.20" y="176.02" width="5.1" height="4.9" fill="#e8f6e3"/>
<rect x="529.42" y="176.02" width="5.1" height="4.9" fill="#dcf1d7"/>
<rect x="535.64" y="176.02" width="5.1" height="4.9" fill="#084081"/>
<rect x="541.86" y="176.02" width="5.1" height="4.9" fill="#d4eece"/>
<rect x="548.08" y="176.02" width="5.1" height="4.9" fill="#d4eece"/>
<rect x="554.30" y="176.02" width="5.1" height="4.9" fill="#bee5bf"/>
<rect x="560.52" y="176.02" width="5.1" height="4.9" fill="#d4eece"/>
<rect x="566.74" y="176.02" width="5.1" height="4.9" fill="#d4eece"/>
<rect x="572.96" y="176.02" width="5.1" height="4.9" fill="#bee5bf"/>
<rect x="579.18" y="176.02" width="5.1" height="4.9" fill="#8dd3be"/>
<rect x="585.40" y="176.02" width="5.1" height="4.9" fill="#e8f6e3"/>
<rect x="591.62" y="176.02" width="5.1" height="4.9" fill="#e8f6e3"/>
<rect x="597.84" y="176.02" width="5.1" height="4.9" fill="#084081"/>
<rect x="429.90" y="181.98" width="5.1" height="4.9" fill="#e5f5df"/>
<rect x="436.12" y="181.98" width="5.1" height="4.9" fill="#e5f5df"/>
<rect x="442.34" y="181.98" width="5.1" height="4.9" fill="#e5f5df"/>
<rect x="448.56" y="181.98" width="5.1" height="4.9" fill="#e5f5df"/>
<rect x="454.78" y="181.98" width="5.1" height="4.9" fill="#e5f5df"/>
<rect x="461.00" y="181.98" width="5.1" height="4.9" fill="#e5f5df"/>
<rect x="467.22" y="181.98" width="5.1" height="4.9" fill="#e5f5df"/>
<rect x="473.44" y="181.98" width="5.1" height="4.9" fill="#e5f5df"/>
<rect x="479.66" y="181.98" width="5.1" height="4.9" fill="#dcf1d7"/>
<rect x="485.88" y="181.98" width="5.1" height="4.9" fill="#afe0b8"/>
<rect x="492.10" y="181.98" width="5.1" height="4.9" fill="#ccebc5"/>
<rect x="498.32" y="181.98" width="5.1" height="4.9" fill="#ccebc5"/>
<rect x="504.54" y="181.98" width="5.1" height="4.9" fill="#dcf1d7"/>
<rect x="510.76" y="181.98" width="5.1" height="4.9" fill="#e5f5df"/>
<rect x="516.98" y="181.98" width="5.1" height="4.9" fill="#e5f5df"/>
<rect x="523.20" y="181.98" width="5.1" height="4.9" fill="#e8f6e3"/>
<rect x="529.42" y="181.98" width="5.1" height="4.9" fill="#dcf1d7"/>
<rect x="535.64" y="181.98" width="5.1" height="4.9" fill="#084081"/>
<rect x="541.86" y="181.98" width="5.1" height="4.9" fill="#d4eece"/>
<rect x="548.08" y="181.98" width="5.1" height="4.9" fill="#d4eece"/>
<rect x="554.30" y="181.98" width="5.1" height="4.9" fill="#bee5bf"/>
<rect x="560.52" y="181.98" width="5.1" height="4.9" fill="#d4eece"/>
<rect x="566.74" y="181.98" width="5.1" height="4.9" fill="#d4eece"/>
<rect x="572.96" y="181.98" width="5.1" height="4.9" fill="#bee5bf"/>
<rect x="579.18" y="181.98" width="5.1" height="4.9" fill="#8dd3be"/>
<rect x="585.40" y="181.98" width="5.1" height="4.9" fill="#e8f6e3"/>
<rect x="591.62" y="181.98" width="5.1" height="4.9" fill="#e8f6e3"/>
<rect x="597.84" y="181.98" width="5.1" height="4.9" fill="#084081"/>
<rect x="604.06" y="181.98" width="5.1" height="4.9" fill="#084081"/>
<rect x="429.90" y="187.94" width="5.1" height="4.9" fill="#e8f6e3"/>
<rect x="436.12" y="187.94" width="5.1" height="4.9" fill="#e8f6e3"/>
<rect x="442.34" y="187.94" width="5.1" height="4.9" fill="#e8f6e3"/>
<rect x="448.56" y="187.94" width="5.1" height="4.9" fill="#e8f6e3"/>
<rect x="454.78" y="187.94" width="5.1" height="4.9" fill="#e8f6e3"/>
<rect x="461.00" y="187.94" width="5.1" height="4.9" fill="#e8f6e3"/>
<rect x="467.22" y="187.94" width="5.1" height="4.9" fill="#e8f6e3"/>
<rect x="473.44" y="187.94" width="5.1" height="4.9" fill="#e8f6e3"/>
<rect x="479.66" y="187.94" width="5.1" height="4.9" fill="#d4eece"/>
<rect x="485.88" y="187.94" width="5.1" height="4.9" fill="#57b8d0"/>
<rect x="492.10" y="187.94" width="5.1" height="4.9" fill="#8dd3be"/>
<rect x="498.32" y="187.94" width="5.1" height="4.9" fill="#7bccc4"/>
<rect x="504.54" y="187.94" width="5.1" height="4.9" fill="#d4eece"/>
<rect x="510.76" y="187.94" width="5.1" height="4.9" fill="#e5f5df"/>
<rect x="516.98" y="187.94" width="5.1" height="4.9" fill="#e8f6e3"/>
<rect x="523.20" y="187.94" width="5.1" height="4.9" fill="#e8f6e3"/>
<rect x="529.42" y="187.94" width="5.1" height="4.9" fill="#d4eece"/>
<rect x="535.64" y="187.94" width="5.1" height="4.9" fill="#9fdab8"/>
<rect x="541.86" y="187.94" width="5.1" height="4.9" fill="#d4eece"/>
<rect x="548.08" y="187.94" width="5.1" height="4.9" fill="#bee5bf"/>
<rect x="554.30" y="187.94" width="5.1" height="4.9" fill="#8dd3be"/>
<rect x="560.52" y="187.94" width="5.1" height="4.9" fill="#dcf1d7"/>
<rect x="566.74" y="187.94" width="5.1" height="4.9" fill="#bee5bf"/>
<rect x="572.96" y="187.94" width="5.1" height="4.9" fill="#8dd3be"/>
<rect x="579.18" y="187.94" width="5.1" height="4.9" fill="#afe0b8"/>
<rect x="585.40" y="187.94" width="5.1" height="4.9" fill="#e8f6e3"/>
<rect x="591.62" y="187.94" width="5.1" height="4.9" fill="#e8f6e3"/>
<rect x="597.84" y="187.94" width="5.1" height="4.9" fill="#afe0b8"/>
<rect x="604.06" y="187.94" width="5.1" height="4.9" fill="#afe0b8"/>
<rect x="610.28" y="187.94" width="5.1" height="4.9" fill="#084081"/>
<rect x="429.90" y="193.90" width="5.1" height="4.9" fill="#e5f5df"/>
<rect x="436.12" y="193.90" width="5.1" height="4.9" fill="#e5f5df"/>
<rect x="442.34" y="193.90" width="5.1" height="4.9" fill="#e5f5df"/>
<rect x="448.56" y="193.90" width="5.1" height="4.9" fill="#e5f5df"/>
<rect x="454.78" y="193.90" width="5.1" height="4.9" fill="#e5f5df"/>
<rect x="461.00" y="193.90" width="5.1" height="4.9" fill="#e5f5df"/>
<rect x="467.22" y="193.90" width="5.1" height="4.9" fill="#e5f5df"/>
<rect x="473.44" y="193.90" width="5.1" height="4.9" fill="#e5f5df"/>
<rect x="479.66" y="193.90" width="5.1" height="4.9" fill="#dcf1d7"/>
<rect x="485.88" y="193.90" width="5.1" height="4.9" fill="#bee5bf"/>
<rect x="492.10" y="193.90" width="5.1" height="4.9" fill="#ccebc5"/>
<rect x="498.32" y="193.90" width="5.1" height="4.9" fill="#ccebc5"/>
<rect x="504.54" y="193.90" width="5.1" height="4.9" fill="#dcf1d7"/>
<rect x="510.76" y="193.90" width="5.1" height="4.9" fill="#e5f5df"/>
<rect x="516.98" y="193.90" width="5.1" height="4.9" fill="#e8f6e3"/>
<rect x="523.20" y="193.90" width="5.1" height="4.9" fill="#e8f6e3"/>
<rect x="529.42" y="193.90" width="5.1" height="4.9" fill="#d4eece"/>
<rect x="535.64" y="193.90" width="5.1" height="4.9" fill="#9fdab8"/>
<rect x="541.86" y="193.90" width="5.1" height="4.9" fill="#ccebc5"/>
<rect x="548.08" y="193.90" width="5.1" height="4.9" fill="#ccebc5"/>
<rect x="554.30" y="193.90" width="5.1" height="4.9" fill="#bee5bf"/>
<rect x="560.52" y="193.90" width="5.1" height="4.9" fill="#d4eece"/>
<rect x="566.74" y="193.90" width="5.1" height="4.9" fill="#d4eece"/>
<rect x="572.96" y="193.90" width="5.1" height="4.9" fill="#ccebc5"/>
<rect x="579.18" y="193.90" width="5.1" height="4.9" fill="#8dd3be"/>
<rect x="585.40" y="193.90" width="5.1" height="4.9" fill="#e8f6e3"/>
<rect x="591.62" y="193.90" width="5.1" height="4.9" fill="#e8f6e3"/>
<rect x="597.84" y="193.90" width="5.1" height="4.9" fill="#afe0b8"/>
<rect x="604.06" y="193.90" width="5.1" height="4.9" fill="#afe0b8"/>
<rect x="610.28" y="193.90" width="5.1" height="4.9" fill="#bee5bf"/>
<rect x="616.50" y="193.90" width="5.1" height="4.9" fill="#084081"/>
<rect x="429.90" y="199.86" width="5.1" height="4.9" fill="#e8f6e3"/>
<rect x="436.12" y="199.86" width="5.1" height="4.9" fill="#e8f6e3"/>
<rect x="442.34" y="199.86" width="5.1" height="4.9" fill="#e8f6e3"/>
<rect x="448.56" y="199.86" width="5.1" height="4.9" fill="#e8f6e3"/>
<rect x="454.78" y="199.86" width="5.1" height="4.9" fill="#e8f6e3"/>
<rect x="461.00" y="199.86" width="5.1" height="4.9" fill="#e8f6e3"/>
<rect x="467.22" y="199.86" width="5.1" height="4.9" fill="#e8f6e3"/>
<rect x="473.44" y="199.86" width="5.1" height="4.9" fill="#e8f6e3"/>
<rect x="479.66" y="199.86" width="5.1" height="4.9" fill="#e1f3dc"/>
<rect x="485.88" y="199.86" width="5.1" height="4.9" fill="#dcf1d7"/>
<rect x="492.10" y="199.86" width="5.1" height="4.9" fill="#dcf1d7"/>
<rect x="498.32" y="199.86" width="5.1" height="4.9" fill="#dcf1d7"/>
<rect x="504.54" y="199.86" width="5.1" height="4.9" fill="#e5f5df"/>
<rect x="510.76" y="199.86" width="5.1" height="4.9" fill="#e8f6e3"/>
<rect x="516.98" y="199.86" width="5.1" height="4.9" fill="#e8f6e3"/>
<rect x="523.20" y="199.86" width="5.1" height="4.9" fill="#e8f6e3"/>
<rect x="529.42" y="199.86" width="5.1" height="4.9" fill="#e5f5df"/>
<rect x="535.64" y="199.86" width="5.1" height="4.9" fill="#dcf1d7"/>
<rect x="541.86" y="199.86" width="5.1" height="4.9" fill="#e1f3dc"/>
<rect x="548.08" y="199.86" width="5.1" height="4.9" fill="#dcf1d7"/>
<rect x="554.30" y="199.86" width="5.1" height="4.9" fill="#e1f3dc"/>
<rect x="560.52" y="199.86" width="5.1" height="4.9" fill="#dcf1d7"/>
<rect x="566.74" y="199.86" width="5.1" height="4.9" fill="#e1f3dc"/>
<rect x="572.96" y="199.86" width="5.1" height="4.9" fill="#dcf1d7"/>
<rect x="579.18" y="199.86" width="5.1" height="4.9" fill="#e1f3dc"/>
<rect x="585.40" y="199.86" width="5.1" height="4.9" fill="#e8f6e3"/>
<rect x="591.62" y="199.86" width="5.1" height="4.9" fill="#e8f6e3"/>
<rect x="597.84" y="199.86" width="5.1" height="4.9" fill="#dcf1d7"/>
<rect x="604.06" y="199.86" width="5.1" height="4.9" fill="#dcf1d7"/>
<rect x="610.28" y="199.86" width="5.1" height="4.9" fill="#dcf1d7"/>
<rect x="616.50" y="199.86" width="5.1" height="4.9" fill="#dcf1d7"/>
<rect x="622.72" y="199.86" width="5.1" height="4.9" fill="#084081"/>
<rect x="429.90" y="205.82" width="5.1" height="4.9" fill="#bee5bf"/>
<rect x="436.12" y="205.82" width="5.1" height="4.9" fill="#ccebc5"/>
<rect x="442.34" y="205.82" width="5.1" height="4.9" fill="#bee5bf"/>
<rect x="448.56" y="205.82" width="5.1" height="4.9" fill="#ccebc5"/>
<rect x="454.78" y="205.82" width="5.1" height="4.9" fill="#bee5bf"/>
<rect x="461.00" y="205.82" width="5.1" height="4.9" fill="#bee5bf"/>
<rect x="467.22" y="205.82" width="5.1" height="4.9" fill="#afe0b8"/>
<rect x="473.44" y="205.82" width="5.1" height="4.9" fill="#bee5bf"/>
<rect x="479.66" y="205.82" width="5.1" height="4.9" fill="#e8f6e3"/>
<rect x="485.88" y="205.82" width="5.1" height="4.9" fill="#e8f6e3"/>
<rect x="492.10" y="205.82" width="5.1" height="4.9" fill="#e8f6e3"/>
<rect x="498.32" y="205.82" width="5.1" height="4.9" fill="#e8f6e3"/>
<rect x="504.54" y="205.82" width="5.1" height="4.9" fill="#e8f6e3"/>
<rect x="510.76" y="205.82" width="5.1" height="4.9" fill="#bee5bf"/>
<rect x="516.98" y="205.82" width="5.1" height="4.9" fill="#d4eece"/>
<rect x="523.20" y="205.82" width="5.1" height="4.9" fill="#ccebc5"/>
<rect x="529.42" y="205.82" width="5.1" height="4.9" fill="#e5f5df"/>
<rect x="535.64" y="205.82" width="5.1" height="4.9" fill="#e5f5df"/>
<rect x="541.86" y="205.82" width="5.1" height="4.9" fill="#e5f5df"/>
<rect x="548.08" y="205.82" width="5.1" height="4.9" fill="#e5f5df"/>
<rect x="554.30" y="205.82" width="5.1" height="4.9" fill="#e5f5df"/>
<rect x="560.52" y="205.82" width="5.1" height="4.9" fill="#d4eece"/>
<rect x="566.74" y="205.82" width="5.1" height="4.9" fill="#e5f5df"/>
<rect x="572.96" y="205.82" width="5.1" height="4.9" fill="#e5f5df"/>
<rect x="579.18" y="205.82" width="5.1" height="4.9" fill="#e5f5df"/>
<rect x="585.40" y="205.82" width="5.1" height="4.9" fill="#bee5bf"/>
<rect x="591.62" y="205.82" width="5.1" height="4.9" fill="#afe0b8"/>
<rect x="597.84" y="205.82" width="5.1" height="4.9" fill="#e5f5df"/>
<rect x="604.06" y="205.82" width="5.1" height="4.9" fill="#e5f5df"/>
<rect x="610.28" y="205.82" width="5.1" height="4.9" fill="#e5f5df"/>
<rect x="616.50" y="205.82" width="5.1" height="4.9" fill="#e5f5df"/>
<rect x="622.72" y="205.82" width="5.1" height="4.9" fill="#e8f6e3"/>
<rect x="628.94" y="205.82" width="5.1" height="4.9" fill="#084081"/>
<rect x="429.90" y="211.78" width="5.1" height="4.9" fill="#084081"/>
<rect x="436.12" y="211.78" width="5.1" height="4.9" fill="#dcf1d7"/>
<rect x="442.34" y="211.78" width="5.1" height="4.9" fill="#ccebc5"/>
<rect x="448.56" y="211.78" width="5.1" height="4.9" fill="#d1edca"/>
<rect x="454.78" y="211.78" width="5.1" height="4.9" fill="#ccebc5"/>
<rect x="461.00" y="211.78" width="5.1" height="4.9" fill="#ccebc5"/>
<rect x="467.22" y="211.78" width="5.1" height="4.9" fill="#ccebc5"/>
<rect x="473.44" y="211.78" width="5.1" height="4.9" fill="#ccebc5"/>
<rect x="479.66" y="211.78" width="5.1" height="4.9" fill="#e8f6e3"/>
<rect x="485.88" y="211.78" width="5.1" height="4.9" fill="#e8f6e3"/>
<rect x="492.10" y="211.78" width="5.1" height="4.9" fill="#e8f6e3"/>
<rect x="498.32" y="211.78" width="5.1" height="4.9" fill="#e8f6e3"/>
<rect x="504.54" y="211.78" width="5.1" height="4.9" fill="#e8f6e3"/>
<rect x="510.76" y="211.78" width="5.1" height="4.9" fill="#ccebc5"/>
<rect x="516.98" y="211.78" width="5.1" height="4.9" fill="#dcf1d7"/>
<rect x="523.20" y="211.78" width="5.1" height="4.9" fill="#d4eece"/>
<rect x="529.42" y="211.78" width="5.1" height="4.9" fill="#e8f6e3"/>
<rect x="535.64" y="211.78" width="5.1" height="4.9" fill="#e5f5df"/>
<rect x="541.86" y="211.78" width="5.1" height="4.9" fill="#e5f5df"/>
<rect x="548.08" y="211.78" width="5.1" height="4.9" fill="#e5f5df"/>
<rect x="554.30" y="211.78" width="5.1" height="4.9" fill="#e5f5df"/>
<rect x="560.52" y="211.78" width="5.1" height="4.9" fill="#dcf1d7"/>
<rect x="566.74" y="211.78" width="5.1" height="4.9" fill="#e5f5df"/>
<rect x="572.96" y="211.78" width="5.1" height="4.9" fill="#e5f5df"/>
<rect x="579.18" y="211.78" width="5.1" height="4.9" fill="#e5f5df"/>
<rect x="585.40" y="211.78" width="5.1" height="4.9" fill="#ccebc5"/>
<rect x="591.62" y="211.78" width="5.1" height="4.9" fill="#ccebc5"/>
<rect x="597.84" y="211.78" width="5.1" height="4.9" fill="#e5f5df"/>
<rect x="604.06" y="211.78" width="5.1" height="4.9" fill="#e5f5df"/>
<rect x="610.28" y="211.78" width="5.1" height="4.9" fill="#e5f5df"/>
<rect x="616.50" y="211.78" width="5.1" height="4.9" fill="#e5f5df"/>
<rect x="622.72" y="211.78" width="5.1" height="4.9" fill="#e8f6e3"/>
<rect x="628.94" y="211.78" width="5.1" height="4.9" fill="#ccebc5"/>
<rect x="635.16" y="211.78" width="5.1" height="4.9" fill="#084081"/>
<rect x="429.90" y="217.74" width="5.1" height="4.9" fill="#d1edca"/>
<rect x="436.12" y="217.74" width="5.1" height="4.9" fill="#d4eece"/>
<rect x="442.34" y="217.74" width="5.1" height="4.9" fill="#bee5bf"/>
<rect x="448.56" y="217.74" width="5.1" height="4.9" fill="#d1edca"/>
<rect x="454.78" y="217.74" width="5.1" height="4.9" fill="#8dd3be"/>
<rect x="461.00" y="217.74" width="5.1" height="4.9" fill="#8dd3be"/>
<rect x="467.22" y="217.74" width="5.1" height="4.9" fill="#8dd3be"/>
<rect x="473.44" y="217.74" width="5.1" height="4.9" fill="#8dd3be"/>
<rect x="479.66" y="217.74" width="5.1" height="4.9" fill="#e8f6e3"/>
<rect x="485.88" y="217.74" width="5.1" height="4.9" fill="#e8f6e3"/>
<rect x="492.10" y="217.74" width="5.1" height="4.9" fill="#e8f6e3"/>
<rect x="498.32" y="217.74" width="5.1" height="4.9" fill="#e8f6e3"/>
<rect x="504.54" y="217.74" width="5.1" height="4.9" fill="#e8f6e3"/>
<rect x="510.76" y="217.74" width="5.1" height="4.9" fill="#bee5bf"/>
<rect x="516.98" y="217.74" width="5.1" height="4.9" fill="#ccebc5"/>
<rect x="523.20" y="217.74" width="5.1" height="4.9" fill="#ccebc5"/>
<rect x="529.42" y="217.74" width="5.1" height="4.9" fill="#e8f6e3"/>
<rect x="535.64" y="217.74" width="5.1" height="4.9" fill="#e8f6e3"/>
<rect x="541.86" y="217.74" width="5.1" height="4.9" fill="#e5f5df"/>
<rect x="548.08" y="217.74" width="5.1" height="4.9" fill="#e8f6e3"/>
<rect x="554.30" y="217.74" width="5.1" height="4.9" fill="#e8f6e3"/>
<rect x="560.52" y="217.74" width="5.1" height="4.9" fill="#dcf1d7"/>
<rect x="566.74" y="217.74" width="5.1" height="4.9" fill="#e5f5df"/>
<rect x="572.96" y="217.74" width="5.1" height="4.9" fill="#e5f5df"/>
<rect x="579.18" y="217.74" width="5.1" height="4.9" fill="#e5f5df"/>
<rect x="585.40" y="217.74" width="5.1" height="4.9" fill="#7bccc4"/>
<rect x="591.62" y="217.74" width="5.1" height="4.9" fill="#7bccc4"/>
<rect x="597.84" y="217.74" width="5.1" height="4.9" fill="#e5f5df"/>
<rect x="604.06" y="217.74" width="5.1" height="4.9" fill="#e5f5df"/>
<rect x="610.28" y="217.74" width="5.1" height="4.9" fill="#e5f5df"/>
<rect x="616.50" y="217.74" width="5.1" height="4.9" fill="#e5f5df"/>
<rect x="622.72" y="217.74" width="5.1" height="4.9" fill="#e8f6e3"/>
<rect x="628.94" y="217.74" width="5.1" height="4.9" fill="#bee5bf"/>
<rect x="635.16" y="217.74" width="5.1" height="4.9" fill="#ccebc5"/>
<rect x="641.38" y="217.74" width="5.1" height="4.9" fill="#084081"/>
<rect x="429.90" y="223.70" width="5.1" height="4.9" fill="#d1edca"/>
<rect x="436.12" y="223.70" width="5.1" height="4.9" fill="#d4eece"/>
<rect x="442.34" y="223.70" width="5.1" height="4.9" fill="#c3e8c1"/>
<rect x="448.56" y="223.70" width="5.1" height="4.9" fill="#084081"/>
<rect x="454.78" y="223.70" width="5.1" height="4.9" fill="#ccebc5"/>
<rect x="461.00" y="223.70" width="5.1" height="4.9" fill="#ccebc5"/>
<rect x="467.22" y="223.70" width="5.1" height="4.9" fill="#ccebc5"/>
<rect x="473.44" y="223.70" width="5.1" height="4.9" fill="#ccebc5"/>
<rect x="479.66" y="223.70" width="5.1" height="4.9" fill="#e8f6e3"/>
<rect x="485.88" y="223.70" width="5.1" height="4.9" fill="#e8f6e3"/>
<rect x="492.10" y="223.70" width="5.1" height="4.9" fill="#e8f6e3"/>
<rect x="498.32" y="223.70" width="5.1" height="4.9" fill="#e8f6e3"/>
<rect x="504.54" y="223.70" width="5.1" height="4.9" fill="#e8f6e3"/>
<rect x="510.76" y="223.70" width="5.1" height="4.9" fill="#d4eece"/>
<rect x="516.98" y="223.70" width="5.1" height="4.9" fill="#dcf1d7"/>
<rect x="523.20" y="223.70" width="5.1" height="4.9" fill="#d4eece"/>
<rect x="529.42" y="223.70" width="5.1" height="4.9" fill="#e8f6e3"/>
<rect x="535.64" y="223.70" width="5.1" height="4.9" fill="#e5f5df"/>
<rect x="541.86" y="223.70" width="5.1" height="4.9" fill="#e5f5df"/>
<rect x="548.08" y="223.70" width="5.1" height="4.9" fill="#e5f5df"/>
<rect x="554.30" y="223.70" width="5.1" height="4.9" fill="#e5f5df"/>
<rect x="560.52" y="223.70" width="5.1" height="4.9" fill="#dcf1d7"/>
<rect x="566.74" y="223.70" width="5.1" height="4.9" fill="#e5f5df"/>
<rect x="572.96" y="223.70" width="5.1" height="4.9" fill="#e5f5df"/>
<rect x="579.18" y="223.70" width="5.1" height="4.9" fill="#e5f5df"/>
<rect x="585.40" y="223.70" width="5.1" height="4.9" fill="#d4eece"/>
<rect x="591.62" y="223.70" width="5.1" height="4.9" fill="#ccebc5"/>
<rect x="597.84" y="223.70" width="5.1" height="4.9" fill="#e5f5df"/>
<rect x="604.06" y="223.70" width="5.1" height="4.9" fill="#e5f5df"/>
<rect x="610.28" y="223.70" width="5.1" height="4.9" fill="#e5f5df"/>
<rect x="616.50" y="223.70" width="5.1" height="4.9" fill="#e5f5df"/>
<rect x="622.72" y="223.70" width="5.1" height="4.9" fill="#e8f6e3"/>
<rect x="628.94" y="223.70" width="5.1" height="4.9" fill="#ccebc5"/>
<rect x="635.16" y="223.70" width="5.1" height="4.9" fill="#d4eece"/>
<rect x="641.38" y="223.70" width="5.1" height="4.9" fill="#d4eece"/>
<rect x="647.60" y="223.70" width="5.1" height="4.9" fill="#084081"/>
<rect x="429.90" y="229.66" width="5.1" height="4.9" fill="#d1edca"/>
<rect x="436.12" y="229.66" width="5.1" height="4.9" fill="#d4eece"/>
<rect x="442.34" y="229.66" width="5.1" height="4.9" fill="#bee5bf"/>
<rect x="448.56" y="229.66" width="5.1" height="4.9" fill="#d1edca"/>
<rect x="454.78" y="229.66" width="5.1" height="4.9" fill="#7bccc4"/>
<rect x="461.00" y="229.66" width="5.1" height="4.9" fill="#7bccc4"/>
<rect x="467.22" y="229.66" width="5.1" height="4.9" fill="#7bccc4"/>
<rect x="473.44" y="229.66" width="5.1" height="4.9" fill="#7bccc4"/>
<rect x="479.66" y="229.66" width="5.1" height="4.9" fill="#e8f6e3"/>
<rect x="485.88" y="229.66" width="5.1" height="4.9" fill="#e8f6e3"/>
<rect x="492.10" y="229.66" width="5.1" height="4.9" fill="#e8f6e3"/>
<rect x="498.32" y="229.66" width="5.1" height="4.9" fill="#e8f6e3"/>
<rect x="504.54" y="229.66" width="5.1" height="4.9" fill="#e8f6e3"/>
<rect x="510.76" y="229.66" width="5.1" height="4.9" fill="#bee5bf"/>
<rect x="516.98" y="229.66" width="5.1" height="4.9" fill="#ccebc5"/>
<rect x="523.20" y="229.66" width="5.1" height="4.9" fill="#ccebc5"/>
<rect x="529.42" y="229.66" width="5.1" height="4.9" fill="#e8f6e3"/>
<rect x="535.64" y="229.66" width="5.1" height="4.9" fill="#e8f6e3"/>
<rect x="541.86" y="229.66" width="5.1" height="4.9" fill="#e5f5df"/>
<rect x="548.08" y="229.66" width="5.1" height="4.9" fill="#e8f6e3"/>
<rect x="554.30" y="229.66" width="5.1" height="4.9" fill="#e8f6e3"/>
<rect x="560.52" y="229.66" width="5.1" height="4.9" fill="#dcf1d7"/>
<rect x="566.74" y="229.66" width="5.1" height="4.9" fill="#e5f5df"/>
<rect x="572.96" y="229.66" width="5.1" height="4.9" fill="#e5f5df"/>
<rect x="579.18" y="229.66" width="5.1" height="4.9" fill="#e5f5df"/>
<rect x="585.40" y="229.66" width="5.1" height="4.9" fill="#57b8d0"/>
<rect x="591.62" y="229.66" width="5.1" height="4.9" fill="#69c2ca"/>
<rect x="597.84" y="229.66" width="5.1" height="4.9" fill="#e5f5df"/>
<rect x="604.06" y="229.66" width="5.1" height="4.9" fill="#e5f5df"/>
<rect x="610.28" y="229.66" width="5.1" height="4.9" fill="#e5f5df"/>
<rect x="616.50" y="229.66" width="5.1" height="4.9" fill="#e5f5df"/>
<rect x="622.72" y="229.66" width="5.1" height="4.9" fill="#e8f6e3"/>
<rect x="628.94" y="229.66" width="5.1" height="4.9" fill="#afe0b8"/>
<rect x="635.16" y="229.66" width="5.1" height="4.9" fill="#ccebc5"/>
<rect x="641.38" y="229.66" width="5.1" height="4.9" fill="#399cc6"/>
<rect x="647.60" y="229.66" width="5.1" height="4.9" fill="#d4eece"/>
<rect x="653.82" y="229.66" width="5.1" height="4.9" fill="#084081"/>
<rect x="429.90" y="235.62" width="5.1" height="4.9" fill="#ccebc5"/>
<rect x="436.12" y="235.62" width="5.1" height="4.9" fill="#d4eece"/>
<rect x="442.34" y="235.62" width="5.1" height="4.9" fill="#afe0b8"/>
<rect x="448.56" y="235.62" width="5.1" height="4.9" fill="#ccebc5"/>
<rect x="454.78" y="235.62" width="5.1" height="4.9" fill="#7bccc4"/>
<rect x="461.00" y="235.62" width="5.1" height="4.9" fill="#7bccc4"/>
<rect x="467.22" y="235.62" width="5.1" height="4.9" fill="#7bccc4"/>
<rect x="473.44" y="235.62" width="5.1" height="4.9" fill="#7bccc4"/>
<rect x="479.66" y="235.62" width="5.1" height="4.9" fill="#e8f6e3"/>
<rect x="485.88" y="235.62" width="5.1" height="4.9" fill="#e8f6e3"/>
<rect x="492.10" y="235.62" width="5.1" height="4.9" fill="#e8f6e3"/>
<rect x="498.32" y="235.62" width="5.1" height="4.9" fill="#e8f6e3"/>
<rect x="504.54" y="235.62" width="5.1" height="4.9" fill="#e8f6e3"/>
<rect x="510.76" y="235.62" width="5.1" height="4.9" fill="#afe0b8"/>
<rect x="516.98" y="235.62" width="5.1" height="4.9" fill="#d4eece"/>
<rect x="523.20" y="235.62" width="5.1" height="4.9" fill="#ccebc5"/>
<rect x="529.42" y="235.62" width="5.1" height="4.9" fill="#e8f6e3"/>
<rect x="535.64" y="235.62" width="5.1" height="4.9" fill="#e8f6e3"/>
<rect x="541.86" y="235.62" width="5.1" height="4.9" fill="#e5f5df"/>
<rect x="548.08" y="235.62" width="5.1" height="4.9" fill="#e8f6e3"/>
<rect x="554.30" y="235.62" width="5.1" height="4.9" fill="#e8f6e3"/>
<rect x="560.52" y="235.62" width="5.1" height="4.9" fill="#dcf1d7"/>
<rect x="566.74" y="235.62" width="5.1" height="4.9" fill="#e5f5df"/>
<rect x="572.96" y="235.62" width="5.1" height="4.9" fill="#e5f5df"/>
<rect x="579.18" y="235.62" width="5.1" height="4.9" fill="#e5f5df"/>
<rect x="585.40" y="235.62" width="5.1" height="4.9" fill="#8dd3be"/>
<rect x="591.62" y="235.62" width="5.1" height="4.9" fill="#7bccc4"/>
<rect x="597.84" y="235.62" width="5.1" height="4.9" fill="#e5f5df"/>
<rect x="604.06" y="235.62" width="5.1" height="4.9" fill="#e5f5df"/>
<rect x="610.28" y="235.62" width="5.1" height="4.9" fill="#e5f5df"/>
<rect x="616.50" y="235.62" width="5.1" height="4.9" fill="#e5f5df"/>
<rect x="622.72" y="235.62" width="5.1" height="4.9" fill="#e8f6e3"/>
<rect x="628.94" y="235.62" width="5.1" height="4.9" fill="#9fdab8"/>
<rect x="635.16" y="235.62" width="5.1" height="4.9" fill="#ccebc5"/>
<rect x="641.38" y="235.62" width="5.1" height="4.9" fill="#9fdab8"/>
<rect x="647.60" y="235.62" width="5.1" height="4.9" fill="#ccebc5"/>
<rect x="653.82" y="235.62" width="5.1" height="4.9" fill="#9fdab8"/>
<rect x="660.04" y="235.62" width="5.1" height="4.9" fill="#084081"/>
<rect x="429.90" y="241.58" width="5.1" height="4.9" fill="#d4eece"/>
<rect x="436.12" y="241.58" width="5.1" height="4.9" fill="#d4eece"/>
<rect x="442.34" y="241.58" width="5.1" height="4.9" fill="#ccebc5"/>
<rect x="448.56" y="241.58" width="5.1" height="4.9" fill="#bee5bf"/>
<rect x="454.78" y="241.58" width="5.1" height="4.9" fill="#ccebc5"/>
<rect x="461.00" y="241.58" width="5.1" height="4.9" fill="#ccebc5"/>
<rect x="467.22" y="241.58" width="5.1" height="4.9" fill="#ccebc5"/>
<rect x="473.44" y="241.58" width="5.1" height="4.9" fill="#ccebc5"/>
<rect x="479.66" y="241.58" width="5.1" height="4.9" fill="#e8f6e3"/>
<rect x="485.88" y="241.58" width="5.1" height="4.9" fill="#e8f6e3"/>
<rect x="492.10" y="241.58" width="5.1" height="4.9" fill="#e8f6e3"/>
<rect x="498.32" y="241.58" width="5.1" height="4.9" fill="#e8f6e3"/>
<rect x="504.54" y="241.58" width="5.1" height="4.9" fill="#e8f6e3"/>
<rect x="510.76" y="241.58" width="5.1" height="4.9" fill="#ccebc5"/>
<rect x="516.98" y="241.58" width="5.1" height="4.9" fill="#dcf1d7"/>
<rect x="523.20" y="241.58" width="5.1" height="4.9" fill="#d4eece"/>
<rect x="529.42" y="241.58" width="5.1" height="4.9" fill="#e8f6e3"/>
<rect x="535.64" y="241.58" width="5.1" height="4.9" fill="#e5f5df"/>
<rect x="541.86" y="241.58" width="5.1" height="4.9" fill="#e5f5df"/>
<rect x="548.08" y="241.58" width="5.1" height="4.9" fill="#e5f5df"/>
<rect x="554.30" y="241.58" width="5.1" height="4.9" fill="#e5f5df"/>
<rect x="560.52" y="241.58" width="5.1" height="4.9" fill="#dcf1d7"/>
<rect x="566.74" y="241.58" width="5.1" height="4.9" fill="#e5f5df"/>
<rect x="572.96" y="241.58" width="5.1" height="4.9" fill="#e5f5df"/>
<rect x="579.18" y="241.58" width="5.1" height="4.9" fill="#e5f5df"/>
<rect x="585.40" y="241.58" width="5.1" height="4.9" fill="#ccebc5"/>
<rect x="591.62" y="241.58" width="5.1" height="4.9" fill="#ccebc5"/>
<rect x="597.84" y="241.58" width="5.1" height="4.9" fill="#e5f5df"/>
<rect x="604.06" y="241.58" width="5.1" height="4.9" fill="#e5f5df"/>
<rect x="610.28" y="241.58" width="5.1" height="4.9" fill="#e5f5df"/>
<rect x="616.50" y="241.58" width="5.1" height="4.9" fill="#e5f5df"/>
<rect x="622.72" y="241.58" width="5.1" height="4.9" fill="#e8f6e3"/>
<rect x="628.94" y="241.58" width="5.1" height="4.9" fill="#ccebc5"/>
<rect x="635.16" y="241.58" width="5.1" height="4.9" fill="#d4eece"/>
<rect x="641.38" y="241.58" width="5.1" height="4.9" fill="#d4eece"/>
<rect x="647.60" y="241.58" width="5.1" height="4.9" fill="#ccebc5"/>
<rect x="653.82" y="241.58" width="5.1" height="4.9" fill="#d4eece"/>
<rect x="660.04" y="241.58" width="5.1" height="4.9" fill="#d4eece"/>
<rect x="666.26" y="241.58" width="5.1" height="4.9" fill="#084081"/>
<rect x="429.90" y="247.54" width="5.1" height="4.9" fill="#ccebc5"/>
<rect x="436.12" y="247.54" width="5.1" height="4.9" fill="#d4eece"/>
<rect x="442.34" y="247.54" width="5.1" height="4.9" fill="#afe0b8"/>
<rect x="448.56" y="247.54" width="5.1" height="4.9" fill="#ccebc5"/>
<rect x="454.78" y="247.54" width="5.1" height="4.9" fill="#7bccc4"/>
<rect x="461.00" y="247.54" width="5.1" height="4.9" fill="#7bccc4"/>
<rect x="467.22" y="247.54" width="5.1" height="4.9" fill="#69c2ca"/>
<rect x="473.44" y="247.54" width="5.1" height="4.9" fill="#7bccc4"/>
<rect x="479.66" y="247.54" width="5.1" height="4.9" fill="#e8f6e3"/>
<rect x="485.88" y="247.54" width="5.1" height="4.9" fill="#e8f6e3"/>
<rect x="492.10" y="247.54" width="5.1" height="4.9" fill="#e8f6e3"/>
<rect x="498.32" y="247.54" width="5.1" height="4.9" fill="#e8f6e3"/>
<rect x="504.54" y="247.54" width="5.1" height="4.9" fill="#e8f6e3"/>
<rect x="510.76" y="247.54" width="5.1" height="4.9" fill="#afe0b8"/>
<rect x="516.98" y="247.54" width="5.1" height="4.9" fill="#d4eece"/>
<rect x="523.20" y="247.54" width="5.1" height="4.9" fill="#ccebc5"/>
<rect x="529.42" y="247.54" width="5.1" height="4.9" fill="#e8f6e3"/>
<rect x="535.64" y="247.54" width="5.1" height="4.9" fill="#e8f6e3"/>
<rect x="541.86" y="247.54" width="5.1" height="4.9" fill="#e5f5df"/>
<rect x="548.08" y="247.54" width="5.1" height="4.9" fill="#e8f6e3"/>
<rect x="554.30" y="247.54" width="5.1" height="4.9" fill="#e8f6e3"/>
<rect x="560.52" y="247.54" width="5.1" height="4.9" fill="#dcf1d7"/>
<rect x="566.74" y="247.54" width="5.1" height="4.9" fill="#e5f5df"/>
<rect x="572.96" y="247.54" width="5.1" height="4.9" fill="#e5f5df"/>
<rect x="579.18" y="247.54" width="5.1" height="4.9" fill="#e5f5df"/>
<rect x="585.40" y="247.54" width="5.1" height="4.9" fill="#8dd3be"/>
<rect x="591.62" y="247.54" width="5.1" height="4.9" fill="#7bccc4"/>
<rect x="597.84" y="247.54" width="5.1" height="4.9" fill="#e5f5df"/>
<rect x="604.06" y="247.54" width="5.1" height="4.9" fill="#e5f5df"/>
<rect x="610.28" y="247.54" width="5.1" height="4.9" fill="#e5f5df"/>
<rect x="616.50" y="247.54" width="5.1" height="4.9" fill="#e5f5df"/>
<rect x="622.72" y="247.54" width="5.1" height="4.9" fill="#e8f6e3"/>
<rect x="628.94" y="247.54" width="5.1" height="4.9" fill="#9fdab8"/>
<rect x="635.16" y="247.54" width="5.1" height="4.9" fill="#ccebc5"/>
<rect x="641.38" y="247.54" width="5.1" height="4.9" fill="#9fdab8"/>
<rect x="647.60" y="247.54" width="5.1" height="4.9" fill="#ccebc5"/>
<rect x="653.82" y="247.54" width="5.1" height="4.9" fill="#9fdab8"/>
<rect x="660.04" y="247.54" width="5.1" height="4.9" fill="#2b8cbe"/>
<rect x="666.26" y="247.54" width="5.1" height="4.9" fill="#d4eece"/>
<rect x="672.48" y="247.54" width="5.1" height="4.9" fill="#084081"/>
<text x="425.30" y="19.45" font-size="5.5" fill="#111" text-anchor="end"  stroke="#111" stroke-width="0.1">3902-71-4</text>
<line x1="427.4" y1="17.55" x2="429.3" y2="17.55" stroke="#222" stroke-width="0.7"/>
<text x="425.30" y="25.41" font-size="5.5" fill="#111" text-anchor="end"  stroke="#111" stroke-width="0.1">149-30-4</text>
<line x1="427.4" y1="23.51" x2="429.3" y2="23.51" stroke="#222" stroke-width="0.7"/>
<text x="425.30" y="31.37" font-size="5.5" fill="#111" text-anchor="end"  stroke="#111" stroke-width="0.1">3606-45-9</text>
<line x1="427.4" y1="29.47" x2="429.3" y2="29.47" stroke="#222" stroke-width="0.7"/>
<text x="425.30" y="37.33" font-size="5.5" fill="#111" text-anchor="end"  stroke="#111" stroke-width="0.1">2447-54-3</text>
<line x1="427.4" y1="35.43" x2="429.3" y2="35.43" stroke="#222" stroke-width="0.7"/>
<text x="425.30" y="43.29" font-size="5.5" fill="#111" text-anchor="end"  stroke="#111" stroke-width="0.1">34369-07-8</text>
<line x1="427.4" y1="41.39" x2="429.3" y2="41.39" stroke="#222" stroke-width="0.7"/>
<text x="425.30" y="49.25" font-size="5.5" fill="#111" text-anchor="end"  stroke="#111" stroke-width="0.1">987-65-6</text>
<line x1="427.4" y1="47.35" x2="429.3" y2="47.35" stroke="#222" stroke-width="0.7"/>
<text x="425.30" y="55.21" font-size="5.5" fill="#111" text-anchor="end"  stroke="#111" stroke-width="0.1">606-68-8</text>
<line x1="427.4" y1="53.31" x2="429.3" y2="53.31" stroke="#222" stroke-width="0.7"/>
<text x="425.30" y="61.17" font-size="5.5" fill="#111" text-anchor="end"  stroke="#111" stroke-width="0.1">20398-34-9</text>
<line x1="427.4" y1="59.27" x2="429.3" y2="59.27" stroke="#222" stroke-width="0.7"/>
<text x="425.30" y="67.13" font-size="5.5" fill="#111" text-anchor="end"  stroke="#111" stroke-width="0.1">51-79-6</text>
<line x1="427.4" y1="65.23" x2="429.3" y2="65.23" stroke="#222" stroke-width="0.7"/>
<text x="425.30" y="73.09" font-size="5.5" fill="#111" text-anchor="end"  stroke="#111" stroke-width="0.1">660-88-8</text>
<line x1="427.4" y1="71.19" x2="429.3" y2="71.19" stroke="#222" stroke-width="0.7"/>
<text x="425.30" y="79.05" font-size="5.5" fill="#111" text-anchor="end"  stroke="#111" stroke-width="0.1">6168-83-8</text>
<line x1="427.4" y1="77.15" x2="429.3" y2="77.15" stroke="#222" stroke-width="0.7"/>
<text x="425.30" y="85.01" font-size="5.5" fill="#111" text-anchor="end"  stroke="#111" stroke-width="0.1">625-72-9</text>
<line x1="427.4" y1="83.11" x2="429.3" y2="83.11" stroke="#222" stroke-width="0.7"/>
<text x="425.30" y="90.97" font-size="5.5" fill="#111" text-anchor="end"  stroke="#111" stroke-width="0.1">462-88-4</text>
<line x1="427.4" y1="89.07" x2="429.3" y2="89.07" stroke="#222" stroke-width="0.7"/>
<text x="425.30" y="96.93" font-size="5.5" fill="#111" text-anchor="end"  stroke="#111" stroke-width="0.1">22150-76-1</text>
<line x1="427.4" y1="95.03" x2="429.3" y2="95.03" stroke="#222" stroke-width="0.7"/>
<text x="425.30" y="102.89" font-size="5.5" fill="#111" text-anchor="end"  stroke="#111" stroke-width="0.1">4433-40-3</text>
<line x1="427.4" y1="100.99" x2="429.3" y2="100.99" stroke="#222" stroke-width="0.7"/>
<text x="425.30" y="108.85" font-size="5.5" fill="#111" text-anchor="end"  stroke="#111" stroke-width="0.1">3373-53-3</text>
<line x1="427.4" y1="106.95" x2="429.3" y2="106.95" stroke="#222" stroke-width="0.7"/>
<text x="425.30" y="114.81" font-size="5.5" fill="#111" text-anchor="end"  stroke="#111" stroke-width="0.1">2224-02-4</text>
<line x1="427.4" y1="112.91" x2="429.3" y2="112.91" stroke="#222" stroke-width="0.7"/>
<text x="425.30" y="120.77" font-size="5.5" fill="#111" text-anchor="end"  stroke="#111" stroke-width="0.1">6893-26-1</text>
<line x1="427.4" y1="118.87" x2="429.3" y2="118.87" stroke="#222" stroke-width="0.7"/>
<text x="425.30" y="126.73" font-size="5.5" fill="#111" text-anchor="end"  stroke="#111" stroke-width="0.1">498-59-9</text>
<line x1="427.4" y1="124.83" x2="429.3" y2="124.83" stroke="#222" stroke-width="0.7"/>
<text x="425.30" y="132.69" font-size="5.5" fill="#111" text-anchor="end"  stroke="#111" stroke-width="0.1">56-40-6</text>
<line x1="427.4" y1="130.79" x2="429.3" y2="130.79" stroke="#222" stroke-width="0.7"/>
<text x="425.30" y="138.65" font-size="5.5" fill="#111" text-anchor="end"  stroke="#111" stroke-width="0.1">124-04-9</text>
<line x1="427.4" y1="136.75" x2="429.3" y2="136.75" stroke="#222" stroke-width="0.7"/>
<text x="425.30" y="144.61" font-size="5.5" fill="#111" text-anchor="end"  stroke="#111" stroke-width="0.1">704-15-4</text>
<line x1="427.4" y1="142.71" x2="429.3" y2="142.71" stroke="#222" stroke-width="0.7"/>
<text x="425.30" y="150.57" font-size="5.5" fill="#111" text-anchor="end"  stroke="#111" stroke-width="0.1">79-33-4</text>
<line x1="427.4" y1="148.67" x2="429.3" y2="148.67" stroke="#222" stroke-width="0.7"/>
<text x="425.30" y="156.53" font-size="5.5" fill="#111" text-anchor="end"  stroke="#111" stroke-width="0.1">111-16-0</text>
<line x1="427.4" y1="154.63" x2="429.3" y2="154.63" stroke="#222" stroke-width="0.7"/>
<text x="425.30" y="162.49" font-size="5.5" fill="#111" text-anchor="end"  stroke="#111" stroke-width="0.1">454-29-5</text>
<line x1="427.4" y1="160.59" x2="429.3" y2="160.59" stroke="#222" stroke-width="0.7"/>
<text x="425.30" y="168.45" font-size="5.5" fill="#111" text-anchor="end"  stroke="#111" stroke-width="0.1">50924-49-7</text>
<line x1="427.4" y1="166.55" x2="429.3" y2="166.55" stroke="#222" stroke-width="0.7"/>
<text x="425.30" y="174.41" font-size="5.5" fill="#111" text-anchor="end"  stroke="#111" stroke-width="0.1">34369-07-8</text>
<line x1="427.4" y1="172.51" x2="429.3" y2="172.51" stroke="#222" stroke-width="0.7"/>
<text x="425.30" y="180.37" font-size="5.5" fill="#111" text-anchor="end"  stroke="#111" stroke-width="0.1">6893-26-1</text>
<line x1="427.4" y1="178.47" x2="429.3" y2="178.47" stroke="#222" stroke-width="0.7"/>
<text x="425.30" y="186.33" font-size="5.5" fill="#111" text-anchor="end"  stroke="#111" stroke-width="0.1">56-86-0</text>
<line x1="427.4" y1="184.43" x2="429.3" y2="184.43" stroke="#222" stroke-width="0.7"/>
<text x="425.30" y="192.29" font-size="5.5" fill="#111" text-anchor="end"  stroke="#111" stroke-width="0.1">56-12-2</text>
<line x1="427.4" y1="190.39" x2="429.3" y2="190.39" stroke="#222" stroke-width="0.7"/>
<text x="425.30" y="198.25" font-size="5.5" fill="#111" text-anchor="end"  stroke="#111" stroke-width="0.1">22059-21-8</text>
<line x1="427.4" y1="196.35" x2="429.3" y2="196.35" stroke="#222" stroke-width="0.7"/>
<text x="425.30" y="204.21" font-size="5.5" fill="#111" text-anchor="end"  stroke="#111" stroke-width="0.1">4408-78-0</text>
<line x1="427.4" y1="202.31" x2="429.3" y2="202.31" stroke="#222" stroke-width="0.7"/>
<text x="425.30" y="210.17" font-size="5.5" fill="#111" text-anchor="end"  stroke="#111" stroke-width="0.1">38215-36-0</text>
<line x1="427.4" y1="208.27" x2="429.3" y2="208.27" stroke="#222" stroke-width="0.7"/>
<text x="425.30" y="216.13" font-size="5.5" fill="#111" text-anchor="end"  stroke="#111" stroke-width="0.1">3902-71-4</text>
<line x1="427.4" y1="214.23" x2="429.3" y2="214.23" stroke="#222" stroke-width="0.7"/>
<text x="425.30" y="222.09" font-size="5.5" fill="#111" text-anchor="end"  stroke="#111" stroke-width="0.1">50-89-5</text>
<line x1="427.4" y1="220.19" x2="429.3" y2="220.19" stroke="#222" stroke-width="0.7"/>
<text x="425.30" y="228.05" font-size="5.5" fill="#111" text-anchor="end"  stroke="#111" stroke-width="0.1">2447-54-3</text>
<line x1="427.4" y1="226.15" x2="429.3" y2="226.15" stroke="#222" stroke-width="0.7"/>
<text x="425.30" y="234.01" font-size="5.5" fill="#111" text-anchor="end"  stroke="#111" stroke-width="0.1">1463-10-1</text>
<line x1="427.4" y1="232.11" x2="429.3" y2="232.11" stroke="#222" stroke-width="0.7"/>
<text x="425.30" y="239.97" font-size="5.5" fill="#111" text-anchor="end"  stroke="#111" stroke-width="0.1">83-88-5</text>
<line x1="427.4" y1="238.07" x2="429.3" y2="238.07" stroke="#222" stroke-width="0.7"/>
<text x="425.30" y="245.93" font-size="5.5" fill="#111" text-anchor="end"  stroke="#111" stroke-width="0.1">519-23-3</text>
<line x1="427.4" y1="244.03" x2="429.3" y2="244.03" stroke="#222" stroke-width="0.7"/>
<text x="425.30" y="251.89" font-size="5.5" fill="#111" text-anchor="end"  stroke="#111" stroke-width="0.1">51093-55-1</text>
<line x1="427.4" y1="249.99" x2="429.3" y2="249.99" stroke="#222" stroke-width="0.7"/>
<line x1="432.45" y1="253.0" x2="432.45" y2="254.9" stroke="#222" stroke-width="0.7"/>
<text transform="translate(434.35,258.4) rotate(-90)" font-size="5.5" fill="#111" text-anchor="end" stroke="#111" stroke-width="0.1">3902-71-4</text>
<line x1="438.67" y1="253.0" x2="438.67" y2="254.9" stroke="#222" stroke-width="0.7"/>
<text transform="translate(440.57,258.4) rotate(-90)" font-size="5.5" fill="#111" text-anchor="end" stroke="#111" stroke-width="0.1">149-30-4</text>
<line x1="444.89" y1="253.0" x2="444.89" y2="254.9" stroke="#222" stroke-width="0.7"/>
<text transform="translate(446.79,258.4) rotate(-90)" font-size="5.5" fill="#111" text-anchor="end" stroke="#111" stroke-width="0.1">3606-45-9</text>
<line x1="451.11" y1="253.0" x2="451.11" y2="254.9" stroke="#222" stroke-width="0.7"/>
<text transform="translate(453.01,258.4) rotate(-90)" font-size="5.5" fill="#111" text-anchor="end" stroke="#111" stroke-width="0.1">2447-54-3</text>
<line x1="457.33" y1="253.0" x2="457.33" y2="254.9" stroke="#222" stroke-width="0.7"/>
<text transform="translate(459.23,258.4) rotate(-90)" font-size="5.5" fill="#111" text-anchor="end" stroke="#111" stroke-width="0.1">34369-07-8</text>
<line x1="463.55" y1="253.0" x2="463.55" y2="254.9" stroke="#222" stroke-width="0.7"/>
<text transform="translate(465.45,258.4) rotate(-90)" font-size="5.5" fill="#111" text-anchor="end" stroke="#111" stroke-width="0.1">987-65-6</text>
<line x1="469.77" y1="253.0" x2="469.77" y2="254.9" stroke="#222" stroke-width="0.7"/>
<text transform="translate(471.67,258.4) rotate(-90)" font-size="5.5" fill="#111" text-anchor="end" stroke="#111" stroke-width="0.1">606-68-8</text>
<line x1="475.99" y1="253.0" x2="475.99" y2="254.9" stroke="#222" stroke-width="0.7"/>
<text transform="translate(477.89,258.4) rotate(-90)" font-size="5.5" fill="#111" text-anchor="end" stroke="#111" stroke-width="0.1">20398-34-9</text>
<line x1="482.21" y1="253.0" x2="482.21" y2="254.9" stroke="#222" stroke-width="0.7"/>
<text transform="translate(484.11,258.4) rotate(-90)" font-size="5.5" fill="#111" text-anchor="end" stroke="#111" stroke-width="0.1">51-79-6</text>
<line x1="488.43" y1="253.0" x2="488.43" y2="254.9" stroke="#222" stroke-width="0.7"/>
<text transform="translate(490.33,258.4) rotate(-90)" font-size="5.5" fill="#111" text-anchor="end" stroke="#111" stroke-width="0.1">660-88-8</text>
<line x1="494.65" y1="253.0" x2="494.65" y2="254.9" stroke="#222" stroke-width="0.7"/>
<text transform="translate(496.55,258.4) rotate(-90)" font-size="5.5" fill="#111" text-anchor="end" stroke="#111" stroke-width="0.1">6168-83-8</text>
<line x1="500.87" y1="253.0" x2="500.87" y2="254.9" stroke="#222" stroke-width="0.7"/>
<text transform="translate(502.77,258.4) rotate(-90)" font-size="5.5" fill="#111" text-anchor="end" stroke="#111" stroke-width="0.1">625-72-9</text>
<line x1="507.09" y1="253.0" x2="507.09" y2="254.9" stroke="#222" stroke-width="0.7"/>
<text transform="translate(508.99,258.4) rotate(-90)" font-size="5.5" fill="#111" text-anchor="end" stroke="#111" stroke-width="0.1">462-88-4</text>
<line x1="513.31" y1="253.0" x2="513.31" y2="254.9" stroke="#222" stroke-width="0.7"/>
<text transform="translate(515.21,258.4) rotate(-90)" font-size="5.5" fill="#111" text-anchor="end" stroke="#111" stroke-width="0.1">22150-76-1</text>
<line x1="519.53" y1="253.0" x2="519.53" y2="254.9" stroke="#222" stroke-width="0.7"/>
<text transform="translate(521.43,258.4) rotate(-90)" font-size="5.5" fill="#111" text-anchor="end" stroke="#111" stroke-width="0.1">4433-40-3</text>
<line x1="525.75" y1="253.0" x2="525.75" y2="254.9" stroke="#222" stroke-width="0.7"/>
<text transform="translate(527.65,258.4) rotate(-90)" font-size="5.5" fill="#111" text-anchor="end" stroke="#111" stroke-width="0.1">3373-53-3</text>
<line x1="531.97" y1="253.0" x2="531.97" y2="254.9" stroke="#222" stroke-width="0.7"/>
<text transform="translate(533.87,258.4) rotate(-90)" font-size="5.5" fill="#111" text-anchor="end" stroke="#111" stroke-width="0.1">2224-02-4</text>
<line x1="538.19" y1="253.0" x2="538.19" y2="254.9" stroke="#222" stroke-width="0.7"/>
<text transform="translate(540.09,258.4) rotate(-90)" font-size="5.5" fill="#111" text-anchor="end" stroke="#111" stroke-width="0.1">6893-26-1</text>
<line x1="544.41" y1="253.0" x2="544.41" y2="254.9" stroke="#222" stroke-width="0.7"/>
<text transform="translate(546.31,258.4) rotate(-90)" font-size="5.5" fill="#111" text-anchor="end" stroke="#111" stroke-width="0.1">498-59-9</text>
<line x1="550.63" y1="253.0" x2="550.63" y2="254.9" stroke="#222" stroke-width="0.7"/>
<text transform="translate(552.53,258.4) rotate(-90)" font-size="5.5" fill="#111" text-anchor="end" stroke="#111" stroke-width="0.1">56-40-6</text>
<line x1="556.85" y1="253.0" x2="556.85" y2="254.9" stroke="#222" stroke-width="0.7"/>
<text transform="translate(558.75,258.4) rotate(-90)" font-size="5.5" fill="#111" text-anchor="end" stroke="#111" stroke-width="0.1">124-04-9</text>
<line x1="563.07" y1="253.0" x2="563.07" y2="254.9" stroke="#222" stroke-width="0.7"/>
<text transform="translate(564.97,258.4) rotate(-90)" font-size="5.5" fill="#111" text-anchor="end" stroke="#111" stroke-width="0.1">704-15-4</text>
<line x1="569.29" y1="253.0" x2="569.29" y2="254.9" stroke="#222" stroke-width="0.7"/>
<text transform="translate(571.19,258.4) rotate(-90)" font-size="5.5" fill="#111" text-anchor="end" stroke="#111" stroke-width="0.1">79-33-4</text>
<line x1="575.51" y1="253.0" x2="575.51" y2="254.9" stroke="#222" stroke-width="0.7"/>
<text transform="translate(577.41,258.4) rotate(-90)" font-size="5.5" fill="#111" text-anchor="end" stroke="#111" stroke-width="0.1">111-16-0</text>
<line x1="581.73" y1="253.0" x2="581.73" y2="254.9" stroke="#222" stroke-width="0.7"/>
<text transform="translate(583.63,258.4) rotate(-90)" font-size="5.5" fill="#111" text-anchor="end" stroke="#111" stroke-width="0.1">454-29-5</text>
<line x1="587.95" y1="253.0" x2="587.95" y2="254.9" stroke="#222" stroke-width="0.7"/>
<text transform="translate(589.85,258.4) rotate(-90)" font-size="5.5" fill="#111" text-anchor="end" stroke="#111" stroke-width="0.1">50924-49-7</text>
<line x1="594.17" y1="253.0" x2="594.17" y2="254.9" stroke="#222" stroke-width="0.7"/>
<text transform="translate(596.07,258.4) rotate(-90)" font-size="5.5" fill="#111" text-anchor="end" stroke="#111" stroke-width="0.1">34369-07-8</text>
<line x1="600.39" y1="253.0" x2="600.39" y2="254.9" stroke="#222" stroke-width="0.7"/>
<text transform="translate(602.29,258.4) rotate(-90)" font-size="5.5" fill="#111" text-anchor="end" stroke="#111" stroke-width="0.1">6893-26-1</text>
<line x1="606.61" y1="253.0" x2="606.61" y2="254.9" stroke="#222" stroke-width="0.7"/>
<text transform="translate(608.51,258.4) rotate(-90)" font-size="5.5" fill="#111" text-anchor="end" stroke="#111" stroke-width="0.1">56-86-0</text>
<line x1="612.83" y1="253.0" x2="612.83" y2="254.9" stroke="#222" stroke-width="0.7"/>
<text transform="translate(614.73,258.4) rotate(-90)" font-size="5.5" fill="#111" text-anchor="end" stroke="#111" stroke-width="0.1">56-12-2</text>
<line x1="619.05" y1="253.0" x2="619.05" y2="254.9" stroke="#222" stroke-width="0.7"/>
<text transform="translate(620.95,258.4) rotate(-90)" font-size="5.5" fill="#111" text-anchor="end" stroke="#111" stroke-width="0.1">22059-21-8</text>
<line x1="625.27" y1="253.0" x2="625.27" y2="254.9" stroke="#222" stroke-width="0.7"/>
<text transform="translate(627.17,258.4) rotate(-90)" font-size="5.5" fill="#111" text-anchor="end" stroke="#111" stroke-width="0.1">4408-78-0</text>
<line x1="631.49" y1="253.0" x2="631.49" y2="254.9" stroke="#222" stroke-width="0.7"/>
<text transform="translate(633.39,258.4) rotate(-90)" font-size="5.5" fill="#111" text-anchor="end" stroke="#111" stroke-width="0.1">38215-36-0</text>
<line x1="637.71" y1="253.0" x2="637.71" y2="254.9" stroke="#222" stroke-width="0.7"/>
<text transform="translate(639.61,258.4) rotate(-90)" font-size="5.5" fill="#111" text-anchor="end" stroke="#111" stroke-width="0.1">3902-71-4</text>
<line x1="643.93" y1="253.0" x2="643.93" y2="254.9" stroke="#222" stroke-width="0.7"/>
<text transform="translate(645.83,258.4) rotate(-90)" font-size="5.5" fill="#111" text-anchor="end" stroke="#111" stroke-width="0.1">50-89-5</text>
<line x1="650.15" y1="253.0" x2="650.15" y2="254.9" stroke="#222" stroke-width="0.7"/>
<text transform="translate(652.05,258.4) rotate(-90)" font-size="5.5" fill="#111" text-anchor="end" stroke="#111" stroke-width="0.1">2447-54-3</text>
<line x1="656.37" y1="253.0" x2="656.37" y2="254.9" stroke="#222" stroke-width="0.7"/>
<text transform="translate(658.27,258.4) rotate(-90)" font-size="5.5" fill="#111" text-anchor="end" stroke="#111" stroke-width="0.1">1463-10-1</text>
<line x1="662.59" y1="253.0" x2="662.59" y2="254.9" stroke="#222" stroke-width="0.7"/>
<text transform="translate(664.49,258.4) rotate(-90)" font-size="5.5" fill="#111" text-anchor="end" stroke="#111" stroke-width="0.1">83-88-5</text>
<line x1="668.81" y1="253.0" x2="668.81" y2="254.9" stroke="#222" stroke-width="0.7"/>
<text transform="translate(670.71,258.4) rotate(-90)" font-size="5.5" fill="#111" text-anchor="end" stroke="#111" stroke-width="0.1">519-23-3</text>
<line x1="675.03" y1="253.0" x2="675.03" y2="254.9" stroke="#222" stroke-width="0.7"/>
<text transform="translate(676.93,258.4) rotate(-90)" font-size="5.5" fill="#111" text-anchor="end" stroke="#111" stroke-width="0.1">51093-55-1</text>
<text transform="translate(421.8,274.2) rotate(-90)" font-size="6.6" fill="#222" text-anchor="middle" stroke="#222" stroke-width="0.1">CAS number</text>
<rect x="386.5" y="14.30" width="6.4" height="23.08" fill="#d5574c"/>
<rect x="428.80" y="290.7" width="23.93" height="6.3" fill="#d5574c"/>
<rect x="386.5" y="38.30" width="6.4" height="28.93" fill="#ee8b48"/>
<rect x="453.78" y="290.7" width="29.99" height="6.3" fill="#ee8b48"/>
<rect x="386.5" y="68.30" width="6.4" height="22.81" fill="#e8bf48"/>
<rect x="485.00" y="290.7" width="23.60" height="6.3" fill="#e8bf48"/>
<rect x="386.5" y="92.30" width="6.4" height="16.72" fill="#67b896"/>
<rect x="509.99" y="290.7" width="17.24" height="6.3" fill="#67b896"/>
<rect x="386.5" y="110.30" width="6.4" height="52.45" fill="#8eaed3"/>
<rect x="528.72" y="290.7" width="54.38" height="6.3" fill="#8eaed3"/>
<rect x="386.5" y="164.30" width="6.4" height="10.39" fill="#4f6db4"/>
<rect x="584.92" y="290.7" width="10.59" height="6.3" fill="#4f6db4"/>
<rect x="386.5" y="176.30" width="6.4" height="28.24" fill="#cc98c6"/>
<rect x="597.41" y="290.7" width="29.14" height="6.3" fill="#cc98c6"/>
<rect x="386.5" y="206.30" width="6.4" height="4.21" fill="#7c4430"/>
<rect x="628.64" y="290.7" width="4.12" height="6.3" fill="#7c4430"/>
<rect x="386.5" y="212.30" width="6.4" height="40.00" fill="#9d9f9d"/>
<rect x="634.88" y="290.7" width="41.34" height="6.3" fill="#9d9f9d"/>
<rect x="624.9" y="13.1" width="54.3" height="4.7" fill="url(#gnbu)"/>
<text x="616.7" y="11.1" font-size="7.3" fill="#222" textLength="69" lengthAdjust="spacingAndGlyphs" stroke="#222" stroke-width="0.1">Tanimoto coefficient</text>
<line x1="625.4" y1="18.1" x2="625.4" y2="21.6" stroke="#333" stroke-width="0.6"/>
<text x="625.40" y="28.00" font-size="5.8" fill="#333" text-anchor="middle"  stroke="#333" stroke-width="0.1">0</text>
<line x1="652.3" y1="18.1" x2="652.3" y2="21.6" stroke="#333" stroke-width="0.6"/>
<text x="652.30" y="28.00" font-size="5.8" fill="#333" text-anchor="middle"  stroke="#333" stroke-width="0.1">0.5</text>
<line x1="679.2" y1="18.1" x2="679.2" y2="21.6" stroke="#333" stroke-width="0.6"/>
<text x="679.20" y="28.00" font-size="5.8" fill="#333" text-anchor="middle"  stroke="#333" stroke-width="0.1">1.0</text>
<text x="229.5" y="330.2" font-size="13" font-weight="bold" fill="#000">d</text>
<line x1="272.6" y1="331.5" x2="272.6" y2="441.6" stroke="#333" stroke-width="0.8"/>
<line x1="269.7" y1="338.60" x2="272.6" y2="338.60" stroke="#222" stroke-width="0.7"/>
<text x="267.90" y="340.70" font-size="6.0" fill="#222" text-anchor="end"  stroke="#222" stroke-width="0.1">&gt;100</text>
<line x1="269.7" y1="362.00" x2="272.6" y2="362.00" stroke="#222" stroke-width="0.7"/>
<text x="267.90" y="364.10" font-size="6.0" fill="#222" text-anchor="end"  stroke="#222" stroke-width="0.1">10</text>
<line x1="269.7" y1="387.60" x2="272.6" y2="387.60" stroke="#222" stroke-width="0.7"/>
<text x="267.90" y="389.70" font-size="6.0" fill="#222" text-anchor="end"  stroke="#222" stroke-width="0.1">1</text>
<line x1="269.7" y1="412.00" x2="272.6" y2="412.00" stroke="#222" stroke-width="0.7"/>
<text x="267.90" y="414.10" font-size="6.0" fill="#222" text-anchor="end"  stroke="#222" stroke-width="0.1">0.1</text>
<line x1="269.7" y1="436.00" x2="272.6" y2="436.00" stroke="#222" stroke-width="0.7"/>
<text x="267.90" y="438.10" font-size="6.0" fill="#222" text-anchor="end"  stroke="#222" stroke-width="0.1">0.01</text>
<line x1="270.9" y1="354.96" x2="272.6" y2="354.96" stroke="#333" stroke-width="0.5"/>
<line x1="270.9" y1="350.84" x2="272.6" y2="350.84" stroke="#333" stroke-width="0.5"/>
<line x1="270.9" y1="347.91" x2="272.6" y2="347.91" stroke="#333" stroke-width="0.5"/>
<line x1="270.9" y1="345.64" x2="272.6" y2="345.64" stroke="#333" stroke-width="0.5"/>
<line x1="270.9" y1="343.79" x2="272.6" y2="343.79" stroke="#333" stroke-width="0.5"/>
<line x1="270.9" y1="342.22" x2="272.6" y2="342.22" stroke="#333" stroke-width="0.5"/>
<line x1="270.9" y1="340.87" x2="272.6" y2="340.87" stroke="#333" stroke-width="0.5"/>
<line x1="270.9" y1="339.67" x2="272.6" y2="339.67" stroke="#333" stroke-width="0.5"/>
<line x1="270.9" y1="379.89" x2="272.6" y2="379.89" stroke="#333" stroke-width="0.5"/>
<line x1="270.9" y1="375.39" x2="272.6" y2="375.39" stroke="#333" stroke-width="0.5"/>
<line x1="270.9" y1="372.19" x2="272.6" y2="372.19" stroke="#333" stroke-width="0.5"/>
<line x1="270.9" y1="369.71" x2="272.6" y2="369.71" stroke="#333" stroke-width="0.5"/>
<line x1="270.9" y1="367.68" x2="272.6" y2="367.68" stroke="#333" stroke-width="0.5"/>
<line x1="270.9" y1="365.97" x2="272.6" y2="365.97" stroke="#333" stroke-width="0.5"/>
<line x1="270.9" y1="364.48" x2="272.6" y2="364.48" stroke="#333" stroke-width="0.5"/>
<line x1="270.9" y1="363.17" x2="272.6" y2="363.17" stroke="#333" stroke-width="0.5"/>
<line x1="270.9" y1="404.65" x2="272.6" y2="404.65" stroke="#333" stroke-width="0.5"/>
<line x1="270.9" y1="400.36" x2="272.6" y2="400.36" stroke="#333" stroke-width="0.5"/>
<line x1="270.9" y1="397.31" x2="272.6" y2="397.31" stroke="#333" stroke-width="0.5"/>
<line x1="270.9" y1="394.95" x2="272.6" y2="394.95" stroke="#333" stroke-width="0.5"/>
<line x1="270.9" y1="393.01" x2="272.6" y2="393.01" stroke="#333" stroke-width="0.5"/>
<line x1="270.9" y1="391.38" x2="272.6" y2="391.38" stroke="#333" stroke-width="0.5"/>
<line x1="270.9" y1="389.96" x2="272.6" y2="389.96" stroke="#333" stroke-width="0.5"/>
<line x1="270.9" y1="388.72" x2="272.6" y2="388.72" stroke="#333" stroke-width="0.5"/>
<line x1="270.9" y1="428.78" x2="272.6" y2="428.78" stroke="#333" stroke-width="0.5"/>
<line x1="270.9" y1="424.55" x2="272.6" y2="424.55" stroke="#333" stroke-width="0.5"/>
<line x1="270.9" y1="421.55" x2="272.6" y2="421.55" stroke="#333" stroke-width="0.5"/>
<line x1="270.9" y1="419.22" x2="272.6" y2="419.22" stroke="#333" stroke-width="0.5"/>
<line x1="270.9" y1="417.32" x2="272.6" y2="417.32" stroke="#333" stroke-width="0.5"/>
<line x1="270.9" y1="415.72" x2="272.6" y2="415.72" stroke="#333" stroke-width="0.5"/>
<line x1="270.9" y1="414.33" x2="272.6" y2="414.33" stroke="#333" stroke-width="0.5"/>
<line x1="270.9" y1="413.10" x2="272.6" y2="413.10" stroke="#333" stroke-width="0.5"/>
<text transform="translate(248.8,387.3) rotate(-90)" font-size="6.8" fill="#222" text-anchor="middle" stroke="#222" stroke-width="0.1"><tspan font-style="italic">K</tspan><tspan font-size="4.6" dy="1.5" font-style="italic">d</tspan><tspan dy="-1.5"> (μM)</tspan></text>
<rect x="274.10" y="336.80" width="7.05" height="104.30" fill="#d5574c"/>
<line x1="277.62" y1="441.10" x2="277.62" y2="443.30" stroke="#333" stroke-width="0.6"/>
<text transform="translate(279.93,447.0) rotate(-90)" font-size="6.5" fill="#111" text-anchor="end" textLength="27.70" lengthAdjust="spacingAndGlyphs" stroke="#111" stroke-width="0.1">3902-71-4</text>
<rect x="284.17" y="336.80" width="7.05" height="104.30" fill="#d5574c"/>
<line x1="287.69" y1="441.10" x2="287.69" y2="443.30" stroke="#333" stroke-width="0.6"/>
<text transform="translate(290.00,447.0) rotate(-90)" font-size="6.5" fill="#111" text-anchor="end" textLength="24.15" lengthAdjust="spacingAndGlyphs" stroke="#111" stroke-width="0.1">149-30-4</text>
<rect x="294.24" y="336.80" width="7.05" height="104.30" fill="#d5574c"/>
<line x1="297.76" y1="441.10" x2="297.76" y2="443.30" stroke="#333" stroke-width="0.6"/>
<text transform="translate(300.06,447.0) rotate(-90)" font-size="6.5" fill="#111" text-anchor="end" textLength="28.45" lengthAdjust="spacingAndGlyphs" stroke="#111" stroke-width="0.1">3606-45-9</text>
<rect x="304.31" y="336.80" width="7.05" height="104.30" fill="#d5574c"/>
<line x1="307.83" y1="441.10" x2="307.83" y2="443.30" stroke="#333" stroke-width="0.6"/>
<text transform="translate(310.13,447.0) rotate(-90)" font-size="6.5" fill="#111" text-anchor="end" textLength="28.45" lengthAdjust="spacingAndGlyphs" stroke="#111" stroke-width="0.1">2447-54-3</text>
<rect x="314.38" y="432.90" width="7.05" height="8.20" fill="#ee8b48"/>
<line x1="317.90" y1="441.10" x2="317.90" y2="443.30" stroke="#333" stroke-width="0.6"/>
<text transform="translate(320.20,447.0) rotate(-90)" font-size="6.5" fill="#111" text-anchor="end" textLength="32.00" lengthAdjust="spacingAndGlyphs" stroke="#111" stroke-width="0.1">34369-07-8</text>
<rect x="324.45" y="436.10" width="7.05" height="5.00" fill="#ee8b48"/>
<line x1="327.98" y1="441.10" x2="327.98" y2="443.30" stroke="#333" stroke-width="0.6"/>
<text transform="translate(330.28,447.0) rotate(-90)" font-size="6.5" fill="#111" text-anchor="end" textLength="24.90" lengthAdjust="spacingAndGlyphs" stroke="#111" stroke-width="0.1">987-65-5</text>
<rect x="334.52" y="356.60" width="7.05" height="84.50" fill="#ee8b48"/>
<line x1="338.05" y1="441.10" x2="338.05" y2="443.30" stroke="#333" stroke-width="0.6"/>
<text transform="translate(340.35,447.0) rotate(-90)" font-size="6.5" fill="#111" text-anchor="end" textLength="24.90" lengthAdjust="spacingAndGlyphs" stroke="#111" stroke-width="0.1">606-68-8</text>
<rect x="344.59" y="365.70" width="7.05" height="75.40" fill="#ee8b48"/>
<line x1="348.12" y1="441.10" x2="348.12" y2="443.30" stroke="#333" stroke-width="0.6"/>
<text transform="translate(350.42,447.0) rotate(-90)" font-size="6.5" fill="#111" text-anchor="end" textLength="32.00" lengthAdjust="spacingAndGlyphs" stroke="#111" stroke-width="0.1">20398-34-9</text>
<rect x="354.66" y="336.80" width="7.05" height="104.30" fill="#ee8b48"/>
<line x1="358.19" y1="441.10" x2="358.19" y2="443.30" stroke="#333" stroke-width="0.6"/>
<text transform="translate(360.49,447.0) rotate(-90)" font-size="6.5" fill="#111" text-anchor="end" textLength="20.60" lengthAdjust="spacingAndGlyphs" stroke="#111" stroke-width="0.1">51-79-6</text>
<rect x="364.73" y="353.20" width="7.05" height="87.90" fill="#e8bf48"/>
<line x1="368.25" y1="441.10" x2="368.25" y2="443.30" stroke="#333" stroke-width="0.6"/>
<text transform="translate(370.56,447.0) rotate(-90)" font-size="6.5" fill="#111" text-anchor="end" textLength="24.90" lengthAdjust="spacingAndGlyphs" stroke="#111" stroke-width="0.1">660-88-8</text>
<rect x="374.80" y="336.80" width="7.05" height="104.30" fill="#e8bf48"/>
<line x1="378.32" y1="441.10" x2="378.32" y2="443.30" stroke="#333" stroke-width="0.6"/>
<text transform="translate(380.62,447.0) rotate(-90)" font-size="6.5" fill="#111" text-anchor="end" textLength="27.70" lengthAdjust="spacingAndGlyphs" stroke="#111" stroke-width="0.1">6168-83-8</text>
<rect x="384.87" y="336.80" width="7.05" height="104.30" fill="#e8bf48"/>
<line x1="388.39" y1="441.10" x2="388.39" y2="443.30" stroke="#333" stroke-width="0.6"/>
<text transform="translate(390.69,447.0) rotate(-90)" font-size="6.5" fill="#111" text-anchor="end" textLength="24.90" lengthAdjust="spacingAndGlyphs" stroke="#111" stroke-width="0.1">625-72-9</text>
<rect x="394.94" y="362.10" width="7.05" height="79.00" fill="#e8bf48"/>
<line x1="398.47" y1="441.10" x2="398.47" y2="443.30" stroke="#333" stroke-width="0.6"/>
<text transform="translate(400.77,447.0) rotate(-90)" font-size="6.5" fill="#111" text-anchor="end" textLength="24.90" lengthAdjust="spacingAndGlyphs" stroke="#111" stroke-width="0.1">462-88-4</text>
<rect x="405.01" y="336.80" width="7.05" height="104.30" fill="#67b896"/>
<line x1="408.53" y1="441.10" x2="408.53" y2="443.30" stroke="#333" stroke-width="0.6"/>
<text transform="translate(410.83,447.0) rotate(-90)" font-size="6.5" fill="#111" text-anchor="end" textLength="30.50" lengthAdjust="spacingAndGlyphs" stroke="#111" stroke-width="0.1">22150-76-1</text>
<rect x="415.08" y="336.80" width="7.05" height="104.30" fill="#67b896"/>
<line x1="418.61" y1="441.10" x2="418.61" y2="443.30" stroke="#333" stroke-width="0.6"/>
<text transform="translate(420.91,447.0) rotate(-90)" font-size="6.5" fill="#111" text-anchor="end" textLength="28.45" lengthAdjust="spacingAndGlyphs" stroke="#111" stroke-width="0.1">4433-40-3</text>
<rect x="425.15" y="365.10" width="7.05" height="76.00" fill="#67b896"/>
<line x1="428.68" y1="441.10" x2="428.68" y2="443.30" stroke="#333" stroke-width="0.6"/>
<text transform="translate(430.98,447.0) rotate(-90)" font-size="6.5" fill="#111" text-anchor="end" textLength="28.45" lengthAdjust="spacingAndGlyphs" stroke="#111" stroke-width="0.1">3373-53-3</text>
<rect x="435.22" y="356.90" width="7.05" height="84.20" fill="#8eaed3"/>
<line x1="438.75" y1="441.10" x2="438.75" y2="443.30" stroke="#333" stroke-width="0.6"/>
<text transform="translate(441.05,447.0) rotate(-90)" font-size="6.5" fill="#111" text-anchor="end" textLength="28.45" lengthAdjust="spacingAndGlyphs" stroke="#111" stroke-width="0.1">2224-02-4</text>
<rect x="445.29" y="336.80" width="7.05" height="104.30" fill="#8eaed3"/>
<line x1="448.81" y1="441.10" x2="448.81" y2="443.30" stroke="#333" stroke-width="0.6"/>
<text transform="translate(451.12,447.0) rotate(-90)" font-size="6.5" fill="#111" text-anchor="end" textLength="27.70" lengthAdjust="spacingAndGlyphs" stroke="#111" stroke-width="0.1">6893-26-1</text>
<rect x="455.36" y="336.80" width="7.05" height="104.30" fill="#8eaed3"/>
<line x1="458.88" y1="441.10" x2="458.88" y2="443.30" stroke="#333" stroke-width="0.6"/>
<text transform="translate(461.19,447.0) rotate(-90)" font-size="6.5" fill="#111" text-anchor="end" textLength="24.90" lengthAdjust="spacingAndGlyphs" stroke="#111" stroke-width="0.1">498-59-9</text>
<rect x="465.43" y="336.80" width="7.05" height="104.30" fill="#8eaed3"/>
<line x1="468.96" y1="441.10" x2="468.96" y2="443.30" stroke="#333" stroke-width="0.6"/>
<text transform="translate(471.26,447.0) rotate(-90)" font-size="6.5" fill="#111" text-anchor="end" textLength="21.35" lengthAdjust="spacingAndGlyphs" stroke="#111" stroke-width="0.1">56-40-6</text>
<rect x="475.50" y="373.30" width="7.05" height="67.80" fill="#8eaed3"/>
<line x1="479.02" y1="441.10" x2="479.02" y2="443.30" stroke="#333" stroke-width="0.6"/>
<text transform="translate(481.32,447.0) rotate(-90)" font-size="6.5" fill="#111" text-anchor="end" textLength="24.15" lengthAdjust="spacingAndGlyphs" stroke="#111" stroke-width="0.1">124-04-9</text>
<rect x="485.57" y="336.80" width="7.05" height="104.30" fill="#8eaed3"/>
<line x1="489.10" y1="441.10" x2="489.10" y2="443.30" stroke="#333" stroke-width="0.6"/>
<text transform="translate(491.40,447.0) rotate(-90)" font-size="6.5" fill="#111" text-anchor="end" textLength="24.15" lengthAdjust="spacingAndGlyphs" stroke="#111" stroke-width="0.1">704-15-4</text>
<rect x="495.64" y="384.20" width="7.05" height="56.90" fill="#8eaed3"/>
<line x1="499.17" y1="441.10" x2="499.17" y2="443.30" stroke="#333" stroke-width="0.6"/>
<text transform="translate(501.47,447.0) rotate(-90)" font-size="6.5" fill="#111" text-anchor="end" textLength="21.35" lengthAdjust="spacingAndGlyphs" stroke="#111" stroke-width="0.1">79-33-4</text>
<rect x="505.71" y="423.80" width="7.05" height="17.30" fill="#8eaed3"/>
<line x1="509.24" y1="441.10" x2="509.24" y2="443.30" stroke="#333" stroke-width="0.6"/>
<text transform="translate(511.54,447.0) rotate(-90)" font-size="6.5" fill="#111" text-anchor="end" textLength="21.90" lengthAdjust="spacingAndGlyphs" stroke="#111" stroke-width="0.1">111-16-0</text>
<rect x="515.78" y="433.80" width="7.05" height="7.30" fill="#8eaed3"/>
<line x1="519.30" y1="441.10" x2="519.30" y2="443.30" stroke="#333" stroke-width="0.6"/>
<text transform="translate(521.60,447.0) rotate(-90)" font-size="6.5" fill="#111" text-anchor="end" textLength="24.90" lengthAdjust="spacingAndGlyphs" stroke="#111" stroke-width="0.1">454-29-5</text>
<rect x="525.85" y="336.80" width="7.05" height="104.30" fill="#4f6db4"/>
<line x1="529.38" y1="441.10" x2="529.38" y2="443.30" stroke="#333" stroke-width="0.6"/>
<text transform="translate(531.67,447.0) rotate(-90)" font-size="6.5" fill="#111" text-anchor="end" textLength="32.00" lengthAdjust="spacingAndGlyphs" stroke="#111" stroke-width="0.1">50924-49-7</text>
<rect x="535.92" y="370.10" width="7.05" height="71.00" fill="#4f6db4"/>
<line x1="539.45" y1="441.10" x2="539.45" y2="443.30" stroke="#333" stroke-width="0.6"/>
<text transform="translate(541.75,447.0) rotate(-90)" font-size="6.5" fill="#111" text-anchor="end" textLength="32.00" lengthAdjust="spacingAndGlyphs" stroke="#111" stroke-width="0.1">34369-07-8</text>
<rect x="545.99" y="427.20" width="7.05" height="13.90" fill="#cc98c6"/>
<line x1="549.51" y1="441.10" x2="549.51" y2="443.30" stroke="#333" stroke-width="0.6"/>
<text transform="translate(551.81,447.0) rotate(-90)" font-size="6.5" fill="#111" text-anchor="end" textLength="27.70" lengthAdjust="spacingAndGlyphs" stroke="#111" stroke-width="0.1">6893-26-1</text>
<rect x="556.06" y="401.00" width="7.05" height="40.10" fill="#cc98c6"/>
<line x1="559.59" y1="441.10" x2="559.59" y2="443.30" stroke="#333" stroke-width="0.6"/>
<text transform="translate(561.88,447.0) rotate(-90)" font-size="6.5" fill="#111" text-anchor="end" textLength="21.35" lengthAdjust="spacingAndGlyphs" stroke="#111" stroke-width="0.1">56-88-0</text>
<rect x="566.13" y="378.20" width="7.05" height="62.90" fill="#cc98c6"/>
<line x1="569.66" y1="441.10" x2="569.66" y2="443.30" stroke="#333" stroke-width="0.6"/>
<text transform="translate(571.96,447.0) rotate(-90)" font-size="6.5" fill="#111" text-anchor="end" textLength="20.60" lengthAdjust="spacingAndGlyphs" stroke="#111" stroke-width="0.1">56-12-2</text>
<rect x="576.20" y="358.90" width="7.05" height="82.20" fill="#cc98c6"/>
<line x1="579.73" y1="441.10" x2="579.73" y2="443.30" stroke="#333" stroke-width="0.6"/>
<text transform="translate(582.02,447.0) rotate(-90)" font-size="6.5" fill="#111" text-anchor="end" textLength="31.25" lengthAdjust="spacingAndGlyphs" stroke="#111" stroke-width="0.1">22059-21-8</text>
<rect x="586.27" y="353.70" width="7.05" height="87.40" fill="#cc98c6"/>
<line x1="589.79" y1="441.10" x2="589.79" y2="443.30" stroke="#333" stroke-width="0.6"/>
<text transform="translate(592.09,447.0) rotate(-90)" font-size="6.5" fill="#111" text-anchor="end" textLength="28.45" lengthAdjust="spacingAndGlyphs" stroke="#111" stroke-width="0.1">4408-78-0</text>
<rect x="596.34" y="372.10" width="7.05" height="69.00" fill="#7c4430"/>
<line x1="599.87" y1="441.10" x2="599.87" y2="443.30" stroke="#333" stroke-width="0.6"/>
<text transform="translate(602.16,447.0) rotate(-90)" font-size="6.5" fill="#111" text-anchor="end" textLength="31.25" lengthAdjust="spacingAndGlyphs" stroke="#111" stroke-width="0.1">38215-36-0</text>
<rect x="606.41" y="336.80" width="7.05" height="104.30" fill="#9d9f9d"/>
<line x1="609.94" y1="441.10" x2="609.94" y2="443.30" stroke="#333" stroke-width="0.6"/>
<text transform="translate(612.24,447.0) rotate(-90)" font-size="6.5" fill="#111" text-anchor="end" textLength="27.70" lengthAdjust="spacingAndGlyphs" stroke="#111" stroke-width="0.1">3902-71-4</text>
<rect x="616.48" y="336.80" width="7.05" height="104.30" fill="#9d9f9d"/>
<line x1="620.00" y1="441.10" x2="620.00" y2="443.30" stroke="#333" stroke-width="0.6"/>
<text transform="translate(622.30,447.0) rotate(-90)" font-size="6.5" fill="#111" text-anchor="end" textLength="21.35" lengthAdjust="spacingAndGlyphs" stroke="#111" stroke-width="0.1">50-89-5</text>
<rect x="626.55" y="336.80" width="7.05" height="104.30" fill="#9d9f9d"/>
<line x1="630.07" y1="441.10" x2="630.07" y2="443.30" stroke="#333" stroke-width="0.6"/>
<text transform="translate(632.37,447.0) rotate(-90)" font-size="6.5" fill="#111" text-anchor="end" textLength="28.45" lengthAdjust="spacingAndGlyphs" stroke="#111" stroke-width="0.1">2447-54-3</text>
<rect x="636.62" y="336.80" width="7.05" height="104.30" fill="#9d9f9d"/>
<line x1="640.14" y1="441.10" x2="640.14" y2="443.30" stroke="#333" stroke-width="0.6"/>
<text transform="translate(642.44,447.0) rotate(-90)" font-size="6.5" fill="#111" text-anchor="end" textLength="26.20" lengthAdjust="spacingAndGlyphs" stroke="#111" stroke-width="0.1">1463-10-1</text>
<rect x="646.69" y="336.80" width="7.05" height="104.30" fill="#9d9f9d"/>
<line x1="650.22" y1="441.10" x2="650.22" y2="443.30" stroke="#333" stroke-width="0.6"/>
<text transform="translate(652.51,447.0) rotate(-90)" font-size="6.5" fill="#111" text-anchor="end" textLength="21.35" lengthAdjust="spacingAndGlyphs" stroke="#111" stroke-width="0.1">83-88-5</text>
<rect x="656.76" y="336.80" width="7.05" height="104.30" fill="#9d9f9d"/>
<line x1="660.28" y1="441.10" x2="660.28" y2="443.30" stroke="#333" stroke-width="0.6"/>
<text transform="translate(662.58,447.0) rotate(-90)" font-size="6.5" fill="#111" text-anchor="end" textLength="24.15" lengthAdjust="spacingAndGlyphs" stroke="#111" stroke-width="0.1">519-23-3</text>
<rect x="666.83" y="336.80" width="7.05" height="104.30" fill="#9d9f9d"/>
<line x1="670.36" y1="441.10" x2="670.36" y2="443.30" stroke="#333" stroke-width="0.6"/>
<text transform="translate(672.65,447.0) rotate(-90)" font-size="6.5" fill="#111" text-anchor="end" textLength="30.50" lengthAdjust="spacingAndGlyphs" stroke="#111" stroke-width="0.1">51093-55-1</text>
<line x1="273" y1="338.6" x2="676" y2="338.6" stroke="#b4b4b4" stroke-width="0.6" stroke-dasharray="2.6,2.6"/>
<line x1="272.2" y1="441.10" x2="676.2" y2="441.10" stroke="#333" stroke-width="0.8"/>
<text transform="translate(266.9,463.4) rotate(-90)" font-size="6.3" fill="#222" text-anchor="middle" stroke="#222" stroke-width="0.1">CAS number</text>
<rect x="272.70" y="489.8" width="39.20" height="6.8" fill="#d5574c"/>
<rect x="313.20" y="489.8" width="49.08" height="6.8" fill="#ee8b48"/>
<rect x="363.82" y="489.8" width="38.76" height="6.8" fill="#e8bf48"/>
<rect x="404.31" y="489.8" width="28.49" height="6.8" fill="#67b896"/>
<rect x="434.68" y="489.8" width="88.79" height="6.8" fill="#8eaed3"/>
<rect x="525.80" y="489.8" width="17.83" height="6.8" fill="#4f6db4"/>
<rect x="546.05" y="489.8" width="47.95" height="6.8" fill="#cc98c6"/>
<rect x="596.67" y="489.8" width="7.41" height="6.8" fill="#7c4430"/>
<rect x="606.79" y="489.8" width="67.81" height="6.8" fill="#9d9f9d"/>
</svg></body></html>
